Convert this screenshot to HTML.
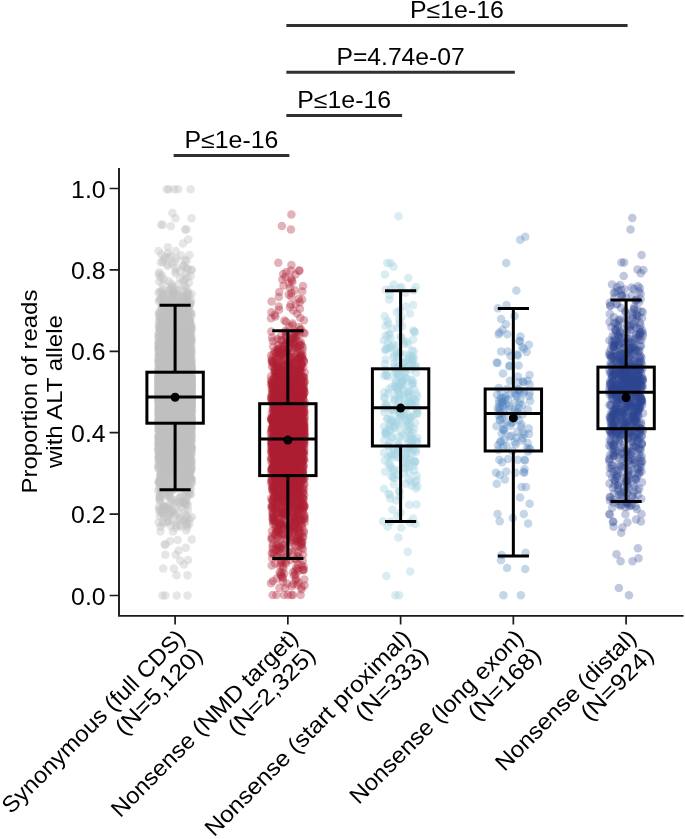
<!DOCTYPE html>
<html><head><meta charset="utf-8"><style>
html,body{margin:0;padding:0;background:#fff;}
svg{display:block;will-change:transform;}
text{font-family:"Liberation Sans",sans-serif;fill:#000;}

</style></head><body>
<svg width="685" height="839" viewBox="0 0 685 839">
<rect width="685" height="839" fill="#fff"/>
<g class="p"><g fill="#c0c0c0" fill-opacity="0.40"><circle cx="179.4" cy="475.0" r="4.25"/><circle cx="185.7" cy="407.3" r="4.25"/><circle cx="176.6" cy="413.2" r="4.25"/><circle cx="183.5" cy="366.2" r="4.25"/><circle cx="177.0" cy="417.3" r="4.25"/><circle cx="179.9" cy="387.0" r="4.25"/><circle cx="182.5" cy="392.0" r="4.25"/><circle cx="162.9" cy="464.4" r="4.25"/><circle cx="166.2" cy="402.2" r="4.25"/><circle cx="168.3" cy="391.9" r="4.25"/><circle cx="171.4" cy="351.5" r="4.25"/><circle cx="167.7" cy="408.0" r="4.25"/><circle cx="181.7" cy="386.7" r="4.25"/><circle cx="182.5" cy="420.9" r="4.25"/><circle cx="183.7" cy="391.6" r="4.25"/><circle cx="159.9" cy="366.6" r="4.25"/><circle cx="166.5" cy="478.0" r="4.25"/><circle cx="170.0" cy="411.6" r="4.25"/><circle cx="182.9" cy="375.7" r="4.25"/><circle cx="169.1" cy="385.0" r="4.25"/><circle cx="181.0" cy="385.8" r="4.25"/><circle cx="162.5" cy="456.6" r="4.25"/><circle cx="191.3" cy="383.6" r="4.25"/><circle cx="172.3" cy="371.3" r="4.25"/><circle cx="160.5" cy="379.3" r="4.25"/><circle cx="164.0" cy="395.1" r="4.25"/><circle cx="182.4" cy="353.8" r="4.25"/><circle cx="177.1" cy="419.2" r="4.25"/><circle cx="189.1" cy="345.1" r="4.25"/><circle cx="185.5" cy="394.4" r="4.25"/><circle cx="159.0" cy="362.5" r="4.25"/><circle cx="188.9" cy="430.7" r="4.25"/><circle cx="168.6" cy="394.4" r="4.25"/><circle cx="167.8" cy="336.4" r="4.25"/><circle cx="179.3" cy="451.4" r="4.25"/><circle cx="190.6" cy="406.9" r="4.25"/><circle cx="176.3" cy="357.7" r="4.25"/><circle cx="184.4" cy="383.8" r="4.25"/><circle cx="175.4" cy="424.5" r="4.25"/><circle cx="190.2" cy="404.2" r="4.25"/><circle cx="186.0" cy="464.6" r="4.25"/><circle cx="163.3" cy="335.7" r="4.25"/><circle cx="171.4" cy="422.4" r="4.25"/><circle cx="186.9" cy="383.8" r="4.25"/><circle cx="191.3" cy="393.7" r="4.25"/><circle cx="190.3" cy="362.6" r="4.25"/><circle cx="186.1" cy="404.2" r="4.25"/><circle cx="177.7" cy="465.1" r="4.25"/><circle cx="178.3" cy="396.6" r="4.25"/><circle cx="165.7" cy="398.2" r="4.25"/><circle cx="170.0" cy="439.3" r="4.25"/><circle cx="171.8" cy="368.6" r="4.25"/><circle cx="164.4" cy="393.8" r="4.25"/><circle cx="172.0" cy="384.6" r="4.25"/><circle cx="174.6" cy="436.9" r="4.25"/><circle cx="163.7" cy="372.9" r="4.25"/><circle cx="168.7" cy="427.8" r="4.25"/><circle cx="171.3" cy="339.2" r="4.25"/><circle cx="162.6" cy="425.4" r="4.25"/><circle cx="171.8" cy="380.6" r="4.25"/><circle cx="184.2" cy="432.3" r="4.25"/><circle cx="166.6" cy="439.7" r="4.25"/><circle cx="174.1" cy="421.9" r="4.25"/><circle cx="188.2" cy="239.6" r="4.25"/><circle cx="187.6" cy="358.9" r="4.25"/><circle cx="172.4" cy="263.5" r="4.25"/><circle cx="161.3" cy="320.9" r="4.25"/><circle cx="180.3" cy="374.0" r="4.25"/><circle cx="170.0" cy="388.7" r="4.25"/><circle cx="176.9" cy="389.1" r="4.25"/><circle cx="178.0" cy="340.4" r="4.25"/><circle cx="190.4" cy="405.1" r="4.25"/><circle cx="168.4" cy="328.8" r="4.25"/><circle cx="170.2" cy="387.8" r="4.25"/><circle cx="187.8" cy="457.2" r="4.25"/><circle cx="180.3" cy="431.3" r="4.25"/><circle cx="159.3" cy="418.8" r="4.25"/><circle cx="184.8" cy="397.0" r="4.25"/><circle cx="168.6" cy="439.4" r="4.25"/><circle cx="183.7" cy="445.8" r="4.25"/><circle cx="161.2" cy="408.8" r="4.25"/><circle cx="163.0" cy="403.2" r="4.25"/><circle cx="180.2" cy="414.6" r="4.25"/><circle cx="168.8" cy="391.9" r="4.25"/><circle cx="177.2" cy="408.0" r="4.25"/><circle cx="182.2" cy="374.5" r="4.25"/><circle cx="191.1" cy="446.4" r="4.25"/><circle cx="191.5" cy="381.8" r="4.25"/><circle cx="171.4" cy="311.8" r="4.25"/><circle cx="181.0" cy="420.7" r="4.25"/><circle cx="177.1" cy="412.7" r="4.25"/><circle cx="184.9" cy="459.7" r="4.25"/><circle cx="173.3" cy="430.5" r="4.25"/><circle cx="171.4" cy="355.3" r="4.25"/><circle cx="162.7" cy="385.3" r="4.25"/><circle cx="176.4" cy="465.8" r="4.25"/><circle cx="185.7" cy="409.0" r="4.25"/><circle cx="160.0" cy="386.9" r="4.25"/><circle cx="178.8" cy="439.1" r="4.25"/><circle cx="170.6" cy="420.7" r="4.25"/><circle cx="190.1" cy="351.8" r="4.25"/><circle cx="181.6" cy="410.1" r="4.25"/><circle cx="175.6" cy="429.7" r="4.25"/><circle cx="187.7" cy="398.6" r="4.25"/><circle cx="182.6" cy="436.3" r="4.25"/><circle cx="170.7" cy="309.6" r="4.25"/><circle cx="161.9" cy="309.4" r="4.25"/><circle cx="186.4" cy="386.4" r="4.25"/><circle cx="171.2" cy="442.4" r="4.25"/><circle cx="182.9" cy="341.0" r="4.25"/><circle cx="171.3" cy="436.0" r="4.25"/><circle cx="169.7" cy="370.7" r="4.25"/><circle cx="172.6" cy="416.9" r="4.25"/><circle cx="186.5" cy="422.2" r="4.25"/><circle cx="170.2" cy="513.2" r="4.25"/><circle cx="163.2" cy="455.9" r="4.25"/><circle cx="171.6" cy="401.6" r="4.25"/><circle cx="178.0" cy="357.2" r="4.25"/><circle cx="161.1" cy="377.3" r="4.25"/><circle cx="189.3" cy="426.1" r="4.25"/><circle cx="162.3" cy="424.6" r="4.25"/><circle cx="165.9" cy="387.1" r="4.25"/><circle cx="169.1" cy="396.9" r="4.25"/><circle cx="186.5" cy="432.4" r="4.25"/><circle cx="159.2" cy="415.2" r="4.25"/><circle cx="162.5" cy="382.5" r="4.25"/><circle cx="188.6" cy="399.3" r="4.25"/><circle cx="161.4" cy="428.2" r="4.25"/><circle cx="168.9" cy="378.4" r="4.25"/><circle cx="171.5" cy="379.1" r="4.25"/><circle cx="186.9" cy="403.8" r="4.25"/><circle cx="175.3" cy="435.4" r="4.25"/><circle cx="175.1" cy="365.0" r="4.25"/><circle cx="163.9" cy="393.9" r="4.25"/><circle cx="179.3" cy="424.1" r="4.25"/><circle cx="158.9" cy="392.9" r="4.25"/><circle cx="174.9" cy="372.2" r="4.25"/><circle cx="189.6" cy="364.9" r="4.25"/><circle cx="188.3" cy="366.4" r="4.25"/><circle cx="165.9" cy="335.6" r="4.25"/><circle cx="159.8" cy="485.3" r="4.25"/><circle cx="184.8" cy="460.4" r="4.25"/><circle cx="181.2" cy="401.5" r="4.25"/><circle cx="170.9" cy="417.8" r="4.25"/><circle cx="165.2" cy="396.1" r="4.25"/><circle cx="175.4" cy="408.4" r="4.25"/><circle cx="185.1" cy="395.0" r="4.25"/><circle cx="188.4" cy="417.9" r="4.25"/><circle cx="173.2" cy="372.5" r="4.25"/><circle cx="166.7" cy="291.1" r="4.25"/><circle cx="162.0" cy="306.7" r="4.25"/><circle cx="186.8" cy="384.9" r="4.25"/><circle cx="169.6" cy="436.1" r="4.25"/><circle cx="163.6" cy="390.9" r="4.25"/><circle cx="173.0" cy="416.1" r="4.25"/><circle cx="184.5" cy="413.3" r="4.25"/><circle cx="177.0" cy="418.8" r="4.25"/><circle cx="160.1" cy="386.7" r="4.25"/><circle cx="190.4" cy="463.4" r="4.25"/><circle cx="164.3" cy="312.1" r="4.25"/><circle cx="191.8" cy="388.0" r="4.25"/><circle cx="167.5" cy="465.4" r="4.25"/><circle cx="180.2" cy="359.9" r="4.25"/><circle cx="158.8" cy="345.8" r="4.25"/><circle cx="172.0" cy="415.7" r="4.25"/><circle cx="165.0" cy="479.4" r="4.25"/><circle cx="158.6" cy="337.6" r="4.25"/><circle cx="165.1" cy="257.3" r="4.25"/><circle cx="168.0" cy="419.1" r="4.25"/><circle cx="161.5" cy="463.3" r="4.25"/><circle cx="170.6" cy="457.7" r="4.25"/><circle cx="167.9" cy="421.8" r="4.25"/><circle cx="190.6" cy="478.0" r="4.25"/><circle cx="190.6" cy="447.9" r="4.25"/><circle cx="173.6" cy="377.6" r="4.25"/><circle cx="183.2" cy="392.4" r="4.25"/><circle cx="174.4" cy="378.9" r="4.25"/><circle cx="166.7" cy="383.7" r="4.25"/><circle cx="172.9" cy="388.5" r="4.25"/><circle cx="170.0" cy="332.0" r="4.25"/><circle cx="167.9" cy="402.6" r="4.25"/><circle cx="167.1" cy="387.4" r="4.25"/><circle cx="162.2" cy="317.9" r="4.25"/><circle cx="165.9" cy="465.9" r="4.25"/><circle cx="173.6" cy="365.9" r="4.25"/><circle cx="170.2" cy="429.5" r="4.25"/><circle cx="162.0" cy="321.1" r="4.25"/><circle cx="181.9" cy="395.8" r="4.25"/><circle cx="169.6" cy="382.4" r="4.25"/><circle cx="176.4" cy="368.4" r="4.25"/><circle cx="177.0" cy="359.5" r="4.25"/><circle cx="190.1" cy="376.2" r="4.25"/><circle cx="169.8" cy="426.5" r="4.25"/><circle cx="158.6" cy="369.5" r="4.25"/><circle cx="173.6" cy="352.3" r="4.25"/><circle cx="161.6" cy="367.4" r="4.25"/><circle cx="171.6" cy="355.9" r="4.25"/><circle cx="171.8" cy="388.8" r="4.25"/><circle cx="162.3" cy="392.3" r="4.25"/><circle cx="162.7" cy="317.5" r="4.25"/><circle cx="180.8" cy="466.4" r="4.25"/><circle cx="158.5" cy="394.7" r="4.25"/><circle cx="188.9" cy="360.5" r="4.25"/><circle cx="189.1" cy="357.8" r="4.25"/><circle cx="180.5" cy="368.6" r="4.25"/><circle cx="180.1" cy="406.9" r="4.25"/><circle cx="171.5" cy="423.2" r="4.25"/><circle cx="162.9" cy="378.8" r="4.25"/><circle cx="177.3" cy="403.4" r="4.25"/><circle cx="172.6" cy="351.3" r="4.25"/><circle cx="167.3" cy="369.4" r="4.25"/><circle cx="161.1" cy="367.5" r="4.25"/><circle cx="160.7" cy="477.2" r="4.25"/><circle cx="186.4" cy="424.7" r="4.25"/><circle cx="181.6" cy="419.5" r="4.25"/><circle cx="161.3" cy="391.2" r="4.25"/><circle cx="181.9" cy="365.2" r="4.25"/><circle cx="184.1" cy="441.4" r="4.25"/><circle cx="187.6" cy="378.0" r="4.25"/><circle cx="178.7" cy="350.5" r="4.25"/><circle cx="171.4" cy="413.7" r="4.25"/><circle cx="160.7" cy="526.7" r="4.25"/><circle cx="189.0" cy="317.0" r="4.25"/><circle cx="165.0" cy="401.8" r="4.25"/><circle cx="185.4" cy="394.1" r="4.25"/><circle cx="182.6" cy="443.3" r="4.25"/><circle cx="188.8" cy="493.9" r="4.25"/><circle cx="163.0" cy="341.0" r="4.25"/><circle cx="174.0" cy="467.3" r="4.25"/><circle cx="159.9" cy="401.2" r="4.25"/><circle cx="170.5" cy="347.0" r="4.25"/><circle cx="181.7" cy="408.7" r="4.25"/><circle cx="191.5" cy="401.1" r="4.25"/><circle cx="181.5" cy="481.9" r="4.25"/><circle cx="180.2" cy="414.8" r="4.25"/><circle cx="178.2" cy="453.8" r="4.25"/><circle cx="189.8" cy="380.5" r="4.25"/><circle cx="176.9" cy="428.8" r="4.25"/><circle cx="185.0" cy="386.0" r="4.25"/><circle cx="174.8" cy="372.6" r="4.25"/><circle cx="177.4" cy="363.9" r="4.25"/><circle cx="183.5" cy="329.1" r="4.25"/><circle cx="168.9" cy="458.1" r="4.25"/><circle cx="166.3" cy="450.5" r="4.25"/><circle cx="177.4" cy="365.9" r="4.25"/><circle cx="163.1" cy="403.6" r="4.25"/><circle cx="164.6" cy="460.9" r="4.25"/><circle cx="175.9" cy="403.8" r="4.25"/><circle cx="162.8" cy="395.2" r="4.25"/><circle cx="164.3" cy="426.1" r="4.25"/><circle cx="180.0" cy="381.6" r="4.25"/><circle cx="160.5" cy="405.1" r="4.25"/><circle cx="184.1" cy="399.2" r="4.25"/><circle cx="183.9" cy="564.4" r="4.25"/><circle cx="166.5" cy="355.8" r="4.25"/><circle cx="182.2" cy="437.7" r="4.25"/><circle cx="186.1" cy="393.7" r="4.25"/><circle cx="182.6" cy="348.8" r="4.25"/><circle cx="174.9" cy="415.9" r="4.25"/><circle cx="182.1" cy="488.0" r="4.25"/><circle cx="164.7" cy="415.3" r="4.25"/><circle cx="164.2" cy="423.5" r="4.25"/><circle cx="184.6" cy="367.2" r="4.25"/><circle cx="159.9" cy="384.7" r="4.25"/><circle cx="178.7" cy="373.5" r="4.25"/><circle cx="163.3" cy="350.0" r="4.25"/><circle cx="185.4" cy="462.0" r="4.25"/><circle cx="190.2" cy="416.7" r="4.25"/><circle cx="159.8" cy="383.3" r="4.25"/><circle cx="188.9" cy="450.7" r="4.25"/><circle cx="169.3" cy="495.2" r="4.25"/><circle cx="189.6" cy="375.0" r="4.25"/><circle cx="186.3" cy="446.9" r="4.25"/><circle cx="180.5" cy="389.0" r="4.25"/><circle cx="173.8" cy="372.6" r="4.25"/><circle cx="159.4" cy="395.0" r="4.25"/><circle cx="184.0" cy="342.8" r="4.25"/><circle cx="170.8" cy="376.1" r="4.25"/><circle cx="165.2" cy="487.1" r="4.25"/><circle cx="170.6" cy="256.1" r="4.25"/><circle cx="189.3" cy="445.4" r="4.25"/><circle cx="164.2" cy="387.2" r="4.25"/><circle cx="160.4" cy="465.2" r="4.25"/><circle cx="168.5" cy="395.7" r="4.25"/><circle cx="164.9" cy="401.5" r="4.25"/><circle cx="187.8" cy="414.0" r="4.25"/><circle cx="176.1" cy="395.4" r="4.25"/><circle cx="169.5" cy="461.5" r="4.25"/><circle cx="183.5" cy="412.7" r="4.25"/><circle cx="180.8" cy="415.4" r="4.25"/><circle cx="175.2" cy="450.2" r="4.25"/><circle cx="190.4" cy="372.0" r="4.25"/><circle cx="169.3" cy="407.3" r="4.25"/><circle cx="187.5" cy="370.4" r="4.25"/><circle cx="177.8" cy="423.7" r="4.25"/><circle cx="189.5" cy="384.1" r="4.25"/><circle cx="190.9" cy="335.7" r="4.25"/><circle cx="167.4" cy="266.0" r="4.25"/><circle cx="161.3" cy="391.1" r="4.25"/><circle cx="185.1" cy="386.5" r="4.25"/><circle cx="180.1" cy="442.6" r="4.25"/><circle cx="184.3" cy="383.2" r="4.25"/><circle cx="190.4" cy="422.1" r="4.25"/><circle cx="182.3" cy="393.8" r="4.25"/><circle cx="189.8" cy="432.9" r="4.25"/><circle cx="167.4" cy="396.8" r="4.25"/><circle cx="168.7" cy="388.7" r="4.25"/><circle cx="159.8" cy="407.4" r="4.25"/><circle cx="162.4" cy="289.6" r="4.25"/><circle cx="173.0" cy="391.6" r="4.25"/><circle cx="158.5" cy="415.8" r="4.25"/><circle cx="180.9" cy="463.9" r="4.25"/><circle cx="164.1" cy="373.7" r="4.25"/><circle cx="191.2" cy="388.9" r="4.25"/><circle cx="168.6" cy="478.2" r="4.25"/><circle cx="190.4" cy="480.0" r="4.25"/><circle cx="164.8" cy="399.8" r="4.25"/><circle cx="182.9" cy="418.7" r="4.25"/><circle cx="189.7" cy="413.1" r="4.25"/><circle cx="160.2" cy="395.7" r="4.25"/><circle cx="188.2" cy="399.6" r="4.25"/><circle cx="182.4" cy="344.2" r="4.25"/><circle cx="191.0" cy="414.9" r="4.25"/><circle cx="178.0" cy="415.4" r="4.25"/><circle cx="184.0" cy="438.5" r="4.25"/><circle cx="163.9" cy="418.1" r="4.25"/><circle cx="185.1" cy="415.8" r="4.25"/><circle cx="183.5" cy="265.2" r="4.25"/><circle cx="189.7" cy="420.5" r="4.25"/><circle cx="188.6" cy="377.6" r="4.25"/><circle cx="173.6" cy="394.1" r="4.25"/><circle cx="168.1" cy="443.8" r="4.25"/><circle cx="190.1" cy="409.5" r="4.25"/><circle cx="172.5" cy="293.3" r="4.25"/><circle cx="189.2" cy="386.1" r="4.25"/><circle cx="168.3" cy="357.9" r="4.25"/><circle cx="163.9" cy="310.8" r="4.25"/><circle cx="172.4" cy="387.5" r="4.25"/><circle cx="167.1" cy="363.3" r="4.25"/><circle cx="174.3" cy="312.8" r="4.25"/><circle cx="162.5" cy="448.7" r="4.25"/><circle cx="173.3" cy="406.4" r="4.25"/><circle cx="181.2" cy="415.6" r="4.25"/><circle cx="188.8" cy="451.6" r="4.25"/><circle cx="181.3" cy="334.4" r="4.25"/><circle cx="187.4" cy="388.0" r="4.25"/><circle cx="158.5" cy="426.8" r="4.25"/><circle cx="166.7" cy="348.3" r="4.25"/><circle cx="164.3" cy="408.6" r="4.25"/><circle cx="189.0" cy="399.9" r="4.25"/><circle cx="189.4" cy="404.6" r="4.25"/><circle cx="189.1" cy="350.7" r="4.25"/><circle cx="190.3" cy="304.5" r="4.25"/><circle cx="160.7" cy="483.6" r="4.25"/><circle cx="175.5" cy="309.1" r="4.25"/><circle cx="189.7" cy="382.2" r="4.25"/><circle cx="177.2" cy="413.5" r="4.25"/><circle cx="176.5" cy="379.5" r="4.25"/><circle cx="185.5" cy="408.1" r="4.25"/><circle cx="180.5" cy="342.9" r="4.25"/><circle cx="181.3" cy="360.3" r="4.25"/><circle cx="183.8" cy="386.6" r="4.25"/><circle cx="162.3" cy="423.7" r="4.25"/><circle cx="188.0" cy="414.0" r="4.25"/><circle cx="164.4" cy="458.8" r="4.25"/><circle cx="182.5" cy="418.8" r="4.25"/><circle cx="159.8" cy="396.4" r="4.25"/><circle cx="165.2" cy="401.4" r="4.25"/><circle cx="175.3" cy="448.0" r="4.25"/><circle cx="167.2" cy="340.3" r="4.25"/><circle cx="168.7" cy="384.3" r="4.25"/><circle cx="165.3" cy="424.8" r="4.25"/><circle cx="159.7" cy="411.8" r="4.25"/><circle cx="171.5" cy="423.0" r="4.25"/><circle cx="162.6" cy="384.4" r="4.25"/><circle cx="160.6" cy="374.7" r="4.25"/><circle cx="167.5" cy="407.0" r="4.25"/><circle cx="165.2" cy="408.5" r="4.25"/><circle cx="158.7" cy="383.8" r="4.25"/><circle cx="159.2" cy="421.3" r="4.25"/><circle cx="177.3" cy="313.7" r="4.25"/><circle cx="181.0" cy="367.0" r="4.25"/><circle cx="159.9" cy="402.6" r="4.25"/><circle cx="175.4" cy="400.4" r="4.25"/><circle cx="169.0" cy="389.6" r="4.25"/><circle cx="177.5" cy="405.7" r="4.25"/><circle cx="191.3" cy="399.7" r="4.25"/><circle cx="168.1" cy="517.5" r="4.25"/><circle cx="181.6" cy="365.2" r="4.25"/><circle cx="175.9" cy="392.7" r="4.25"/><circle cx="190.2" cy="358.8" r="4.25"/><circle cx="164.5" cy="405.4" r="4.25"/><circle cx="182.1" cy="397.8" r="4.25"/><circle cx="187.5" cy="347.6" r="4.25"/><circle cx="186.9" cy="432.0" r="4.25"/><circle cx="175.5" cy="396.5" r="4.25"/><circle cx="165.5" cy="402.8" r="4.25"/><circle cx="167.8" cy="443.6" r="4.25"/><circle cx="164.5" cy="438.7" r="4.25"/><circle cx="159.1" cy="344.0" r="4.25"/><circle cx="162.8" cy="423.1" r="4.25"/><circle cx="187.1" cy="324.8" r="4.25"/><circle cx="181.1" cy="409.1" r="4.25"/><circle cx="167.2" cy="396.6" r="4.25"/><circle cx="173.8" cy="331.7" r="4.25"/><circle cx="168.7" cy="385.2" r="4.25"/><circle cx="176.3" cy="399.8" r="4.25"/><circle cx="177.3" cy="357.0" r="4.25"/><circle cx="164.5" cy="360.3" r="4.25"/><circle cx="189.5" cy="301.8" r="4.25"/><circle cx="172.6" cy="381.2" r="4.25"/><circle cx="178.2" cy="499.3" r="4.25"/><circle cx="174.9" cy="389.9" r="4.25"/><circle cx="158.6" cy="251.1" r="4.25"/><circle cx="172.0" cy="510.0" r="4.25"/><circle cx="177.8" cy="331.7" r="4.25"/><circle cx="163.5" cy="383.2" r="4.25"/><circle cx="163.8" cy="403.8" r="4.25"/><circle cx="188.5" cy="486.1" r="4.25"/><circle cx="188.8" cy="415.0" r="4.25"/><circle cx="170.1" cy="354.8" r="4.25"/><circle cx="173.0" cy="417.5" r="4.25"/><circle cx="159.4" cy="500.1" r="4.25"/><circle cx="182.1" cy="413.7" r="4.25"/><circle cx="162.6" cy="435.3" r="4.25"/><circle cx="163.8" cy="371.3" r="4.25"/><circle cx="185.1" cy="354.3" r="4.25"/><circle cx="177.9" cy="389.8" r="4.25"/><circle cx="187.5" cy="595.4" r="4.25"/><circle cx="160.4" cy="500.8" r="4.25"/><circle cx="185.8" cy="383.9" r="4.25"/><circle cx="178.8" cy="395.5" r="4.25"/><circle cx="162.3" cy="387.7" r="4.25"/><circle cx="178.9" cy="390.9" r="4.25"/><circle cx="190.8" cy="381.6" r="4.25"/><circle cx="189.4" cy="523.9" r="4.25"/><circle cx="164.7" cy="380.9" r="4.25"/><circle cx="179.6" cy="480.7" r="4.25"/><circle cx="162.0" cy="375.3" r="4.25"/><circle cx="179.6" cy="428.1" r="4.25"/><circle cx="191.3" cy="390.4" r="4.25"/><circle cx="177.7" cy="367.1" r="4.25"/><circle cx="188.2" cy="344.0" r="4.25"/><circle cx="171.8" cy="362.0" r="4.25"/><circle cx="159.2" cy="396.6" r="4.25"/><circle cx="177.5" cy="457.4" r="4.25"/><circle cx="160.0" cy="351.0" r="4.25"/><circle cx="159.8" cy="428.3" r="4.25"/><circle cx="187.0" cy="427.6" r="4.25"/><circle cx="185.8" cy="321.6" r="4.25"/><circle cx="164.4" cy="363.4" r="4.25"/><circle cx="188.8" cy="387.1" r="4.25"/><circle cx="176.1" cy="417.4" r="4.25"/><circle cx="190.5" cy="364.9" r="4.25"/><circle cx="172.9" cy="429.1" r="4.25"/><circle cx="182.9" cy="456.4" r="4.25"/><circle cx="185.3" cy="413.6" r="4.25"/><circle cx="177.9" cy="379.4" r="4.25"/><circle cx="158.7" cy="421.9" r="4.25"/><circle cx="160.8" cy="389.0" r="4.25"/><circle cx="161.9" cy="383.6" r="4.25"/><circle cx="177.6" cy="400.5" r="4.25"/><circle cx="177.7" cy="308.5" r="4.25"/><circle cx="172.8" cy="409.8" r="4.25"/><circle cx="168.0" cy="347.8" r="4.25"/><circle cx="170.0" cy="409.5" r="4.25"/><circle cx="163.7" cy="386.8" r="4.25"/><circle cx="158.3" cy="393.3" r="4.25"/><circle cx="170.3" cy="478.9" r="4.25"/><circle cx="182.9" cy="472.8" r="4.25"/><circle cx="159.7" cy="373.7" r="4.25"/><circle cx="189.1" cy="316.9" r="4.25"/><circle cx="190.0" cy="382.4" r="4.25"/><circle cx="161.1" cy="402.7" r="4.25"/><circle cx="165.8" cy="374.6" r="4.25"/><circle cx="186.7" cy="408.9" r="4.25"/><circle cx="179.8" cy="370.1" r="4.25"/><circle cx="171.9" cy="364.6" r="4.25"/><circle cx="166.8" cy="189.3" r="4.25"/><circle cx="170.4" cy="395.0" r="4.25"/><circle cx="185.7" cy="387.7" r="4.25"/><circle cx="180.4" cy="431.7" r="4.25"/><circle cx="190.2" cy="417.3" r="4.25"/><circle cx="173.9" cy="486.4" r="4.25"/><circle cx="184.0" cy="389.4" r="4.25"/><circle cx="174.3" cy="393.0" r="4.25"/><circle cx="163.8" cy="523.6" r="4.25"/><circle cx="175.5" cy="421.3" r="4.25"/><circle cx="174.6" cy="393.5" r="4.25"/><circle cx="169.6" cy="492.8" r="4.25"/><circle cx="165.9" cy="453.0" r="4.25"/><circle cx="168.4" cy="361.6" r="4.25"/><circle cx="187.5" cy="459.0" r="4.25"/><circle cx="160.9" cy="381.9" r="4.25"/><circle cx="174.2" cy="383.3" r="4.25"/><circle cx="175.2" cy="384.4" r="4.25"/><circle cx="176.0" cy="364.8" r="4.25"/><circle cx="183.7" cy="422.8" r="4.25"/><circle cx="183.6" cy="443.7" r="4.25"/><circle cx="166.7" cy="433.0" r="4.25"/><circle cx="188.8" cy="433.6" r="4.25"/><circle cx="160.8" cy="419.7" r="4.25"/><circle cx="186.5" cy="423.9" r="4.25"/><circle cx="162.5" cy="400.6" r="4.25"/><circle cx="161.1" cy="491.7" r="4.25"/><circle cx="162.2" cy="454.3" r="4.25"/><circle cx="164.9" cy="377.7" r="4.25"/><circle cx="185.2" cy="420.2" r="4.25"/><circle cx="178.4" cy="391.7" r="4.25"/><circle cx="165.3" cy="416.0" r="4.25"/><circle cx="183.6" cy="411.5" r="4.25"/><circle cx="177.3" cy="417.6" r="4.25"/><circle cx="165.2" cy="358.2" r="4.25"/><circle cx="188.8" cy="390.0" r="4.25"/><circle cx="163.6" cy="445.8" r="4.25"/><circle cx="189.1" cy="426.0" r="4.25"/><circle cx="178.3" cy="364.5" r="4.25"/><circle cx="173.3" cy="331.0" r="4.25"/><circle cx="168.2" cy="414.8" r="4.25"/><circle cx="167.3" cy="472.3" r="4.25"/><circle cx="182.1" cy="409.6" r="4.25"/><circle cx="180.0" cy="352.1" r="4.25"/><circle cx="165.5" cy="402.2" r="4.25"/><circle cx="174.9" cy="377.2" r="4.25"/><circle cx="180.9" cy="385.3" r="4.25"/><circle cx="178.8" cy="441.0" r="4.25"/><circle cx="159.1" cy="455.8" r="4.25"/><circle cx="175.5" cy="440.6" r="4.25"/><circle cx="179.0" cy="435.8" r="4.25"/><circle cx="174.3" cy="343.6" r="4.25"/><circle cx="173.3" cy="381.7" r="4.25"/><circle cx="163.2" cy="369.0" r="4.25"/><circle cx="176.3" cy="525.3" r="4.25"/><circle cx="176.1" cy="398.3" r="4.25"/><circle cx="189.1" cy="335.3" r="4.25"/><circle cx="168.9" cy="399.1" r="4.25"/><circle cx="162.9" cy="382.0" r="4.25"/><circle cx="168.2" cy="430.9" r="4.25"/><circle cx="178.3" cy="422.7" r="4.25"/><circle cx="179.0" cy="422.2" r="4.25"/><circle cx="171.0" cy="427.5" r="4.25"/><circle cx="186.4" cy="385.9" r="4.25"/><circle cx="188.8" cy="374.9" r="4.25"/><circle cx="176.5" cy="382.1" r="4.25"/><circle cx="161.4" cy="428.0" r="4.25"/><circle cx="177.0" cy="460.7" r="4.25"/><circle cx="176.6" cy="415.3" r="4.25"/><circle cx="171.1" cy="386.0" r="4.25"/><circle cx="165.8" cy="433.9" r="4.25"/><circle cx="177.4" cy="380.3" r="4.25"/><circle cx="187.8" cy="403.1" r="4.25"/><circle cx="181.6" cy="315.5" r="4.25"/><circle cx="191.0" cy="412.9" r="4.25"/><circle cx="167.6" cy="454.7" r="4.25"/><circle cx="162.2" cy="473.9" r="4.25"/><circle cx="161.9" cy="439.6" r="4.25"/><circle cx="162.9" cy="374.7" r="4.25"/><circle cx="185.0" cy="459.9" r="4.25"/><circle cx="158.8" cy="381.2" r="4.25"/><circle cx="172.4" cy="382.7" r="4.25"/><circle cx="165.4" cy="452.2" r="4.25"/><circle cx="161.8" cy="363.5" r="4.25"/><circle cx="159.6" cy="394.9" r="4.25"/><circle cx="178.0" cy="373.3" r="4.25"/><circle cx="170.2" cy="376.1" r="4.25"/><circle cx="170.7" cy="398.5" r="4.25"/><circle cx="185.9" cy="484.6" r="4.25"/><circle cx="165.8" cy="413.4" r="4.25"/><circle cx="189.4" cy="415.3" r="4.25"/><circle cx="162.2" cy="440.1" r="4.25"/><circle cx="186.1" cy="377.9" r="4.25"/><circle cx="189.5" cy="432.8" r="4.25"/><circle cx="182.4" cy="350.9" r="4.25"/><circle cx="177.5" cy="364.0" r="4.25"/><circle cx="185.0" cy="387.9" r="4.25"/><circle cx="188.1" cy="332.4" r="4.25"/><circle cx="187.1" cy="334.8" r="4.25"/><circle cx="171.8" cy="464.9" r="4.25"/><circle cx="183.6" cy="395.7" r="4.25"/><circle cx="183.0" cy="381.5" r="4.25"/><circle cx="167.9" cy="416.9" r="4.25"/><circle cx="190.2" cy="385.4" r="4.25"/><circle cx="159.3" cy="364.6" r="4.25"/><circle cx="158.6" cy="378.9" r="4.25"/><circle cx="179.4" cy="385.7" r="4.25"/><circle cx="171.3" cy="430.8" r="4.25"/><circle cx="173.0" cy="380.1" r="4.25"/><circle cx="181.6" cy="316.2" r="4.25"/><circle cx="168.0" cy="382.1" r="4.25"/><circle cx="188.1" cy="411.0" r="4.25"/><circle cx="172.8" cy="414.8" r="4.25"/><circle cx="166.9" cy="414.1" r="4.25"/><circle cx="181.8" cy="426.9" r="4.25"/><circle cx="179.6" cy="413.8" r="4.25"/><circle cx="190.3" cy="387.3" r="4.25"/><circle cx="171.3" cy="410.0" r="4.25"/><circle cx="172.5" cy="353.4" r="4.25"/><circle cx="191.1" cy="411.3" r="4.25"/><circle cx="180.1" cy="474.1" r="4.25"/><circle cx="184.1" cy="363.9" r="4.25"/><circle cx="179.2" cy="364.6" r="4.25"/><circle cx="161.7" cy="429.0" r="4.25"/><circle cx="186.8" cy="469.1" r="4.25"/><circle cx="183.7" cy="481.0" r="4.25"/><circle cx="175.5" cy="361.9" r="4.25"/><circle cx="166.7" cy="365.0" r="4.25"/><circle cx="181.0" cy="390.4" r="4.25"/><circle cx="186.4" cy="347.9" r="4.25"/><circle cx="173.0" cy="389.6" r="4.25"/><circle cx="180.5" cy="443.0" r="4.25"/><circle cx="161.8" cy="405.2" r="4.25"/><circle cx="185.7" cy="334.5" r="4.25"/><circle cx="189.4" cy="358.9" r="4.25"/><circle cx="180.6" cy="455.6" r="4.25"/><circle cx="178.9" cy="396.2" r="4.25"/><circle cx="170.8" cy="450.3" r="4.25"/><circle cx="176.0" cy="415.2" r="4.25"/><circle cx="172.2" cy="412.1" r="4.25"/><circle cx="173.8" cy="439.8" r="4.25"/><circle cx="191.5" cy="384.8" r="4.25"/><circle cx="190.1" cy="320.0" r="4.25"/><circle cx="180.6" cy="420.2" r="4.25"/><circle cx="184.2" cy="356.2" r="4.25"/><circle cx="174.4" cy="389.2" r="4.25"/><circle cx="185.6" cy="464.1" r="4.25"/><circle cx="177.3" cy="362.4" r="4.25"/><circle cx="185.8" cy="404.0" r="4.25"/><circle cx="191.6" cy="371.3" r="4.25"/><circle cx="191.5" cy="386.7" r="4.25"/><circle cx="170.7" cy="352.4" r="4.25"/><circle cx="175.9" cy="268.2" r="4.25"/><circle cx="179.3" cy="308.9" r="4.25"/><circle cx="159.3" cy="408.0" r="4.25"/><circle cx="164.0" cy="389.7" r="4.25"/><circle cx="167.3" cy="347.3" r="4.25"/><circle cx="173.6" cy="451.0" r="4.25"/><circle cx="161.4" cy="475.3" r="4.25"/><circle cx="169.1" cy="406.5" r="4.25"/><circle cx="174.0" cy="377.9" r="4.25"/><circle cx="172.2" cy="384.3" r="4.25"/><circle cx="182.9" cy="435.1" r="4.25"/><circle cx="175.2" cy="390.6" r="4.25"/><circle cx="167.1" cy="334.3" r="4.25"/><circle cx="167.9" cy="430.2" r="4.25"/><circle cx="182.6" cy="426.6" r="4.25"/><circle cx="170.3" cy="393.6" r="4.25"/><circle cx="163.8" cy="383.0" r="4.25"/><circle cx="190.7" cy="426.5" r="4.25"/><circle cx="175.7" cy="361.9" r="4.25"/><circle cx="172.1" cy="438.5" r="4.25"/><circle cx="161.9" cy="331.2" r="4.25"/><circle cx="175.1" cy="366.9" r="4.25"/><circle cx="166.6" cy="450.6" r="4.25"/><circle cx="162.8" cy="376.3" r="4.25"/><circle cx="176.7" cy="375.7" r="4.25"/><circle cx="160.9" cy="402.0" r="4.25"/><circle cx="169.2" cy="389.9" r="4.25"/><circle cx="189.0" cy="347.5" r="4.25"/><circle cx="183.9" cy="471.7" r="4.25"/><circle cx="158.8" cy="429.6" r="4.25"/><circle cx="163.6" cy="380.3" r="4.25"/><circle cx="165.6" cy="319.8" r="4.25"/><circle cx="177.1" cy="375.1" r="4.25"/><circle cx="163.4" cy="461.7" r="4.25"/><circle cx="188.8" cy="384.9" r="4.25"/><circle cx="171.0" cy="401.4" r="4.25"/><circle cx="178.1" cy="451.2" r="4.25"/><circle cx="158.7" cy="369.0" r="4.25"/><circle cx="165.5" cy="360.4" r="4.25"/><circle cx="165.2" cy="434.2" r="4.25"/><circle cx="165.1" cy="444.0" r="4.25"/><circle cx="176.5" cy="354.9" r="4.25"/><circle cx="181.4" cy="341.7" r="4.25"/><circle cx="188.0" cy="363.8" r="4.25"/><circle cx="178.8" cy="434.4" r="4.25"/><circle cx="168.7" cy="411.2" r="4.25"/><circle cx="163.5" cy="358.3" r="4.25"/><circle cx="186.8" cy="472.6" r="4.25"/><circle cx="179.1" cy="423.3" r="4.25"/><circle cx="190.8" cy="469.6" r="4.25"/><circle cx="189.2" cy="449.4" r="4.25"/><circle cx="178.7" cy="373.4" r="4.25"/><circle cx="168.6" cy="459.0" r="4.25"/><circle cx="185.6" cy="426.7" r="4.25"/><circle cx="159.4" cy="406.1" r="4.25"/><circle cx="186.2" cy="415.0" r="4.25"/><circle cx="177.8" cy="352.2" r="4.25"/><circle cx="165.2" cy="437.6" r="4.25"/><circle cx="169.7" cy="456.2" r="4.25"/><circle cx="168.1" cy="369.7" r="4.25"/><circle cx="184.1" cy="447.1" r="4.25"/><circle cx="180.0" cy="456.5" r="4.25"/><circle cx="175.6" cy="390.3" r="4.25"/><circle cx="182.4" cy="414.2" r="4.25"/><circle cx="178.3" cy="384.6" r="4.25"/><circle cx="161.3" cy="382.6" r="4.25"/><circle cx="176.1" cy="407.9" r="4.25"/><circle cx="163.6" cy="511.9" r="4.25"/><circle cx="178.2" cy="377.3" r="4.25"/><circle cx="172.1" cy="453.1" r="4.25"/><circle cx="183.9" cy="414.0" r="4.25"/><circle cx="187.0" cy="388.6" r="4.25"/><circle cx="171.4" cy="379.0" r="4.25"/><circle cx="161.2" cy="367.7" r="4.25"/><circle cx="170.5" cy="357.5" r="4.25"/><circle cx="168.7" cy="438.3" r="4.25"/><circle cx="184.2" cy="402.7" r="4.25"/><circle cx="181.8" cy="399.2" r="4.25"/><circle cx="173.7" cy="420.1" r="4.25"/><circle cx="180.8" cy="417.6" r="4.25"/><circle cx="185.3" cy="468.7" r="4.25"/><circle cx="162.0" cy="349.3" r="4.25"/><circle cx="174.2" cy="446.1" r="4.25"/><circle cx="188.3" cy="368.5" r="4.25"/><circle cx="182.1" cy="400.7" r="4.25"/><circle cx="181.4" cy="425.0" r="4.25"/><circle cx="171.8" cy="395.1" r="4.25"/><circle cx="169.8" cy="378.9" r="4.25"/><circle cx="172.2" cy="357.3" r="4.25"/><circle cx="185.8" cy="364.1" r="4.25"/><circle cx="171.4" cy="388.3" r="4.25"/><circle cx="189.5" cy="412.8" r="4.25"/><circle cx="162.0" cy="407.2" r="4.25"/><circle cx="165.6" cy="419.7" r="4.25"/><circle cx="173.1" cy="429.2" r="4.25"/><circle cx="172.0" cy="423.3" r="4.25"/><circle cx="166.5" cy="470.3" r="4.25"/><circle cx="166.7" cy="340.0" r="4.25"/><circle cx="166.3" cy="397.6" r="4.25"/><circle cx="184.0" cy="407.2" r="4.25"/><circle cx="171.1" cy="299.2" r="4.25"/><circle cx="188.9" cy="381.1" r="4.25"/><circle cx="164.3" cy="391.4" r="4.25"/><circle cx="169.1" cy="369.3" r="4.25"/><circle cx="162.9" cy="412.0" r="4.25"/><circle cx="176.2" cy="414.8" r="4.25"/><circle cx="169.9" cy="410.0" r="4.25"/><circle cx="187.8" cy="363.7" r="4.25"/><circle cx="173.1" cy="415.4" r="4.25"/><circle cx="167.0" cy="394.8" r="4.25"/><circle cx="178.7" cy="384.7" r="4.25"/><circle cx="188.1" cy="374.1" r="4.25"/><circle cx="188.9" cy="355.9" r="4.25"/><circle cx="183.7" cy="372.3" r="4.25"/><circle cx="160.1" cy="385.4" r="4.25"/><circle cx="191.6" cy="401.0" r="4.25"/><circle cx="186.8" cy="323.7" r="4.25"/><circle cx="175.3" cy="419.9" r="4.25"/><circle cx="186.2" cy="446.0" r="4.25"/><circle cx="173.4" cy="435.7" r="4.25"/><circle cx="170.3" cy="394.1" r="4.25"/><circle cx="176.9" cy="372.7" r="4.25"/><circle cx="189.8" cy="458.7" r="4.25"/><circle cx="186.5" cy="441.7" r="4.25"/><circle cx="174.3" cy="392.6" r="4.25"/><circle cx="173.2" cy="448.5" r="4.25"/><circle cx="184.3" cy="435.2" r="4.25"/><circle cx="158.7" cy="313.2" r="4.25"/><circle cx="166.7" cy="425.5" r="4.25"/><circle cx="158.2" cy="423.9" r="4.25"/><circle cx="186.7" cy="372.3" r="4.25"/><circle cx="165.2" cy="422.4" r="4.25"/><circle cx="159.7" cy="461.3" r="4.25"/><circle cx="181.5" cy="441.7" r="4.25"/><circle cx="163.3" cy="324.3" r="4.25"/><circle cx="174.4" cy="337.1" r="4.25"/><circle cx="174.4" cy="449.6" r="4.25"/><circle cx="166.9" cy="436.1" r="4.25"/><circle cx="172.1" cy="349.2" r="4.25"/><circle cx="170.8" cy="384.1" r="4.25"/><circle cx="185.9" cy="298.6" r="4.25"/><circle cx="191.1" cy="364.2" r="4.25"/><circle cx="182.4" cy="425.3" r="4.25"/><circle cx="174.7" cy="447.5" r="4.25"/><circle cx="162.2" cy="363.0" r="4.25"/><circle cx="176.5" cy="418.3" r="4.25"/><circle cx="160.2" cy="363.0" r="4.25"/><circle cx="168.8" cy="390.2" r="4.25"/><circle cx="181.6" cy="397.6" r="4.25"/><circle cx="191.6" cy="410.2" r="4.25"/><circle cx="159.6" cy="497.6" r="4.25"/><circle cx="160.9" cy="418.0" r="4.25"/><circle cx="165.1" cy="322.8" r="4.25"/><circle cx="173.1" cy="372.2" r="4.25"/><circle cx="175.8" cy="362.6" r="4.25"/><circle cx="183.1" cy="410.8" r="4.25"/><circle cx="161.6" cy="406.6" r="4.25"/><circle cx="181.3" cy="398.4" r="4.25"/><circle cx="190.5" cy="438.2" r="4.25"/><circle cx="168.0" cy="390.5" r="4.25"/><circle cx="169.0" cy="371.7" r="4.25"/><circle cx="158.5" cy="447.7" r="4.25"/><circle cx="170.3" cy="333.3" r="4.25"/><circle cx="184.7" cy="382.7" r="4.25"/><circle cx="180.7" cy="383.5" r="4.25"/><circle cx="175.9" cy="400.9" r="4.25"/><circle cx="172.4" cy="429.0" r="4.25"/><circle cx="161.2" cy="421.8" r="4.25"/><circle cx="161.0" cy="375.5" r="4.25"/><circle cx="176.8" cy="387.2" r="4.25"/><circle cx="174.0" cy="419.2" r="4.25"/><circle cx="175.0" cy="414.6" r="4.25"/><circle cx="187.6" cy="373.5" r="4.25"/><circle cx="185.6" cy="357.6" r="4.25"/><circle cx="169.0" cy="347.1" r="4.25"/><circle cx="160.4" cy="494.8" r="4.25"/><circle cx="174.8" cy="400.5" r="4.25"/><circle cx="175.0" cy="376.6" r="4.25"/><circle cx="183.1" cy="383.9" r="4.25"/><circle cx="164.8" cy="437.8" r="4.25"/><circle cx="161.3" cy="489.7" r="4.25"/><circle cx="168.0" cy="472.4" r="4.25"/><circle cx="171.3" cy="381.2" r="4.25"/><circle cx="158.8" cy="360.0" r="4.25"/><circle cx="179.4" cy="431.5" r="4.25"/><circle cx="175.0" cy="363.4" r="4.25"/><circle cx="166.4" cy="315.0" r="4.25"/><circle cx="181.6" cy="301.3" r="4.25"/><circle cx="184.4" cy="470.9" r="4.25"/><circle cx="159.7" cy="515.9" r="4.25"/><circle cx="168.2" cy="416.7" r="4.25"/><circle cx="173.4" cy="461.3" r="4.25"/><circle cx="187.5" cy="336.0" r="4.25"/><circle cx="165.6" cy="436.1" r="4.25"/><circle cx="166.4" cy="424.3" r="4.25"/><circle cx="171.8" cy="424.4" r="4.25"/><circle cx="188.4" cy="389.4" r="4.25"/><circle cx="176.2" cy="338.0" r="4.25"/><circle cx="181.7" cy="422.0" r="4.25"/><circle cx="165.1" cy="442.7" r="4.25"/><circle cx="175.7" cy="355.0" r="4.25"/><circle cx="174.0" cy="341.4" r="4.25"/><circle cx="165.5" cy="374.0" r="4.25"/><circle cx="187.4" cy="376.8" r="4.25"/><circle cx="172.9" cy="531.5" r="4.25"/><circle cx="175.3" cy="468.9" r="4.25"/><circle cx="164.1" cy="441.9" r="4.25"/><circle cx="164.6" cy="378.2" r="4.25"/><circle cx="168.4" cy="410.4" r="4.25"/><circle cx="179.8" cy="353.5" r="4.25"/><circle cx="182.1" cy="437.2" r="4.25"/><circle cx="166.7" cy="467.1" r="4.25"/><circle cx="182.8" cy="296.4" r="4.25"/><circle cx="160.4" cy="430.5" r="4.25"/><circle cx="174.9" cy="357.4" r="4.25"/><circle cx="175.9" cy="362.5" r="4.25"/><circle cx="175.8" cy="418.9" r="4.25"/><circle cx="161.6" cy="390.9" r="4.25"/><circle cx="184.7" cy="408.0" r="4.25"/><circle cx="178.8" cy="420.1" r="4.25"/><circle cx="171.1" cy="375.6" r="4.25"/><circle cx="177.5" cy="441.0" r="4.25"/><circle cx="186.7" cy="429.8" r="4.25"/><circle cx="184.6" cy="359.9" r="4.25"/><circle cx="171.6" cy="432.3" r="4.25"/><circle cx="180.9" cy="446.3" r="4.25"/><circle cx="174.1" cy="367.0" r="4.25"/><circle cx="175.2" cy="436.7" r="4.25"/><circle cx="166.1" cy="411.3" r="4.25"/><circle cx="179.5" cy="432.5" r="4.25"/><circle cx="184.3" cy="403.0" r="4.25"/><circle cx="175.1" cy="458.2" r="4.25"/><circle cx="178.1" cy="426.3" r="4.25"/><circle cx="184.9" cy="439.0" r="4.25"/><circle cx="159.7" cy="326.3" r="4.25"/><circle cx="163.3" cy="302.2" r="4.25"/><circle cx="169.9" cy="399.2" r="4.25"/><circle cx="191.5" cy="453.9" r="4.25"/><circle cx="177.9" cy="393.2" r="4.25"/><circle cx="159.6" cy="394.6" r="4.25"/><circle cx="166.0" cy="341.7" r="4.25"/><circle cx="190.0" cy="374.5" r="4.25"/><circle cx="161.8" cy="419.4" r="4.25"/><circle cx="160.2" cy="401.0" r="4.25"/><circle cx="173.0" cy="466.1" r="4.25"/><circle cx="160.6" cy="399.4" r="4.25"/><circle cx="173.9" cy="381.1" r="4.25"/><circle cx="173.4" cy="316.0" r="4.25"/><circle cx="188.6" cy="305.9" r="4.25"/><circle cx="185.5" cy="368.0" r="4.25"/><circle cx="173.6" cy="440.8" r="4.25"/><circle cx="189.0" cy="433.7" r="4.25"/><circle cx="183.3" cy="384.6" r="4.25"/><circle cx="185.3" cy="366.7" r="4.25"/><circle cx="167.4" cy="351.1" r="4.25"/><circle cx="179.7" cy="363.5" r="4.25"/><circle cx="164.0" cy="377.8" r="4.25"/><circle cx="173.3" cy="413.0" r="4.25"/><circle cx="184.0" cy="395.3" r="4.25"/><circle cx="158.8" cy="482.1" r="4.25"/><circle cx="164.0" cy="413.2" r="4.25"/><circle cx="187.1" cy="474.4" r="4.25"/><circle cx="167.0" cy="406.2" r="4.25"/><circle cx="179.1" cy="385.5" r="4.25"/><circle cx="190.0" cy="448.9" r="4.25"/><circle cx="159.5" cy="430.3" r="4.25"/><circle cx="159.6" cy="424.9" r="4.25"/><circle cx="180.5" cy="415.0" r="4.25"/><circle cx="177.9" cy="373.0" r="4.25"/><circle cx="185.2" cy="430.1" r="4.25"/><circle cx="188.3" cy="376.7" r="4.25"/><circle cx="163.8" cy="410.4" r="4.25"/><circle cx="184.2" cy="403.1" r="4.25"/><circle cx="180.8" cy="447.4" r="4.25"/><circle cx="163.2" cy="413.4" r="4.25"/><circle cx="162.1" cy="397.1" r="4.25"/><circle cx="171.8" cy="470.0" r="4.25"/><circle cx="159.9" cy="291.4" r="4.25"/><circle cx="186.4" cy="467.8" r="4.25"/><circle cx="170.7" cy="397.9" r="4.25"/><circle cx="171.3" cy="418.8" r="4.25"/><circle cx="177.9" cy="369.8" r="4.25"/><circle cx="176.4" cy="400.5" r="4.25"/><circle cx="172.6" cy="400.1" r="4.25"/><circle cx="184.2" cy="356.6" r="4.25"/><circle cx="169.3" cy="412.2" r="4.25"/><circle cx="162.3" cy="412.0" r="4.25"/><circle cx="187.4" cy="460.4" r="4.25"/><circle cx="171.1" cy="449.7" r="4.25"/><circle cx="167.4" cy="406.1" r="4.25"/><circle cx="177.3" cy="380.2" r="4.25"/><circle cx="165.2" cy="382.2" r="4.25"/><circle cx="183.1" cy="450.0" r="4.25"/><circle cx="188.4" cy="328.0" r="4.25"/><circle cx="180.2" cy="428.4" r="4.25"/><circle cx="191.7" cy="367.8" r="4.25"/><circle cx="164.6" cy="343.3" r="4.25"/><circle cx="185.0" cy="461.1" r="4.25"/><circle cx="189.7" cy="354.0" r="4.25"/><circle cx="162.2" cy="437.9" r="4.25"/><circle cx="189.4" cy="382.3" r="4.25"/><circle cx="187.4" cy="386.5" r="4.25"/><circle cx="183.8" cy="432.0" r="4.25"/><circle cx="163.3" cy="404.7" r="4.25"/><circle cx="166.0" cy="359.3" r="4.25"/><circle cx="158.3" cy="375.7" r="4.25"/><circle cx="185.4" cy="474.1" r="4.25"/><circle cx="163.8" cy="384.2" r="4.25"/><circle cx="191.3" cy="386.6" r="4.25"/><circle cx="162.2" cy="453.0" r="4.25"/><circle cx="185.9" cy="380.9" r="4.25"/><circle cx="175.9" cy="416.9" r="4.25"/><circle cx="180.3" cy="306.9" r="4.25"/><circle cx="170.0" cy="431.0" r="4.25"/><circle cx="178.6" cy="325.2" r="4.25"/><circle cx="176.1" cy="335.2" r="4.25"/><circle cx="178.4" cy="359.1" r="4.25"/><circle cx="159.9" cy="416.5" r="4.25"/><circle cx="176.9" cy="414.0" r="4.25"/><circle cx="175.9" cy="366.1" r="4.25"/><circle cx="161.9" cy="402.3" r="4.25"/><circle cx="161.5" cy="344.2" r="4.25"/><circle cx="167.8" cy="407.7" r="4.25"/><circle cx="159.5" cy="420.6" r="4.25"/><circle cx="175.3" cy="397.8" r="4.25"/><circle cx="185.8" cy="428.5" r="4.25"/><circle cx="191.9" cy="358.5" r="4.25"/><circle cx="173.6" cy="403.5" r="4.25"/><circle cx="168.5" cy="349.1" r="4.25"/><circle cx="166.5" cy="425.5" r="4.25"/><circle cx="175.5" cy="326.0" r="4.25"/><circle cx="169.3" cy="410.5" r="4.25"/><circle cx="175.9" cy="420.1" r="4.25"/><circle cx="166.4" cy="370.6" r="4.25"/><circle cx="178.9" cy="427.2" r="4.25"/><circle cx="180.9" cy="498.1" r="4.25"/><circle cx="168.5" cy="425.2" r="4.25"/><circle cx="162.6" cy="377.3" r="4.25"/><circle cx="175.7" cy="352.3" r="4.25"/><circle cx="179.2" cy="485.9" r="4.25"/><circle cx="191.0" cy="465.3" r="4.25"/><circle cx="175.6" cy="375.1" r="4.25"/><circle cx="159.6" cy="380.6" r="4.25"/><circle cx="177.1" cy="386.8" r="4.25"/><circle cx="160.8" cy="372.3" r="4.25"/><circle cx="177.1" cy="462.2" r="4.25"/><circle cx="190.5" cy="342.9" r="4.25"/><circle cx="166.4" cy="386.5" r="4.25"/><circle cx="180.9" cy="310.7" r="4.25"/><circle cx="184.5" cy="329.8" r="4.25"/><circle cx="164.4" cy="402.5" r="4.25"/><circle cx="168.8" cy="408.9" r="4.25"/><circle cx="159.3" cy="406.8" r="4.25"/><circle cx="158.7" cy="449.2" r="4.25"/><circle cx="164.4" cy="431.2" r="4.25"/><circle cx="186.6" cy="376.5" r="4.25"/><circle cx="160.6" cy="389.5" r="4.25"/><circle cx="176.4" cy="396.8" r="4.25"/><circle cx="180.5" cy="383.5" r="4.25"/><circle cx="161.2" cy="326.2" r="4.25"/><circle cx="181.8" cy="344.8" r="4.25"/><circle cx="163.6" cy="406.4" r="4.25"/><circle cx="172.2" cy="412.1" r="4.25"/><circle cx="168.8" cy="357.1" r="4.25"/><circle cx="186.3" cy="355.2" r="4.25"/><circle cx="169.1" cy="402.9" r="4.25"/><circle cx="183.1" cy="339.4" r="4.25"/><circle cx="177.0" cy="428.0" r="4.25"/><circle cx="171.2" cy="412.9" r="4.25"/><circle cx="179.5" cy="406.1" r="4.25"/><circle cx="178.8" cy="431.9" r="4.25"/><circle cx="181.1" cy="452.7" r="4.25"/><circle cx="189.9" cy="393.2" r="4.25"/><circle cx="159.2" cy="281.7" r="4.25"/><circle cx="187.8" cy="291.5" r="4.25"/><circle cx="171.4" cy="406.6" r="4.25"/><circle cx="174.1" cy="392.0" r="4.25"/><circle cx="165.1" cy="404.3" r="4.25"/><circle cx="171.4" cy="364.2" r="4.25"/><circle cx="158.2" cy="379.5" r="4.25"/><circle cx="167.6" cy="418.9" r="4.25"/><circle cx="166.0" cy="323.2" r="4.25"/><circle cx="184.4" cy="396.9" r="4.25"/><circle cx="165.4" cy="429.7" r="4.25"/><circle cx="164.5" cy="413.1" r="4.25"/><circle cx="180.5" cy="421.7" r="4.25"/><circle cx="178.4" cy="421.5" r="4.25"/><circle cx="187.5" cy="445.5" r="4.25"/><circle cx="188.4" cy="430.3" r="4.25"/><circle cx="191.9" cy="517.0" r="4.25"/><circle cx="161.2" cy="351.0" r="4.25"/><circle cx="171.2" cy="360.7" r="4.25"/><circle cx="164.1" cy="400.3" r="4.25"/><circle cx="185.6" cy="312.4" r="4.25"/><circle cx="174.7" cy="400.9" r="4.25"/><circle cx="177.3" cy="356.5" r="4.25"/><circle cx="173.2" cy="400.6" r="4.25"/><circle cx="184.4" cy="370.5" r="4.25"/><circle cx="162.0" cy="436.4" r="4.25"/><circle cx="184.6" cy="412.4" r="4.25"/><circle cx="181.9" cy="387.5" r="4.25"/><circle cx="176.8" cy="401.5" r="4.25"/><circle cx="168.7" cy="403.7" r="4.25"/><circle cx="167.8" cy="453.2" r="4.25"/><circle cx="187.1" cy="447.5" r="4.25"/><circle cx="174.7" cy="371.8" r="4.25"/><circle cx="163.5" cy="426.6" r="4.25"/><circle cx="163.2" cy="370.0" r="4.25"/><circle cx="176.3" cy="349.0" r="4.25"/><circle cx="174.6" cy="432.2" r="4.25"/><circle cx="185.9" cy="456.7" r="4.25"/><circle cx="163.2" cy="420.3" r="4.25"/><circle cx="164.6" cy="350.4" r="4.25"/><circle cx="181.0" cy="471.4" r="4.25"/><circle cx="163.5" cy="453.3" r="4.25"/><circle cx="187.7" cy="381.0" r="4.25"/><circle cx="178.8" cy="369.6" r="4.25"/><circle cx="167.9" cy="372.5" r="4.25"/><circle cx="171.7" cy="425.3" r="4.25"/><circle cx="158.9" cy="407.4" r="4.25"/><circle cx="172.4" cy="212.9" r="4.25"/><circle cx="168.8" cy="383.9" r="4.25"/><circle cx="175.8" cy="386.4" r="4.25"/><circle cx="170.9" cy="450.8" r="4.25"/><circle cx="172.7" cy="347.5" r="4.25"/><circle cx="163.9" cy="388.1" r="4.25"/><circle cx="165.2" cy="357.6" r="4.25"/><circle cx="174.0" cy="462.9" r="4.25"/><circle cx="172.6" cy="489.9" r="4.25"/><circle cx="176.6" cy="362.7" r="4.25"/><circle cx="161.1" cy="347.0" r="4.25"/><circle cx="159.8" cy="396.3" r="4.25"/><circle cx="160.0" cy="370.5" r="4.25"/><circle cx="174.2" cy="385.7" r="4.25"/><circle cx="180.2" cy="457.6" r="4.25"/><circle cx="169.2" cy="309.5" r="4.25"/><circle cx="176.5" cy="361.1" r="4.25"/><circle cx="165.0" cy="379.0" r="4.25"/><circle cx="181.7" cy="349.8" r="4.25"/><circle cx="180.7" cy="405.7" r="4.25"/><circle cx="178.8" cy="345.4" r="4.25"/><circle cx="162.1" cy="451.8" r="4.25"/><circle cx="158.5" cy="337.2" r="4.25"/><circle cx="160.0" cy="409.3" r="4.25"/><circle cx="191.2" cy="400.2" r="4.25"/><circle cx="191.9" cy="382.9" r="4.25"/><circle cx="190.8" cy="388.4" r="4.25"/><circle cx="168.8" cy="393.9" r="4.25"/><circle cx="177.9" cy="406.3" r="4.25"/><circle cx="181.5" cy="416.7" r="4.25"/><circle cx="175.3" cy="409.9" r="4.25"/><circle cx="185.3" cy="412.3" r="4.25"/><circle cx="180.5" cy="330.9" r="4.25"/><circle cx="180.3" cy="396.3" r="4.25"/><circle cx="179.4" cy="412.5" r="4.25"/><circle cx="177.9" cy="384.6" r="4.25"/><circle cx="172.2" cy="397.2" r="4.25"/><circle cx="180.6" cy="415.1" r="4.25"/><circle cx="181.2" cy="419.0" r="4.25"/><circle cx="171.1" cy="462.7" r="4.25"/><circle cx="178.4" cy="333.9" r="4.25"/><circle cx="173.8" cy="323.0" r="4.25"/><circle cx="179.4" cy="387.3" r="4.25"/><circle cx="191.0" cy="383.7" r="4.25"/><circle cx="185.2" cy="391.5" r="4.25"/><circle cx="184.6" cy="428.4" r="4.25"/><circle cx="187.3" cy="315.3" r="4.25"/><circle cx="187.9" cy="382.6" r="4.25"/><circle cx="174.6" cy="410.5" r="4.25"/><circle cx="167.1" cy="370.7" r="4.25"/><circle cx="189.6" cy="393.4" r="4.25"/><circle cx="160.6" cy="374.9" r="4.25"/><circle cx="184.2" cy="343.9" r="4.25"/><circle cx="181.5" cy="403.5" r="4.25"/><circle cx="190.4" cy="396.7" r="4.25"/><circle cx="161.2" cy="401.6" r="4.25"/><circle cx="160.4" cy="463.1" r="4.25"/><circle cx="172.4" cy="384.7" r="4.25"/><circle cx="159.9" cy="354.6" r="4.25"/><circle cx="165.5" cy="429.6" r="4.25"/><circle cx="175.4" cy="393.6" r="4.25"/><circle cx="180.5" cy="413.5" r="4.25"/><circle cx="189.0" cy="390.8" r="4.25"/><circle cx="176.4" cy="340.9" r="4.25"/><circle cx="164.6" cy="451.2" r="4.25"/><circle cx="170.4" cy="388.5" r="4.25"/><circle cx="178.0" cy="396.7" r="4.25"/><circle cx="177.5" cy="433.0" r="4.25"/><circle cx="165.0" cy="458.0" r="4.25"/><circle cx="188.3" cy="443.6" r="4.25"/><circle cx="179.2" cy="425.7" r="4.25"/><circle cx="190.3" cy="433.9" r="4.25"/><circle cx="188.9" cy="282.8" r="4.25"/><circle cx="191.2" cy="361.2" r="4.25"/><circle cx="161.1" cy="404.1" r="4.25"/><circle cx="171.9" cy="472.1" r="4.25"/><circle cx="164.1" cy="371.0" r="4.25"/><circle cx="167.6" cy="425.3" r="4.25"/><circle cx="177.8" cy="329.4" r="4.25"/><circle cx="168.0" cy="394.7" r="4.25"/><circle cx="188.7" cy="400.0" r="4.25"/><circle cx="188.7" cy="319.5" r="4.25"/><circle cx="178.0" cy="284.6" r="4.25"/><circle cx="185.9" cy="409.1" r="4.25"/><circle cx="162.4" cy="408.5" r="4.25"/><circle cx="158.5" cy="386.1" r="4.25"/><circle cx="185.0" cy="431.3" r="4.25"/><circle cx="166.3" cy="356.2" r="4.25"/><circle cx="177.2" cy="326.7" r="4.25"/><circle cx="190.9" cy="312.5" r="4.25"/><circle cx="185.5" cy="380.3" r="4.25"/><circle cx="164.2" cy="414.6" r="4.25"/><circle cx="165.6" cy="340.4" r="4.25"/><circle cx="187.7" cy="332.3" r="4.25"/><circle cx="165.9" cy="373.4" r="4.25"/><circle cx="179.8" cy="424.3" r="4.25"/><circle cx="173.2" cy="377.0" r="4.25"/><circle cx="173.4" cy="401.8" r="4.25"/><circle cx="168.0" cy="343.1" r="4.25"/><circle cx="163.4" cy="451.5" r="4.25"/><circle cx="191.6" cy="379.2" r="4.25"/><circle cx="160.7" cy="384.9" r="4.25"/><circle cx="159.8" cy="401.8" r="4.25"/><circle cx="183.7" cy="357.0" r="4.25"/><circle cx="180.9" cy="414.4" r="4.25"/><circle cx="173.0" cy="434.6" r="4.25"/><circle cx="180.3" cy="369.3" r="4.25"/><circle cx="158.6" cy="457.8" r="4.25"/><circle cx="170.9" cy="415.7" r="4.25"/><circle cx="163.6" cy="377.9" r="4.25"/><circle cx="181.1" cy="486.2" r="4.25"/><circle cx="173.3" cy="291.8" r="4.25"/><circle cx="186.3" cy="357.0" r="4.25"/><circle cx="180.4" cy="404.0" r="4.25"/><circle cx="160.6" cy="359.2" r="4.25"/><circle cx="189.0" cy="358.1" r="4.25"/><circle cx="181.0" cy="304.9" r="4.25"/><circle cx="175.4" cy="429.4" r="4.25"/><circle cx="190.8" cy="405.5" r="4.25"/><circle cx="168.1" cy="298.8" r="4.25"/><circle cx="182.3" cy="442.4" r="4.25"/><circle cx="191.7" cy="386.5" r="4.25"/><circle cx="171.9" cy="418.4" r="4.25"/><circle cx="162.0" cy="449.5" r="4.25"/><circle cx="171.7" cy="393.3" r="4.25"/><circle cx="180.2" cy="412.5" r="4.25"/><circle cx="182.2" cy="418.6" r="4.25"/><circle cx="176.4" cy="321.2" r="4.25"/><circle cx="181.8" cy="460.9" r="4.25"/><circle cx="165.2" cy="427.1" r="4.25"/><circle cx="184.0" cy="442.5" r="4.25"/><circle cx="176.1" cy="387.2" r="4.25"/><circle cx="170.1" cy="416.9" r="4.25"/><circle cx="168.0" cy="492.4" r="4.25"/><circle cx="185.9" cy="385.9" r="4.25"/><circle cx="160.4" cy="407.8" r="4.25"/><circle cx="179.5" cy="393.6" r="4.25"/><circle cx="172.8" cy="427.5" r="4.25"/><circle cx="165.7" cy="397.8" r="4.25"/><circle cx="180.8" cy="381.5" r="4.25"/><circle cx="163.2" cy="414.6" r="4.25"/><circle cx="177.1" cy="520.2" r="4.25"/><circle cx="175.8" cy="386.3" r="4.25"/><circle cx="178.5" cy="403.6" r="4.25"/><circle cx="170.0" cy="380.1" r="4.25"/><circle cx="161.2" cy="365.0" r="4.25"/><circle cx="181.6" cy="403.0" r="4.25"/><circle cx="168.4" cy="378.2" r="4.25"/><circle cx="185.6" cy="418.4" r="4.25"/><circle cx="172.4" cy="414.0" r="4.25"/><circle cx="186.3" cy="311.1" r="4.25"/><circle cx="189.0" cy="425.6" r="4.25"/><circle cx="191.2" cy="404.9" r="4.25"/><circle cx="166.8" cy="409.2" r="4.25"/><circle cx="183.7" cy="366.7" r="4.25"/><circle cx="188.1" cy="379.0" r="4.25"/><circle cx="185.6" cy="404.4" r="4.25"/><circle cx="169.1" cy="367.4" r="4.25"/><circle cx="169.6" cy="398.6" r="4.25"/><circle cx="176.6" cy="397.5" r="4.25"/><circle cx="162.8" cy="284.0" r="4.25"/><circle cx="162.7" cy="403.7" r="4.25"/><circle cx="160.2" cy="323.8" r="4.25"/><circle cx="181.2" cy="379.4" r="4.25"/><circle cx="188.0" cy="373.4" r="4.25"/><circle cx="180.3" cy="434.1" r="4.25"/><circle cx="183.9" cy="432.7" r="4.25"/><circle cx="169.7" cy="470.6" r="4.25"/><circle cx="170.3" cy="425.8" r="4.25"/><circle cx="178.7" cy="428.2" r="4.25"/><circle cx="160.0" cy="428.7" r="4.25"/><circle cx="164.8" cy="407.2" r="4.25"/><circle cx="177.7" cy="326.1" r="4.25"/><circle cx="179.3" cy="366.5" r="4.25"/><circle cx="170.6" cy="379.9" r="4.25"/><circle cx="175.9" cy="394.2" r="4.25"/><circle cx="173.6" cy="388.1" r="4.25"/><circle cx="185.9" cy="395.1" r="4.25"/><circle cx="159.7" cy="410.2" r="4.25"/><circle cx="176.2" cy="373.2" r="4.25"/><circle cx="174.6" cy="433.3" r="4.25"/><circle cx="160.1" cy="336.6" r="4.25"/><circle cx="161.1" cy="512.7" r="4.25"/><circle cx="190.8" cy="392.7" r="4.25"/><circle cx="160.9" cy="395.5" r="4.25"/><circle cx="161.0" cy="443.0" r="4.25"/><circle cx="188.1" cy="382.8" r="4.25"/><circle cx="162.8" cy="354.5" r="4.25"/><circle cx="187.6" cy="333.6" r="4.25"/><circle cx="171.0" cy="448.3" r="4.25"/><circle cx="160.6" cy="344.6" r="4.25"/><circle cx="160.5" cy="438.1" r="4.25"/><circle cx="170.8" cy="400.3" r="4.25"/><circle cx="187.2" cy="413.7" r="4.25"/><circle cx="174.7" cy="477.7" r="4.25"/><circle cx="174.8" cy="426.0" r="4.25"/><circle cx="176.4" cy="374.6" r="4.25"/><circle cx="167.6" cy="390.1" r="4.25"/><circle cx="186.0" cy="412.7" r="4.25"/><circle cx="168.5" cy="407.6" r="4.25"/><circle cx="185.7" cy="455.2" r="4.25"/><circle cx="181.6" cy="380.9" r="4.25"/><circle cx="167.6" cy="419.5" r="4.25"/><circle cx="189.9" cy="385.2" r="4.25"/><circle cx="159.1" cy="350.1" r="4.25"/><circle cx="187.1" cy="395.4" r="4.25"/><circle cx="182.5" cy="329.9" r="4.25"/><circle cx="161.1" cy="377.5" r="4.25"/><circle cx="191.3" cy="300.8" r="4.25"/><circle cx="161.0" cy="409.2" r="4.25"/><circle cx="177.8" cy="406.8" r="4.25"/><circle cx="172.9" cy="371.7" r="4.25"/><circle cx="165.2" cy="412.4" r="4.25"/><circle cx="178.4" cy="350.6" r="4.25"/><circle cx="177.4" cy="434.7" r="4.25"/><circle cx="180.6" cy="392.1" r="4.25"/><circle cx="174.1" cy="401.3" r="4.25"/><circle cx="187.8" cy="423.6" r="4.25"/><circle cx="163.0" cy="393.2" r="4.25"/><circle cx="174.4" cy="312.2" r="4.25"/><circle cx="171.9" cy="349.9" r="4.25"/><circle cx="190.0" cy="416.3" r="4.25"/><circle cx="180.9" cy="409.4" r="4.25"/><circle cx="179.4" cy="408.8" r="4.25"/><circle cx="180.0" cy="384.9" r="4.25"/><circle cx="189.7" cy="377.6" r="4.25"/><circle cx="177.2" cy="401.6" r="4.25"/><circle cx="181.8" cy="420.4" r="4.25"/><circle cx="191.8" cy="341.9" r="4.25"/><circle cx="185.0" cy="399.7" r="4.25"/><circle cx="159.3" cy="405.0" r="4.25"/><circle cx="182.4" cy="389.0" r="4.25"/><circle cx="183.5" cy="402.1" r="4.25"/><circle cx="160.9" cy="319.3" r="4.25"/><circle cx="188.2" cy="404.4" r="4.25"/><circle cx="173.0" cy="420.8" r="4.25"/><circle cx="165.7" cy="351.1" r="4.25"/><circle cx="189.1" cy="442.7" r="4.25"/><circle cx="188.4" cy="376.2" r="4.25"/><circle cx="190.1" cy="387.2" r="4.25"/><circle cx="183.5" cy="407.6" r="4.25"/><circle cx="183.2" cy="367.2" r="4.25"/><circle cx="166.5" cy="429.6" r="4.25"/><circle cx="190.7" cy="446.3" r="4.25"/><circle cx="188.7" cy="409.9" r="4.25"/><circle cx="163.2" cy="354.7" r="4.25"/><circle cx="172.4" cy="486.9" r="4.25"/><circle cx="189.9" cy="399.5" r="4.25"/><circle cx="185.8" cy="346.7" r="4.25"/><circle cx="184.1" cy="367.3" r="4.25"/><circle cx="188.1" cy="486.6" r="4.25"/><circle cx="159.1" cy="348.1" r="4.25"/><circle cx="181.0" cy="383.1" r="4.25"/><circle cx="184.3" cy="357.7" r="4.25"/><circle cx="166.0" cy="404.5" r="4.25"/><circle cx="168.9" cy="376.8" r="4.25"/><circle cx="189.0" cy="367.7" r="4.25"/><circle cx="177.5" cy="380.2" r="4.25"/><circle cx="162.6" cy="361.4" r="4.25"/><circle cx="160.6" cy="370.6" r="4.25"/><circle cx="167.3" cy="405.6" r="4.25"/><circle cx="176.2" cy="397.6" r="4.25"/><circle cx="173.7" cy="404.0" r="4.25"/><circle cx="176.4" cy="406.8" r="4.25"/><circle cx="172.2" cy="434.9" r="4.25"/><circle cx="177.8" cy="335.1" r="4.25"/><circle cx="172.4" cy="356.3" r="4.25"/><circle cx="189.8" cy="370.8" r="4.25"/><circle cx="190.9" cy="494.2" r="4.25"/><circle cx="166.0" cy="397.2" r="4.25"/><circle cx="179.8" cy="438.1" r="4.25"/><circle cx="165.3" cy="377.4" r="4.25"/><circle cx="175.6" cy="441.9" r="4.25"/><circle cx="186.9" cy="322.2" r="4.25"/><circle cx="186.1" cy="395.5" r="4.25"/><circle cx="183.0" cy="440.5" r="4.25"/><circle cx="172.2" cy="380.2" r="4.25"/><circle cx="166.3" cy="464.5" r="4.25"/><circle cx="188.6" cy="457.3" r="4.25"/><circle cx="188.1" cy="362.4" r="4.25"/><circle cx="191.1" cy="386.2" r="4.25"/><circle cx="172.6" cy="449.1" r="4.25"/><circle cx="183.2" cy="406.5" r="4.25"/><circle cx="173.0" cy="424.5" r="4.25"/><circle cx="175.7" cy="413.2" r="4.25"/><circle cx="188.0" cy="382.5" r="4.25"/><circle cx="160.8" cy="392.4" r="4.25"/><circle cx="184.3" cy="380.3" r="4.25"/><circle cx="163.9" cy="294.6" r="4.25"/><circle cx="175.7" cy="337.4" r="4.25"/><circle cx="174.1" cy="409.1" r="4.25"/><circle cx="171.3" cy="384.2" r="4.25"/><circle cx="179.0" cy="427.8" r="4.25"/><circle cx="169.2" cy="473.2" r="4.25"/><circle cx="186.2" cy="368.8" r="4.25"/><circle cx="189.6" cy="358.7" r="4.25"/><circle cx="162.2" cy="386.3" r="4.25"/><circle cx="176.5" cy="395.8" r="4.25"/><circle cx="172.2" cy="449.6" r="4.25"/><circle cx="162.3" cy="406.6" r="4.25"/><circle cx="187.2" cy="415.7" r="4.25"/><circle cx="167.4" cy="388.9" r="4.25"/><circle cx="188.5" cy="379.8" r="4.25"/><circle cx="185.6" cy="413.5" r="4.25"/><circle cx="175.5" cy="390.9" r="4.25"/><circle cx="174.2" cy="400.2" r="4.25"/><circle cx="159.2" cy="388.2" r="4.25"/><circle cx="182.0" cy="365.4" r="4.25"/><circle cx="161.3" cy="367.2" r="4.25"/><circle cx="167.1" cy="432.8" r="4.25"/><circle cx="184.1" cy="427.9" r="4.25"/><circle cx="161.1" cy="377.2" r="4.25"/><circle cx="163.2" cy="411.7" r="4.25"/><circle cx="184.7" cy="384.2" r="4.25"/><circle cx="182.1" cy="376.5" r="4.25"/><circle cx="169.9" cy="389.1" r="4.25"/><circle cx="190.2" cy="432.1" r="4.25"/><circle cx="164.0" cy="389.3" r="4.25"/><circle cx="181.3" cy="392.2" r="4.25"/><circle cx="182.9" cy="431.8" r="4.25"/><circle cx="163.0" cy="362.3" r="4.25"/><circle cx="182.9" cy="418.5" r="4.25"/><circle cx="177.0" cy="435.0" r="4.25"/><circle cx="191.1" cy="419.3" r="4.25"/><circle cx="170.1" cy="442.2" r="4.25"/><circle cx="170.2" cy="392.9" r="4.25"/><circle cx="191.1" cy="346.1" r="4.25"/><circle cx="164.8" cy="422.8" r="4.25"/><circle cx="161.7" cy="414.3" r="4.25"/><circle cx="184.4" cy="423.8" r="4.25"/><circle cx="160.5" cy="531.5" r="4.25"/><circle cx="182.2" cy="428.1" r="4.25"/><circle cx="171.6" cy="355.5" r="4.25"/><circle cx="188.0" cy="370.0" r="4.25"/><circle cx="170.8" cy="359.5" r="4.25"/><circle cx="187.1" cy="388.3" r="4.25"/><circle cx="158.4" cy="383.5" r="4.25"/><circle cx="158.8" cy="399.8" r="4.25"/><circle cx="165.7" cy="446.7" r="4.25"/><circle cx="170.7" cy="467.5" r="4.25"/><circle cx="168.4" cy="396.1" r="4.25"/><circle cx="171.8" cy="399.5" r="4.25"/><circle cx="174.7" cy="328.6" r="4.25"/><circle cx="171.5" cy="394.8" r="4.25"/><circle cx="169.1" cy="400.2" r="4.25"/><circle cx="159.5" cy="359.2" r="4.25"/><circle cx="169.7" cy="404.0" r="4.25"/><circle cx="160.4" cy="398.9" r="4.25"/><circle cx="165.8" cy="337.5" r="4.25"/><circle cx="167.4" cy="425.4" r="4.25"/><circle cx="187.7" cy="443.4" r="4.25"/><circle cx="161.5" cy="343.3" r="4.25"/><circle cx="163.4" cy="416.4" r="4.25"/><circle cx="188.7" cy="380.4" r="4.25"/><circle cx="172.9" cy="287.1" r="4.25"/><circle cx="169.6" cy="405.8" r="4.25"/><circle cx="180.7" cy="349.4" r="4.25"/><circle cx="172.1" cy="346.0" r="4.25"/><circle cx="160.4" cy="375.1" r="4.25"/><circle cx="164.3" cy="389.1" r="4.25"/><circle cx="166.6" cy="386.5" r="4.25"/><circle cx="168.2" cy="505.9" r="4.25"/><circle cx="174.1" cy="392.0" r="4.25"/><circle cx="174.7" cy="386.1" r="4.25"/><circle cx="162.7" cy="467.9" r="4.25"/><circle cx="179.8" cy="373.8" r="4.25"/><circle cx="182.1" cy="389.7" r="4.25"/><circle cx="182.7" cy="456.8" r="4.25"/><circle cx="160.6" cy="371.0" r="4.25"/><circle cx="179.3" cy="367.4" r="4.25"/><circle cx="168.5" cy="360.8" r="4.25"/><circle cx="161.5" cy="409.9" r="4.25"/><circle cx="180.1" cy="352.6" r="4.25"/><circle cx="166.9" cy="320.6" r="4.25"/><circle cx="191.1" cy="408.2" r="4.25"/><circle cx="172.9" cy="339.9" r="4.25"/><circle cx="177.6" cy="386.1" r="4.25"/><circle cx="161.9" cy="338.2" r="4.25"/><circle cx="173.6" cy="383.1" r="4.25"/><circle cx="158.2" cy="334.0" r="4.25"/><circle cx="162.4" cy="421.2" r="4.25"/><circle cx="189.2" cy="393.9" r="4.25"/><circle cx="187.7" cy="432.1" r="4.25"/><circle cx="160.6" cy="478.6" r="4.25"/><circle cx="160.3" cy="408.8" r="4.25"/><circle cx="180.5" cy="476.2" r="4.25"/><circle cx="181.9" cy="484.2" r="4.25"/><circle cx="185.5" cy="391.7" r="4.25"/><circle cx="160.6" cy="381.7" r="4.25"/><circle cx="165.5" cy="418.3" r="4.25"/><circle cx="174.1" cy="425.6" r="4.25"/><circle cx="173.1" cy="380.1" r="4.25"/><circle cx="165.5" cy="410.4" r="4.25"/><circle cx="162.9" cy="464.5" r="4.25"/><circle cx="177.4" cy="431.5" r="4.25"/><circle cx="175.8" cy="378.6" r="4.25"/><circle cx="181.1" cy="416.6" r="4.25"/><circle cx="172.1" cy="511.1" r="4.25"/><circle cx="187.7" cy="394.1" r="4.25"/><circle cx="168.6" cy="450.4" r="4.25"/><circle cx="184.6" cy="344.6" r="4.25"/><circle cx="166.2" cy="475.8" r="4.25"/><circle cx="175.6" cy="383.7" r="4.25"/><circle cx="178.0" cy="393.9" r="4.25"/><circle cx="162.7" cy="469.9" r="4.25"/><circle cx="161.3" cy="389.7" r="4.25"/><circle cx="165.4" cy="458.3" r="4.25"/><circle cx="177.0" cy="319.6" r="4.25"/><circle cx="189.2" cy="429.4" r="4.25"/><circle cx="184.7" cy="372.9" r="4.25"/><circle cx="166.8" cy="386.8" r="4.25"/><circle cx="184.3" cy="397.7" r="4.25"/><circle cx="171.2" cy="419.6" r="4.25"/><circle cx="181.7" cy="334.8" r="4.25"/><circle cx="191.3" cy="441.2" r="4.25"/><circle cx="190.0" cy="416.6" r="4.25"/><circle cx="171.3" cy="439.3" r="4.25"/><circle cx="182.5" cy="440.0" r="4.25"/><circle cx="175.7" cy="423.2" r="4.25"/><circle cx="159.4" cy="272.3" r="4.25"/><circle cx="174.9" cy="406.4" r="4.25"/><circle cx="189.9" cy="313.6" r="4.25"/><circle cx="166.8" cy="404.3" r="4.25"/><circle cx="183.5" cy="374.0" r="4.25"/><circle cx="172.1" cy="330.7" r="4.25"/><circle cx="182.9" cy="408.6" r="4.25"/><circle cx="160.2" cy="395.4" r="4.25"/><circle cx="181.9" cy="360.1" r="4.25"/><circle cx="176.0" cy="343.4" r="4.25"/><circle cx="188.0" cy="463.3" r="4.25"/><circle cx="191.1" cy="328.1" r="4.25"/><circle cx="159.6" cy="439.1" r="4.25"/><circle cx="189.4" cy="411.4" r="4.25"/><circle cx="166.2" cy="421.4" r="4.25"/><circle cx="186.1" cy="524.4" r="4.25"/><circle cx="176.4" cy="367.6" r="4.25"/><circle cx="162.4" cy="322.2" r="4.25"/><circle cx="184.6" cy="414.8" r="4.25"/><circle cx="174.5" cy="386.9" r="4.25"/><circle cx="172.0" cy="444.7" r="4.25"/><circle cx="164.2" cy="348.2" r="4.25"/><circle cx="191.0" cy="395.1" r="4.25"/><circle cx="180.8" cy="434.2" r="4.25"/><circle cx="159.4" cy="416.8" r="4.25"/><circle cx="177.5" cy="354.0" r="4.25"/><circle cx="189.2" cy="396.9" r="4.25"/><circle cx="191.8" cy="463.0" r="4.25"/><circle cx="166.1" cy="466.0" r="4.25"/><circle cx="181.1" cy="403.2" r="4.25"/><circle cx="166.3" cy="447.7" r="4.25"/><circle cx="174.1" cy="354.8" r="4.25"/><circle cx="167.9" cy="453.5" r="4.25"/><circle cx="189.8" cy="325.6" r="4.25"/><circle cx="189.9" cy="354.5" r="4.25"/><circle cx="175.9" cy="375.8" r="4.25"/><circle cx="172.5" cy="353.9" r="4.25"/><circle cx="170.7" cy="307.0" r="4.25"/><circle cx="165.7" cy="410.5" r="4.25"/><circle cx="179.0" cy="476.1" r="4.25"/><circle cx="164.1" cy="434.3" r="4.25"/><circle cx="160.2" cy="387.1" r="4.25"/><circle cx="159.4" cy="382.9" r="4.25"/><circle cx="172.5" cy="385.3" r="4.25"/><circle cx="159.1" cy="425.9" r="4.25"/><circle cx="188.4" cy="379.7" r="4.25"/><circle cx="162.7" cy="398.4" r="4.25"/><circle cx="172.5" cy="513.6" r="4.25"/><circle cx="168.2" cy="264.4" r="4.25"/><circle cx="165.2" cy="375.0" r="4.25"/><circle cx="159.0" cy="444.5" r="4.25"/><circle cx="184.0" cy="373.5" r="4.25"/><circle cx="177.5" cy="375.4" r="4.25"/><circle cx="162.8" cy="262.1" r="4.25"/><circle cx="180.0" cy="426.0" r="4.25"/><circle cx="161.6" cy="346.5" r="4.25"/><circle cx="172.8" cy="437.0" r="4.25"/><circle cx="161.0" cy="364.5" r="4.25"/><circle cx="175.8" cy="473.4" r="4.25"/><circle cx="170.1" cy="447.2" r="4.25"/><circle cx="176.4" cy="398.1" r="4.25"/><circle cx="163.0" cy="397.2" r="4.25"/><circle cx="162.4" cy="439.6" r="4.25"/><circle cx="178.4" cy="437.6" r="4.25"/><circle cx="180.3" cy="419.6" r="4.25"/><circle cx="178.9" cy="390.0" r="4.25"/><circle cx="161.2" cy="461.6" r="4.25"/><circle cx="188.5" cy="391.3" r="4.25"/><circle cx="191.2" cy="408.6" r="4.25"/><circle cx="178.9" cy="420.1" r="4.25"/><circle cx="167.7" cy="397.2" r="4.25"/><circle cx="162.0" cy="338.1" r="4.25"/><circle cx="171.1" cy="425.2" r="4.25"/><circle cx="167.4" cy="460.6" r="4.25"/><circle cx="164.4" cy="401.7" r="4.25"/><circle cx="185.4" cy="447.3" r="4.25"/><circle cx="177.3" cy="432.5" r="4.25"/><circle cx="174.9" cy="352.6" r="4.25"/><circle cx="165.6" cy="369.4" r="4.25"/><circle cx="163.6" cy="397.0" r="4.25"/><circle cx="173.2" cy="419.2" r="4.25"/><circle cx="172.0" cy="385.6" r="4.25"/><circle cx="182.1" cy="386.4" r="4.25"/><circle cx="158.4" cy="442.1" r="4.25"/><circle cx="169.2" cy="378.7" r="4.25"/><circle cx="158.5" cy="398.1" r="4.25"/><circle cx="162.5" cy="386.9" r="4.25"/><circle cx="182.2" cy="318.3" r="4.25"/><circle cx="173.1" cy="324.5" r="4.25"/><circle cx="169.5" cy="474.2" r="4.25"/><circle cx="188.5" cy="358.5" r="4.25"/><circle cx="166.6" cy="422.4" r="4.25"/><circle cx="189.7" cy="379.6" r="4.25"/><circle cx="175.0" cy="399.3" r="4.25"/><circle cx="158.8" cy="411.0" r="4.25"/><circle cx="158.6" cy="412.4" r="4.25"/><circle cx="187.3" cy="436.8" r="4.25"/><circle cx="169.6" cy="388.6" r="4.25"/><circle cx="175.9" cy="323.6" r="4.25"/><circle cx="161.0" cy="402.4" r="4.25"/><circle cx="191.2" cy="448.5" r="4.25"/><circle cx="190.8" cy="379.6" r="4.25"/><circle cx="175.5" cy="410.8" r="4.25"/><circle cx="165.6" cy="418.9" r="4.25"/><circle cx="167.2" cy="452.6" r="4.25"/><circle cx="173.2" cy="440.7" r="4.25"/><circle cx="185.3" cy="454.9" r="4.25"/><circle cx="180.6" cy="373.4" r="4.25"/><circle cx="189.6" cy="373.0" r="4.25"/><circle cx="171.5" cy="412.7" r="4.25"/><circle cx="184.2" cy="422.8" r="4.25"/><circle cx="176.0" cy="426.1" r="4.25"/><circle cx="183.4" cy="419.9" r="4.25"/><circle cx="169.7" cy="390.7" r="4.25"/><circle cx="169.2" cy="337.1" r="4.25"/><circle cx="167.6" cy="479.5" r="4.25"/><circle cx="175.3" cy="406.1" r="4.25"/><circle cx="172.5" cy="405.7" r="4.25"/><circle cx="180.0" cy="385.6" r="4.25"/><circle cx="178.6" cy="455.6" r="4.25"/><circle cx="168.3" cy="411.0" r="4.25"/><circle cx="172.5" cy="412.5" r="4.25"/><circle cx="164.2" cy="419.3" r="4.25"/><circle cx="171.9" cy="384.0" r="4.25"/><circle cx="170.6" cy="428.6" r="4.25"/><circle cx="166.5" cy="363.7" r="4.25"/><circle cx="165.6" cy="544.6" r="4.25"/><circle cx="173.3" cy="404.4" r="4.25"/><circle cx="170.9" cy="394.0" r="4.25"/><circle cx="176.7" cy="384.0" r="4.25"/><circle cx="166.9" cy="317.1" r="4.25"/><circle cx="191.8" cy="270.1" r="4.25"/><circle cx="163.7" cy="370.2" r="4.25"/><circle cx="172.5" cy="437.8" r="4.25"/><circle cx="187.7" cy="393.4" r="4.25"/><circle cx="168.9" cy="398.7" r="4.25"/><circle cx="170.7" cy="396.9" r="4.25"/><circle cx="161.3" cy="346.1" r="4.25"/><circle cx="173.4" cy="512.1" r="4.25"/><circle cx="162.1" cy="450.0" r="4.25"/><circle cx="165.0" cy="379.2" r="4.25"/><circle cx="165.5" cy="386.7" r="4.25"/><circle cx="170.0" cy="352.7" r="4.25"/><circle cx="167.8" cy="376.1" r="4.25"/><circle cx="168.8" cy="366.0" r="4.25"/><circle cx="170.6" cy="468.1" r="4.25"/><circle cx="184.1" cy="379.7" r="4.25"/><circle cx="171.1" cy="358.6" r="4.25"/><circle cx="181.7" cy="366.7" r="4.25"/><circle cx="182.2" cy="399.4" r="4.25"/><circle cx="173.8" cy="420.0" r="4.25"/><circle cx="190.9" cy="454.5" r="4.25"/><circle cx="191.2" cy="407.7" r="4.25"/><circle cx="174.0" cy="403.5" r="4.25"/><circle cx="177.7" cy="370.0" r="4.25"/><circle cx="171.4" cy="316.7" r="4.25"/><circle cx="184.3" cy="431.0" r="4.25"/><circle cx="164.4" cy="390.8" r="4.25"/><circle cx="171.4" cy="459.8" r="4.25"/><circle cx="166.3" cy="338.1" r="4.25"/><circle cx="171.3" cy="405.8" r="4.25"/><circle cx="169.6" cy="364.7" r="4.25"/><circle cx="175.5" cy="434.4" r="4.25"/><circle cx="163.8" cy="454.2" r="4.25"/><circle cx="190.5" cy="380.8" r="4.25"/><circle cx="176.3" cy="448.1" r="4.25"/><circle cx="175.7" cy="361.0" r="4.25"/><circle cx="186.5" cy="445.3" r="4.25"/><circle cx="177.3" cy="437.4" r="4.25"/><circle cx="173.5" cy="397.3" r="4.25"/><circle cx="163.1" cy="323.4" r="4.25"/><circle cx="188.7" cy="400.2" r="4.25"/><circle cx="169.6" cy="388.9" r="4.25"/><circle cx="187.1" cy="421.7" r="4.25"/><circle cx="168.6" cy="408.8" r="4.25"/><circle cx="170.7" cy="397.3" r="4.25"/><circle cx="191.3" cy="393.1" r="4.25"/><circle cx="190.4" cy="425.8" r="4.25"/><circle cx="163.7" cy="320.7" r="4.25"/><circle cx="167.1" cy="385.9" r="4.25"/><circle cx="159.4" cy="390.5" r="4.25"/><circle cx="158.6" cy="435.9" r="4.25"/><circle cx="183.2" cy="402.4" r="4.25"/><circle cx="173.4" cy="420.3" r="4.25"/><circle cx="190.5" cy="429.8" r="4.25"/><circle cx="159.3" cy="411.2" r="4.25"/><circle cx="180.2" cy="376.2" r="4.25"/><circle cx="189.2" cy="423.1" r="4.25"/><circle cx="190.7" cy="394.3" r="4.25"/><circle cx="169.0" cy="485.6" r="4.25"/><circle cx="180.3" cy="560.6" r="4.25"/><circle cx="173.2" cy="366.6" r="4.25"/><circle cx="185.3" cy="373.1" r="4.25"/><circle cx="159.2" cy="394.3" r="4.25"/><circle cx="191.8" cy="422.5" r="4.25"/><circle cx="166.9" cy="466.3" r="4.25"/><circle cx="181.1" cy="430.2" r="4.25"/><circle cx="182.0" cy="396.4" r="4.25"/><circle cx="158.6" cy="364.8" r="4.25"/><circle cx="164.7" cy="321.3" r="4.25"/><circle cx="177.8" cy="377.0" r="4.25"/><circle cx="160.6" cy="384.8" r="4.25"/><circle cx="168.9" cy="408.8" r="4.25"/><circle cx="161.6" cy="414.7" r="4.25"/><circle cx="183.1" cy="437.7" r="4.25"/><circle cx="170.9" cy="526.0" r="4.25"/><circle cx="166.5" cy="404.9" r="4.25"/><circle cx="175.2" cy="418.6" r="4.25"/><circle cx="190.5" cy="329.4" r="4.25"/><circle cx="175.9" cy="410.3" r="4.25"/><circle cx="184.6" cy="396.3" r="4.25"/><circle cx="166.5" cy="433.3" r="4.25"/><circle cx="167.7" cy="394.3" r="4.25"/><circle cx="179.4" cy="413.3" r="4.25"/><circle cx="183.7" cy="340.3" r="4.25"/><circle cx="180.1" cy="427.6" r="4.25"/><circle cx="162.1" cy="407.9" r="4.25"/><circle cx="190.1" cy="368.1" r="4.25"/><circle cx="161.5" cy="379.9" r="4.25"/><circle cx="186.7" cy="481.7" r="4.25"/><circle cx="182.7" cy="361.6" r="4.25"/><circle cx="181.4" cy="345.9" r="4.25"/><circle cx="189.5" cy="397.8" r="4.25"/><circle cx="191.5" cy="366.1" r="4.25"/><circle cx="162.8" cy="464.9" r="4.25"/><circle cx="187.5" cy="338.4" r="4.25"/><circle cx="168.8" cy="405.0" r="4.25"/><circle cx="184.6" cy="414.8" r="4.25"/><circle cx="184.8" cy="365.1" r="4.25"/><circle cx="178.2" cy="345.5" r="4.25"/><circle cx="174.0" cy="355.6" r="4.25"/><circle cx="191.4" cy="479.0" r="4.25"/><circle cx="159.5" cy="457.9" r="4.25"/><circle cx="170.8" cy="358.0" r="4.25"/><circle cx="158.7" cy="428.9" r="4.25"/><circle cx="165.6" cy="397.4" r="4.25"/><circle cx="163.6" cy="425.6" r="4.25"/><circle cx="184.8" cy="390.6" r="4.25"/><circle cx="177.1" cy="328.7" r="4.25"/><circle cx="183.5" cy="390.2" r="4.25"/><circle cx="159.2" cy="374.8" r="4.25"/><circle cx="181.6" cy="377.0" r="4.25"/><circle cx="180.3" cy="426.9" r="4.25"/><circle cx="186.2" cy="396.3" r="4.25"/><circle cx="170.2" cy="431.2" r="4.25"/><circle cx="178.5" cy="307.2" r="4.25"/><circle cx="184.6" cy="393.5" r="4.25"/><circle cx="190.6" cy="410.5" r="4.25"/><circle cx="173.1" cy="379.9" r="4.25"/><circle cx="184.3" cy="431.2" r="4.25"/><circle cx="183.1" cy="266.2" r="4.25"/><circle cx="191.3" cy="385.1" r="4.25"/><circle cx="185.2" cy="483.3" r="4.25"/><circle cx="180.9" cy="408.7" r="4.25"/><circle cx="178.4" cy="396.6" r="4.25"/><circle cx="161.7" cy="406.6" r="4.25"/><circle cx="166.7" cy="424.4" r="4.25"/><circle cx="172.4" cy="324.8" r="4.25"/><circle cx="167.8" cy="521.4" r="4.25"/><circle cx="167.5" cy="425.3" r="4.25"/><circle cx="165.0" cy="480.4" r="4.25"/><circle cx="190.1" cy="401.9" r="4.25"/><circle cx="165.4" cy="339.6" r="4.25"/><circle cx="177.6" cy="393.3" r="4.25"/><circle cx="185.9" cy="267.5" r="4.25"/><circle cx="183.9" cy="391.8" r="4.25"/><circle cx="166.0" cy="473.8" r="4.25"/><circle cx="162.0" cy="390.5" r="4.25"/><circle cx="177.9" cy="381.3" r="4.25"/><circle cx="165.2" cy="462.5" r="4.25"/><circle cx="175.4" cy="378.0" r="4.25"/><circle cx="165.4" cy="428.7" r="4.25"/><circle cx="177.3" cy="410.7" r="4.25"/><circle cx="178.2" cy="324.0" r="4.25"/><circle cx="168.8" cy="458.1" r="4.25"/><circle cx="185.0" cy="347.7" r="4.25"/><circle cx="169.5" cy="440.7" r="4.25"/><circle cx="164.3" cy="393.2" r="4.25"/><circle cx="186.6" cy="385.9" r="4.25"/><circle cx="181.0" cy="429.5" r="4.25"/><circle cx="172.0" cy="420.7" r="4.25"/><circle cx="179.8" cy="378.8" r="4.25"/><circle cx="179.0" cy="339.3" r="4.25"/><circle cx="177.3" cy="374.7" r="4.25"/><circle cx="189.6" cy="368.7" r="4.25"/><circle cx="168.2" cy="374.7" r="4.25"/><circle cx="173.3" cy="374.6" r="4.25"/><circle cx="169.0" cy="410.5" r="4.25"/><circle cx="187.4" cy="364.2" r="4.25"/><circle cx="173.5" cy="365.8" r="4.25"/><circle cx="166.6" cy="411.6" r="4.25"/><circle cx="186.9" cy="460.3" r="4.25"/><circle cx="179.7" cy="411.3" r="4.25"/><circle cx="160.5" cy="464.2" r="4.25"/><circle cx="172.9" cy="337.9" r="4.25"/><circle cx="170.2" cy="437.7" r="4.25"/><circle cx="185.3" cy="317.6" r="4.25"/><circle cx="190.4" cy="386.3" r="4.25"/><circle cx="180.0" cy="338.7" r="4.25"/><circle cx="178.5" cy="351.9" r="4.25"/><circle cx="181.9" cy="370.0" r="4.25"/><circle cx="161.5" cy="254.4" r="4.25"/><circle cx="164.0" cy="454.6" r="4.25"/><circle cx="167.8" cy="349.6" r="4.25"/><circle cx="158.5" cy="367.9" r="4.25"/><circle cx="159.5" cy="395.6" r="4.25"/><circle cx="173.2" cy="346.5" r="4.25"/><circle cx="182.9" cy="356.5" r="4.25"/><circle cx="164.0" cy="410.6" r="4.25"/><circle cx="189.6" cy="392.6" r="4.25"/><circle cx="161.7" cy="474.6" r="4.25"/><circle cx="181.4" cy="396.4" r="4.25"/><circle cx="163.9" cy="412.4" r="4.25"/><circle cx="183.4" cy="398.0" r="4.25"/><circle cx="180.9" cy="436.2" r="4.25"/><circle cx="167.0" cy="376.8" r="4.25"/><circle cx="162.1" cy="461.8" r="4.25"/><circle cx="162.3" cy="367.8" r="4.25"/><circle cx="159.7" cy="508.7" r="4.25"/><circle cx="161.8" cy="384.6" r="4.25"/><circle cx="169.5" cy="514.5" r="4.25"/><circle cx="161.3" cy="394.2" r="4.25"/><circle cx="177.9" cy="375.4" r="4.25"/><circle cx="167.4" cy="352.8" r="4.25"/><circle cx="175.1" cy="393.9" r="4.25"/><circle cx="159.0" cy="387.3" r="4.25"/><circle cx="158.9" cy="347.7" r="4.25"/><circle cx="191.2" cy="469.8" r="4.25"/><circle cx="158.7" cy="456.0" r="4.25"/><circle cx="179.3" cy="385.9" r="4.25"/><circle cx="176.0" cy="308.0" r="4.25"/><circle cx="188.7" cy="327.4" r="4.25"/><circle cx="180.4" cy="432.5" r="4.25"/><circle cx="170.7" cy="375.3" r="4.25"/><circle cx="177.4" cy="362.9" r="4.25"/><circle cx="186.3" cy="392.8" r="4.25"/><circle cx="183.5" cy="402.4" r="4.25"/><circle cx="161.5" cy="410.7" r="4.25"/><circle cx="182.1" cy="359.4" r="4.25"/><circle cx="181.8" cy="437.9" r="4.25"/><circle cx="182.5" cy="437.4" r="4.25"/><circle cx="186.1" cy="373.0" r="4.25"/><circle cx="181.1" cy="382.6" r="4.25"/><circle cx="167.2" cy="370.3" r="4.25"/><circle cx="191.2" cy="400.6" r="4.25"/><circle cx="183.1" cy="349.6" r="4.25"/><circle cx="177.2" cy="427.1" r="4.25"/><circle cx="175.0" cy="353.3" r="4.25"/><circle cx="161.5" cy="408.0" r="4.25"/><circle cx="179.0" cy="350.4" r="4.25"/><circle cx="181.5" cy="385.3" r="4.25"/><circle cx="183.5" cy="339.6" r="4.25"/><circle cx="181.3" cy="371.0" r="4.25"/><circle cx="174.3" cy="390.1" r="4.25"/><circle cx="165.1" cy="353.8" r="4.25"/><circle cx="177.3" cy="395.8" r="4.25"/><circle cx="177.5" cy="402.6" r="4.25"/><circle cx="186.9" cy="438.0" r="4.25"/><circle cx="191.3" cy="397.0" r="4.25"/><circle cx="171.7" cy="363.8" r="4.25"/><circle cx="188.5" cy="395.0" r="4.25"/><circle cx="191.9" cy="380.7" r="4.25"/><circle cx="176.4" cy="378.4" r="4.25"/><circle cx="160.3" cy="390.5" r="4.25"/><circle cx="160.2" cy="359.7" r="4.25"/><circle cx="170.8" cy="416.4" r="4.25"/><circle cx="182.1" cy="437.0" r="4.25"/><circle cx="187.3" cy="446.4" r="4.25"/><circle cx="172.0" cy="382.7" r="4.25"/><circle cx="184.5" cy="376.5" r="4.25"/><circle cx="169.8" cy="289.8" r="4.25"/><circle cx="191.2" cy="361.2" r="4.25"/><circle cx="174.6" cy="426.3" r="4.25"/><circle cx="164.8" cy="411.2" r="4.25"/><circle cx="171.2" cy="312.0" r="4.25"/><circle cx="179.8" cy="369.7" r="4.25"/><circle cx="188.6" cy="424.9" r="4.25"/><circle cx="178.7" cy="340.8" r="4.25"/><circle cx="178.7" cy="397.7" r="4.25"/><circle cx="171.9" cy="408.5" r="4.25"/><circle cx="164.9" cy="370.9" r="4.25"/><circle cx="169.8" cy="394.2" r="4.25"/><circle cx="167.4" cy="374.3" r="4.25"/><circle cx="185.0" cy="259.9" r="4.25"/><circle cx="166.0" cy="474.5" r="4.25"/><circle cx="179.5" cy="398.9" r="4.25"/><circle cx="175.1" cy="343.6" r="4.25"/><circle cx="162.3" cy="328.9" r="4.25"/><circle cx="160.0" cy="336.8" r="4.25"/><circle cx="177.4" cy="441.5" r="4.25"/><circle cx="192.0" cy="482.9" r="4.25"/><circle cx="162.6" cy="483.2" r="4.25"/><circle cx="163.4" cy="411.0" r="4.25"/><circle cx="160.4" cy="465.8" r="4.25"/><circle cx="174.0" cy="337.3" r="4.25"/><circle cx="172.3" cy="473.0" r="4.25"/><circle cx="190.8" cy="338.5" r="4.25"/><circle cx="183.4" cy="306.5" r="4.25"/><circle cx="166.3" cy="378.7" r="4.25"/><circle cx="165.7" cy="417.9" r="4.25"/><circle cx="162.5" cy="408.1" r="4.25"/><circle cx="171.1" cy="283.7" r="4.25"/><circle cx="190.6" cy="365.7" r="4.25"/><circle cx="170.5" cy="419.9" r="4.25"/><circle cx="187.1" cy="380.0" r="4.25"/><circle cx="166.0" cy="429.2" r="4.25"/><circle cx="182.8" cy="342.4" r="4.25"/><circle cx="175.8" cy="358.6" r="4.25"/><circle cx="171.6" cy="406.7" r="4.25"/><circle cx="164.1" cy="425.9" r="4.25"/><circle cx="187.7" cy="345.8" r="4.25"/><circle cx="189.5" cy="321.7" r="4.25"/><circle cx="187.0" cy="396.3" r="4.25"/><circle cx="175.1" cy="413.9" r="4.25"/><circle cx="169.4" cy="497.4" r="4.25"/><circle cx="179.2" cy="406.4" r="4.25"/><circle cx="172.0" cy="421.6" r="4.25"/><circle cx="167.9" cy="384.8" r="4.25"/><circle cx="184.6" cy="378.5" r="4.25"/><circle cx="191.1" cy="330.5" r="4.25"/><circle cx="190.7" cy="383.6" r="4.25"/><circle cx="178.1" cy="375.3" r="4.25"/><circle cx="190.3" cy="426.4" r="4.25"/><circle cx="178.4" cy="352.8" r="4.25"/><circle cx="177.9" cy="401.7" r="4.25"/><circle cx="177.8" cy="397.0" r="4.25"/><circle cx="175.9" cy="420.2" r="4.25"/><circle cx="167.2" cy="404.2" r="4.25"/><circle cx="160.9" cy="411.7" r="4.25"/><circle cx="183.5" cy="479.3" r="4.25"/><circle cx="189.6" cy="476.3" r="4.25"/><circle cx="186.5" cy="311.3" r="4.25"/><circle cx="161.8" cy="388.0" r="4.25"/><circle cx="166.4" cy="338.8" r="4.25"/><circle cx="189.5" cy="408.5" r="4.25"/><circle cx="187.9" cy="510.2" r="4.25"/><circle cx="158.6" cy="437.2" r="4.25"/><circle cx="158.4" cy="397.8" r="4.25"/><circle cx="184.4" cy="385.9" r="4.25"/><circle cx="176.7" cy="415.5" r="4.25"/><circle cx="160.9" cy="416.5" r="4.25"/><circle cx="173.7" cy="375.6" r="4.25"/><circle cx="168.7" cy="381.3" r="4.25"/><circle cx="184.2" cy="345.4" r="4.25"/><circle cx="177.2" cy="410.7" r="4.25"/><circle cx="170.9" cy="349.9" r="4.25"/><circle cx="158.5" cy="436.2" r="4.25"/><circle cx="190.2" cy="407.1" r="4.25"/><circle cx="176.7" cy="595.4" r="4.25"/><circle cx="171.7" cy="439.0" r="4.25"/><circle cx="183.6" cy="432.2" r="4.25"/><circle cx="183.2" cy="358.8" r="4.25"/><circle cx="184.5" cy="457.4" r="4.25"/><circle cx="178.6" cy="390.3" r="4.25"/><circle cx="162.6" cy="427.2" r="4.25"/><circle cx="172.7" cy="401.7" r="4.25"/><circle cx="158.2" cy="385.2" r="4.25"/><circle cx="177.4" cy="376.4" r="4.25"/><circle cx="174.8" cy="447.2" r="4.25"/><circle cx="190.8" cy="402.6" r="4.25"/><circle cx="171.9" cy="375.0" r="4.25"/><circle cx="174.7" cy="336.6" r="4.25"/><circle cx="189.3" cy="412.8" r="4.25"/><circle cx="181.0" cy="440.2" r="4.25"/><circle cx="182.4" cy="396.4" r="4.25"/><circle cx="180.8" cy="459.2" r="4.25"/><circle cx="158.7" cy="377.3" r="4.25"/><circle cx="185.3" cy="337.5" r="4.25"/><circle cx="175.4" cy="271.1" r="4.25"/><circle cx="178.9" cy="369.7" r="4.25"/><circle cx="186.0" cy="455.0" r="4.25"/><circle cx="169.8" cy="381.5" r="4.25"/><circle cx="171.3" cy="367.6" r="4.25"/><circle cx="180.5" cy="385.1" r="4.25"/><circle cx="180.2" cy="420.2" r="4.25"/><circle cx="164.3" cy="391.0" r="4.25"/><circle cx="190.0" cy="449.4" r="4.25"/><circle cx="164.2" cy="441.6" r="4.25"/><circle cx="187.9" cy="392.4" r="4.25"/><circle cx="173.8" cy="352.4" r="4.25"/><circle cx="178.6" cy="512.5" r="4.25"/><circle cx="183.8" cy="470.8" r="4.25"/><circle cx="161.0" cy="396.7" r="4.25"/><circle cx="183.7" cy="414.3" r="4.25"/><circle cx="169.9" cy="399.5" r="4.25"/><circle cx="171.7" cy="436.0" r="4.25"/><circle cx="190.7" cy="387.9" r="4.25"/><circle cx="177.2" cy="418.4" r="4.25"/><circle cx="159.7" cy="393.2" r="4.25"/><circle cx="162.1" cy="413.2" r="4.25"/><circle cx="158.7" cy="344.9" r="4.25"/><circle cx="162.4" cy="409.9" r="4.25"/><circle cx="159.7" cy="299.7" r="4.25"/><circle cx="189.0" cy="419.6" r="4.25"/><circle cx="187.4" cy="343.2" r="4.25"/><circle cx="183.7" cy="386.0" r="4.25"/><circle cx="187.0" cy="443.1" r="4.25"/><circle cx="174.5" cy="433.2" r="4.25"/><circle cx="166.2" cy="443.4" r="4.25"/><circle cx="163.5" cy="451.8" r="4.25"/><circle cx="178.0" cy="406.8" r="4.25"/><circle cx="166.1" cy="339.8" r="4.25"/><circle cx="176.8" cy="371.8" r="4.25"/><circle cx="177.8" cy="412.9" r="4.25"/><circle cx="177.5" cy="365.1" r="4.25"/><circle cx="163.6" cy="381.9" r="4.25"/><circle cx="176.4" cy="356.0" r="4.25"/><circle cx="185.0" cy="383.2" r="4.25"/><circle cx="163.8" cy="385.6" r="4.25"/><circle cx="158.7" cy="347.4" r="4.25"/><circle cx="189.2" cy="428.9" r="4.25"/><circle cx="187.7" cy="340.7" r="4.25"/><circle cx="188.2" cy="308.4" r="4.25"/><circle cx="181.9" cy="428.6" r="4.25"/><circle cx="173.5" cy="426.0" r="4.25"/><circle cx="190.2" cy="424.6" r="4.25"/><circle cx="162.4" cy="446.0" r="4.25"/><circle cx="170.8" cy="378.6" r="4.25"/><circle cx="166.8" cy="405.0" r="4.25"/><circle cx="169.8" cy="388.2" r="4.25"/><circle cx="187.1" cy="397.7" r="4.25"/><circle cx="171.5" cy="407.5" r="4.25"/><circle cx="185.5" cy="401.4" r="4.25"/><circle cx="189.6" cy="382.6" r="4.25"/><circle cx="170.7" cy="455.8" r="4.25"/><circle cx="191.8" cy="363.2" r="4.25"/><circle cx="189.7" cy="418.4" r="4.25"/><circle cx="160.3" cy="329.3" r="4.25"/><circle cx="183.4" cy="365.6" r="4.25"/><circle cx="185.4" cy="392.5" r="4.25"/><circle cx="189.0" cy="420.0" r="4.25"/><circle cx="184.4" cy="401.1" r="4.25"/><circle cx="189.8" cy="472.9" r="4.25"/><circle cx="164.2" cy="516.4" r="4.25"/><circle cx="190.6" cy="405.8" r="4.25"/><circle cx="175.2" cy="442.8" r="4.25"/><circle cx="185.0" cy="376.0" r="4.25"/><circle cx="184.1" cy="421.4" r="4.25"/><circle cx="171.2" cy="382.5" r="4.25"/><circle cx="185.6" cy="473.6" r="4.25"/><circle cx="162.9" cy="397.1" r="4.25"/><circle cx="169.7" cy="324.9" r="4.25"/><circle cx="168.6" cy="393.5" r="4.25"/><circle cx="161.4" cy="383.4" r="4.25"/><circle cx="189.7" cy="409.6" r="4.25"/><circle cx="178.6" cy="412.1" r="4.25"/><circle cx="188.7" cy="475.0" r="4.25"/><circle cx="177.1" cy="388.8" r="4.25"/><circle cx="180.8" cy="447.3" r="4.25"/><circle cx="159.8" cy="414.3" r="4.25"/><circle cx="158.6" cy="362.8" r="4.25"/><circle cx="180.6" cy="415.4" r="4.25"/><circle cx="180.0" cy="397.1" r="4.25"/><circle cx="186.0" cy="515.3" r="4.25"/><circle cx="176.8" cy="417.4" r="4.25"/><circle cx="181.1" cy="418.3" r="4.25"/><circle cx="177.8" cy="332.1" r="4.25"/><circle cx="175.9" cy="501.8" r="4.25"/><circle cx="177.0" cy="409.5" r="4.25"/><circle cx="191.0" cy="417.7" r="4.25"/><circle cx="190.0" cy="433.4" r="4.25"/><circle cx="187.0" cy="419.0" r="4.25"/><circle cx="176.5" cy="440.4" r="4.25"/><circle cx="166.9" cy="378.7" r="4.25"/><circle cx="191.0" cy="394.0" r="4.25"/><circle cx="190.1" cy="409.6" r="4.25"/><circle cx="166.7" cy="320.8" r="4.25"/><circle cx="179.6" cy="469.5" r="4.25"/><circle cx="164.2" cy="472.2" r="4.25"/><circle cx="167.1" cy="358.0" r="4.25"/><circle cx="159.6" cy="373.3" r="4.25"/><circle cx="183.7" cy="411.8" r="4.25"/><circle cx="185.4" cy="373.2" r="4.25"/><circle cx="178.9" cy="455.1" r="4.25"/><circle cx="173.4" cy="355.4" r="4.25"/><circle cx="160.1" cy="498.5" r="4.25"/><circle cx="184.6" cy="392.4" r="4.25"/><circle cx="182.7" cy="387.8" r="4.25"/><circle cx="181.9" cy="396.5" r="4.25"/><circle cx="171.2" cy="399.2" r="4.25"/><circle cx="165.5" cy="452.0" r="4.25"/><circle cx="160.3" cy="362.3" r="4.25"/><circle cx="163.0" cy="379.6" r="4.25"/><circle cx="185.4" cy="302.6" r="4.25"/><circle cx="170.6" cy="407.7" r="4.25"/><circle cx="169.3" cy="325.6" r="4.25"/><circle cx="191.0" cy="366.8" r="4.25"/><circle cx="172.6" cy="365.6" r="4.25"/><circle cx="175.0" cy="466.8" r="4.25"/><circle cx="179.4" cy="386.7" r="4.25"/><circle cx="177.3" cy="454.0" r="4.25"/><circle cx="173.8" cy="415.2" r="4.25"/><circle cx="164.0" cy="400.7" r="4.25"/><circle cx="187.2" cy="392.6" r="4.25"/><circle cx="167.1" cy="390.8" r="4.25"/><circle cx="170.2" cy="430.4" r="4.25"/><circle cx="173.5" cy="448.0" r="4.25"/><circle cx="163.4" cy="407.6" r="4.25"/><circle cx="180.8" cy="419.7" r="4.25"/><circle cx="185.1" cy="390.8" r="4.25"/><circle cx="180.4" cy="337.5" r="4.25"/><circle cx="187.3" cy="392.2" r="4.25"/><circle cx="178.7" cy="426.8" r="4.25"/><circle cx="177.0" cy="401.9" r="4.25"/><circle cx="168.5" cy="389.8" r="4.25"/><circle cx="191.5" cy="406.8" r="4.25"/><circle cx="166.4" cy="382.3" r="4.25"/><circle cx="183.3" cy="396.7" r="4.25"/><circle cx="165.7" cy="344.6" r="4.25"/><circle cx="177.4" cy="417.4" r="4.25"/><circle cx="163.9" cy="474.8" r="4.25"/><circle cx="165.5" cy="393.1" r="4.25"/><circle cx="159.4" cy="332.6" r="4.25"/><circle cx="186.6" cy="467.6" r="4.25"/><circle cx="185.3" cy="427.3" r="4.25"/><circle cx="160.3" cy="473.1" r="4.25"/><circle cx="186.6" cy="350.8" r="4.25"/><circle cx="159.3" cy="381.4" r="4.25"/><circle cx="160.0" cy="437.1" r="4.25"/><circle cx="187.1" cy="449.9" r="4.25"/><circle cx="187.0" cy="359.8" r="4.25"/><circle cx="189.0" cy="391.8" r="4.25"/><circle cx="179.6" cy="441.1" r="4.25"/><circle cx="159.4" cy="352.0" r="4.25"/><circle cx="160.3" cy="405.3" r="4.25"/><circle cx="158.5" cy="417.7" r="4.25"/><circle cx="162.5" cy="443.8" r="4.25"/><circle cx="186.3" cy="504.3" r="4.25"/><circle cx="175.3" cy="410.7" r="4.25"/><circle cx="191.9" cy="399.3" r="4.25"/><circle cx="169.9" cy="339.0" r="4.25"/><circle cx="159.6" cy="381.3" r="4.25"/><circle cx="182.1" cy="434.2" r="4.25"/><circle cx="185.9" cy="426.4" r="4.25"/><circle cx="167.9" cy="454.7" r="4.25"/><circle cx="162.0" cy="381.4" r="4.25"/><circle cx="158.4" cy="409.0" r="4.25"/><circle cx="180.2" cy="414.9" r="4.25"/><circle cx="159.8" cy="353.7" r="4.25"/><circle cx="181.6" cy="439.5" r="4.25"/><circle cx="162.5" cy="431.4" r="4.25"/><circle cx="184.7" cy="310.4" r="4.25"/><circle cx="180.5" cy="364.3" r="4.25"/><circle cx="185.3" cy="297.9" r="4.25"/><circle cx="170.4" cy="403.5" r="4.25"/><circle cx="161.5" cy="337.8" r="4.25"/><circle cx="188.7" cy="358.3" r="4.25"/><circle cx="169.1" cy="392.1" r="4.25"/><circle cx="171.7" cy="397.6" r="4.25"/><circle cx="191.0" cy="378.6" r="4.25"/><circle cx="168.3" cy="326.5" r="4.25"/><circle cx="158.4" cy="459.4" r="4.25"/><circle cx="180.6" cy="427.7" r="4.25"/><circle cx="185.3" cy="375.9" r="4.25"/><circle cx="180.7" cy="399.7" r="4.25"/><circle cx="175.2" cy="338.2" r="4.25"/><circle cx="190.2" cy="406.8" r="4.25"/><circle cx="174.3" cy="364.4" r="4.25"/><circle cx="165.2" cy="427.7" r="4.25"/><circle cx="178.9" cy="413.0" r="4.25"/><circle cx="177.0" cy="405.0" r="4.25"/><circle cx="186.0" cy="390.1" r="4.25"/><circle cx="189.0" cy="417.7" r="4.25"/><circle cx="168.4" cy="360.4" r="4.25"/><circle cx="187.5" cy="401.5" r="4.25"/><circle cx="171.8" cy="394.2" r="4.25"/><circle cx="171.2" cy="398.1" r="4.25"/><circle cx="165.6" cy="407.0" r="4.25"/><circle cx="189.1" cy="361.8" r="4.25"/><circle cx="158.3" cy="451.3" r="4.25"/><circle cx="160.2" cy="362.0" r="4.25"/><circle cx="177.4" cy="417.1" r="4.25"/><circle cx="176.5" cy="372.1" r="4.25"/><circle cx="163.9" cy="421.6" r="4.25"/><circle cx="183.4" cy="412.2" r="4.25"/><circle cx="160.4" cy="478.8" r="4.25"/><circle cx="163.6" cy="444.6" r="4.25"/><circle cx="181.8" cy="487.6" r="4.25"/><circle cx="165.3" cy="361.6" r="4.25"/><circle cx="159.4" cy="404.7" r="4.25"/><circle cx="168.4" cy="330.3" r="4.25"/><circle cx="167.8" cy="407.1" r="4.25"/><circle cx="177.5" cy="330.4" r="4.25"/><circle cx="163.4" cy="445.0" r="4.25"/><circle cx="176.9" cy="379.4" r="4.25"/><circle cx="168.8" cy="366.1" r="4.25"/><circle cx="183.4" cy="400.0" r="4.25"/><circle cx="182.4" cy="363.5" r="4.25"/><circle cx="175.5" cy="327.8" r="4.25"/><circle cx="174.3" cy="189.3" r="4.25"/><circle cx="187.9" cy="384.5" r="4.25"/><circle cx="188.4" cy="365.5" r="4.25"/><circle cx="161.9" cy="413.8" r="4.25"/><circle cx="181.4" cy="408.3" r="4.25"/><circle cx="159.7" cy="496.0" r="4.25"/><circle cx="174.9" cy="389.2" r="4.25"/><circle cx="166.4" cy="378.0" r="4.25"/><circle cx="186.4" cy="369.6" r="4.25"/><circle cx="165.6" cy="339.1" r="4.25"/><circle cx="162.9" cy="416.1" r="4.25"/><circle cx="168.8" cy="406.0" r="4.25"/><circle cx="178.7" cy="394.5" r="4.25"/><circle cx="158.7" cy="383.0" r="4.25"/><circle cx="159.5" cy="333.2" r="4.25"/><circle cx="178.5" cy="396.0" r="4.25"/><circle cx="186.8" cy="478.1" r="4.25"/><circle cx="168.6" cy="442.9" r="4.25"/><circle cx="161.3" cy="415.0" r="4.25"/><circle cx="189.5" cy="379.5" r="4.25"/><circle cx="161.3" cy="406.9" r="4.25"/><circle cx="160.0" cy="413.1" r="4.25"/><circle cx="163.1" cy="299.8" r="4.25"/><circle cx="188.9" cy="427.9" r="4.25"/><circle cx="175.2" cy="376.8" r="4.25"/><circle cx="177.6" cy="318.4" r="4.25"/><circle cx="190.3" cy="392.0" r="4.25"/><circle cx="166.7" cy="371.8" r="4.25"/><circle cx="167.1" cy="391.6" r="4.25"/><circle cx="175.3" cy="361.5" r="4.25"/><circle cx="176.6" cy="465.6" r="4.25"/><circle cx="169.6" cy="405.8" r="4.25"/><circle cx="167.6" cy="384.5" r="4.25"/><circle cx="165.1" cy="450.9" r="4.25"/><circle cx="186.4" cy="429.7" r="4.25"/><circle cx="167.5" cy="377.1" r="4.25"/><circle cx="175.4" cy="385.1" r="4.25"/><circle cx="169.0" cy="478.7" r="4.25"/><circle cx="182.0" cy="398.3" r="4.25"/><circle cx="180.8" cy="403.8" r="4.25"/><circle cx="189.6" cy="415.1" r="4.25"/><circle cx="169.1" cy="396.8" r="4.25"/><circle cx="184.2" cy="332.5" r="4.25"/><circle cx="174.4" cy="410.7" r="4.25"/><circle cx="187.4" cy="370.2" r="4.25"/><circle cx="181.2" cy="526.5" r="4.25"/><circle cx="175.5" cy="273.5" r="4.25"/><circle cx="172.9" cy="411.8" r="4.25"/><circle cx="181.8" cy="355.7" r="4.25"/><circle cx="178.0" cy="316.6" r="4.25"/><circle cx="162.6" cy="381.8" r="4.25"/><circle cx="180.5" cy="404.2" r="4.25"/><circle cx="185.7" cy="362.8" r="4.25"/><circle cx="159.0" cy="408.4" r="4.25"/><circle cx="159.3" cy="437.3" r="4.25"/><circle cx="187.2" cy="426.6" r="4.25"/><circle cx="183.6" cy="369.2" r="4.25"/><circle cx="185.8" cy="386.4" r="4.25"/><circle cx="164.0" cy="337.9" r="4.25"/><circle cx="186.8" cy="398.8" r="4.25"/><circle cx="186.5" cy="415.2" r="4.25"/><circle cx="186.6" cy="410.0" r="4.25"/><circle cx="179.5" cy="382.2" r="4.25"/><circle cx="165.8" cy="404.3" r="4.25"/><circle cx="181.5" cy="378.9" r="4.25"/><circle cx="188.6" cy="402.5" r="4.25"/><circle cx="160.7" cy="442.3" r="4.25"/><circle cx="187.0" cy="447.9" r="4.25"/><circle cx="164.4" cy="377.0" r="4.25"/><circle cx="180.4" cy="383.2" r="4.25"/><circle cx="182.9" cy="484.4" r="4.25"/><circle cx="177.8" cy="336.9" r="4.25"/><circle cx="190.2" cy="369.9" r="4.25"/><circle cx="179.8" cy="385.3" r="4.25"/><circle cx="158.5" cy="343.0" r="4.25"/><circle cx="160.1" cy="371.6" r="4.25"/><circle cx="186.3" cy="297.6" r="4.25"/><circle cx="189.7" cy="407.6" r="4.25"/><circle cx="180.4" cy="360.8" r="4.25"/><circle cx="181.4" cy="417.0" r="4.25"/><circle cx="160.4" cy="416.2" r="4.25"/><circle cx="173.7" cy="446.7" r="4.25"/><circle cx="177.1" cy="412.8" r="4.25"/><circle cx="179.1" cy="451.0" r="4.25"/><circle cx="164.5" cy="395.0" r="4.25"/><circle cx="166.7" cy="390.6" r="4.25"/><circle cx="180.2" cy="368.2" r="4.25"/><circle cx="182.8" cy="419.0" r="4.25"/><circle cx="177.5" cy="338.3" r="4.25"/><circle cx="180.9" cy="334.6" r="4.25"/><circle cx="175.2" cy="432.8" r="4.25"/><circle cx="163.6" cy="485.8" r="4.25"/><circle cx="174.1" cy="419.2" r="4.25"/><circle cx="181.9" cy="412.6" r="4.25"/><circle cx="190.2" cy="303.3" r="4.25"/><circle cx="191.6" cy="427.4" r="4.25"/><circle cx="175.5" cy="407.1" r="4.25"/><circle cx="179.1" cy="390.3" r="4.25"/><circle cx="184.7" cy="314.0" r="4.25"/><circle cx="158.3" cy="420.3" r="4.25"/><circle cx="160.5" cy="300.1" r="4.25"/><circle cx="191.4" cy="376.9" r="4.25"/><circle cx="184.7" cy="380.7" r="4.25"/><circle cx="179.0" cy="421.9" r="4.25"/><circle cx="179.9" cy="390.8" r="4.25"/><circle cx="162.9" cy="440.2" r="4.25"/><circle cx="169.0" cy="408.3" r="4.25"/><circle cx="181.7" cy="352.4" r="4.25"/><circle cx="166.9" cy="342.1" r="4.25"/><circle cx="165.0" cy="355.4" r="4.25"/><circle cx="176.6" cy="439.2" r="4.25"/><circle cx="178.9" cy="406.5" r="4.25"/><circle cx="185.7" cy="421.7" r="4.25"/><circle cx="172.2" cy="369.1" r="4.25"/><circle cx="187.4" cy="435.9" r="4.25"/><circle cx="169.8" cy="356.3" r="4.25"/><circle cx="190.4" cy="420.7" r="4.25"/><circle cx="179.2" cy="416.9" r="4.25"/><circle cx="160.4" cy="402.6" r="4.25"/><circle cx="185.8" cy="413.9" r="4.25"/><circle cx="177.8" cy="457.5" r="4.25"/><circle cx="181.5" cy="386.1" r="4.25"/><circle cx="170.5" cy="373.2" r="4.25"/><circle cx="180.1" cy="390.7" r="4.25"/><circle cx="172.4" cy="434.0" r="4.25"/><circle cx="158.9" cy="323.0" r="4.25"/><circle cx="169.9" cy="469.1" r="4.25"/><circle cx="187.8" cy="402.1" r="4.25"/><circle cx="178.3" cy="408.7" r="4.25"/><circle cx="177.4" cy="408.9" r="4.25"/><circle cx="171.3" cy="354.7" r="4.25"/><circle cx="175.2" cy="411.4" r="4.25"/><circle cx="175.1" cy="386.4" r="4.25"/><circle cx="180.0" cy="389.9" r="4.25"/><circle cx="178.7" cy="374.4" r="4.25"/><circle cx="181.3" cy="419.1" r="4.25"/><circle cx="163.7" cy="406.2" r="4.25"/><circle cx="186.8" cy="344.1" r="4.25"/><circle cx="165.7" cy="485.1" r="4.25"/><circle cx="173.8" cy="411.5" r="4.25"/><circle cx="176.0" cy="443.5" r="4.25"/><circle cx="179.7" cy="416.9" r="4.25"/><circle cx="187.3" cy="353.9" r="4.25"/><circle cx="167.9" cy="380.6" r="4.25"/><circle cx="181.0" cy="428.4" r="4.25"/><circle cx="172.7" cy="398.0" r="4.25"/><circle cx="159.9" cy="476.4" r="4.25"/><circle cx="166.0" cy="400.8" r="4.25"/><circle cx="181.5" cy="402.0" r="4.25"/><circle cx="160.6" cy="419.7" r="4.25"/><circle cx="160.3" cy="352.3" r="4.25"/><circle cx="187.7" cy="374.2" r="4.25"/><circle cx="185.4" cy="353.7" r="4.25"/><circle cx="169.4" cy="466.0" r="4.25"/><circle cx="178.6" cy="355.0" r="4.25"/><circle cx="163.5" cy="259.5" r="4.25"/><circle cx="178.9" cy="442.9" r="4.25"/><circle cx="177.7" cy="540.0" r="4.25"/><circle cx="189.4" cy="470.3" r="4.25"/><circle cx="188.8" cy="400.4" r="4.25"/><circle cx="190.1" cy="324.4" r="4.25"/><circle cx="167.2" cy="419.6" r="4.25"/><circle cx="173.8" cy="402.3" r="4.25"/><circle cx="158.6" cy="348.7" r="4.25"/><circle cx="190.8" cy="440.6" r="4.25"/><circle cx="171.0" cy="383.1" r="4.25"/><circle cx="168.1" cy="380.8" r="4.25"/><circle cx="164.7" cy="389.8" r="4.25"/><circle cx="182.1" cy="422.8" r="4.25"/><circle cx="190.5" cy="407.0" r="4.25"/><circle cx="189.7" cy="491.1" r="4.25"/><circle cx="179.6" cy="330.2" r="4.25"/><circle cx="170.5" cy="418.1" r="4.25"/><circle cx="188.2" cy="469.3" r="4.25"/><circle cx="180.1" cy="417.2" r="4.25"/><circle cx="179.6" cy="380.3" r="4.25"/><circle cx="186.4" cy="418.2" r="4.25"/><circle cx="189.2" cy="366.2" r="4.25"/><circle cx="174.6" cy="334.0" r="4.25"/><circle cx="172.7" cy="322.8" r="4.25"/><circle cx="190.0" cy="370.3" r="4.25"/><circle cx="167.4" cy="381.4" r="4.25"/><circle cx="176.2" cy="332.0" r="4.25"/><circle cx="173.5" cy="382.5" r="4.25"/><circle cx="173.3" cy="404.5" r="4.25"/><circle cx="183.7" cy="342.8" r="4.25"/><circle cx="165.3" cy="401.4" r="4.25"/><circle cx="184.1" cy="464.0" r="4.25"/><circle cx="163.9" cy="482.7" r="4.25"/><circle cx="168.3" cy="396.6" r="4.25"/><circle cx="159.0" cy="391.3" r="4.25"/><circle cx="161.8" cy="405.1" r="4.25"/><circle cx="159.2" cy="407.6" r="4.25"/><circle cx="187.7" cy="460.2" r="4.25"/><circle cx="163.1" cy="381.0" r="4.25"/><circle cx="182.1" cy="457.1" r="4.25"/><circle cx="178.2" cy="417.7" r="4.25"/><circle cx="169.1" cy="359.1" r="4.25"/><circle cx="186.3" cy="452.4" r="4.25"/><circle cx="187.2" cy="319.2" r="4.25"/><circle cx="167.7" cy="389.6" r="4.25"/><circle cx="186.7" cy="332.8" r="4.25"/><circle cx="158.6" cy="402.8" r="4.25"/><circle cx="190.0" cy="458.5" r="4.25"/><circle cx="158.5" cy="452.3" r="4.25"/><circle cx="159.2" cy="437.5" r="4.25"/><circle cx="180.0" cy="456.7" r="4.25"/><circle cx="177.4" cy="363.9" r="4.25"/><circle cx="188.2" cy="411.8" r="4.25"/><circle cx="164.6" cy="405.6" r="4.25"/><circle cx="185.4" cy="399.1" r="4.25"/><circle cx="186.4" cy="432.6" r="4.25"/><circle cx="177.2" cy="418.6" r="4.25"/><circle cx="172.2" cy="449.0" r="4.25"/><circle cx="165.0" cy="305.2" r="4.25"/><circle cx="183.0" cy="312.7" r="4.25"/><circle cx="161.5" cy="405.3" r="4.25"/><circle cx="170.4" cy="434.9" r="4.25"/><circle cx="158.7" cy="400.0" r="4.25"/><circle cx="168.6" cy="360.9" r="4.25"/><circle cx="173.0" cy="415.7" r="4.25"/><circle cx="158.7" cy="382.0" r="4.25"/><circle cx="189.5" cy="324.6" r="4.25"/><circle cx="174.4" cy="401.9" r="4.25"/><circle cx="177.6" cy="398.0" r="4.25"/><circle cx="189.8" cy="403.5" r="4.25"/><circle cx="185.6" cy="393.3" r="4.25"/><circle cx="165.8" cy="431.5" r="4.25"/><circle cx="174.1" cy="441.4" r="4.25"/><circle cx="166.1" cy="399.6" r="4.25"/><circle cx="168.9" cy="373.3" r="4.25"/><circle cx="185.0" cy="405.4" r="4.25"/><circle cx="184.9" cy="390.7" r="4.25"/><circle cx="180.6" cy="396.9" r="4.25"/><circle cx="161.6" cy="405.6" r="4.25"/><circle cx="158.4" cy="401.1" r="4.25"/><circle cx="166.9" cy="431.4" r="4.25"/><circle cx="179.8" cy="377.2" r="4.25"/><circle cx="185.8" cy="423.4" r="4.25"/><circle cx="172.6" cy="499.5" r="4.25"/><circle cx="186.7" cy="430.6" r="4.25"/><circle cx="183.1" cy="445.6" r="4.25"/><circle cx="173.3" cy="388.7" r="4.25"/><circle cx="189.7" cy="368.5" r="4.25"/><circle cx="186.9" cy="414.3" r="4.25"/><circle cx="182.5" cy="427.7" r="4.25"/><circle cx="173.1" cy="470.1" r="4.25"/><circle cx="175.4" cy="434.5" r="4.25"/><circle cx="181.9" cy="462.8" r="4.25"/><circle cx="191.2" cy="444.5" r="4.25"/><circle cx="173.2" cy="414.1" r="4.25"/><circle cx="165.3" cy="389.4" r="4.25"/><circle cx="191.4" cy="316.4" r="4.25"/><circle cx="182.7" cy="374.3" r="4.25"/><circle cx="180.1" cy="454.8" r="4.25"/><circle cx="165.4" cy="379.1" r="4.25"/><circle cx="180.8" cy="418.0" r="4.25"/><circle cx="160.9" cy="424.8" r="4.25"/><circle cx="171.8" cy="356.9" r="4.25"/><circle cx="190.3" cy="371.3" r="4.25"/><circle cx="187.5" cy="374.8" r="4.25"/><circle cx="168.8" cy="400.8" r="4.25"/><circle cx="166.4" cy="487.9" r="4.25"/><circle cx="171.6" cy="296.6" r="4.25"/><circle cx="182.9" cy="454.1" r="4.25"/><circle cx="165.3" cy="595.4" r="4.25"/><circle cx="169.7" cy="443.7" r="4.25"/><circle cx="164.5" cy="455.5" r="4.25"/><circle cx="174.8" cy="381.4" r="4.25"/><circle cx="158.7" cy="440.5" r="4.25"/><circle cx="168.5" cy="403.2" r="4.25"/><circle cx="167.2" cy="372.1" r="4.25"/><circle cx="191.5" cy="398.4" r="4.25"/><circle cx="174.1" cy="414.1" r="4.25"/><circle cx="166.9" cy="397.4" r="4.25"/><circle cx="181.9" cy="391.2" r="4.25"/><circle cx="191.0" cy="389.3" r="4.25"/><circle cx="174.6" cy="422.1" r="4.25"/><circle cx="175.8" cy="401.5" r="4.25"/><circle cx="170.2" cy="395.4" r="4.25"/><circle cx="181.8" cy="393.9" r="4.25"/><circle cx="166.5" cy="404.9" r="4.25"/><circle cx="178.2" cy="315.2" r="4.25"/><circle cx="164.6" cy="395.2" r="4.25"/><circle cx="181.2" cy="408.7" r="4.25"/><circle cx="191.2" cy="389.5" r="4.25"/><circle cx="184.8" cy="511.2" r="4.25"/><circle cx="164.8" cy="381.6" r="4.25"/><circle cx="182.8" cy="414.7" r="4.25"/><circle cx="176.0" cy="380.4" r="4.25"/><circle cx="167.5" cy="486.7" r="4.25"/><circle cx="180.6" cy="404.6" r="4.25"/><circle cx="165.2" cy="387.0" r="4.25"/><circle cx="185.8" cy="427.1" r="4.25"/><circle cx="180.2" cy="340.6" r="4.25"/><circle cx="171.4" cy="384.1" r="4.25"/><circle cx="187.1" cy="314.4" r="4.25"/><circle cx="181.6" cy="446.2" r="4.25"/><circle cx="179.9" cy="403.8" r="4.25"/><circle cx="179.7" cy="375.7" r="4.25"/><circle cx="164.5" cy="378.7" r="4.25"/><circle cx="177.6" cy="428.5" r="4.25"/><circle cx="187.4" cy="360.9" r="4.25"/><circle cx="180.5" cy="405.0" r="4.25"/><circle cx="161.2" cy="445.1" r="4.25"/><circle cx="163.7" cy="394.5" r="4.25"/><circle cx="191.2" cy="390.2" r="4.25"/><circle cx="162.6" cy="441.1" r="4.25"/><circle cx="165.4" cy="331.4" r="4.25"/><circle cx="158.6" cy="390.1" r="4.25"/><circle cx="191.4" cy="435.5" r="4.25"/><circle cx="177.2" cy="430.4" r="4.25"/><circle cx="167.9" cy="411.5" r="4.25"/><circle cx="186.8" cy="382.0" r="4.25"/><circle cx="177.4" cy="421.9" r="4.25"/><circle cx="167.1" cy="417.3" r="4.25"/><circle cx="190.6" cy="459.7" r="4.25"/><circle cx="158.3" cy="405.3" r="4.25"/><circle cx="186.2" cy="463.2" r="4.25"/><circle cx="191.1" cy="412.6" r="4.25"/><circle cx="188.2" cy="330.5" r="4.25"/><circle cx="189.4" cy="347.5" r="4.25"/><circle cx="181.2" cy="401.8" r="4.25"/><circle cx="177.1" cy="299.4" r="4.25"/><circle cx="185.7" cy="368.0" r="4.25"/><circle cx="185.1" cy="385.1" r="4.25"/><circle cx="160.1" cy="399.8" r="4.25"/><circle cx="175.9" cy="349.0" r="4.25"/><circle cx="160.9" cy="489.1" r="4.25"/><circle cx="175.6" cy="410.0" r="4.25"/><circle cx="168.9" cy="402.5" r="4.25"/><circle cx="167.1" cy="406.4" r="4.25"/><circle cx="191.5" cy="460.1" r="4.25"/><circle cx="175.4" cy="395.2" r="4.25"/><circle cx="171.0" cy="392.7" r="4.25"/><circle cx="179.1" cy="445.7" r="4.25"/><circle cx="159.1" cy="459.2" r="4.25"/><circle cx="176.5" cy="258.2" r="4.25"/><circle cx="186.7" cy="402.0" r="4.25"/><circle cx="168.0" cy="409.4" r="4.25"/><circle cx="175.3" cy="368.6" r="4.25"/><circle cx="159.8" cy="369.5" r="4.25"/><circle cx="171.8" cy="429.3" r="4.25"/><circle cx="174.0" cy="455.5" r="4.25"/><circle cx="186.1" cy="400.8" r="4.25"/><circle cx="170.3" cy="376.1" r="4.25"/><circle cx="184.9" cy="359.3" r="4.25"/><circle cx="178.1" cy="441.3" r="4.25"/><circle cx="162.5" cy="356.8" r="4.25"/><circle cx="182.1" cy="401.3" r="4.25"/><circle cx="170.9" cy="367.5" r="4.25"/><circle cx="159.1" cy="376.6" r="4.25"/><circle cx="182.7" cy="365.7" r="4.25"/><circle cx="162.4" cy="361.1" r="4.25"/><circle cx="185.7" cy="308.3" r="4.25"/><circle cx="184.1" cy="350.0" r="4.25"/><circle cx="183.9" cy="434.8" r="4.25"/><circle cx="189.0" cy="374.5" r="4.25"/><circle cx="178.1" cy="433.6" r="4.25"/><circle cx="169.0" cy="370.1" r="4.25"/><circle cx="162.0" cy="444.9" r="4.25"/><circle cx="187.9" cy="416.7" r="4.25"/><circle cx="183.0" cy="429.5" r="4.25"/><circle cx="176.1" cy="398.2" r="4.25"/><circle cx="159.3" cy="385.1" r="4.25"/><circle cx="177.8" cy="347.2" r="4.25"/><circle cx="170.8" cy="450.3" r="4.25"/><circle cx="187.2" cy="415.5" r="4.25"/><circle cx="161.4" cy="344.3" r="4.25"/><circle cx="186.7" cy="440.1" r="4.25"/><circle cx="180.2" cy="432.4" r="4.25"/><circle cx="181.0" cy="440.5" r="4.25"/><circle cx="163.9" cy="377.1" r="4.25"/><circle cx="181.9" cy="399.6" r="4.25"/><circle cx="172.1" cy="407.2" r="4.25"/><circle cx="191.0" cy="412.3" r="4.25"/><circle cx="188.2" cy="358.6" r="4.25"/><circle cx="160.9" cy="380.5" r="4.25"/><circle cx="160.1" cy="402.4" r="4.25"/><circle cx="181.2" cy="434.8" r="4.25"/><circle cx="161.4" cy="417.5" r="4.25"/><circle cx="165.3" cy="360.6" r="4.25"/><circle cx="158.4" cy="388.4" r="4.25"/><circle cx="181.3" cy="475.5" r="4.25"/><circle cx="182.9" cy="307.4" r="4.25"/><circle cx="184.6" cy="362.2" r="4.25"/><circle cx="190.6" cy="394.9" r="4.25"/><circle cx="170.6" cy="422.5" r="4.25"/><circle cx="185.9" cy="414.7" r="4.25"/><circle cx="169.8" cy="428.5" r="4.25"/><circle cx="179.2" cy="374.3" r="4.25"/><circle cx="176.2" cy="413.7" r="4.25"/><circle cx="173.0" cy="438.6" r="4.25"/><circle cx="160.4" cy="277.2" r="4.25"/><circle cx="168.0" cy="389.8" r="4.25"/><circle cx="168.2" cy="413.0" r="4.25"/><circle cx="179.0" cy="464.3" r="4.25"/><circle cx="186.3" cy="287.9" r="4.25"/><circle cx="159.1" cy="320.3" r="4.25"/><circle cx="163.2" cy="336.7" r="4.25"/><circle cx="191.3" cy="406.0" r="4.25"/><circle cx="170.0" cy="347.3" r="4.25"/><circle cx="168.5" cy="421.5" r="4.25"/><circle cx="177.8" cy="466.2" r="4.25"/><circle cx="161.0" cy="395.8" r="4.25"/><circle cx="174.2" cy="392.9" r="4.25"/><circle cx="181.6" cy="418.7" r="4.25"/><circle cx="184.2" cy="439.8" r="4.25"/><circle cx="179.5" cy="444.4" r="4.25"/><circle cx="170.0" cy="404.2" r="4.25"/><circle cx="173.0" cy="361.1" r="4.25"/><circle cx="169.1" cy="314.3" r="4.25"/><circle cx="167.3" cy="371.6" r="4.25"/><circle cx="188.7" cy="400.2" r="4.25"/><circle cx="184.2" cy="412.5" r="4.25"/><circle cx="166.0" cy="437.4" r="4.25"/><circle cx="163.3" cy="376.4" r="4.25"/><circle cx="178.1" cy="189.3" r="4.25"/><circle cx="170.2" cy="364.4" r="4.25"/><circle cx="189.2" cy="362.4" r="4.25"/><circle cx="188.6" cy="380.4" r="4.25"/><circle cx="173.4" cy="380.8" r="4.25"/><circle cx="169.3" cy="329.6" r="4.25"/><circle cx="168.7" cy="401.0" r="4.25"/><circle cx="168.8" cy="422.9" r="4.25"/><circle cx="168.2" cy="293.8" r="4.25"/><circle cx="188.4" cy="423.5" r="4.25"/><circle cx="182.8" cy="373.9" r="4.25"/><circle cx="173.9" cy="409.3" r="4.25"/><circle cx="170.0" cy="425.8" r="4.25"/><circle cx="170.2" cy="435.0" r="4.25"/><circle cx="162.7" cy="365.5" r="4.25"/><circle cx="186.7" cy="383.0" r="4.25"/><circle cx="186.4" cy="362.7" r="4.25"/><circle cx="169.7" cy="372.6" r="4.25"/><circle cx="183.7" cy="400.8" r="4.25"/><circle cx="172.7" cy="325.9" r="4.25"/><circle cx="163.1" cy="343.2" r="4.25"/><circle cx="179.7" cy="359.9" r="4.25"/><circle cx="190.0" cy="407.5" r="4.25"/><circle cx="187.4" cy="422.0" r="4.25"/><circle cx="164.0" cy="351.8" r="4.25"/><circle cx="158.8" cy="327.1" r="4.25"/><circle cx="166.1" cy="420.8" r="4.25"/><circle cx="190.1" cy="394.5" r="4.25"/><circle cx="178.4" cy="476.6" r="4.25"/><circle cx="180.4" cy="278.3" r="4.25"/><circle cx="167.7" cy="445.4" r="4.25"/><circle cx="158.6" cy="292.8" r="4.25"/><circle cx="183.6" cy="417.6" r="4.25"/><circle cx="191.0" cy="410.6" r="4.25"/><circle cx="176.2" cy="399.4" r="4.25"/><circle cx="167.1" cy="352.7" r="4.25"/><circle cx="191.0" cy="418.5" r="4.25"/><circle cx="159.8" cy="313.3" r="4.25"/><circle cx="163.0" cy="454.2" r="4.25"/><circle cx="188.5" cy="422.5" r="4.25"/><circle cx="165.4" cy="357.7" r="4.25"/><circle cx="161.3" cy="509.5" r="4.25"/><circle cx="182.1" cy="319.5" r="4.25"/><circle cx="183.9" cy="431.8" r="4.25"/><circle cx="158.8" cy="394.1" r="4.25"/><circle cx="178.8" cy="295.9" r="4.25"/><circle cx="163.2" cy="386.8" r="4.25"/><circle cx="173.9" cy="329.9" r="4.25"/><circle cx="175.7" cy="351.6" r="4.25"/><circle cx="189.7" cy="445.1" r="4.25"/><circle cx="175.3" cy="342.5" r="4.25"/><circle cx="165.6" cy="395.6" r="4.25"/><circle cx="187.2" cy="394.9" r="4.25"/><circle cx="166.7" cy="343.2" r="4.25"/><circle cx="163.9" cy="364.3" r="4.25"/><circle cx="163.9" cy="380.7" r="4.25"/><circle cx="171.7" cy="488.9" r="4.25"/><circle cx="178.3" cy="369.9" r="4.25"/><circle cx="178.6" cy="403.2" r="4.25"/><circle cx="185.0" cy="395.0" r="4.25"/><circle cx="161.5" cy="380.7" r="4.25"/><circle cx="182.6" cy="391.8" r="4.25"/><circle cx="166.8" cy="449.3" r="4.25"/><circle cx="180.8" cy="436.8" r="4.25"/><circle cx="163.1" cy="384.9" r="4.25"/><circle cx="171.6" cy="286.3" r="4.25"/><circle cx="181.7" cy="412.1" r="4.25"/><circle cx="168.6" cy="383.4" r="4.25"/><circle cx="183.2" cy="417.1" r="4.25"/><circle cx="171.2" cy="427.4" r="4.25"/><circle cx="175.6" cy="527.7" r="4.25"/><circle cx="177.0" cy="417.2" r="4.25"/><circle cx="158.9" cy="376.9" r="4.25"/><circle cx="183.5" cy="451.4" r="4.25"/><circle cx="166.5" cy="382.9" r="4.25"/><circle cx="181.7" cy="381.5" r="4.25"/><circle cx="171.1" cy="391.6" r="4.25"/><circle cx="175.3" cy="389.1" r="4.25"/><circle cx="189.0" cy="374.0" r="4.25"/><circle cx="180.7" cy="383.5" r="4.25"/><circle cx="168.4" cy="521.8" r="4.25"/><circle cx="174.8" cy="453.5" r="4.25"/><circle cx="177.6" cy="374.8" r="4.25"/><circle cx="189.8" cy="387.4" r="4.25"/><circle cx="188.5" cy="379.7" r="4.25"/><circle cx="167.3" cy="370.8" r="4.25"/><circle cx="184.3" cy="520.9" r="4.25"/><circle cx="176.4" cy="439.2" r="4.25"/><circle cx="187.0" cy="374.9" r="4.25"/><circle cx="165.9" cy="324.0" r="4.25"/><circle cx="173.6" cy="400.0" r="4.25"/><circle cx="165.1" cy="383.3" r="4.25"/><circle cx="184.4" cy="402.8" r="4.25"/><circle cx="188.0" cy="392.6" r="4.25"/><circle cx="161.4" cy="399.1" r="4.25"/><circle cx="182.6" cy="369.1" r="4.25"/><circle cx="187.5" cy="381.9" r="4.25"/><circle cx="165.6" cy="360.2" r="4.25"/><circle cx="186.6" cy="381.5" r="4.25"/><circle cx="166.7" cy="411.2" r="4.25"/><circle cx="179.4" cy="405.2" r="4.25"/><circle cx="182.6" cy="378.3" r="4.25"/><circle cx="191.4" cy="336.1" r="4.25"/><circle cx="170.0" cy="396.8" r="4.25"/><circle cx="169.9" cy="497.8" r="4.25"/><circle cx="168.1" cy="375.7" r="4.25"/><circle cx="188.5" cy="403.3" r="4.25"/><circle cx="179.5" cy="438.2" r="4.25"/><circle cx="185.2" cy="397.9" r="4.25"/><circle cx="187.3" cy="388.8" r="4.25"/><circle cx="178.6" cy="383.6" r="4.25"/><circle cx="178.9" cy="426.5" r="4.25"/><circle cx="175.0" cy="439.7" r="4.25"/><circle cx="169.9" cy="444.1" r="4.25"/><circle cx="159.5" cy="400.5" r="4.25"/><circle cx="161.3" cy="337.0" r="4.25"/><circle cx="190.2" cy="409.4" r="4.25"/><circle cx="187.6" cy="378.1" r="4.25"/><circle cx="177.4" cy="408.4" r="4.25"/><circle cx="174.1" cy="372.8" r="4.25"/><circle cx="180.5" cy="400.8" r="4.25"/><circle cx="170.0" cy="418.7" r="4.25"/><circle cx="174.2" cy="415.7" r="4.25"/><circle cx="162.2" cy="425.0" r="4.25"/><circle cx="165.6" cy="412.5" r="4.25"/><circle cx="169.2" cy="456.2" r="4.25"/><circle cx="179.0" cy="386.7" r="4.25"/><circle cx="179.5" cy="355.0" r="4.25"/><circle cx="161.8" cy="398.9" r="4.25"/><circle cx="160.8" cy="372.7" r="4.25"/><circle cx="191.5" cy="393.0" r="4.25"/><circle cx="170.6" cy="361.0" r="4.25"/><circle cx="180.8" cy="386.2" r="4.25"/><circle cx="170.7" cy="391.5" r="4.25"/><circle cx="189.2" cy="418.0" r="4.25"/><circle cx="176.4" cy="384.1" r="4.25"/><circle cx="166.3" cy="495.4" r="4.25"/><circle cx="182.9" cy="441.3" r="4.25"/><circle cx="171.4" cy="386.2" r="4.25"/><circle cx="177.3" cy="430.8" r="4.25"/><circle cx="177.3" cy="450.2" r="4.25"/><circle cx="172.8" cy="463.8" r="4.25"/><circle cx="161.8" cy="405.5" r="4.25"/><circle cx="184.7" cy="391.5" r="4.25"/><circle cx="183.9" cy="386.9" r="4.25"/><circle cx="168.8" cy="377.9" r="4.25"/><circle cx="186.0" cy="391.0" r="4.25"/><circle cx="170.1" cy="406.3" r="4.25"/><circle cx="162.1" cy="392.8" r="4.25"/><circle cx="178.2" cy="373.2" r="4.25"/><circle cx="183.3" cy="397.4" r="4.25"/><circle cx="182.1" cy="439.5" r="4.25"/><circle cx="178.0" cy="441.6" r="4.25"/><circle cx="184.4" cy="382.4" r="4.25"/><circle cx="176.1" cy="375.2" r="4.25"/><circle cx="177.5" cy="362.9" r="4.25"/><circle cx="185.8" cy="413.3" r="4.25"/><circle cx="188.0" cy="393.7" r="4.25"/><circle cx="162.1" cy="522.8" r="4.25"/><circle cx="186.7" cy="349.5" r="4.25"/><circle cx="164.7" cy="389.3" r="4.25"/><circle cx="165.6" cy="387.5" r="4.25"/><circle cx="179.6" cy="471.1" r="4.25"/><circle cx="178.5" cy="435.6" r="4.25"/><circle cx="167.9" cy="396.5" r="4.25"/><circle cx="186.4" cy="400.1" r="4.25"/><circle cx="183.8" cy="416.4" r="4.25"/><circle cx="179.1" cy="418.7" r="4.25"/><circle cx="185.9" cy="413.3" r="4.25"/><circle cx="179.8" cy="413.6" r="4.25"/><circle cx="188.4" cy="384.1" r="4.25"/><circle cx="184.7" cy="405.8" r="4.25"/><circle cx="176.8" cy="302.0" r="4.25"/><circle cx="184.4" cy="408.3" r="4.25"/><circle cx="184.3" cy="370.1" r="4.25"/><circle cx="178.6" cy="353.1" r="4.25"/><circle cx="187.5" cy="380.1" r="4.25"/><circle cx="174.7" cy="325.4" r="4.25"/><circle cx="160.5" cy="358.4" r="4.25"/><circle cx="165.8" cy="407.7" r="4.25"/><circle cx="180.8" cy="391.3" r="4.25"/><circle cx="188.7" cy="379.2" r="4.25"/><circle cx="167.8" cy="336.2" r="4.25"/><circle cx="164.8" cy="393.1" r="4.25"/><circle cx="179.3" cy="452.5" r="4.25"/><circle cx="162.2" cy="427.3" r="4.25"/><circle cx="182.8" cy="375.4" r="4.25"/><circle cx="187.5" cy="452.1" r="4.25"/><circle cx="191.5" cy="416.0" r="4.25"/><circle cx="168.8" cy="398.8" r="4.25"/><circle cx="158.4" cy="355.2" r="4.25"/><circle cx="188.2" cy="405.9" r="4.25"/><circle cx="186.2" cy="379.8" r="4.25"/><circle cx="190.7" cy="453.2" r="4.25"/><circle cx="177.1" cy="373.1" r="4.25"/><circle cx="189.9" cy="395.5" r="4.25"/><circle cx="167.2" cy="403.1" r="4.25"/><circle cx="172.3" cy="389.1" r="4.25"/><circle cx="189.3" cy="351.2" r="4.25"/><circle cx="190.5" cy="411.7" r="4.25"/><circle cx="192.0" cy="404.4" r="4.25"/><circle cx="184.5" cy="372.9" r="4.25"/><circle cx="169.4" cy="345.9" r="4.25"/><circle cx="164.5" cy="396.0" r="4.25"/><circle cx="191.9" cy="369.6" r="4.25"/><circle cx="181.4" cy="378.4" r="4.25"/><circle cx="173.2" cy="433.4" r="4.25"/><circle cx="169.0" cy="453.4" r="4.25"/><circle cx="168.4" cy="405.9" r="4.25"/><circle cx="184.3" cy="467.5" r="4.25"/><circle cx="180.2" cy="399.0" r="4.25"/><circle cx="185.3" cy="502.9" r="4.25"/><circle cx="171.3" cy="436.8" r="4.25"/><circle cx="174.2" cy="342.4" r="4.25"/><circle cx="159.7" cy="420.9" r="4.25"/><circle cx="159.6" cy="421.8" r="4.25"/><circle cx="176.1" cy="398.2" r="4.25"/><circle cx="185.6" cy="356.2" r="4.25"/><circle cx="188.1" cy="373.5" r="4.25"/><circle cx="188.9" cy="444.6" r="4.25"/><circle cx="171.9" cy="405.6" r="4.25"/><circle cx="187.1" cy="377.5" r="4.25"/><circle cx="188.5" cy="432.5" r="4.25"/><circle cx="161.4" cy="394.3" r="4.25"/><circle cx="168.4" cy="411.9" r="4.25"/><circle cx="187.5" cy="575.3" r="4.25"/><circle cx="180.2" cy="359.7" r="4.25"/><circle cx="168.1" cy="384.4" r="4.25"/><circle cx="174.4" cy="364.7" r="4.25"/><circle cx="175.2" cy="400.7" r="4.25"/><circle cx="159.1" cy="443.3" r="4.25"/><circle cx="186.5" cy="404.5" r="4.25"/><circle cx="179.7" cy="419.8" r="4.25"/><circle cx="165.8" cy="322.4" r="4.25"/><circle cx="185.6" cy="357.2" r="4.25"/><circle cx="171.3" cy="375.8" r="4.25"/><circle cx="166.4" cy="431.9" r="4.25"/><circle cx="165.4" cy="385.4" r="4.25"/><circle cx="188.7" cy="342.6" r="4.25"/><circle cx="190.1" cy="367.9" r="4.25"/><circle cx="164.5" cy="367.0" r="4.25"/><circle cx="184.9" cy="379.6" r="4.25"/><circle cx="183.8" cy="475.4" r="4.25"/><circle cx="191.7" cy="325.1" r="4.25"/><circle cx="186.9" cy="462.6" r="4.25"/><circle cx="188.7" cy="373.8" r="4.25"/><circle cx="162.9" cy="346.5" r="4.25"/><circle cx="184.6" cy="424.1" r="4.25"/><circle cx="169.6" cy="310.0" r="4.25"/><circle cx="178.5" cy="340.6" r="4.25"/><circle cx="191.7" cy="424.4" r="4.25"/><circle cx="180.9" cy="376.7" r="4.25"/><circle cx="172.1" cy="385.8" r="4.25"/><circle cx="177.3" cy="363.1" r="4.25"/><circle cx="189.2" cy="375.5" r="4.25"/><circle cx="169.6" cy="383.4" r="4.25"/><circle cx="182.0" cy="408.7" r="4.25"/><circle cx="190.7" cy="446.9" r="4.25"/><circle cx="188.5" cy="388.4" r="4.25"/><circle cx="175.1" cy="356.9" r="4.25"/><circle cx="176.5" cy="438.4" r="4.25"/><circle cx="174.1" cy="458.8" r="4.25"/><circle cx="171.1" cy="410.1" r="4.25"/><circle cx="184.5" cy="447.6" r="4.25"/><circle cx="168.5" cy="398.4" r="4.25"/><circle cx="189.1" cy="351.7" r="4.25"/><circle cx="179.0" cy="407.0" r="4.25"/><circle cx="181.4" cy="445.9" r="4.25"/><circle cx="162.3" cy="313.3" r="4.25"/><circle cx="170.0" cy="315.5" r="4.25"/><circle cx="174.1" cy="393.8" r="4.25"/><circle cx="169.4" cy="508.2" r="4.25"/><circle cx="166.4" cy="397.9" r="4.25"/><circle cx="173.0" cy="384.4" r="4.25"/><circle cx="183.7" cy="412.9" r="4.25"/><circle cx="173.0" cy="413.4" r="4.25"/><circle cx="172.1" cy="405.2" r="4.25"/><circle cx="177.2" cy="330.1" r="4.25"/><circle cx="191.3" cy="347.2" r="4.25"/><circle cx="160.9" cy="395.3" r="4.25"/><circle cx="181.8" cy="389.2" r="4.25"/><circle cx="175.8" cy="445.2" r="4.25"/><circle cx="191.8" cy="328.4" r="4.25"/><circle cx="175.8" cy="361.8" r="4.25"/><circle cx="158.5" cy="450.1" r="4.25"/><circle cx="184.8" cy="376.5" r="4.25"/><circle cx="191.5" cy="218.2" r="4.25"/><circle cx="184.1" cy="409.5" r="4.25"/><circle cx="174.5" cy="393.3" r="4.25"/><circle cx="181.9" cy="417.2" r="4.25"/><circle cx="188.1" cy="382.8" r="4.25"/><circle cx="167.3" cy="401.5" r="4.25"/><circle cx="158.4" cy="360.2" r="4.25"/><circle cx="173.4" cy="293.7" r="4.25"/><circle cx="172.0" cy="347.8" r="4.25"/><circle cx="176.3" cy="403.5" r="4.25"/><circle cx="162.0" cy="431.3" r="4.25"/><circle cx="184.6" cy="411.7" r="4.25"/><circle cx="166.3" cy="367.5" r="4.25"/><circle cx="176.1" cy="480.8" r="4.25"/><circle cx="163.7" cy="435.2" r="4.25"/><circle cx="183.9" cy="394.2" r="4.25"/><circle cx="174.8" cy="373.3" r="4.25"/><circle cx="167.4" cy="422.1" r="4.25"/><circle cx="169.9" cy="389.5" r="4.25"/><circle cx="191.6" cy="419.7" r="4.25"/><circle cx="188.8" cy="294.9" r="4.25"/><circle cx="170.1" cy="448.9" r="4.25"/><circle cx="168.5" cy="403.3" r="4.25"/><circle cx="182.7" cy="414.1" r="4.25"/><circle cx="180.8" cy="332.7" r="4.25"/><circle cx="183.6" cy="399.9" r="4.25"/><circle cx="168.9" cy="440.0" r="4.25"/><circle cx="158.8" cy="448.8" r="4.25"/><circle cx="181.6" cy="388.0" r="4.25"/><circle cx="169.3" cy="457.0" r="4.25"/><circle cx="177.3" cy="424.6" r="4.25"/><circle cx="165.8" cy="431.1" r="4.25"/><circle cx="173.8" cy="371.9" r="4.25"/><circle cx="162.0" cy="411.9" r="4.25"/><circle cx="169.8" cy="377.1" r="4.25"/><circle cx="160.9" cy="371.4" r="4.25"/><circle cx="159.6" cy="353.8" r="4.25"/><circle cx="162.3" cy="399.1" r="4.25"/><circle cx="161.1" cy="417.7" r="4.25"/><circle cx="170.1" cy="332.3" r="4.25"/><circle cx="191.4" cy="392.2" r="4.25"/><circle cx="188.1" cy="391.9" r="4.25"/><circle cx="164.7" cy="351.3" r="4.25"/><circle cx="176.8" cy="318.5" r="4.25"/><circle cx="160.9" cy="427.1" r="4.25"/><circle cx="191.7" cy="451.0" r="4.25"/><circle cx="158.7" cy="380.8" r="4.25"/><circle cx="163.2" cy="398.5" r="4.25"/><circle cx="182.8" cy="372.2" r="4.25"/><circle cx="176.3" cy="389.4" r="4.25"/><circle cx="187.6" cy="308.6" r="4.25"/><circle cx="188.7" cy="388.5" r="4.25"/><circle cx="162.7" cy="396.9" r="4.25"/><circle cx="188.7" cy="462.2" r="4.25"/><circle cx="183.3" cy="348.0" r="4.25"/><circle cx="175.2" cy="409.7" r="4.25"/><circle cx="182.3" cy="314.6" r="4.25"/><circle cx="158.6" cy="463.9" r="4.25"/><circle cx="191.7" cy="412.1" r="4.25"/><circle cx="189.4" cy="404.8" r="4.25"/><circle cx="181.0" cy="431.0" r="4.25"/><circle cx="160.5" cy="468.5" r="4.25"/><circle cx="183.2" cy="390.0" r="4.25"/><circle cx="179.7" cy="422.3" r="4.25"/><circle cx="173.8" cy="423.6" r="4.25"/><circle cx="182.0" cy="384.8" r="4.25"/><circle cx="163.1" cy="430.7" r="4.25"/><circle cx="181.0" cy="378.4" r="4.25"/><circle cx="161.9" cy="371.0" r="4.25"/><circle cx="186.7" cy="434.6" r="4.25"/><circle cx="159.8" cy="455.4" r="4.25"/><circle cx="159.3" cy="393.6" r="4.25"/><circle cx="183.6" cy="433.2" r="4.25"/><circle cx="189.3" cy="403.6" r="4.25"/><circle cx="162.4" cy="392.9" r="4.25"/><circle cx="180.8" cy="400.4" r="4.25"/><circle cx="179.0" cy="426.3" r="4.25"/><circle cx="188.1" cy="413.4" r="4.25"/><circle cx="189.1" cy="400.3" r="4.25"/><circle cx="176.3" cy="395.7" r="4.25"/><circle cx="189.7" cy="418.0" r="4.25"/><circle cx="174.1" cy="407.1" r="4.25"/><circle cx="158.8" cy="397.5" r="4.25"/><circle cx="165.0" cy="429.8" r="4.25"/><circle cx="170.9" cy="372.8" r="4.25"/><circle cx="183.5" cy="351.5" r="4.25"/><circle cx="159.0" cy="376.7" r="4.25"/><circle cx="175.1" cy="346.9" r="4.25"/><circle cx="176.7" cy="397.0" r="4.25"/><circle cx="177.6" cy="412.9" r="4.25"/><circle cx="186.4" cy="477.6" r="4.25"/><circle cx="177.6" cy="387.3" r="4.25"/><circle cx="159.1" cy="382.6" r="4.25"/><circle cx="187.3" cy="523.3" r="4.25"/><circle cx="169.3" cy="416.0" r="4.25"/><circle cx="187.4" cy="368.9" r="4.25"/><circle cx="162.4" cy="386.9" r="4.25"/><circle cx="187.1" cy="452.0" r="4.25"/><circle cx="170.0" cy="460.8" r="4.25"/><circle cx="161.5" cy="456.1" r="4.25"/><circle cx="182.3" cy="387.9" r="4.25"/><circle cx="164.9" cy="493.6" r="4.25"/><circle cx="159.6" cy="378.3" r="4.25"/><circle cx="170.2" cy="490.9" r="4.25"/><circle cx="188.1" cy="338.4" r="4.25"/><circle cx="161.3" cy="407.9" r="4.25"/><circle cx="180.5" cy="358.4" r="4.25"/><circle cx="186.0" cy="366.4" r="4.25"/><circle cx="190.0" cy="326.6" r="4.25"/><circle cx="168.7" cy="389.8" r="4.25"/><circle cx="162.3" cy="381.2" r="4.25"/><circle cx="173.2" cy="396.4" r="4.25"/><circle cx="191.9" cy="448.3" r="4.25"/><circle cx="170.4" cy="391.5" r="4.25"/><circle cx="187.6" cy="384.0" r="4.25"/><circle cx="175.3" cy="469.0" r="4.25"/><circle cx="162.0" cy="420.0" r="4.25"/><circle cx="170.3" cy="422.2" r="4.25"/><circle cx="187.4" cy="424.8" r="4.25"/><circle cx="189.3" cy="333.8" r="4.25"/><circle cx="165.1" cy="416.8" r="4.25"/><circle cx="164.2" cy="350.7" r="4.25"/><circle cx="182.3" cy="368.8" r="4.25"/><circle cx="184.6" cy="346.0" r="4.25"/><circle cx="169.2" cy="363.7" r="4.25"/><circle cx="159.3" cy="403.4" r="4.25"/><circle cx="160.2" cy="446.1" r="4.25"/><circle cx="164.8" cy="433.1" r="4.25"/><circle cx="174.8" cy="292.7" r="4.25"/><circle cx="189.9" cy="437.5" r="4.25"/><circle cx="170.1" cy="302.9" r="4.25"/><circle cx="180.5" cy="389.4" r="4.25"/><circle cx="188.9" cy="365.8" r="4.25"/><circle cx="189.4" cy="392.2" r="4.25"/><circle cx="176.6" cy="367.1" r="4.25"/><circle cx="185.4" cy="420.8" r="4.25"/><circle cx="163.2" cy="411.8" r="4.25"/><circle cx="176.8" cy="360.0" r="4.25"/><circle cx="180.2" cy="390.3" r="4.25"/><circle cx="187.1" cy="369.2" r="4.25"/><circle cx="189.2" cy="349.3" r="4.25"/><circle cx="180.5" cy="375.4" r="4.25"/><circle cx="165.0" cy="407.9" r="4.25"/><circle cx="191.1" cy="367.1" r="4.25"/><circle cx="183.4" cy="450.7" r="4.25"/><circle cx="178.6" cy="550.5" r="4.25"/><circle cx="168.8" cy="361.7" r="4.25"/><circle cx="163.3" cy="405.6" r="4.25"/><circle cx="175.7" cy="407.4" r="4.25"/><circle cx="186.1" cy="471.2" r="4.25"/><circle cx="174.1" cy="307.7" r="4.25"/><circle cx="183.1" cy="338.9" r="4.25"/><circle cx="191.3" cy="403.4" r="4.25"/><circle cx="161.3" cy="383.0" r="4.25"/><circle cx="181.3" cy="342.2" r="4.25"/><circle cx="169.2" cy="350.1" r="4.25"/><circle cx="174.0" cy="397.7" r="4.25"/><circle cx="189.6" cy="437.5" r="4.25"/><circle cx="182.2" cy="419.3" r="4.25"/><circle cx="184.1" cy="361.7" r="4.25"/><circle cx="165.6" cy="410.1" r="4.25"/><circle cx="179.8" cy="386.3" r="4.25"/><circle cx="178.3" cy="345.3" r="4.25"/><circle cx="169.7" cy="463.0" r="4.25"/><circle cx="188.0" cy="377.2" r="4.25"/><circle cx="179.2" cy="356.4" r="4.25"/><circle cx="191.7" cy="405.5" r="4.25"/><circle cx="189.4" cy="336.3" r="4.25"/><circle cx="163.0" cy="365.9" r="4.25"/><circle cx="172.1" cy="410.2" r="4.25"/><circle cx="172.4" cy="398.2" r="4.25"/><circle cx="168.9" cy="381.1" r="4.25"/><circle cx="161.3" cy="377.2" r="4.25"/><circle cx="189.4" cy="356.5" r="4.25"/><circle cx="187.2" cy="401.2" r="4.25"/><circle cx="172.7" cy="407.5" r="4.25"/><circle cx="188.4" cy="333.1" r="4.25"/><circle cx="178.7" cy="419.4" r="4.25"/><circle cx="171.1" cy="394.8" r="4.25"/><circle cx="174.9" cy="321.4" r="4.25"/><circle cx="183.2" cy="501.5" r="4.25"/><circle cx="166.2" cy="401.8" r="4.25"/><circle cx="173.4" cy="390.2" r="4.25"/><circle cx="190.7" cy="471.5" r="4.25"/><circle cx="167.5" cy="400.9" r="4.25"/><circle cx="181.2" cy="407.9" r="4.25"/><circle cx="175.1" cy="446.5" r="4.25"/><circle cx="168.6" cy="355.8" r="4.25"/><circle cx="162.2" cy="375.2" r="4.25"/><circle cx="161.0" cy="375.3" r="4.25"/><circle cx="178.2" cy="444.4" r="4.25"/><circle cx="172.8" cy="326.2" r="4.25"/><circle cx="172.2" cy="392.7" r="4.25"/><circle cx="170.0" cy="452.2" r="4.25"/><circle cx="167.4" cy="376.3" r="4.25"/><circle cx="191.9" cy="352.2" r="4.25"/><circle cx="184.1" cy="361.4" r="4.25"/><circle cx="167.3" cy="417.5" r="4.25"/><circle cx="171.8" cy="318.9" r="4.25"/><circle cx="182.9" cy="319.8" r="4.25"/><circle cx="166.9" cy="380.9" r="4.25"/><circle cx="174.4" cy="328.8" r="4.25"/><circle cx="189.1" cy="422.2" r="4.25"/><circle cx="179.9" cy="518.8" r="4.25"/><circle cx="167.5" cy="400.2" r="4.25"/><circle cx="159.6" cy="375.2" r="4.25"/><circle cx="172.6" cy="354.9" r="4.25"/><circle cx="159.8" cy="318.1" r="4.25"/><circle cx="175.9" cy="371.5" r="4.25"/><circle cx="184.3" cy="422.9" r="4.25"/><circle cx="171.7" cy="376.4" r="4.25"/><circle cx="185.1" cy="490.5" r="4.25"/><circle cx="185.3" cy="370.7" r="4.25"/><circle cx="191.8" cy="339.3" r="4.25"/><circle cx="160.9" cy="317.8" r="4.25"/><circle cx="173.4" cy="446.8" r="4.25"/><circle cx="183.6" cy="406.1" r="4.25"/><circle cx="190.2" cy="378.3" r="4.25"/><circle cx="179.2" cy="475.7" r="4.25"/><circle cx="180.4" cy="398.7" r="4.25"/><circle cx="165.0" cy="341.5" r="4.25"/><circle cx="189.5" cy="404.6" r="4.25"/><circle cx="177.9" cy="353.0" r="4.25"/><circle cx="172.4" cy="466.9" r="4.25"/><circle cx="162.9" cy="434.4" r="4.25"/><circle cx="164.8" cy="448.6" r="4.25"/><circle cx="176.5" cy="390.5" r="4.25"/><circle cx="182.1" cy="327.2" r="4.25"/><circle cx="187.9" cy="385.5" r="4.25"/><circle cx="191.5" cy="421.4" r="4.25"/><circle cx="187.1" cy="399.6" r="4.25"/><circle cx="166.4" cy="432.7" r="4.25"/><circle cx="189.2" cy="374.9" r="4.25"/><circle cx="174.3" cy="387.7" r="4.25"/><circle cx="180.5" cy="445.1" r="4.25"/><circle cx="183.6" cy="440.3" r="4.25"/><circle cx="186.5" cy="261.0" r="4.25"/><circle cx="160.0" cy="456.2" r="4.25"/><circle cx="167.7" cy="374.2" r="4.25"/><circle cx="169.6" cy="323.5" r="4.25"/><circle cx="164.3" cy="433.4" r="4.25"/><circle cx="167.0" cy="368.6" r="4.25"/><circle cx="169.8" cy="362.0" r="4.25"/><circle cx="166.5" cy="395.5" r="4.25"/><circle cx="185.1" cy="413.9" r="4.25"/><circle cx="172.1" cy="465.5" r="4.25"/><circle cx="163.7" cy="425.9" r="4.25"/><circle cx="187.1" cy="398.3" r="4.25"/><circle cx="182.5" cy="431.7" r="4.25"/><circle cx="184.7" cy="402.1" r="4.25"/><circle cx="164.9" cy="378.1" r="4.25"/><circle cx="158.4" cy="360.5" r="4.25"/><circle cx="188.9" cy="384.8" r="4.25"/><circle cx="165.0" cy="323.8" r="4.25"/><circle cx="190.1" cy="458.5" r="4.25"/><circle cx="189.5" cy="430.1" r="4.25"/><circle cx="191.2" cy="418.9" r="4.25"/><circle cx="171.4" cy="437.0" r="4.25"/><circle cx="185.1" cy="441.8" r="4.25"/><circle cx="171.1" cy="426.2" r="4.25"/><circle cx="190.9" cy="380.5" r="4.25"/><circle cx="161.4" cy="387.0" r="4.25"/><circle cx="188.1" cy="416.1" r="4.25"/><circle cx="178.0" cy="457.2" r="4.25"/><circle cx="186.8" cy="301.5" r="4.25"/><circle cx="165.3" cy="423.4" r="4.25"/><circle cx="166.3" cy="390.4" r="4.25"/><circle cx="177.0" cy="414.5" r="4.25"/><circle cx="168.8" cy="421.2" r="4.25"/><circle cx="160.7" cy="418.7" r="4.25"/><circle cx="173.8" cy="373.9" r="4.25"/><circle cx="160.1" cy="329.2" r="4.25"/><circle cx="169.3" cy="375.9" r="4.25"/><circle cx="163.8" cy="411.6" r="4.25"/><circle cx="163.8" cy="365.5" r="4.25"/><circle cx="179.9" cy="497.0" r="4.25"/><circle cx="191.5" cy="313.8" r="4.25"/><circle cx="186.9" cy="363.7" r="4.25"/><circle cx="160.9" cy="386.0" r="4.25"/><circle cx="189.3" cy="380.7" r="4.25"/><circle cx="175.3" cy="346.6" r="4.25"/><circle cx="181.3" cy="399.9" r="4.25"/><circle cx="183.2" cy="388.0" r="4.25"/><circle cx="185.3" cy="348.8" r="4.25"/><circle cx="165.7" cy="339.4" r="4.25"/><circle cx="191.7" cy="433.8" r="4.25"/><circle cx="182.4" cy="430.0" r="4.25"/><circle cx="182.3" cy="391.9" r="4.25"/><circle cx="184.6" cy="387.1" r="4.25"/><circle cx="187.7" cy="370.9" r="4.25"/><circle cx="176.0" cy="388.7" r="4.25"/><circle cx="176.3" cy="431.5" r="4.25"/><circle cx="186.0" cy="392.5" r="4.25"/><circle cx="177.3" cy="447.4" r="4.25"/><circle cx="190.0" cy="347.9" r="4.25"/><circle cx="173.7" cy="391.2" r="4.25"/><circle cx="184.7" cy="324.2" r="4.25"/><circle cx="183.0" cy="310.5" r="4.25"/><circle cx="176.3" cy="444.3" r="4.25"/><circle cx="168.7" cy="421.0" r="4.25"/><circle cx="165.7" cy="378.7" r="4.25"/><circle cx="189.9" cy="417.1" r="4.25"/><circle cx="159.6" cy="411.0" r="4.25"/><circle cx="182.3" cy="395.2" r="4.25"/><circle cx="183.9" cy="461.5" r="4.25"/><circle cx="161.2" cy="357.1" r="4.25"/><circle cx="167.3" cy="424.8" r="4.25"/><circle cx="172.4" cy="361.3" r="4.25"/><circle cx="159.3" cy="374.5" r="4.25"/><circle cx="182.1" cy="404.3" r="4.25"/><circle cx="180.1" cy="343.0" r="4.25"/><circle cx="164.9" cy="438.7" r="4.25"/><circle cx="159.6" cy="352.9" r="4.25"/><circle cx="168.7" cy="438.9" r="4.25"/><circle cx="172.4" cy="395.3" r="4.25"/><circle cx="190.8" cy="412.0" r="4.25"/><circle cx="191.6" cy="420.5" r="4.25"/><circle cx="175.3" cy="358.8" r="4.25"/><circle cx="166.2" cy="398.7" r="4.25"/><circle cx="184.4" cy="403.2" r="4.25"/><circle cx="179.9" cy="433.1" r="4.25"/><circle cx="165.3" cy="405.1" r="4.25"/><circle cx="176.5" cy="368.7" r="4.25"/><circle cx="170.6" cy="387.6" r="4.25"/><circle cx="185.7" cy="368.1" r="4.25"/><circle cx="182.5" cy="419.9" r="4.25"/><circle cx="169.8" cy="360.4" r="4.25"/><circle cx="181.5" cy="304.1" r="4.25"/><circle cx="189.0" cy="346.2" r="4.25"/><circle cx="175.8" cy="396.7" r="4.25"/><circle cx="184.9" cy="503.4" r="4.25"/><circle cx="175.9" cy="391.4" r="4.25"/><circle cx="181.9" cy="424.0" r="4.25"/><circle cx="175.9" cy="460.7" r="4.25"/><circle cx="158.4" cy="491.6" r="4.25"/><circle cx="164.2" cy="506.2" r="4.25"/><circle cx="170.7" cy="366.5" r="4.25"/><circle cx="189.2" cy="406.3" r="4.25"/><circle cx="178.2" cy="390.9" r="4.25"/><circle cx="178.2" cy="403.9" r="4.25"/><circle cx="171.0" cy="399.7" r="4.25"/><circle cx="177.5" cy="422.7" r="4.25"/><circle cx="183.8" cy="373.6" r="4.25"/><circle cx="167.5" cy="383.4" r="4.25"/><circle cx="171.2" cy="396.0" r="4.25"/><circle cx="183.8" cy="442.8" r="4.25"/><circle cx="186.5" cy="391.4" r="4.25"/><circle cx="177.1" cy="418.9" r="4.25"/><circle cx="166.3" cy="422.3" r="4.25"/><circle cx="176.5" cy="396.7" r="4.25"/><circle cx="172.8" cy="321.8" r="4.25"/><circle cx="163.5" cy="404.9" r="4.25"/><circle cx="163.5" cy="348.4" r="4.25"/><circle cx="185.6" cy="385.5" r="4.25"/><circle cx="179.9" cy="411.6" r="4.25"/><circle cx="190.1" cy="401.3" r="4.25"/><circle cx="162.0" cy="513.8" r="4.25"/><circle cx="187.9" cy="269.0" r="4.25"/><circle cx="176.6" cy="290.7" r="4.25"/><circle cx="163.1" cy="379.9" r="4.25"/><circle cx="182.3" cy="398.0" r="4.25"/><circle cx="190.4" cy="427.0" r="4.25"/><circle cx="175.4" cy="424.2" r="4.25"/><circle cx="163.6" cy="411.9" r="4.25"/><circle cx="183.5" cy="487.6" r="4.25"/><circle cx="161.0" cy="496.4" r="4.25"/><circle cx="183.0" cy="419.8" r="4.25"/><circle cx="161.9" cy="330.8" r="4.25"/><circle cx="182.4" cy="436.3" r="4.25"/><circle cx="179.0" cy="410.9" r="4.25"/><circle cx="179.4" cy="399.3" r="4.25"/><circle cx="178.7" cy="290.8" r="4.25"/><circle cx="168.8" cy="440.8" r="4.25"/><circle cx="171.2" cy="392.9" r="4.25"/><circle cx="178.4" cy="505.1" r="4.25"/><circle cx="164.2" cy="391.1" r="4.25"/><circle cx="161.2" cy="383.6" r="4.25"/><circle cx="188.9" cy="449.7" r="4.25"/><circle cx="165.3" cy="443.9" r="4.25"/><circle cx="175.2" cy="418.2" r="4.25"/><circle cx="189.5" cy="386.3" r="4.25"/><circle cx="161.7" cy="363.4" r="4.25"/><circle cx="182.5" cy="479.6" r="4.25"/><circle cx="160.6" cy="447.0" r="4.25"/><circle cx="174.1" cy="409.7" r="4.25"/><circle cx="177.5" cy="369.8" r="4.25"/><circle cx="181.2" cy="402.2" r="4.25"/><circle cx="179.5" cy="462.3" r="4.25"/><circle cx="172.9" cy="346.3" r="4.25"/><circle cx="181.5" cy="428.6" r="4.25"/><circle cx="186.9" cy="391.1" r="4.25"/><circle cx="186.0" cy="273.6" r="4.25"/><circle cx="172.2" cy="390.6" r="4.25"/><circle cx="166.5" cy="380.1" r="4.25"/><circle cx="170.4" cy="404.1" r="4.25"/><circle cx="187.8" cy="313.0" r="4.25"/><circle cx="188.9" cy="348.1" r="4.25"/><circle cx="164.4" cy="345.5" r="4.25"/><circle cx="176.3" cy="436.3" r="4.25"/><circle cx="180.5" cy="437.8" r="4.25"/><circle cx="158.4" cy="392.1" r="4.25"/><circle cx="171.6" cy="427.4" r="4.25"/><circle cx="164.7" cy="366.3" r="4.25"/><circle cx="187.6" cy="381.3" r="4.25"/><circle cx="161.7" cy="350.8" r="4.25"/><circle cx="164.0" cy="403.9" r="4.25"/><circle cx="186.0" cy="389.6" r="4.25"/><circle cx="175.8" cy="554.8" r="4.25"/><circle cx="159.4" cy="372.1" r="4.25"/><circle cx="180.3" cy="397.1" r="4.25"/><circle cx="183.0" cy="408.2" r="4.25"/><circle cx="170.4" cy="403.9" r="4.25"/><circle cx="166.4" cy="454.9" r="4.25"/><circle cx="186.3" cy="468.6" r="4.25"/><circle cx="168.4" cy="467.0" r="4.25"/><circle cx="190.1" cy="461.9" r="4.25"/><circle cx="182.5" cy="387.8" r="4.25"/><circle cx="158.2" cy="468.4" r="4.25"/><circle cx="183.4" cy="318.6" r="4.25"/><circle cx="180.3" cy="518.3" r="4.25"/><circle cx="161.0" cy="369.0" r="4.25"/><circle cx="189.1" cy="389.4" r="4.25"/><circle cx="170.9" cy="383.8" r="4.25"/><circle cx="174.0" cy="391.7" r="4.25"/><circle cx="178.4" cy="361.4" r="4.25"/><circle cx="175.3" cy="374.3" r="4.25"/><circle cx="181.3" cy="417.8" r="4.25"/><circle cx="172.3" cy="342.7" r="4.25"/><circle cx="171.5" cy="394.4" r="4.25"/><circle cx="160.1" cy="414.7" r="4.25"/><circle cx="190.8" cy="403.7" r="4.25"/><circle cx="184.3" cy="404.4" r="4.25"/><circle cx="166.3" cy="422.2" r="4.25"/><circle cx="167.5" cy="416.3" r="4.25"/><circle cx="170.8" cy="484.1" r="4.25"/><circle cx="184.7" cy="409.8" r="4.25"/><circle cx="167.1" cy="395.6" r="4.25"/><circle cx="184.7" cy="415.6" r="4.25"/><circle cx="188.2" cy="401.7" r="4.25"/><circle cx="188.7" cy="470.2" r="4.25"/><circle cx="179.2" cy="438.0" r="4.25"/><circle cx="167.8" cy="414.4" r="4.25"/><circle cx="170.1" cy="411.5" r="4.25"/><circle cx="173.8" cy="292.5" r="4.25"/><circle cx="185.9" cy="450.4" r="4.25"/><circle cx="171.2" cy="416.0" r="4.25"/><circle cx="175.2" cy="438.3" r="4.25"/><circle cx="184.4" cy="374.8" r="4.25"/><circle cx="176.4" cy="380.0" r="4.25"/><circle cx="180.1" cy="459.5" r="4.25"/><circle cx="172.8" cy="443.9" r="4.25"/><circle cx="164.3" cy="410.9" r="4.25"/><circle cx="159.4" cy="372.5" r="4.25"/><circle cx="177.8" cy="406.0" r="4.25"/><circle cx="177.1" cy="417.9" r="4.25"/><circle cx="166.1" cy="440.4" r="4.25"/><circle cx="180.5" cy="431.6" r="4.25"/><circle cx="177.9" cy="381.6" r="4.25"/><circle cx="189.8" cy="410.8" r="4.25"/><circle cx="178.1" cy="474.4" r="4.25"/><circle cx="164.4" cy="374.1" r="4.25"/><circle cx="185.8" cy="368.5" r="4.25"/><circle cx="190.0" cy="335.4" r="4.25"/><circle cx="171.9" cy="436.4" r="4.25"/><circle cx="160.7" cy="473.5" r="4.25"/><circle cx="159.7" cy="345.7" r="4.25"/><circle cx="171.3" cy="336.4" r="4.25"/><circle cx="170.2" cy="436.5" r="4.25"/><circle cx="182.3" cy="388.8" r="4.25"/><circle cx="162.2" cy="365.5" r="4.25"/><circle cx="184.7" cy="348.6" r="4.25"/><circle cx="182.1" cy="395.2" r="4.25"/><circle cx="190.7" cy="479.1" r="4.25"/><circle cx="182.5" cy="447.8" r="4.25"/><circle cx="191.0" cy="418.2" r="4.25"/><circle cx="165.7" cy="406.7" r="4.25"/><circle cx="159.5" cy="396.0" r="4.25"/><circle cx="159.2" cy="314.8" r="4.25"/><circle cx="177.0" cy="458.4" r="4.25"/><circle cx="182.3" cy="473.3" r="4.25"/><circle cx="168.6" cy="257.7" r="4.25"/><circle cx="179.9" cy="408.5" r="4.25"/><circle cx="172.9" cy="419.5" r="4.25"/><circle cx="191.4" cy="482.3" r="4.25"/><circle cx="164.6" cy="351.4" r="4.25"/><circle cx="175.5" cy="355.8" r="4.25"/><circle cx="172.5" cy="298.0" r="4.25"/><circle cx="171.6" cy="386.1" r="4.25"/><circle cx="164.5" cy="358.3" r="4.25"/><circle cx="163.7" cy="413.5" r="4.25"/><circle cx="179.4" cy="441.5" r="4.25"/><circle cx="180.4" cy="404.7" r="4.25"/><circle cx="169.4" cy="366.0" r="4.25"/><circle cx="186.7" cy="363.2" r="4.25"/><circle cx="171.5" cy="398.7" r="4.25"/><circle cx="174.3" cy="375.6" r="4.25"/><circle cx="183.3" cy="392.5" r="4.25"/><circle cx="191.9" cy="392.0" r="4.25"/><circle cx="164.3" cy="344.1" r="4.25"/><circle cx="185.9" cy="406.5" r="4.25"/><circle cx="188.1" cy="402.8" r="4.25"/><circle cx="180.5" cy="315.7" r="4.25"/><circle cx="163.6" cy="423.4" r="4.25"/><circle cx="163.6" cy="379.7" r="4.25"/><circle cx="182.9" cy="243.5" r="4.25"/><circle cx="173.3" cy="384.5" r="4.25"/><circle cx="184.6" cy="394.9" r="4.25"/><circle cx="173.8" cy="389.9" r="4.25"/><circle cx="171.3" cy="399.5" r="4.25"/><circle cx="174.6" cy="346.7" r="4.25"/><circle cx="190.1" cy="414.3" r="4.25"/><circle cx="159.3" cy="380.5" r="4.25"/><circle cx="177.2" cy="336.5" r="4.25"/><circle cx="191.5" cy="401.3" r="4.25"/><circle cx="184.7" cy="394.3" r="4.25"/><circle cx="180.7" cy="459.4" r="4.25"/><circle cx="177.0" cy="330.6" r="4.25"/><circle cx="167.2" cy="419.1" r="4.25"/><circle cx="184.5" cy="416.2" r="4.25"/><circle cx="163.5" cy="388.2" r="4.25"/><circle cx="159.3" cy="377.8" r="4.25"/><circle cx="161.0" cy="451.7" r="4.25"/><circle cx="177.0" cy="409.3" r="4.25"/><circle cx="169.5" cy="401.2" r="4.25"/><circle cx="187.1" cy="350.2" r="4.25"/><circle cx="181.5" cy="365.3" r="4.25"/><circle cx="177.4" cy="410.4" r="4.25"/><circle cx="161.9" cy="382.5" r="4.25"/><circle cx="176.9" cy="421.1" r="4.25"/><circle cx="165.4" cy="373.6" r="4.25"/><circle cx="189.8" cy="403.7" r="4.25"/><circle cx="169.6" cy="377.7" r="4.25"/><circle cx="188.6" cy="393.0" r="4.25"/><circle cx="158.4" cy="424.0" r="4.25"/><circle cx="165.2" cy="409.0" r="4.25"/><circle cx="174.3" cy="371.1" r="4.25"/><circle cx="171.0" cy="502.4" r="4.25"/><circle cx="183.5" cy="400.8" r="4.25"/><circle cx="188.3" cy="367.9" r="4.25"/><circle cx="190.4" cy="420.4" r="4.25"/><circle cx="188.9" cy="354.6" r="4.25"/><circle cx="186.4" cy="404.8" r="4.25"/><circle cx="163.3" cy="401.6" r="4.25"/><circle cx="168.2" cy="481.6" r="4.25"/><circle cx="190.5" cy="388.4" r="4.25"/><circle cx="161.0" cy="427.3" r="4.25"/><circle cx="163.9" cy="434.9" r="4.25"/><circle cx="161.3" cy="468.3" r="4.25"/><circle cx="165.3" cy="397.3" r="4.25"/><circle cx="189.3" cy="415.5" r="4.25"/><circle cx="169.1" cy="401.0" r="4.25"/><circle cx="165.7" cy="326.8" r="4.25"/><circle cx="161.6" cy="373.1" r="4.25"/><circle cx="170.2" cy="369.5" r="4.25"/><circle cx="180.3" cy="421.0" r="4.25"/><circle cx="177.2" cy="365.2" r="4.25"/><circle cx="189.8" cy="327.0" r="4.25"/><circle cx="173.6" cy="401.2" r="4.25"/><circle cx="161.4" cy="370.2" r="4.25"/><circle cx="186.1" cy="466.6" r="4.25"/><circle cx="170.3" cy="477.1" r="4.25"/><circle cx="177.8" cy="408.9" r="4.25"/><circle cx="172.5" cy="394.3" r="4.25"/><circle cx="190.6" cy="393.5" r="4.25"/><circle cx="176.0" cy="430.1" r="4.25"/><circle cx="188.0" cy="322.7" r="4.25"/><circle cx="165.8" cy="342.1" r="4.25"/><circle cx="188.9" cy="381.8" r="4.25"/><circle cx="185.9" cy="409.8" r="4.25"/><circle cx="185.2" cy="437.1" r="4.25"/><circle cx="166.8" cy="382.3" r="4.25"/><circle cx="171.5" cy="429.3" r="4.25"/><circle cx="189.2" cy="366.0" r="4.25"/><circle cx="174.2" cy="376.0" r="4.25"/><circle cx="191.3" cy="427.8" r="4.25"/><circle cx="165.5" cy="377.6" r="4.25"/><circle cx="171.6" cy="364.8" r="4.25"/><circle cx="175.9" cy="468.7" r="4.25"/><circle cx="163.8" cy="341.3" r="4.25"/><circle cx="178.3" cy="402.3" r="4.25"/><circle cx="185.8" cy="547.7" r="4.25"/><circle cx="165.2" cy="453.2" r="4.25"/><circle cx="170.4" cy="311.6" r="4.25"/><circle cx="176.8" cy="392.3" r="4.25"/><circle cx="179.0" cy="444.8" r="4.25"/><circle cx="160.4" cy="393.8" r="4.25"/><circle cx="169.1" cy="341.6" r="4.25"/><circle cx="169.6" cy="408.2" r="4.25"/><circle cx="183.1" cy="340.0" r="4.25"/><circle cx="188.4" cy="395.9" r="4.25"/><circle cx="161.2" cy="399.4" r="4.25"/><circle cx="182.4" cy="311.5" r="4.25"/><circle cx="168.4" cy="430.4" r="4.25"/><circle cx="181.0" cy="408.1" r="4.25"/><circle cx="187.3" cy="444.7" r="4.25"/><circle cx="172.2" cy="370.7" r="4.25"/><circle cx="184.7" cy="356.1" r="4.25"/><circle cx="191.2" cy="395.8" r="4.25"/><circle cx="170.7" cy="379.1" r="4.25"/><circle cx="158.3" cy="445.0" r="4.25"/><circle cx="166.6" cy="421.1" r="4.25"/><circle cx="176.0" cy="487.3" r="4.25"/><circle cx="158.8" cy="395.3" r="4.25"/><circle cx="165.1" cy="423.5" r="4.25"/><circle cx="174.2" cy="393.8" r="4.25"/><circle cx="187.1" cy="334.1" r="4.25"/><circle cx="186.8" cy="344.4" r="4.25"/><circle cx="171.3" cy="412.8" r="4.25"/><circle cx="170.4" cy="384.2" r="4.25"/><circle cx="171.8" cy="416.6" r="4.25"/><circle cx="163.9" cy="410.2" r="4.25"/><circle cx="184.5" cy="453.7" r="4.25"/><circle cx="174.7" cy="415.3" r="4.25"/><circle cx="190.1" cy="468.9" r="4.25"/><circle cx="164.4" cy="365.3" r="4.25"/><circle cx="185.8" cy="418.5" r="4.25"/><circle cx="162.9" cy="318.7" r="4.25"/><circle cx="178.5" cy="367.9" r="4.25"/><circle cx="169.3" cy="396.6" r="4.25"/><circle cx="164.8" cy="413.5" r="4.25"/><circle cx="161.6" cy="389.6" r="4.25"/><circle cx="163.0" cy="337.7" r="4.25"/><circle cx="181.2" cy="402.0" r="4.25"/><circle cx="191.6" cy="294.1" r="4.25"/><circle cx="184.5" cy="340.5" r="4.25"/><circle cx="186.6" cy="319.2" r="4.25"/><circle cx="190.5" cy="387.1" r="4.25"/><circle cx="175.6" cy="469.4" r="4.25"/><circle cx="166.6" cy="409.7" r="4.25"/><circle cx="189.8" cy="518.9" r="4.25"/><circle cx="166.9" cy="371.1" r="4.25"/><circle cx="169.3" cy="398.0" r="4.25"/><circle cx="178.7" cy="387.9" r="4.25"/><circle cx="174.2" cy="341.1" r="4.25"/><circle cx="183.1" cy="402.7" r="4.25"/><circle cx="189.4" cy="485.4" r="4.25"/><circle cx="169.5" cy="390.9" r="4.25"/><circle cx="181.2" cy="404.3" r="4.25"/><circle cx="164.2" cy="333.5" r="4.25"/><circle cx="189.2" cy="379.7" r="4.25"/><circle cx="171.3" cy="307.6" r="4.25"/><circle cx="183.6" cy="405.0" r="4.25"/><circle cx="182.5" cy="356.1" r="4.25"/><circle cx="191.8" cy="539.6" r="4.25"/><circle cx="180.6" cy="397.2" r="4.25"/><circle cx="162.6" cy="414.6" r="4.25"/><circle cx="191.1" cy="393.2" r="4.25"/><circle cx="175.8" cy="341.3" r="4.25"/><circle cx="179.9" cy="398.9" r="4.25"/><circle cx="177.4" cy="331.0" r="4.25"/><circle cx="179.7" cy="325.0" r="4.25"/><circle cx="162.9" cy="339.8" r="4.25"/><circle cx="174.4" cy="395.6" r="4.25"/><circle cx="160.7" cy="379.0" r="4.25"/><circle cx="164.8" cy="426.3" r="4.25"/><circle cx="161.3" cy="438.0" r="4.25"/><circle cx="189.9" cy="372.4" r="4.25"/><circle cx="175.0" cy="306.3" r="4.25"/><circle cx="188.0" cy="371.6" r="4.25"/><circle cx="159.8" cy="352.1" r="4.25"/><circle cx="179.0" cy="378.9" r="4.25"/><circle cx="167.7" cy="361.0" r="4.25"/><circle cx="190.4" cy="392.5" r="4.25"/><circle cx="168.7" cy="391.6" r="4.25"/><circle cx="169.6" cy="417.1" r="4.25"/><circle cx="165.0" cy="419.3" r="4.25"/><circle cx="160.3" cy="403.0" r="4.25"/><circle cx="180.0" cy="451.6" r="4.25"/><circle cx="171.8" cy="382.8" r="4.25"/><circle cx="162.9" cy="460.1" r="4.25"/><circle cx="167.2" cy="415.4" r="4.25"/><circle cx="173.5" cy="336.1" r="4.25"/><circle cx="161.3" cy="400.5" r="4.25"/><circle cx="163.6" cy="323.3" r="4.25"/><circle cx="162.7" cy="389.5" r="4.25"/><circle cx="164.8" cy="388.4" r="4.25"/><circle cx="189.0" cy="396.5" r="4.25"/><circle cx="160.6" cy="435.2" r="4.25"/><circle cx="161.0" cy="394.9" r="4.25"/><circle cx="161.1" cy="369.7" r="4.25"/><circle cx="171.4" cy="375.3" r="4.25"/><circle cx="190.7" cy="466.5" r="4.25"/><circle cx="190.0" cy="378.5" r="4.25"/><circle cx="169.8" cy="399.2" r="4.25"/><circle cx="172.6" cy="433.5" r="4.25"/><circle cx="166.8" cy="348.0" r="4.25"/><circle cx="164.5" cy="436.4" r="4.25"/><circle cx="183.6" cy="380.0" r="4.25"/><circle cx="167.7" cy="403.1" r="4.25"/><circle cx="163.7" cy="438.6" r="4.25"/><circle cx="167.6" cy="357.3" r="4.25"/><circle cx="162.9" cy="365.8" r="4.25"/><circle cx="185.1" cy="419.5" r="4.25"/><circle cx="176.0" cy="312.7" r="4.25"/><circle cx="169.8" cy="359.6" r="4.25"/><circle cx="181.6" cy="471.0" r="4.25"/><circle cx="190.8" cy="381.6" r="4.25"/><circle cx="161.7" cy="380.4" r="4.25"/><circle cx="178.3" cy="480.6" r="4.25"/><circle cx="184.2" cy="417.9" r="4.25"/><circle cx="166.1" cy="379.3" r="4.25"/><circle cx="191.9" cy="406.0" r="4.25"/><circle cx="187.8" cy="395.7" r="4.25"/><circle cx="181.4" cy="421.5" r="4.25"/><circle cx="191.2" cy="389.0" r="4.25"/><circle cx="159.3" cy="372.0" r="4.25"/><circle cx="159.0" cy="483.1" r="4.25"/><circle cx="167.8" cy="471.8" r="4.25"/><circle cx="191.1" cy="384.2" r="4.25"/><circle cx="169.0" cy="334.3" r="4.25"/><circle cx="165.1" cy="426.7" r="4.25"/><circle cx="159.7" cy="315.9" r="4.25"/><circle cx="191.0" cy="422.6" r="4.25"/><circle cx="189.5" cy="403.0" r="4.25"/><circle cx="159.7" cy="358.9" r="4.25"/><circle cx="162.0" cy="402.4" r="4.25"/><circle cx="167.8" cy="382.2" r="4.25"/><circle cx="182.8" cy="394.6" r="4.25"/><circle cx="175.2" cy="397.9" r="4.25"/><circle cx="161.2" cy="224.8" r="4.25"/><circle cx="178.2" cy="411.7" r="4.25"/><circle cx="191.2" cy="373.6" r="4.25"/><circle cx="160.9" cy="387.8" r="4.25"/><circle cx="160.2" cy="368.9" r="4.25"/><circle cx="167.8" cy="376.0" r="4.25"/><circle cx="171.0" cy="313.8" r="4.25"/><circle cx="176.3" cy="411.6" r="4.25"/><circle cx="189.5" cy="494.6" r="4.25"/><circle cx="179.6" cy="402.3" r="4.25"/><circle cx="173.0" cy="402.0" r="4.25"/><circle cx="168.1" cy="458.2" r="4.25"/><circle cx="161.0" cy="364.0" r="4.25"/><circle cx="191.2" cy="399.1" r="4.25"/><circle cx="176.3" cy="372.7" r="4.25"/><circle cx="190.6" cy="415.7" r="4.25"/><circle cx="167.4" cy="331.1" r="4.25"/><circle cx="176.7" cy="454.6" r="4.25"/><circle cx="167.2" cy="398.8" r="4.25"/><circle cx="166.3" cy="375.1" r="4.25"/><circle cx="189.6" cy="328.2" r="4.25"/><circle cx="172.6" cy="381.1" r="4.25"/><circle cx="161.6" cy="451.1" r="4.25"/><circle cx="168.9" cy="390.8" r="4.25"/><circle cx="182.9" cy="412.3" r="4.25"/><circle cx="180.7" cy="408.3" r="4.25"/><circle cx="187.0" cy="446.5" r="4.25"/><circle cx="188.4" cy="442.9" r="4.25"/><circle cx="190.3" cy="363.2" r="4.25"/><circle cx="187.2" cy="364.4" r="4.25"/><circle cx="181.7" cy="305.5" r="4.25"/><circle cx="182.4" cy="433.7" r="4.25"/><circle cx="171.2" cy="444.8" r="4.25"/><circle cx="161.9" cy="366.5" r="4.25"/><circle cx="162.0" cy="326.9" r="4.25"/><circle cx="184.4" cy="361.9" r="4.25"/><circle cx="173.1" cy="404.5" r="4.25"/><circle cx="176.5" cy="452.3" r="4.25"/><circle cx="183.8" cy="376.8" r="4.25"/><circle cx="171.3" cy="405.5" r="4.25"/><circle cx="171.8" cy="459.1" r="4.25"/><circle cx="177.2" cy="405.7" r="4.25"/><circle cx="190.0" cy="366.3" r="4.25"/><circle cx="162.1" cy="330.2" r="4.25"/><circle cx="172.2" cy="401.6" r="4.25"/><circle cx="173.7" cy="402.1" r="4.25"/><circle cx="189.3" cy="417.0" r="4.25"/><circle cx="169.7" cy="379.8" r="4.25"/><circle cx="184.9" cy="452.0" r="4.25"/><circle cx="170.2" cy="356.8" r="4.25"/><circle cx="172.3" cy="376.0" r="4.25"/><circle cx="187.9" cy="504.9" r="4.25"/><circle cx="184.5" cy="438.5" r="4.25"/><circle cx="188.2" cy="385.0" r="4.25"/><circle cx="189.5" cy="399.0" r="4.25"/><circle cx="160.4" cy="414.3" r="4.25"/><circle cx="172.4" cy="399.9" r="4.25"/><circle cx="175.4" cy="406.6" r="4.25"/><circle cx="190.9" cy="400.0" r="4.25"/><circle cx="187.4" cy="420.0" r="4.25"/><circle cx="187.2" cy="369.8" r="4.25"/><circle cx="160.4" cy="377.7" r="4.25"/><circle cx="184.2" cy="390.2" r="4.25"/><circle cx="169.6" cy="389.9" r="4.25"/><circle cx="191.5" cy="420.4" r="4.25"/><circle cx="160.6" cy="405.3" r="4.25"/><circle cx="168.1" cy="253.1" r="4.25"/><circle cx="186.7" cy="395.9" r="4.25"/><circle cx="179.3" cy="406.3" r="4.25"/><circle cx="165.5" cy="345.6" r="4.25"/><circle cx="188.3" cy="438.9" r="4.25"/><circle cx="185.4" cy="391.0" r="4.25"/><circle cx="176.2" cy="392.7" r="4.25"/><circle cx="183.7" cy="404.2" r="4.25"/><circle cx="160.2" cy="397.3" r="4.25"/><circle cx="186.4" cy="390.0" r="4.25"/><circle cx="158.5" cy="384.3" r="4.25"/><circle cx="173.6" cy="453.6" r="4.25"/><circle cx="179.9" cy="376.9" r="4.25"/><circle cx="184.3" cy="439.4" r="4.25"/><circle cx="178.7" cy="331.5" r="4.25"/><circle cx="179.9" cy="374.4" r="4.25"/><circle cx="175.4" cy="400.1" r="4.25"/><circle cx="179.8" cy="393.1" r="4.25"/><circle cx="181.2" cy="407.5" r="4.25"/><circle cx="189.6" cy="306.0" r="4.25"/><circle cx="165.8" cy="337.3" r="4.25"/><circle cx="171.1" cy="315.0" r="4.25"/><circle cx="172.3" cy="385.5" r="4.25"/><circle cx="174.8" cy="345.6" r="4.25"/><circle cx="177.1" cy="389.5" r="4.25"/><circle cx="185.7" cy="423.3" r="4.25"/><circle cx="190.8" cy="382.0" r="4.25"/><circle cx="171.1" cy="345.2" r="4.25"/><circle cx="179.9" cy="424.1" r="4.25"/><circle cx="159.0" cy="379.0" r="4.25"/><circle cx="174.1" cy="504.1" r="4.25"/><circle cx="161.7" cy="439.8" r="4.25"/><circle cx="173.9" cy="392.3" r="4.25"/><circle cx="178.7" cy="398.2" r="4.25"/><circle cx="182.4" cy="374.5" r="4.25"/><circle cx="166.4" cy="331.2" r="4.25"/><circle cx="174.4" cy="365.1" r="4.25"/><circle cx="171.5" cy="380.0" r="4.25"/><circle cx="189.4" cy="341.8" r="4.25"/><circle cx="174.4" cy="457.5" r="4.25"/><circle cx="173.1" cy="359.0" r="4.25"/><circle cx="164.8" cy="382.3" r="4.25"/><circle cx="159.6" cy="409.2" r="4.25"/><circle cx="176.4" cy="379.5" r="4.25"/><circle cx="173.9" cy="391.6" r="4.25"/><circle cx="164.3" cy="399.9" r="4.25"/><circle cx="187.2" cy="376.4" r="4.25"/><circle cx="158.4" cy="467.4" r="4.25"/><circle cx="177.2" cy="380.5" r="4.25"/><circle cx="176.3" cy="449.8" r="4.25"/><circle cx="182.4" cy="414.5" r="4.25"/><circle cx="160.8" cy="353.2" r="4.25"/><circle cx="189.2" cy="390.1" r="4.25"/><circle cx="183.6" cy="434.5" r="4.25"/><circle cx="160.2" cy="448.6" r="4.25"/><circle cx="158.6" cy="522.4" r="4.25"/><circle cx="165.0" cy="382.1" r="4.25"/><circle cx="191.0" cy="366.2" r="4.25"/><circle cx="171.4" cy="385.8" r="4.25"/><circle cx="189.5" cy="407.2" r="4.25"/><circle cx="168.1" cy="350.5" r="4.25"/><circle cx="190.2" cy="455.3" r="4.25"/><circle cx="181.0" cy="507.3" r="4.25"/><circle cx="190.0" cy="416.7" r="4.25"/><circle cx="180.7" cy="372.0" r="4.25"/><circle cx="161.0" cy="419.3" r="4.25"/><circle cx="160.5" cy="410.6" r="4.25"/><circle cx="160.9" cy="403.6" r="4.25"/><circle cx="186.4" cy="390.6" r="4.25"/><circle cx="171.3" cy="393.8" r="4.25"/><circle cx="181.1" cy="413.4" r="4.25"/><circle cx="170.2" cy="420.4" r="4.25"/><circle cx="182.2" cy="297.4" r="4.25"/><circle cx="163.6" cy="506.8" r="4.25"/><circle cx="168.9" cy="462.5" r="4.25"/><circle cx="161.3" cy="348.6" r="4.25"/><circle cx="160.4" cy="392.3" r="4.25"/><circle cx="174.1" cy="436.5" r="4.25"/><circle cx="174.4" cy="385.0" r="4.25"/><circle cx="179.4" cy="442.0" r="4.25"/><circle cx="160.5" cy="436.6" r="4.25"/><circle cx="171.1" cy="391.0" r="4.25"/><circle cx="169.6" cy="342.4" r="4.25"/><circle cx="177.7" cy="412.7" r="4.25"/><circle cx="168.7" cy="387.7" r="4.25"/><circle cx="165.4" cy="507.4" r="4.25"/><circle cx="188.6" cy="424.2" r="4.25"/><circle cx="162.9" cy="366.3" r="4.25"/><circle cx="182.6" cy="382.1" r="4.25"/><circle cx="191.1" cy="348.9" r="4.25"/><circle cx="165.3" cy="376.6" r="4.25"/><circle cx="163.0" cy="400.7" r="4.25"/><circle cx="187.6" cy="344.5" r="4.25"/><circle cx="191.4" cy="410.8" r="4.25"/><circle cx="175.4" cy="339.0" r="4.25"/><circle cx="168.8" cy="353.4" r="4.25"/><circle cx="187.0" cy="357.2" r="4.25"/><circle cx="170.4" cy="393.0" r="4.25"/><circle cx="189.6" cy="432.3" r="4.25"/><circle cx="174.2" cy="330.0" r="4.25"/><circle cx="175.8" cy="371.2" r="4.25"/><circle cx="174.5" cy="378.5" r="4.25"/><circle cx="158.7" cy="343.5" r="4.25"/><circle cx="190.5" cy="445.8" r="4.25"/><circle cx="177.9" cy="413.6" r="4.25"/><circle cx="172.5" cy="393.1" r="4.25"/><circle cx="159.3" cy="372.4" r="4.25"/><circle cx="183.9" cy="385.4" r="4.25"/><circle cx="158.7" cy="274.3" r="4.25"/><circle cx="182.6" cy="328.3" r="4.25"/><circle cx="170.3" cy="429.3" r="4.25"/><circle cx="169.5" cy="419.5" r="4.25"/><circle cx="168.9" cy="453.9" r="4.25"/><circle cx="170.5" cy="470.5" r="4.25"/><circle cx="181.7" cy="380.8" r="4.25"/><circle cx="177.4" cy="384.4" r="4.25"/><circle cx="161.9" cy="433.2" r="4.25"/><circle cx="190.1" cy="361.7" r="4.25"/><circle cx="185.2" cy="341.8" r="4.25"/><circle cx="164.7" cy="356.0" r="4.25"/><circle cx="170.2" cy="411.5" r="4.25"/><circle cx="160.9" cy="340.2" r="4.25"/><circle cx="184.8" cy="435.0" r="4.25"/><circle cx="163.6" cy="396.5" r="4.25"/><circle cx="177.3" cy="421.2" r="4.25"/><circle cx="176.0" cy="433.1" r="4.25"/><circle cx="183.9" cy="290.3" r="4.25"/><circle cx="190.0" cy="356.3" r="4.25"/><circle cx="191.0" cy="387.5" r="4.25"/><circle cx="186.8" cy="354.1" r="4.25"/><circle cx="174.6" cy="456.9" r="4.25"/><circle cx="161.0" cy="408.9" r="4.25"/><circle cx="184.7" cy="398.1" r="4.25"/><circle cx="167.3" cy="396.2" r="4.25"/><circle cx="183.6" cy="402.5" r="4.25"/><circle cx="189.9" cy="333.7" r="4.25"/><circle cx="188.9" cy="445.3" r="4.25"/><circle cx="164.4" cy="392.6" r="4.25"/><circle cx="191.9" cy="416.5" r="4.25"/><circle cx="159.3" cy="421.6" r="4.25"/><circle cx="170.6" cy="385.7" r="4.25"/><circle cx="170.0" cy="375.5" r="4.25"/><circle cx="164.5" cy="444.3" r="4.25"/><circle cx="173.3" cy="345.1" r="4.25"/><circle cx="183.9" cy="441.9" r="4.25"/><circle cx="166.4" cy="426.5" r="4.25"/><circle cx="179.6" cy="388.3" r="4.25"/><circle cx="188.4" cy="394.6" r="4.25"/><circle cx="175.6" cy="463.7" r="4.25"/><circle cx="160.1" cy="440.3" r="4.25"/><circle cx="180.2" cy="388.6" r="4.25"/><circle cx="170.2" cy="351.4" r="4.25"/><circle cx="179.8" cy="417.0" r="4.25"/><circle cx="177.9" cy="388.1" r="4.25"/><circle cx="166.0" cy="302.7" r="4.25"/><circle cx="183.0" cy="381.9" r="4.25"/><circle cx="171.2" cy="380.6" r="4.25"/><circle cx="166.3" cy="412.8" r="4.25"/><circle cx="165.5" cy="410.7" r="4.25"/><circle cx="173.7" cy="335.8" r="4.25"/><circle cx="178.2" cy="412.0" r="4.25"/><circle cx="158.4" cy="349.7" r="4.25"/><circle cx="190.9" cy="405.4" r="4.25"/><circle cx="184.6" cy="419.1" r="4.25"/><circle cx="167.9" cy="449.5" r="4.25"/><circle cx="190.5" cy="373.6" r="4.25"/><circle cx="167.4" cy="443.2" r="4.25"/><circle cx="169.4" cy="467.2" r="4.25"/><circle cx="190.2" cy="425.6" r="4.25"/><circle cx="189.4" cy="382.9" r="4.25"/><circle cx="161.0" cy="352.0" r="4.25"/><circle cx="158.8" cy="489.1" r="4.25"/><circle cx="175.0" cy="359.5" r="4.25"/><circle cx="169.8" cy="389.0" r="4.25"/><circle cx="170.8" cy="352.0" r="4.25"/><circle cx="180.8" cy="375.0" r="4.25"/><circle cx="188.2" cy="367.3" r="4.25"/><circle cx="189.9" cy="360.7" r="4.25"/><circle cx="191.2" cy="447.0" r="4.25"/><circle cx="170.5" cy="341.6" r="4.25"/><circle cx="174.3" cy="405.9" r="4.25"/><circle cx="168.4" cy="407.8" r="4.25"/><circle cx="176.8" cy="377.8" r="4.25"/><circle cx="170.0" cy="405.4" r="4.25"/><circle cx="170.7" cy="335.0" r="4.25"/><circle cx="180.3" cy="417.4" r="4.25"/><circle cx="191.7" cy="381.4" r="4.25"/><circle cx="184.6" cy="296.1" r="4.25"/><circle cx="185.5" cy="387.0" r="4.25"/><circle cx="183.4" cy="346.2" r="4.25"/><circle cx="164.1" cy="379.7" r="4.25"/><circle cx="182.5" cy="406.9" r="4.25"/><circle cx="175.9" cy="409.8" r="4.25"/><circle cx="180.2" cy="439.0" r="4.25"/><circle cx="170.1" cy="387.6" r="4.25"/><circle cx="189.5" cy="429.1" r="4.25"/><circle cx="188.8" cy="416.0" r="4.25"/><circle cx="166.3" cy="487.2" r="4.25"/><circle cx="160.7" cy="382.8" r="4.25"/><circle cx="190.7" cy="396.1" r="4.25"/><circle cx="181.4" cy="388.3" r="4.25"/><circle cx="172.8" cy="388.5" r="4.25"/><circle cx="168.1" cy="387.6" r="4.25"/><circle cx="169.1" cy="433.8" r="4.25"/><circle cx="163.8" cy="505.6" r="4.25"/><circle cx="184.0" cy="281.1" r="4.25"/><circle cx="170.2" cy="418.6" r="4.25"/><circle cx="178.0" cy="396.1" r="4.25"/><circle cx="164.0" cy="489.4" r="4.25"/><circle cx="178.5" cy="443.1" r="4.25"/><circle cx="185.1" cy="406.3" r="4.25"/><circle cx="173.9" cy="568.4" r="4.25"/><circle cx="158.8" cy="421.1" r="4.25"/><circle cx="167.6" cy="399.5" r="4.25"/><circle cx="158.6" cy="377.1" r="4.25"/><circle cx="186.0" cy="499.1" r="4.25"/><circle cx="191.1" cy="432.1" r="4.25"/><circle cx="165.0" cy="402.8" r="4.25"/><circle cx="164.1" cy="514.9" r="4.25"/><circle cx="189.3" cy="449.3" r="4.25"/><circle cx="182.8" cy="475.1" r="4.25"/><circle cx="164.3" cy="406.5" r="4.25"/><circle cx="172.6" cy="415.2" r="4.25"/><circle cx="171.0" cy="402.9" r="4.25"/><circle cx="158.3" cy="437.3" r="4.25"/><circle cx="163.5" cy="431.1" r="4.25"/><circle cx="190.2" cy="439.3" r="4.25"/><circle cx="181.3" cy="421.1" r="4.25"/><circle cx="186.4" cy="368.1" r="4.25"/><circle cx="172.5" cy="389.8" r="4.25"/><circle cx="166.2" cy="342.6" r="4.25"/><circle cx="185.2" cy="397.4" r="4.25"/><circle cx="172.3" cy="353.5" r="4.25"/><circle cx="163.6" cy="416.5" r="4.25"/><circle cx="159.4" cy="342.3" r="4.25"/><circle cx="185.5" cy="340.9" r="4.25"/><circle cx="162.9" cy="453.8" r="4.25"/><circle cx="191.1" cy="421.3" r="4.25"/><circle cx="180.1" cy="394.7" r="4.25"/><circle cx="158.7" cy="301.1" r="4.25"/><circle cx="160.9" cy="298.2" r="4.25"/><circle cx="184.8" cy="382.7" r="4.25"/><circle cx="168.2" cy="359.4" r="4.25"/><circle cx="163.9" cy="406.7" r="4.25"/><circle cx="180.4" cy="385.6" r="4.25"/><circle cx="169.5" cy="359.8" r="4.25"/><circle cx="164.8" cy="376.9" r="4.25"/><circle cx="188.5" cy="384.7" r="4.25"/><circle cx="175.6" cy="396.4" r="4.25"/><circle cx="175.4" cy="467.7" r="4.25"/><circle cx="184.2" cy="398.5" r="4.25"/><circle cx="189.4" cy="402.9" r="4.25"/><circle cx="177.7" cy="344.5" r="4.25"/><circle cx="160.7" cy="354.3" r="4.25"/><circle cx="170.7" cy="352.8" r="4.25"/><circle cx="162.0" cy="305.8" r="4.25"/><circle cx="169.8" cy="422.5" r="4.25"/><circle cx="164.8" cy="409.6" r="4.25"/><circle cx="178.1" cy="414.9" r="4.25"/><circle cx="177.3" cy="420.8" r="4.25"/><circle cx="187.8" cy="408.7" r="4.25"/><circle cx="167.0" cy="414.9" r="4.25"/><circle cx="180.3" cy="435.5" r="4.25"/><circle cx="172.0" cy="452.9" r="4.25"/><circle cx="181.2" cy="309.2" r="4.25"/><circle cx="188.5" cy="480.8" r="4.25"/><circle cx="176.3" cy="306.8" r="4.25"/><circle cx="180.4" cy="317.2" r="4.25"/><circle cx="167.8" cy="395.1" r="4.25"/><circle cx="187.2" cy="391.8" r="4.25"/><circle cx="180.9" cy="376.2" r="4.25"/><circle cx="175.5" cy="362.5" r="4.25"/><circle cx="186.8" cy="391.5" r="4.25"/><circle cx="162.9" cy="428.5" r="4.25"/><circle cx="188.6" cy="418.4" r="4.25"/><circle cx="184.2" cy="398.5" r="4.25"/><circle cx="170.7" cy="452.8" r="4.25"/><circle cx="160.4" cy="426.2" r="4.25"/><circle cx="158.9" cy="439.6" r="4.25"/><circle cx="164.1" cy="400.7" r="4.25"/><circle cx="177.8" cy="329.0" r="4.25"/><circle cx="167.6" cy="372.9" r="4.25"/><circle cx="184.6" cy="381.1" r="4.25"/><circle cx="171.9" cy="401.7" r="4.25"/><circle cx="163.3" cy="440.3" r="4.25"/><circle cx="183.7" cy="379.8" r="4.25"/><circle cx="164.2" cy="425.4" r="4.25"/><circle cx="188.3" cy="335.0" r="4.25"/><circle cx="165.4" cy="472.7" r="4.25"/><circle cx="173.2" cy="371.2" r="4.25"/><circle cx="191.2" cy="425.8" r="4.25"/><circle cx="169.9" cy="425.0" r="4.25"/><circle cx="187.9" cy="428.2" r="4.25"/><circle cx="181.2" cy="411.9" r="4.25"/><circle cx="186.2" cy="488.2" r="4.25"/><circle cx="168.0" cy="329.7" r="4.25"/><circle cx="179.9" cy="333.4" r="4.25"/><circle cx="175.4" cy="370.5" r="4.25"/><circle cx="160.5" cy="441.3" r="4.25"/><circle cx="177.5" cy="432.9" r="4.25"/><circle cx="179.7" cy="335.2" r="4.25"/><circle cx="178.7" cy="360.6" r="4.25"/><circle cx="190.0" cy="360.5" r="4.25"/><circle cx="163.1" cy="462.3" r="4.25"/><circle cx="164.9" cy="310.9" r="4.25"/><circle cx="179.7" cy="394.6" r="4.25"/><circle cx="182.2" cy="377.8" r="4.25"/><circle cx="172.1" cy="374.9" r="4.25"/><circle cx="163.9" cy="442.6" r="4.25"/><circle cx="177.8" cy="465.2" r="4.25"/><circle cx="167.9" cy="417.5" r="4.25"/><circle cx="162.9" cy="428.3" r="4.25"/><circle cx="190.9" cy="417.3" r="4.25"/><circle cx="183.4" cy="427.2" r="4.25"/><circle cx="161.8" cy="451.5" r="4.25"/><circle cx="181.6" cy="375.9" r="4.25"/><circle cx="167.5" cy="428.7" r="4.25"/><circle cx="186.0" cy="423.1" r="4.25"/><circle cx="191.6" cy="410.9" r="4.25"/><circle cx="171.7" cy="368.9" r="4.25"/><circle cx="171.4" cy="384.0" r="4.25"/><circle cx="179.8" cy="411.0" r="4.25"/><circle cx="188.7" cy="431.1" r="4.25"/><circle cx="159.5" cy="392.2" r="4.25"/><circle cx="181.0" cy="361.5" r="4.25"/><circle cx="173.9" cy="385.8" r="4.25"/><circle cx="182.5" cy="355.6" r="4.25"/><circle cx="188.1" cy="431.9" r="4.25"/><circle cx="183.5" cy="413.1" r="4.25"/><circle cx="164.3" cy="420.7" r="4.25"/><circle cx="168.6" cy="343.7" r="4.25"/><circle cx="170.7" cy="374.4" r="4.25"/><circle cx="180.7" cy="367.8" r="4.25"/><circle cx="184.5" cy="402.2" r="4.25"/><circle cx="189.3" cy="385.3" r="4.25"/><circle cx="191.3" cy="402.2" r="4.25"/><circle cx="175.9" cy="466.7" r="4.25"/><circle cx="179.8" cy="409.0" r="4.25"/><circle cx="159.2" cy="456.3" r="4.25"/><circle cx="190.2" cy="378.5" r="4.25"/><circle cx="188.3" cy="436.6" r="4.25"/><circle cx="190.3" cy="420.9" r="4.25"/><circle cx="187.1" cy="399.0" r="4.25"/><circle cx="179.5" cy="336.2" r="4.25"/><circle cx="182.7" cy="383.5" r="4.25"/><circle cx="160.4" cy="398.5" r="4.25"/><circle cx="176.5" cy="464.7" r="4.25"/><circle cx="166.1" cy="373.5" r="4.25"/><circle cx="173.9" cy="401.0" r="4.25"/><circle cx="178.5" cy="477.5" r="4.25"/><circle cx="165.7" cy="427.6" r="4.25"/><circle cx="191.3" cy="390.4" r="4.25"/><circle cx="160.7" cy="456.4" r="4.25"/><circle cx="175.7" cy="419.8" r="4.25"/><circle cx="177.6" cy="359.1" r="4.25"/><circle cx="181.9" cy="435.6" r="4.25"/><circle cx="168.9" cy="352.5" r="4.25"/><circle cx="175.2" cy="407.0" r="4.25"/><circle cx="180.5" cy="448.4" r="4.25"/><circle cx="178.6" cy="356.0" r="4.25"/><circle cx="160.9" cy="442.2" r="4.25"/><circle cx="164.7" cy="388.1" r="4.25"/><circle cx="158.8" cy="385.0" r="4.25"/><circle cx="181.7" cy="422.4" r="4.25"/><circle cx="187.4" cy="389.3" r="4.25"/><circle cx="163.1" cy="411.1" r="4.25"/><circle cx="178.6" cy="388.5" r="4.25"/><circle cx="186.1" cy="372.3" r="4.25"/><circle cx="181.2" cy="303.6" r="4.25"/><circle cx="159.0" cy="392.8" r="4.25"/><circle cx="185.9" cy="372.3" r="4.25"/><circle cx="171.8" cy="450.5" r="4.25"/><circle cx="182.5" cy="413.1" r="4.25"/><circle cx="165.4" cy="348.7" r="4.25"/><circle cx="179.8" cy="360.0" r="4.25"/><circle cx="184.5" cy="407.7" r="4.25"/><circle cx="176.2" cy="431.6" r="4.25"/><circle cx="167.4" cy="401.3" r="4.25"/><circle cx="189.8" cy="422.6" r="4.25"/><circle cx="179.8" cy="429.1" r="4.25"/><circle cx="169.6" cy="375.5" r="4.25"/><circle cx="161.1" cy="344.8" r="4.25"/><circle cx="164.3" cy="445.9" r="4.25"/><circle cx="190.5" cy="379.3" r="4.25"/><circle cx="166.7" cy="390.6" r="4.25"/><circle cx="168.2" cy="398.8" r="4.25"/><circle cx="173.7" cy="369.1" r="4.25"/><circle cx="187.3" cy="277.2" r="4.25"/><circle cx="160.1" cy="349.4" r="4.25"/><circle cx="190.5" cy="435.8" r="4.25"/><circle cx="189.5" cy="329.2" r="4.25"/><circle cx="189.0" cy="329.6" r="4.25"/><circle cx="176.5" cy="381.8" r="4.25"/><circle cx="180.2" cy="421.7" r="4.25"/><circle cx="180.8" cy="345.2" r="4.25"/><circle cx="169.7" cy="348.3" r="4.25"/><circle cx="170.9" cy="411.3" r="4.25"/><circle cx="186.4" cy="493.0" r="4.25"/><circle cx="186.0" cy="378.3" r="4.25"/><circle cx="163.8" cy="443.3" r="4.25"/><circle cx="178.2" cy="400.6" r="4.25"/><circle cx="168.0" cy="300.3" r="4.25"/><circle cx="162.2" cy="357.8" r="4.25"/><circle cx="165.8" cy="387.6" r="4.25"/><circle cx="168.9" cy="370.4" r="4.25"/><circle cx="166.8" cy="508.9" r="4.25"/><circle cx="177.8" cy="408.4" r="4.25"/><circle cx="191.2" cy="269.7" r="4.25"/><circle cx="159.1" cy="328.5" r="4.25"/><circle cx="168.0" cy="404.6" r="4.25"/><circle cx="172.0" cy="348.2" r="4.25"/><circle cx="182.2" cy="373.7" r="4.25"/><circle cx="169.3" cy="375.9" r="4.25"/><circle cx="171.7" cy="364.6" r="4.25"/><circle cx="162.2" cy="321.0" r="4.25"/><circle cx="181.4" cy="368.1" r="4.25"/><circle cx="161.6" cy="430.0" r="4.25"/><circle cx="159.7" cy="460.0" r="4.25"/><circle cx="188.7" cy="376.7" r="4.25"/><circle cx="161.1" cy="456.6" r="4.25"/><circle cx="170.1" cy="425.1" r="4.25"/><circle cx="169.3" cy="404.5" r="4.25"/><circle cx="161.4" cy="425.0" r="4.25"/><circle cx="166.9" cy="488.7" r="4.25"/><circle cx="176.8" cy="378.0" r="4.25"/><circle cx="161.9" cy="448.8" r="4.25"/><circle cx="180.3" cy="385.6" r="4.25"/><circle cx="178.5" cy="435.1" r="4.25"/><circle cx="162.9" cy="388.2" r="4.25"/><circle cx="171.8" cy="441.1" r="4.25"/><circle cx="179.9" cy="358.0" r="4.25"/><circle cx="161.5" cy="386.0" r="4.25"/><circle cx="177.6" cy="457.7" r="4.25"/><circle cx="170.5" cy="379.9" r="4.25"/><circle cx="177.1" cy="424.5" r="4.25"/><circle cx="172.2" cy="426.7" r="4.25"/><circle cx="173.5" cy="300.5" r="4.25"/><circle cx="158.8" cy="431.9" r="4.25"/><circle cx="160.7" cy="364.9" r="4.25"/><circle cx="187.1" cy="484.7" r="4.25"/><circle cx="184.5" cy="325.3" r="4.25"/><circle cx="178.8" cy="401.8" r="4.25"/><circle cx="177.2" cy="397.5" r="4.25"/><circle cx="174.7" cy="402.3" r="4.25"/><circle cx="189.1" cy="390.5" r="4.25"/><circle cx="162.9" cy="378.2" r="4.25"/><circle cx="186.1" cy="305.0" r="4.25"/><circle cx="176.3" cy="444.2" r="4.25"/><circle cx="169.9" cy="373.6" r="4.25"/><circle cx="190.4" cy="391.3" r="4.25"/><circle cx="186.5" cy="392.4" r="4.25"/><circle cx="162.7" cy="376.9" r="4.25"/><circle cx="174.7" cy="430.0" r="4.25"/><circle cx="189.6" cy="409.6" r="4.25"/><circle cx="187.2" cy="416.2" r="4.25"/><circle cx="183.7" cy="423.7" r="4.25"/><circle cx="181.5" cy="388.7" r="4.25"/><circle cx="183.5" cy="407.5" r="4.25"/><circle cx="178.2" cy="434.6" r="4.25"/><circle cx="160.2" cy="378.1" r="4.25"/><circle cx="164.8" cy="331.9" r="4.25"/><circle cx="179.0" cy="409.9" r="4.25"/><circle cx="182.5" cy="449.2" r="4.25"/><circle cx="169.8" cy="381.0" r="4.25"/><circle cx="169.4" cy="421.6" r="4.25"/><circle cx="165.5" cy="434.4" r="4.25"/><circle cx="170.1" cy="304.1" r="4.25"/><circle cx="187.4" cy="410.3" r="4.25"/><circle cx="171.4" cy="368.2" r="4.25"/><circle cx="183.7" cy="362.9" r="4.25"/><circle cx="180.6" cy="391.2" r="4.25"/><circle cx="161.3" cy="438.7" r="4.25"/><circle cx="159.9" cy="410.3" r="4.25"/><circle cx="162.3" cy="436.7" r="4.25"/><circle cx="173.8" cy="393.7" r="4.25"/><circle cx="176.1" cy="407.3" r="4.25"/><circle cx="174.6" cy="419.8" r="4.25"/><circle cx="182.2" cy="425.1" r="4.25"/><circle cx="189.0" cy="388.1" r="4.25"/><circle cx="175.8" cy="251.1" r="4.25"/><circle cx="166.6" cy="389.7" r="4.25"/><circle cx="177.2" cy="401.9" r="4.25"/><circle cx="162.4" cy="363.3" r="4.25"/><circle cx="176.5" cy="427.0" r="4.25"/><circle cx="171.4" cy="349.1" r="4.25"/><circle cx="163.1" cy="427.5" r="4.25"/><circle cx="161.6" cy="428.8" r="4.25"/><circle cx="186.8" cy="378.1" r="4.25"/><circle cx="170.7" cy="383.0" r="4.25"/><circle cx="170.1" cy="450.2" r="4.25"/><circle cx="187.2" cy="369.0" r="4.25"/><circle cx="186.4" cy="347.0" r="4.25"/><circle cx="172.7" cy="390.7" r="4.25"/><circle cx="168.9" cy="314.5" r="4.25"/><circle cx="188.8" cy="366.4" r="4.25"/><circle cx="168.1" cy="387.4" r="4.25"/><circle cx="163.5" cy="360.8" r="4.25"/><circle cx="171.0" cy="378.0" r="4.25"/><circle cx="189.6" cy="404.0" r="4.25"/><circle cx="187.9" cy="362.1" r="4.25"/><circle cx="174.8" cy="415.5" r="4.25"/><circle cx="167.9" cy="247.3" r="4.25"/><circle cx="175.7" cy="429.4" r="4.25"/><circle cx="167.3" cy="348.5" r="4.25"/><circle cx="175.2" cy="387.1" r="4.25"/><circle cx="171.3" cy="519.9" r="4.25"/><circle cx="191.9" cy="385.7" r="4.25"/><circle cx="173.1" cy="380.0" r="4.25"/><circle cx="161.2" cy="477.2" r="4.25"/><circle cx="162.1" cy="424.7" r="4.25"/><circle cx="174.9" cy="357.9" r="4.25"/><circle cx="187.4" cy="527.1" r="4.25"/><circle cx="166.3" cy="421.5" r="4.25"/><circle cx="182.6" cy="406.0" r="4.25"/><circle cx="166.1" cy="372.4" r="4.25"/><circle cx="169.5" cy="434.1" r="4.25"/><circle cx="168.3" cy="410.6" r="4.25"/><circle cx="164.8" cy="381.9" r="4.25"/><circle cx="162.7" cy="376.4" r="4.25"/><circle cx="175.5" cy="380.2" r="4.25"/><circle cx="192.0" cy="396.2" r="4.25"/><circle cx="171.3" cy="437.2" r="4.25"/><circle cx="182.2" cy="476.7" r="4.25"/><circle cx="173.0" cy="400.1" r="4.25"/><circle cx="171.2" cy="394.8" r="4.25"/><circle cx="163.7" cy="376.5" r="4.25"/><circle cx="175.1" cy="261.2" r="4.25"/><circle cx="187.8" cy="401.0" r="4.25"/><circle cx="160.0" cy="401.2" r="4.25"/><circle cx="187.3" cy="430.5" r="4.25"/><circle cx="181.9" cy="425.5" r="4.25"/><circle cx="178.6" cy="303.6" r="4.25"/><circle cx="183.1" cy="404.6" r="4.25"/><circle cx="178.4" cy="415.9" r="4.25"/><circle cx="185.8" cy="407.4" r="4.25"/><circle cx="177.2" cy="420.6" r="4.25"/><circle cx="170.1" cy="436.9" r="4.25"/><circle cx="180.6" cy="354.4" r="4.25"/><circle cx="182.3" cy="405.2" r="4.25"/><circle cx="185.8" cy="438.2" r="4.25"/><circle cx="177.9" cy="452.9" r="4.25"/><circle cx="178.7" cy="423.3" r="4.25"/><circle cx="159.4" cy="388.9" r="4.25"/><circle cx="185.2" cy="229.6" r="4.25"/><circle cx="179.3" cy="388.2" r="4.25"/><circle cx="170.4" cy="378.8" r="4.25"/><circle cx="185.1" cy="399.0" r="4.25"/><circle cx="180.8" cy="409.2" r="4.25"/><circle cx="186.2" cy="420.5" r="4.25"/><circle cx="158.7" cy="394.4" r="4.25"/><circle cx="182.7" cy="422.0" r="4.25"/><circle cx="190.4" cy="471.2" r="4.25"/><circle cx="181.8" cy="448.2" r="4.25"/><circle cx="171.3" cy="388.3" r="4.25"/><circle cx="177.1" cy="404.7" r="4.25"/><circle cx="173.2" cy="325.7" r="4.25"/><circle cx="187.2" cy="320.2" r="4.25"/><circle cx="180.1" cy="415.6" r="4.25"/><circle cx="165.0" cy="393.5" r="4.25"/><circle cx="166.4" cy="353.0" r="4.25"/><circle cx="191.2" cy="419.4" r="4.25"/><circle cx="173.2" cy="405.7" r="4.25"/><circle cx="166.5" cy="404.8" r="4.25"/><circle cx="191.0" cy="458.9" r="4.25"/><circle cx="180.1" cy="383.4" r="4.25"/><circle cx="166.4" cy="439.5" r="4.25"/><circle cx="171.2" cy="385.1" r="4.25"/><circle cx="183.5" cy="279.7" r="4.25"/><circle cx="168.3" cy="422.6" r="4.25"/><circle cx="172.9" cy="449.0" r="4.25"/><circle cx="181.5" cy="392.6" r="4.25"/><circle cx="189.8" cy="321.5" r="4.25"/><circle cx="171.9" cy="415.8" r="4.25"/><circle cx="163.7" cy="376.2" r="4.25"/><circle cx="181.3" cy="376.3" r="4.25"/><circle cx="162.0" cy="383.2" r="4.25"/><circle cx="178.1" cy="410.0" r="4.25"/><circle cx="158.9" cy="388.8" r="4.25"/><circle cx="165.0" cy="415.3" r="4.25"/><circle cx="185.3" cy="377.4" r="4.25"/><circle cx="163.1" cy="434.1" r="4.25"/><circle cx="158.9" cy="375.8" r="4.25"/><circle cx="178.0" cy="379.4" r="4.25"/><circle cx="164.9" cy="443.2" r="4.25"/><circle cx="179.3" cy="525.2" r="4.25"/><circle cx="161.7" cy="392.1" r="4.25"/><circle cx="185.9" cy="403.3" r="4.25"/><circle cx="160.2" cy="351.3" r="4.25"/><circle cx="190.3" cy="398.3" r="4.25"/><circle cx="158.5" cy="481.4" r="4.25"/><circle cx="190.8" cy="341.1" r="4.25"/><circle cx="162.9" cy="356.7" r="4.25"/><circle cx="159.1" cy="423.8" r="4.25"/><circle cx="163.8" cy="454.4" r="4.25"/><circle cx="165.1" cy="378.6" r="4.25"/><circle cx="188.6" cy="377.8" r="4.25"/><circle cx="189.9" cy="374.1" r="4.25"/><circle cx="170.9" cy="417.1" r="4.25"/><circle cx="182.4" cy="418.6" r="4.25"/><circle cx="161.3" cy="399.6" r="4.25"/><circle cx="189.3" cy="444.2" r="4.25"/><circle cx="162.8" cy="463.5" r="4.25"/><circle cx="162.3" cy="397.6" r="4.25"/><circle cx="162.1" cy="370.4" r="4.25"/><circle cx="185.4" cy="389.6" r="4.25"/><circle cx="181.7" cy="407.3" r="4.25"/><circle cx="164.2" cy="400.3" r="4.25"/><circle cx="165.9" cy="382.4" r="4.25"/><circle cx="173.2" cy="394.8" r="4.25"/><circle cx="190.3" cy="353.4" r="4.25"/><circle cx="186.4" cy="229.6" r="4.25"/><circle cx="167.6" cy="389.9" r="4.25"/><circle cx="183.5" cy="406.7" r="4.25"/><circle cx="187.8" cy="416.3" r="4.25"/><circle cx="167.4" cy="413.9" r="4.25"/><circle cx="182.8" cy="444.0" r="4.25"/><circle cx="174.8" cy="353.6" r="4.25"/><circle cx="190.3" cy="373.3" r="4.25"/><circle cx="161.8" cy="275.4" r="4.25"/><circle cx="191.0" cy="339.7" r="4.25"/><circle cx="175.6" cy="333.5" r="4.25"/><circle cx="188.9" cy="476.8" r="4.25"/><circle cx="180.8" cy="371.7" r="4.25"/><circle cx="184.4" cy="375.1" r="4.25"/><circle cx="158.4" cy="429.9" r="4.25"/><circle cx="168.6" cy="453.4" r="4.25"/><circle cx="176.0" cy="368.4" r="4.25"/><circle cx="185.1" cy="402.3" r="4.25"/><circle cx="187.7" cy="471.8" r="4.25"/><circle cx="184.0" cy="398.8" r="4.25"/><circle cx="175.5" cy="374.6" r="4.25"/><circle cx="181.7" cy="374.7" r="4.25"/><circle cx="164.8" cy="419.1" r="4.25"/><circle cx="167.1" cy="375.8" r="4.25"/><circle cx="190.0" cy="385.2" r="4.25"/><circle cx="168.3" cy="432.2" r="4.25"/><circle cx="170.2" cy="381.0" r="4.25"/><circle cx="175.7" cy="422.9" r="4.25"/><circle cx="180.9" cy="409.4" r="4.25"/><circle cx="182.3" cy="353.0" r="4.25"/><circle cx="173.1" cy="359.8" r="4.25"/><circle cx="178.1" cy="396.2" r="4.25"/><circle cx="177.1" cy="363.1" r="4.25"/><circle cx="171.9" cy="377.3" r="4.25"/><circle cx="174.3" cy="445.6" r="4.25"/><circle cx="178.2" cy="422.0" r="4.25"/><circle cx="167.9" cy="401.1" r="4.25"/><circle cx="169.9" cy="354.5" r="4.25"/><circle cx="166.1" cy="346.9" r="4.25"/><circle cx="173.4" cy="338.8" r="4.25"/><circle cx="158.8" cy="407.4" r="4.25"/><circle cx="162.3" cy="366.9" r="4.25"/><circle cx="164.6" cy="370.8" r="4.25"/><circle cx="180.7" cy="408.6" r="4.25"/><circle cx="180.5" cy="354.3" r="4.25"/><circle cx="187.5" cy="333.0" r="4.25"/><circle cx="173.2" cy="324.1" r="4.25"/><circle cx="191.5" cy="384.0" r="4.25"/><circle cx="166.0" cy="441.2" r="4.25"/><circle cx="188.7" cy="310.2" r="4.25"/><circle cx="184.4" cy="415.1" r="4.25"/><circle cx="169.0" cy="407.6" r="4.25"/><circle cx="165.6" cy="391.1" r="4.25"/><circle cx="170.6" cy="415.1" r="4.25"/><circle cx="186.4" cy="412.6" r="4.25"/><circle cx="172.2" cy="397.4" r="4.25"/><circle cx="185.6" cy="385.5" r="4.25"/><circle cx="183.5" cy="448.7" r="4.25"/><circle cx="180.8" cy="359.4" r="4.25"/><circle cx="178.3" cy="458.6" r="4.25"/><circle cx="190.2" cy="350.6" r="4.25"/><circle cx="165.3" cy="554.8" r="4.25"/><circle cx="182.1" cy="333.4" r="4.25"/><circle cx="162.0" cy="380.9" r="4.25"/><circle cx="179.6" cy="373.8" r="4.25"/><circle cx="178.8" cy="434.7" r="4.25"/><circle cx="187.8" cy="372.9" r="4.25"/><circle cx="165.6" cy="335.5" r="4.25"/><circle cx="177.8" cy="327.5" r="4.25"/><circle cx="174.3" cy="342.7" r="4.25"/><circle cx="171.7" cy="342.0" r="4.25"/><circle cx="159.8" cy="325.9" r="4.25"/><circle cx="160.2" cy="368.3" r="4.25"/><circle cx="182.0" cy="402.9" r="4.25"/><circle cx="176.9" cy="448.3" r="4.25"/><circle cx="189.4" cy="419.0" r="4.25"/><circle cx="160.9" cy="430.2" r="4.25"/><circle cx="180.8" cy="361.0" r="4.25"/><circle cx="164.3" cy="332.2" r="4.25"/><circle cx="180.8" cy="417.2" r="4.25"/><circle cx="179.3" cy="381.3" r="4.25"/><circle cx="166.3" cy="404.8" r="4.25"/><circle cx="190.6" cy="373.1" r="4.25"/><circle cx="171.8" cy="364.3" r="4.25"/><circle cx="161.6" cy="422.7" r="4.25"/><circle cx="182.7" cy="446.2" r="4.25"/><circle cx="182.7" cy="350.3" r="4.25"/><circle cx="176.5" cy="416.4" r="4.25"/><circle cx="190.0" cy="372.8" r="4.25"/><circle cx="182.8" cy="399.2" r="4.25"/><circle cx="183.8" cy="350.1" r="4.25"/><circle cx="162.8" cy="326.5" r="4.25"/><circle cx="188.8" cy="383.7" r="4.25"/><circle cx="167.9" cy="372.5" r="4.25"/><circle cx="187.4" cy="333.9" r="4.25"/><circle cx="168.1" cy="451.1" r="4.25"/><circle cx="191.1" cy="412.6" r="4.25"/><circle cx="179.0" cy="380.4" r="4.25"/><circle cx="179.1" cy="484.8" r="4.25"/><circle cx="188.2" cy="560.1" r="4.25"/><circle cx="174.6" cy="386.8" r="4.25"/><circle cx="191.6" cy="430.6" r="4.25"/><circle cx="189.8" cy="386.8" r="4.25"/><circle cx="191.9" cy="377.4" r="4.25"/><circle cx="189.4" cy="435.4" r="4.25"/><circle cx="164.1" cy="383.3" r="4.25"/><circle cx="163.1" cy="327.6" r="4.25"/><circle cx="189.1" cy="416.6" r="4.25"/><circle cx="184.4" cy="395.4" r="4.25"/><circle cx="163.9" cy="507.9" r="4.25"/><circle cx="178.8" cy="384.7" r="4.25"/><circle cx="161.6" cy="318.1" r="4.25"/><circle cx="158.4" cy="465.4" r="4.25"/><circle cx="160.1" cy="400.6" r="4.25"/><circle cx="159.7" cy="391.8" r="4.25"/><circle cx="186.3" cy="530.5" r="4.25"/><circle cx="189.0" cy="435.7" r="4.25"/><circle cx="169.4" cy="387.5" r="4.25"/><circle cx="171.2" cy="348.4" r="4.25"/><circle cx="175.6" cy="218.2" r="4.25"/><circle cx="165.7" cy="410.4" r="4.25"/><circle cx="163.2" cy="462.1" r="4.25"/><circle cx="159.1" cy="449.1" r="4.25"/><circle cx="174.6" cy="404.1" r="4.25"/><circle cx="172.6" cy="335.9" r="4.25"/><circle cx="173.7" cy="422.6" r="4.25"/><circle cx="183.5" cy="369.3" r="4.25"/><circle cx="165.3" cy="392.4" r="4.25"/><circle cx="190.2" cy="397.0" r="4.25"/><circle cx="162.2" cy="364.0" r="4.25"/><circle cx="170.3" cy="374.8" r="4.25"/><circle cx="165.5" cy="433.8" r="4.25"/><circle cx="179.5" cy="410.1" r="4.25"/><circle cx="167.1" cy="442.7" r="4.25"/><circle cx="179.9" cy="388.9" r="4.25"/><circle cx="190.3" cy="387.7" r="4.25"/><circle cx="167.2" cy="417.2" r="4.25"/><circle cx="180.9" cy="469.7" r="4.25"/><circle cx="165.2" cy="392.1" r="4.25"/><circle cx="170.1" cy="378.1" r="4.25"/><circle cx="170.6" cy="404.9" r="4.25"/><circle cx="162.9" cy="390.3" r="4.25"/><circle cx="180.4" cy="438.4" r="4.25"/><circle cx="173.2" cy="336.9" r="4.25"/><circle cx="168.2" cy="384.3" r="4.25"/><circle cx="158.5" cy="391.9" r="4.25"/><circle cx="159.8" cy="410.9" r="4.25"/><circle cx="160.9" cy="262.6" r="4.25"/><circle cx="191.8" cy="439.9" r="4.25"/><circle cx="167.7" cy="434.7" r="4.25"/><circle cx="175.5" cy="514.1" r="4.25"/><circle cx="170.5" cy="447.8" r="4.25"/><circle cx="190.5" cy="408.3" r="4.25"/><circle cx="184.4" cy="406.2" r="4.25"/><circle cx="186.4" cy="386.6" r="4.25"/><circle cx="175.0" cy="353.2" r="4.25"/><circle cx="163.7" cy="398.6" r="4.25"/><circle cx="165.1" cy="412.2" r="4.25"/><circle cx="165.6" cy="380.6" r="4.25"/><circle cx="186.1" cy="413.0" r="4.25"/><circle cx="174.9" cy="471.6" r="4.25"/><circle cx="184.2" cy="409.7" r="4.25"/><circle cx="166.8" cy="441.7" r="4.25"/><circle cx="166.1" cy="359.3" r="4.25"/><circle cx="189.7" cy="368.3" r="4.25"/><circle cx="171.1" cy="331.8" r="4.25"/><circle cx="158.7" cy="340.7" r="4.25"/><circle cx="173.8" cy="413.6" r="4.25"/><circle cx="170.1" cy="328.4" r="4.25"/><circle cx="169.8" cy="371.5" r="4.25"/><circle cx="178.6" cy="407.1" r="4.25"/><circle cx="169.9" cy="353.3" r="4.25"/><circle cx="185.7" cy="391.0" r="4.25"/><circle cx="185.5" cy="350.2" r="4.25"/><circle cx="162.8" cy="372.6" r="4.25"/><circle cx="191.9" cy="448.1" r="4.25"/><circle cx="184.4" cy="375.2" r="4.25"/><circle cx="185.6" cy="473.7" r="4.25"/><circle cx="175.4" cy="403.7" r="4.25"/><circle cx="159.0" cy="393.4" r="4.25"/><circle cx="161.0" cy="379.3" r="4.25"/><circle cx="190.9" cy="451.9" r="4.25"/><circle cx="169.0" cy="451.7" r="4.25"/><circle cx="168.7" cy="349.5" r="4.25"/><circle cx="180.9" cy="320.4" r="4.25"/><circle cx="168.5" cy="314.2" r="4.25"/><circle cx="172.7" cy="406.7" r="4.25"/><circle cx="173.2" cy="433.3" r="4.25"/><circle cx="159.9" cy="435.3" r="4.25"/><circle cx="188.1" cy="364.3" r="4.25"/><circle cx="176.1" cy="335.8" r="4.25"/><circle cx="158.7" cy="412.0" r="4.25"/><circle cx="177.5" cy="455.2" r="4.25"/><circle cx="164.7" cy="387.4" r="4.25"/><circle cx="166.4" cy="404.6" r="4.25"/><circle cx="191.3" cy="395.9" r="4.25"/><circle cx="171.0" cy="414.2" r="4.25"/><circle cx="183.4" cy="390.0" r="4.25"/><circle cx="162.5" cy="393.4" r="4.25"/><circle cx="174.0" cy="429.0" r="4.25"/><circle cx="166.5" cy="321.9" r="4.25"/><circle cx="178.2" cy="362.1" r="4.25"/><circle cx="186.3" cy="353.6" r="4.25"/><circle cx="169.7" cy="373.9" r="4.25"/><circle cx="179.4" cy="343.9" r="4.25"/><circle cx="181.1" cy="461.2" r="4.25"/><circle cx="175.5" cy="377.1" r="4.25"/><circle cx="190.4" cy="327.2" r="4.25"/><circle cx="168.8" cy="428.8" r="4.25"/><circle cx="189.6" cy="377.7" r="4.25"/><circle cx="190.7" cy="488.4" r="4.25"/><circle cx="184.2" cy="369.2" r="4.25"/><circle cx="160.3" cy="481.1" r="4.25"/><circle cx="160.1" cy="428.1" r="4.25"/><circle cx="158.4" cy="379.3" r="4.25"/><circle cx="163.2" cy="397.5" r="4.25"/><circle cx="172.9" cy="382.1" r="4.25"/><circle cx="163.2" cy="568.4" r="4.25"/><circle cx="180.2" cy="423.1" r="4.25"/><circle cx="188.6" cy="381.7" r="4.25"/><circle cx="182.3" cy="374.1" r="4.25"/><circle cx="191.6" cy="478.4" r="4.25"/><circle cx="162.6" cy="392.8" r="4.25"/><circle cx="176.3" cy="434.3" r="4.25"/><circle cx="182.8" cy="387.3" r="4.25"/><circle cx="158.4" cy="401.2" r="4.25"/><circle cx="187.3" cy="433.6" r="4.25"/><circle cx="179.1" cy="307.8" r="4.25"/><circle cx="164.3" cy="421.5" r="4.25"/><circle cx="175.4" cy="384.5" r="4.25"/><circle cx="160.1" cy="348.5" r="4.25"/><circle cx="184.8" cy="503.8" r="4.25"/><circle cx="165.6" cy="421.0" r="4.25"/><circle cx="167.7" cy="454.3" r="4.25"/><circle cx="188.0" cy="446.6" r="4.25"/><circle cx="164.6" cy="544.6" r="4.25"/><circle cx="167.3" cy="398.4" r="4.25"/><circle cx="182.0" cy="403.6" r="4.25"/><circle cx="190.4" cy="405.9" r="4.25"/><circle cx="183.5" cy="432.9" r="4.25"/><circle cx="161.9" cy="435.5" r="4.25"/><circle cx="186.9" cy="496.2" r="4.25"/><circle cx="184.8" cy="316.5" r="4.25"/><circle cx="175.6" cy="398.1" r="4.25"/><circle cx="182.1" cy="352.9" r="4.25"/><circle cx="182.4" cy="372.4" r="4.25"/><circle cx="161.0" cy="416.2" r="4.25"/><circle cx="183.2" cy="399.3" r="4.25"/><circle cx="161.5" cy="411.2" r="4.25"/><circle cx="166.6" cy="420.9" r="4.25"/><circle cx="172.9" cy="400.4" r="4.25"/><circle cx="183.3" cy="409.8" r="4.25"/><circle cx="161.0" cy="404.8" r="4.25"/><circle cx="190.6" cy="378.5" r="4.25"/><circle cx="186.5" cy="345.3" r="4.25"/><circle cx="163.2" cy="445.5" r="4.25"/><circle cx="185.0" cy="349.0" r="4.25"/><circle cx="162.6" cy="422.6" r="4.25"/><circle cx="186.6" cy="415.9" r="4.25"/><circle cx="184.4" cy="334.5" r="4.25"/><circle cx="190.5" cy="397.3" r="4.25"/><circle cx="163.4" cy="375.5" r="4.25"/><circle cx="177.9" cy="482.6" r="4.25"/><circle cx="184.9" cy="341.4" r="4.25"/><circle cx="179.4" cy="408.1" r="4.25"/><circle cx="163.4" cy="424.2" r="4.25"/><circle cx="163.0" cy="418.5" r="4.25"/><circle cx="190.7" cy="428.9" r="4.25"/><circle cx="184.4" cy="362.2" r="4.25"/><circle cx="168.8" cy="339.9" r="4.25"/><circle cx="166.1" cy="438.8" r="4.25"/><circle cx="164.5" cy="455.3" r="4.25"/><circle cx="179.8" cy="422.1" r="4.25"/><circle cx="159.7" cy="411.1" r="4.25"/><circle cx="187.6" cy="345.0" r="4.25"/><circle cx="173.0" cy="479.9" r="4.25"/><circle cx="177.5" cy="406.3" r="4.25"/><circle cx="185.9" cy="362.7" r="4.25"/><circle cx="172.2" cy="389.3" r="4.25"/><circle cx="185.7" cy="416.5" r="4.25"/><circle cx="164.3" cy="418.1" r="4.25"/><circle cx="164.6" cy="339.0" r="4.25"/><circle cx="186.9" cy="383.9" r="4.25"/><circle cx="160.5" cy="372.6" r="4.25"/><circle cx="186.1" cy="429.2" r="4.25"/><circle cx="175.5" cy="403.1" r="4.25"/><circle cx="171.6" cy="385.2" r="4.25"/><circle cx="170.9" cy="317.3" r="4.25"/><circle cx="175.3" cy="381.8" r="4.25"/><circle cx="182.9" cy="345.9" r="4.25"/><circle cx="177.8" cy="431.7" r="4.25"/><circle cx="164.9" cy="400.1" r="4.25"/><circle cx="185.1" cy="479.8" r="4.25"/><circle cx="187.6" cy="412.3" r="4.25"/><circle cx="178.5" cy="350.3" r="4.25"/><circle cx="170.8" cy="398.9" r="4.25"/><circle cx="182.0" cy="403.0" r="4.25"/><circle cx="187.7" cy="470.7" r="4.25"/><circle cx="168.7" cy="359.0" r="4.25"/><circle cx="167.9" cy="367.6" r="4.25"/><circle cx="187.4" cy="382.4" r="4.25"/><circle cx="178.3" cy="395.9" r="4.25"/><circle cx="184.3" cy="424.6" r="4.25"/><circle cx="183.2" cy="354.2" r="4.25"/><circle cx="178.2" cy="423.6" r="4.25"/><circle cx="181.6" cy="387.0" r="4.25"/><circle cx="167.9" cy="422.3" r="4.25"/><circle cx="186.0" cy="421.4" r="4.25"/><circle cx="170.9" cy="420.5" r="4.25"/><circle cx="184.1" cy="477.4" r="4.25"/><circle cx="168.8" cy="394.6" r="4.25"/><circle cx="174.5" cy="383.3" r="4.25"/><circle cx="161.9" cy="395.4" r="4.25"/><circle cx="191.3" cy="480.1" r="4.25"/><circle cx="190.8" cy="416.1" r="4.25"/><circle cx="161.4" cy="345.0" r="4.25"/><circle cx="168.0" cy="409.4" r="4.25"/><circle cx="182.7" cy="420.6" r="4.25"/><circle cx="169.6" cy="488.6" r="4.25"/><circle cx="165.1" cy="456.0" r="4.25"/><circle cx="181.0" cy="436.2" r="4.25"/><circle cx="160.9" cy="456.9" r="4.25"/><circle cx="180.2" cy="412.2" r="4.25"/><circle cx="184.6" cy="355.4" r="4.25"/><circle cx="186.9" cy="293.1" r="4.25"/><circle cx="168.4" cy="430.8" r="4.25"/><circle cx="181.8" cy="383.0" r="4.25"/><circle cx="178.6" cy="374.2" r="4.25"/><circle cx="177.2" cy="394.5" r="4.25"/><circle cx="164.2" cy="351.0" r="4.25"/><circle cx="164.8" cy="334.2" r="4.25"/><circle cx="162.4" cy="595.4" r="4.25"/><circle cx="178.3" cy="413.8" r="4.25"/><circle cx="164.3" cy="373.9" r="4.25"/><circle cx="171.8" cy="446.8" r="4.25"/><circle cx="176.7" cy="408.2" r="4.25"/><circle cx="188.3" cy="393.0" r="4.25"/><circle cx="177.6" cy="403.9" r="4.25"/><circle cx="179.7" cy="359.6" r="4.25"/><circle cx="159.1" cy="382.8" r="4.25"/><circle cx="162.9" cy="402.6" r="4.25"/><circle cx="176.5" cy="318.8" r="4.25"/><circle cx="187.2" cy="409.1" r="4.25"/><circle cx="162.5" cy="398.9" r="4.25"/><circle cx="159.1" cy="402.5" r="4.25"/><circle cx="168.4" cy="339.4" r="4.25"/><circle cx="175.3" cy="417.6" r="4.25"/><circle cx="170.9" cy="360.2" r="4.25"/><circle cx="163.0" cy="387.8" r="4.25"/><circle cx="172.0" cy="365.4" r="4.25"/><circle cx="177.0" cy="416.6" r="4.25"/><circle cx="177.1" cy="393.7" r="4.25"/><circle cx="161.5" cy="292.1" r="4.25"/><circle cx="171.5" cy="353.2" r="4.25"/><circle cx="186.9" cy="411.4" r="4.25"/><circle cx="167.4" cy="434.0" r="4.25"/><circle cx="190.6" cy="189.3" r="4.25"/><circle cx="163.2" cy="448.4" r="4.25"/><circle cx="169.2" cy="382.0" r="4.25"/><circle cx="177.4" cy="375.6" r="4.25"/><circle cx="174.2" cy="489.5" r="4.25"/><circle cx="180.2" cy="411.4" r="4.25"/><circle cx="158.7" cy="356.8" r="4.25"/><circle cx="184.8" cy="432.7" r="4.25"/><circle cx="162.1" cy="406.1" r="4.25"/><circle cx="167.7" cy="353.9" r="4.25"/><circle cx="163.8" cy="362.2" r="4.25"/><circle cx="164.7" cy="351.8" r="4.25"/><circle cx="172.3" cy="327.3" r="4.25"/><circle cx="178.5" cy="379.2" r="4.25"/><circle cx="190.1" cy="340.1" r="4.25"/><circle cx="167.3" cy="376.0" r="4.25"/><circle cx="181.3" cy="441.5" r="4.25"/><circle cx="169.2" cy="426.9" r="4.25"/><circle cx="177.0" cy="346.3" r="4.25"/><circle cx="178.4" cy="382.7" r="4.25"/><circle cx="186.8" cy="295.1" r="4.25"/><circle cx="165.2" cy="417.5" r="4.25"/><circle cx="191.3" cy="377.5" r="4.25"/><circle cx="189.2" cy="444.6" r="4.25"/><circle cx="161.9" cy="335.5" r="4.25"/><circle cx="183.0" cy="466.7" r="4.25"/><circle cx="188.7" cy="393.6" r="4.25"/><circle cx="184.5" cy="333.1" r="4.25"/><circle cx="162.8" cy="355.1" r="4.25"/><circle cx="160.8" cy="385.4" r="4.25"/><circle cx="166.6" cy="404.1" r="4.25"/><circle cx="179.8" cy="423.8" r="4.25"/><circle cx="179.7" cy="379.5" r="4.25"/><circle cx="170.8" cy="226.3" r="4.25"/><circle cx="159.6" cy="423.9" r="4.25"/><circle cx="181.1" cy="334.7" r="4.25"/><circle cx="162.9" cy="367.7" r="4.25"/><circle cx="174.5" cy="433.9" r="4.25"/><circle cx="189.4" cy="397.9" r="4.25"/><circle cx="191.9" cy="467.9" r="4.25"/><circle cx="177.3" cy="405.4" r="4.25"/><circle cx="177.9" cy="424.3" r="4.25"/><circle cx="167.6" cy="392.8" r="4.25"/><circle cx="174.3" cy="438.8" r="4.25"/><circle cx="179.7" cy="503.0" r="4.25"/><circle cx="182.7" cy="373.1" r="4.25"/><circle cx="180.2" cy="355.1" r="4.25"/><circle cx="177.0" cy="394.6" r="4.25"/><circle cx="161.4" cy="374.2" r="4.25"/><circle cx="172.3" cy="389.2" r="4.25"/><circle cx="190.9" cy="350.8" r="4.25"/><circle cx="170.5" cy="370.9" r="4.25"/><circle cx="181.2" cy="255.6" r="4.25"/><circle cx="170.1" cy="412.4" r="4.25"/><circle cx="190.0" cy="427.9" r="4.25"/><circle cx="174.9" cy="422.3" r="4.25"/><circle cx="166.6" cy="332.9" r="4.25"/><circle cx="189.5" cy="374.1" r="4.25"/><circle cx="175.3" cy="391.3" r="4.25"/><circle cx="180.7" cy="391.4" r="4.25"/><circle cx="172.8" cy="414.2" r="4.25"/><circle cx="183.4" cy="461.9" r="4.25"/><circle cx="162.6" cy="224.8" r="4.25"/><circle cx="160.3" cy="459.3" r="4.25"/><circle cx="181.8" cy="391.3" r="4.25"/><circle cx="160.3" cy="482.3" r="4.25"/><circle cx="176.8" cy="412.2" r="4.25"/><circle cx="159.9" cy="403.4" r="4.25"/><circle cx="165.4" cy="408.4" r="4.25"/><circle cx="183.4" cy="389.1" r="4.25"/><circle cx="188.6" cy="371.2" r="4.25"/><circle cx="167.4" cy="435.8" r="4.25"/><circle cx="182.7" cy="389.2" r="4.25"/><circle cx="159.1" cy="444.8" r="4.25"/><circle cx="178.9" cy="461.0" r="4.25"/><circle cx="161.5" cy="461.2" r="4.25"/><circle cx="186.9" cy="417.3" r="4.25"/><circle cx="169.6" cy="375.8" r="4.25"/><circle cx="189.4" cy="418.1" r="4.25"/><circle cx="171.2" cy="333.0" r="4.25"/><circle cx="190.9" cy="440.9" r="4.25"/><circle cx="167.7" cy="366.6" r="4.25"/><circle cx="168.9" cy="379.2" r="4.25"/><circle cx="183.4" cy="455.0" r="4.25"/><circle cx="174.8" cy="395.6" r="4.25"/><circle cx="180.3" cy="271.4" r="4.25"/><circle cx="168.5" cy="402.7" r="4.25"/><circle cx="173.6" cy="395.3" r="4.25"/><circle cx="187.9" cy="412.3" r="4.25"/><circle cx="188.6" cy="460.0" r="4.25"/><circle cx="187.3" cy="517.7" r="4.25"/><circle cx="191.0" cy="403.3" r="4.25"/><circle cx="173.9" cy="351.6" r="4.25"/><circle cx="163.6" cy="440.7" r="4.25"/><circle cx="174.2" cy="440.0" r="4.25"/><circle cx="176.3" cy="404.7" r="4.25"/><circle cx="181.0" cy="395.9" r="4.25"/><circle cx="190.8" cy="384.4" r="4.25"/><circle cx="176.3" cy="452.8" r="4.25"/><circle cx="191.5" cy="427.9" r="4.25"/><circle cx="179.4" cy="396.0" r="4.25"/><circle cx="191.1" cy="415.8" r="4.25"/><circle cx="167.4" cy="394.7" r="4.25"/><circle cx="192.0" cy="436.7" r="4.25"/><circle cx="177.2" cy="421.3" r="4.25"/><circle cx="175.6" cy="442.3" r="4.25"/><circle cx="188.3" cy="380.2" r="4.25"/><circle cx="165.2" cy="425.7" r="4.25"/><circle cx="181.5" cy="371.5" r="4.25"/><circle cx="168.8" cy="454.1" r="4.25"/><circle cx="186.5" cy="424.0" r="4.25"/><circle cx="188.4" cy="357.3" r="4.25"/><circle cx="174.6" cy="410.2" r="4.25"/><circle cx="179.3" cy="414.2" r="4.25"/><circle cx="158.8" cy="369.4" r="4.25"/><circle cx="166.0" cy="356.4" r="4.25"/><circle cx="164.6" cy="358.7" r="4.25"/><circle cx="186.3" cy="360.7" r="4.25"/><circle cx="174.7" cy="414.4" r="4.25"/><circle cx="184.4" cy="444.0" r="4.25"/><circle cx="175.5" cy="394.5" r="4.25"/><circle cx="170.4" cy="472.0" r="4.25"/><circle cx="166.3" cy="346.4" r="4.25"/><circle cx="189.3" cy="474.8" r="4.25"/><circle cx="191.0" cy="377.4" r="4.25"/><circle cx="180.3" cy="407.3" r="4.25"/><circle cx="172.8" cy="421.0" r="4.25"/><circle cx="189.7" cy="355.5" r="4.25"/><circle cx="160.4" cy="373.7" r="4.25"/><circle cx="183.7" cy="392.8" r="4.25"/><circle cx="164.9" cy="348.8" r="4.25"/><circle cx="182.5" cy="342.0" r="4.25"/><circle cx="189.4" cy="373.0" r="4.25"/><circle cx="166.4" cy="463.7" r="4.25"/><circle cx="166.0" cy="356.7" r="4.25"/><circle cx="168.7" cy="383.7" r="4.25"/><circle cx="160.3" cy="483.8" r="4.25"/><circle cx="189.9" cy="367.3" r="4.25"/><circle cx="181.2" cy="397.5" r="4.25"/><circle cx="158.7" cy="386.5" r="4.25"/><circle cx="185.2" cy="393.4" r="4.25"/><circle cx="178.2" cy="416.8" r="4.25"/><circle cx="185.7" cy="349.7" r="4.25"/><circle cx="167.9" cy="415.6" r="4.25"/><circle cx="179.6" cy="325.5" r="4.25"/><circle cx="163.2" cy="383.8" r="4.25"/><circle cx="180.9" cy="413.7" r="4.25"/><circle cx="159.5" cy="395.7" r="4.25"/><circle cx="187.4" cy="429.9" r="4.25"/><circle cx="191.1" cy="378.2" r="4.25"/><circle cx="191.2" cy="331.4" r="4.25"/><circle cx="184.6" cy="285.6" r="4.25"/><circle cx="162.3" cy="397.2" r="4.25"/><circle cx="184.2" cy="382.9" r="4.25"/><circle cx="164.5" cy="442.1" r="4.25"/><circle cx="165.1" cy="331.6" r="4.25"/><circle cx="182.3" cy="371.9" r="4.25"/><circle cx="164.9" cy="417.8" r="4.25"/><circle cx="161.8" cy="332.6" r="4.25"/><circle cx="191.7" cy="371.1" r="4.25"/><circle cx="177.5" cy="347.6" r="4.25"/><circle cx="161.1" cy="442.5" r="4.25"/><circle cx="175.3" cy="384.9" r="4.25"/><circle cx="160.6" cy="394.0" r="4.25"/><circle cx="181.7" cy="405.5" r="4.25"/><circle cx="189.7" cy="414.5" r="4.25"/><circle cx="170.3" cy="378.2" r="4.25"/><circle cx="189.1" cy="421.9" r="4.25"/><circle cx="178.7" cy="381.7" r="4.25"/><circle cx="176.1" cy="417.9" r="4.25"/><circle cx="169.3" cy="407.8" r="4.25"/><circle cx="172.0" cy="420.3" r="4.25"/><circle cx="158.8" cy="382.2" r="4.25"/><circle cx="173.6" cy="420.5" r="4.25"/><circle cx="180.4" cy="376.7" r="4.25"/><circle cx="170.4" cy="364.1" r="4.25"/><circle cx="184.1" cy="374.0" r="4.25"/><circle cx="165.1" cy="390.4" r="4.25"/><circle cx="181.9" cy="400.5" r="4.25"/><circle cx="172.5" cy="408.1" r="4.25"/><circle cx="166.8" cy="449.8" r="4.25"/><circle cx="165.1" cy="413.8" r="4.25"/><circle cx="189.7" cy="357.5" r="4.25"/><circle cx="168.6" cy="416.1" r="4.25"/><circle cx="181.9" cy="391.4" r="4.25"/><circle cx="175.4" cy="398.6" r="4.25"/><circle cx="183.2" cy="500.9" r="4.25"/><circle cx="180.8" cy="439.9" r="4.25"/><circle cx="178.1" cy="391.2" r="4.25"/><circle cx="177.7" cy="406.2" r="4.25"/><circle cx="165.5" cy="405.2" r="4.25"/><circle cx="188.0" cy="409.2" r="4.25"/><circle cx="190.2" cy="433.5" r="4.25"/><circle cx="163.9" cy="388.1" r="4.25"/><circle cx="188.1" cy="405.4" r="4.25"/><circle cx="179.3" cy="419.4" r="4.25"/><circle cx="183.5" cy="455.7" r="4.25"/><circle cx="166.9" cy="409.3" r="4.25"/><circle cx="175.2" cy="346.8" r="4.25"/><circle cx="163.8" cy="279.3" r="4.25"/><circle cx="185.0" cy="407.8" r="4.25"/><circle cx="161.8" cy="378.3" r="4.25"/><circle cx="190.6" cy="354.9" r="4.25"/><circle cx="177.8" cy="366.8" r="4.25"/><circle cx="171.5" cy="402.0" r="4.25"/><circle cx="190.1" cy="414.5" r="4.25"/><circle cx="166.6" cy="413.3" r="4.25"/><circle cx="172.3" cy="460.6" r="4.25"/><circle cx="170.7" cy="358.2" r="4.25"/><circle cx="190.6" cy="275.9" r="4.25"/><circle cx="174.0" cy="446.8" r="4.25"/><circle cx="162.7" cy="366.8" r="4.25"/><circle cx="162.8" cy="363.3" r="4.25"/><circle cx="188.1" cy="443.8" r="4.25"/><circle cx="185.0" cy="350.6" r="4.25"/><circle cx="173.6" cy="415.9" r="4.25"/><circle cx="170.3" cy="381.0" r="4.25"/><circle cx="191.9" cy="398.7" r="4.25"/><circle cx="186.8" cy="363.6" r="4.25"/><circle cx="183.4" cy="385.6" r="4.25"/><circle cx="173.4" cy="351.2" r="4.25"/><circle cx="181.8" cy="435.6" r="4.25"/><circle cx="162.4" cy="355.4" r="4.25"/><circle cx="171.1" cy="343.7" r="4.25"/><circle cx="181.6" cy="414.4" r="4.25"/><circle cx="185.6" cy="372.0" r="4.25"/><circle cx="181.8" cy="322.0" r="4.25"/><circle cx="187.0" cy="418.3" r="4.25"/><circle cx="185.0" cy="344.4" r="4.25"/><circle cx="168.8" cy="379.2" r="4.25"/><circle cx="188.3" cy="371.6" r="4.25"/><circle cx="171.7" cy="378.8" r="4.25"/><circle cx="185.3" cy="371.9" r="4.25"/><circle cx="191.4" cy="355.7" r="4.25"/><circle cx="166.0" cy="346.7" r="4.25"/><circle cx="187.9" cy="477.0" r="4.25"/><circle cx="162.1" cy="398.4" r="4.25"/><circle cx="162.0" cy="409.1" r="4.25"/><circle cx="164.1" cy="425.1" r="4.25"/><circle cx="178.1" cy="388.9" r="4.25"/><circle cx="163.2" cy="399.4" r="4.25"/><circle cx="163.6" cy="338.6" r="4.25"/><circle cx="173.8" cy="368.4" r="4.25"/><circle cx="187.8" cy="378.8" r="4.25"/><circle cx="168.0" cy="509.2" r="4.25"/><circle cx="180.3" cy="332.7" r="4.25"/><circle cx="181.7" cy="320.4" r="4.25"/><circle cx="185.2" cy="446.6" r="4.25"/><circle cx="176.1" cy="411.1" r="4.25"/><circle cx="171.0" cy="388.6" r="4.25"/><circle cx="159.4" cy="418.2" r="4.25"/><circle cx="160.0" cy="374.4" r="4.25"/><circle cx="180.0" cy="394.0" r="4.25"/><circle cx="174.0" cy="438.3" r="4.25"/><circle cx="189.0" cy="384.5" r="4.25"/><circle cx="179.7" cy="400.9" r="4.25"/><circle cx="180.6" cy="430.9" r="4.25"/><circle cx="159.5" cy="481.2" r="4.25"/><circle cx="170.6" cy="324.6" r="4.25"/><circle cx="168.4" cy="354.1" r="4.25"/><circle cx="169.5" cy="388.6" r="4.25"/><circle cx="159.7" cy="388.4" r="4.25"/><circle cx="183.6" cy="457.8" r="4.25"/><circle cx="168.5" cy="361.3" r="4.25"/><circle cx="187.1" cy="344.9" r="4.25"/><circle cx="158.8" cy="410.3" r="4.25"/><circle cx="163.9" cy="342.2" r="4.25"/><circle cx="179.5" cy="385.7" r="4.25"/><circle cx="189.4" cy="418.2" r="4.25"/><circle cx="165.8" cy="480.3" r="4.25"/><circle cx="166.2" cy="352.5" r="4.25"/><circle cx="181.7" cy="394.7" r="4.25"/><circle cx="176.0" cy="464.2" r="4.25"/><circle cx="185.6" cy="403.4" r="4.25"/><circle cx="158.6" cy="419.9" r="4.25"/><circle cx="178.7" cy="399.4" r="4.25"/><circle cx="182.0" cy="465.0" r="4.25"/><circle cx="187.0" cy="417.8" r="4.25"/><circle cx="165.4" cy="464.8" r="4.25"/><circle cx="171.2" cy="343.8" r="4.25"/><circle cx="190.9" cy="351.7" r="4.25"/><circle cx="170.2" cy="371.4" r="4.25"/><circle cx="175.8" cy="398.1" r="4.25"/><circle cx="171.1" cy="362.3" r="4.25"/><circle cx="164.2" cy="395.2" r="4.25"/><circle cx="179.9" cy="315.8" r="4.25"/><circle cx="182.9" cy="397.9" r="4.25"/><circle cx="183.9" cy="431.8" r="4.25"/><circle cx="172.1" cy="452.4" r="4.25"/><circle cx="159.6" cy="417.9" r="4.25"/><circle cx="168.6" cy="280.9" r="4.25"/><circle cx="171.8" cy="447.7" r="4.25"/><circle cx="177.3" cy="295.5" r="4.25"/><circle cx="178.4" cy="421.8" r="4.25"/><circle cx="187.2" cy="382.4" r="4.25"/><circle cx="176.6" cy="406.9" r="4.25"/><circle cx="183.3" cy="376.6" r="4.25"/><circle cx="170.6" cy="376.3" r="4.25"/><circle cx="188.5" cy="415.0" r="4.25"/><circle cx="177.6" cy="400.4" r="4.25"/><circle cx="182.7" cy="347.2" r="4.25"/><circle cx="191.9" cy="368.7" r="4.25"/><circle cx="167.4" cy="379.6" r="4.25"/><circle cx="187.3" cy="416.8" r="4.25"/><circle cx="160.3" cy="387.3" r="4.25"/><circle cx="168.5" cy="430.0" r="4.25"/><circle cx="185.0" cy="432.6" r="4.25"/><circle cx="158.4" cy="443.5" r="4.25"/><circle cx="185.5" cy="356.6" r="4.25"/><circle cx="163.8" cy="343.5" r="4.25"/><circle cx="191.9" cy="375.9" r="4.25"/><circle cx="183.9" cy="421.0" r="4.25"/><circle cx="168.0" cy="411.4" r="4.25"/><circle cx="163.1" cy="338.5" r="4.25"/><circle cx="166.8" cy="387.6" r="4.25"/><circle cx="183.5" cy="502.2" r="4.25"/><circle cx="160.5" cy="309.8" r="4.25"/><circle cx="190.6" cy="468.1" r="4.25"/><circle cx="182.5" cy="416.3" r="4.25"/><circle cx="177.0" cy="408.3" r="4.25"/><circle cx="170.7" cy="410.5" r="4.25"/><circle cx="183.5" cy="469.4" r="4.25"/><circle cx="189.3" cy="366.9" r="4.25"/><circle cx="177.8" cy="372.8" r="4.25"/><circle cx="182.4" cy="428.0" r="4.25"/><circle cx="179.7" cy="483.7" r="4.25"/><circle cx="165.8" cy="414.5" r="4.25"/><circle cx="170.6" cy="368.3" r="4.25"/><circle cx="174.2" cy="430.9" r="4.25"/><circle cx="169.7" cy="436.0" r="4.25"/><circle cx="179.0" cy="349.8" r="4.25"/><circle cx="160.4" cy="403.9" r="4.25"/><circle cx="168.0" cy="404.1" r="4.25"/><circle cx="183.4" cy="452.7" r="4.25"/><circle cx="189.3" cy="365.7" r="4.25"/><circle cx="162.1" cy="413.9" r="4.25"/><circle cx="167.7" cy="395.8" r="4.25"/><circle cx="183.8" cy="413.0" r="4.25"/><circle cx="182.2" cy="377.5" r="4.25"/><circle cx="161.6" cy="344.7" r="4.25"/><circle cx="165.8" cy="423.0" r="4.25"/><circle cx="171.3" cy="381.2" r="4.25"/><circle cx="177.0" cy="334.9" r="4.25"/><circle cx="189.9" cy="421.4" r="4.25"/><circle cx="180.0" cy="319.0" r="4.25"/><circle cx="165.2" cy="383.2" r="4.25"/><circle cx="181.8" cy="402.9" r="4.25"/><circle cx="181.2" cy="383.9" r="4.25"/><circle cx="162.7" cy="394.2" r="4.25"/><circle cx="167.1" cy="399.0" r="4.25"/><circle cx="162.6" cy="387.9" r="4.25"/><circle cx="158.9" cy="506.7" r="4.25"/><circle cx="187.9" cy="398.6" r="4.25"/><circle cx="185.6" cy="391.8" r="4.25"/><circle cx="170.6" cy="442.0" r="4.25"/><circle cx="178.5" cy="396.1" r="4.25"/><circle cx="166.5" cy="327.7" r="4.25"/><circle cx="190.7" cy="391.1" r="4.25"/><circle cx="181.2" cy="400.9" r="4.25"/><circle cx="169.5" cy="378.5" r="4.25"/><circle cx="188.5" cy="336.6" r="4.25"/><circle cx="176.0" cy="386.2" r="4.25"/><circle cx="168.6" cy="189.3" r="4.25"/><circle cx="160.0" cy="403.8" r="4.25"/><circle cx="158.5" cy="397.7" r="4.25"/><circle cx="190.7" cy="424.3" r="4.25"/><circle cx="167.1" cy="402.9" r="4.25"/><circle cx="167.6" cy="410.3" r="4.25"/><circle cx="181.8" cy="383.8" r="4.25"/><circle cx="172.9" cy="468.2" r="4.25"/><circle cx="160.6" cy="401.4" r="4.25"/><circle cx="160.2" cy="365.4" r="4.25"/><circle cx="166.3" cy="452.5" r="4.25"/><circle cx="187.3" cy="361.3" r="4.25"/><circle cx="190.3" cy="384.3" r="4.25"/><circle cx="162.9" cy="358.1" r="4.25"/><circle cx="163.3" cy="463.6" r="4.25"/><circle cx="178.6" cy="354.4" r="4.25"/><circle cx="183.6" cy="394.7" r="4.25"/><circle cx="171.3" cy="408.2" r="4.25"/><circle cx="178.9" cy="355.3" r="4.25"/><circle cx="190.0" cy="462.9" r="4.25"/><circle cx="189.8" cy="322.5" r="4.25"/><circle cx="181.5" cy="492.2" r="4.25"/><circle cx="171.1" cy="383.1" r="4.25"/><circle cx="164.7" cy="379.1" r="4.25"/><circle cx="167.5" cy="402.7" r="4.25"/><circle cx="180.5" cy="360.1" r="4.25"/><circle cx="179.0" cy="410.0" r="4.25"/><circle cx="166.1" cy="391.3" r="4.25"/><circle cx="158.5" cy="414.1" r="4.25"/><circle cx="190.3" cy="402.1" r="4.25"/><circle cx="163.5" cy="458.6" r="4.25"/><circle cx="188.6" cy="295.6" r="4.25"/><circle cx="173.5" cy="400.3" r="4.25"/><circle cx="185.9" cy="381.7" r="4.25"/><circle cx="178.2" cy="396.2" r="4.25"/><circle cx="188.4" cy="409.5" r="4.25"/><circle cx="190.1" cy="392.5" r="4.25"/><circle cx="175.0" cy="447.3" r="4.25"/><circle cx="184.9" cy="519.5" r="4.25"/><circle cx="190.2" cy="423.6" r="4.25"/><circle cx="181.0" cy="445.2" r="4.25"/><circle cx="187.8" cy="396.1" r="4.25"/><circle cx="182.2" cy="413.6" r="4.25"/><circle cx="177.6" cy="337.8" r="4.25"/><circle cx="191.4" cy="399.8" r="4.25"/><circle cx="159.5" cy="445.7" r="4.25"/><circle cx="170.6" cy="415.6" r="4.25"/><circle cx="159.3" cy="392.1" r="4.25"/><circle cx="162.3" cy="370.2" r="4.25"/><circle cx="187.3" cy="430.3" r="4.25"/><circle cx="187.4" cy="405.3" r="4.25"/><circle cx="162.7" cy="420.6" r="4.25"/><circle cx="167.5" cy="424.9" r="4.25"/><circle cx="159.1" cy="510.7" r="4.25"/><circle cx="186.7" cy="475.9" r="4.25"/><circle cx="185.2" cy="399.7" r="4.25"/><circle cx="161.8" cy="357.4" r="4.25"/><circle cx="163.7" cy="459.6" r="4.25"/><circle cx="169.3" cy="392.5" r="4.25"/><circle cx="171.7" cy="411.1" r="4.25"/><circle cx="166.3" cy="349.6" r="4.25"/><circle cx="163.1" cy="294.4" r="4.25"/><circle cx="167.5" cy="397.1" r="4.25"/><circle cx="186.6" cy="373.8" r="4.25"/><circle cx="158.8" cy="372.7" r="4.25"/><circle cx="181.7" cy="421.2" r="4.25"/><circle cx="182.0" cy="391.7" r="4.25"/><circle cx="185.5" cy="405.9" r="4.25"/><circle cx="188.3" cy="410.8" r="4.25"/><circle cx="169.4" cy="420.2" r="4.25"/><circle cx="169.2" cy="377.7" r="4.25"/><circle cx="177.4" cy="460.2" r="4.25"/><circle cx="179.0" cy="403.3" r="4.25"/><circle cx="184.2" cy="348.0" r="4.25"/><circle cx="190.5" cy="390.2" r="4.25"/><circle cx="163.1" cy="461.4" r="4.25"/><circle cx="170.7" cy="288.8" r="4.25"/><circle cx="159.5" cy="444.2" r="4.25"/><circle cx="162.0" cy="394.0" r="4.25"/><circle cx="174.4" cy="397.5" r="4.25"/><circle cx="164.4" cy="328.0" r="4.25"/><circle cx="166.5" cy="449.9" r="4.25"/><circle cx="179.0" cy="398.3" r="4.25"/><circle cx="164.6" cy="409.3" r="4.25"/><circle cx="186.4" cy="500.3" r="4.25"/><circle cx="170.0" cy="541.0" r="4.25"/><circle cx="160.9" cy="394.4" r="4.25"/><circle cx="158.4" cy="388.7" r="4.25"/><circle cx="176.5" cy="575.3" r="4.25"/><circle cx="162.2" cy="370.5" r="4.25"/><circle cx="162.7" cy="377.5" r="4.25"/><circle cx="173.9" cy="386.6" r="4.25"/><circle cx="180.6" cy="441.8" r="4.25"/><circle cx="186.7" cy="411.3" r="4.25"/><circle cx="167.2" cy="305.6" r="4.25"/><circle cx="178.4" cy="407.8" r="4.25"/><circle cx="181.1" cy="387.7" r="4.25"/><circle cx="159.7" cy="387.4" r="4.25"/><circle cx="179.3" cy="387.5" r="4.25"/><circle cx="164.3" cy="393.4" r="4.25"/><circle cx="163.5" cy="340.2" r="4.25"/><circle cx="186.4" cy="382.0" r="4.25"/><circle cx="184.2" cy="363.0" r="4.25"/><circle cx="178.3" cy="426.9" r="4.25"/><circle cx="172.7" cy="396.0" r="4.25"/><circle cx="172.6" cy="374.3" r="4.25"/><circle cx="167.0" cy="372.2" r="4.25"/><circle cx="171.8" cy="357.6" r="4.25"/><circle cx="168.0" cy="453.7" r="4.25"/><circle cx="186.2" cy="409.7" r="4.25"/><circle cx="184.9" cy="454.4" r="4.25"/><circle cx="163.6" cy="296.7" r="4.25"/><circle cx="163.0" cy="392.2" r="4.25"/><circle cx="183.0" cy="341.2" r="4.25"/><circle cx="179.8" cy="358.1" r="4.25"/><circle cx="159.1" cy="354.2" r="4.25"/><circle cx="188.5" cy="377.6" r="4.25"/><circle cx="187.5" cy="322.5" r="4.25"/><circle cx="184.0" cy="440.9" r="4.25"/><circle cx="163.7" cy="433.7" r="4.25"/><circle cx="165.2" cy="423.0" r="4.25"/><circle cx="180.1" cy="426.7" r="4.25"/><circle cx="187.2" cy="423.9" r="4.25"/><circle cx="180.3" cy="327.8" r="4.25"/><circle cx="180.8" cy="472.5" r="4.25"/><circle cx="182.5" cy="339.5" r="4.25"/><circle cx="182.1" cy="363.6" r="4.25"/><circle cx="175.9" cy="297.1" r="4.25"/><circle cx="172.0" cy="391.7" r="4.25"/><circle cx="186.5" cy="358.5" r="4.25"/><circle cx="180.1" cy="412.6" r="4.25"/><circle cx="182.3" cy="416.2" r="4.25"/><circle cx="169.6" cy="409.0" r="4.25"/><circle cx="187.4" cy="457.1" r="4.25"/><circle cx="182.2" cy="362.8" r="4.25"/><circle cx="159.9" cy="435.3" r="4.25"/><circle cx="168.1" cy="446.4" r="4.25"/><circle cx="162.3" cy="430.6" r="4.25"/><circle cx="180.1" cy="405.1" r="4.25"/><circle cx="185.9" cy="320.0" r="4.25"/><circle cx="177.2" cy="399.8" r="4.25"/><circle cx="180.1" cy="450.8" r="4.25"/><circle cx="174.7" cy="442.3" r="4.25"/><circle cx="161.3" cy="393.5" r="4.25"/><circle cx="182.1" cy="386.2" r="4.25"/><circle cx="189.5" cy="254.9" r="4.25"/></g><g fill="#b02035" fill-opacity="0.35"><circle cx="282.1" cy="439.9" r="4.25"/><circle cx="288.7" cy="450.6" r="4.25"/><circle cx="284.0" cy="533.7" r="4.25"/><circle cx="300.8" cy="430.0" r="4.25"/><circle cx="290.8" cy="388.6" r="4.25"/><circle cx="274.5" cy="370.0" r="4.25"/><circle cx="287.6" cy="478.0" r="4.25"/><circle cx="296.0" cy="541.4" r="4.25"/><circle cx="292.7" cy="461.7" r="4.25"/><circle cx="299.7" cy="444.1" r="4.25"/><circle cx="292.9" cy="447.4" r="4.25"/><circle cx="285.6" cy="438.5" r="4.25"/><circle cx="282.7" cy="557.9" r="4.25"/><circle cx="282.4" cy="427.6" r="4.25"/><circle cx="290.4" cy="383.0" r="4.25"/><circle cx="277.3" cy="445.4" r="4.25"/><circle cx="286.0" cy="321.8" r="4.25"/><circle cx="275.0" cy="454.8" r="4.25"/><circle cx="275.7" cy="473.6" r="4.25"/><circle cx="292.9" cy="338.7" r="4.25"/><circle cx="295.5" cy="369.4" r="4.25"/><circle cx="295.0" cy="383.5" r="4.25"/><circle cx="271.6" cy="427.9" r="4.25"/><circle cx="304.0" cy="519.5" r="4.25"/><circle cx="297.6" cy="428.8" r="4.25"/><circle cx="296.9" cy="507.0" r="4.25"/><circle cx="284.6" cy="403.1" r="4.25"/><circle cx="294.7" cy="514.4" r="4.25"/><circle cx="296.2" cy="466.3" r="4.25"/><circle cx="282.3" cy="385.3" r="4.25"/><circle cx="290.4" cy="541.7" r="4.25"/><circle cx="300.6" cy="595.0" r="4.25"/><circle cx="280.9" cy="451.8" r="4.25"/><circle cx="303.7" cy="484.4" r="4.25"/><circle cx="299.0" cy="469.8" r="4.25"/><circle cx="296.2" cy="404.0" r="4.25"/><circle cx="294.2" cy="528.0" r="4.25"/><circle cx="275.5" cy="460.6" r="4.25"/><circle cx="304.6" cy="333.6" r="4.25"/><circle cx="274.5" cy="449.0" r="4.25"/><circle cx="301.1" cy="475.8" r="4.25"/><circle cx="302.7" cy="424.5" r="4.25"/><circle cx="292.2" cy="409.1" r="4.25"/><circle cx="273.6" cy="429.9" r="4.25"/><circle cx="275.4" cy="474.6" r="4.25"/><circle cx="283.0" cy="450.3" r="4.25"/><circle cx="278.4" cy="364.2" r="4.25"/><circle cx="294.6" cy="405.8" r="4.25"/><circle cx="292.3" cy="440.2" r="4.25"/><circle cx="283.7" cy="400.4" r="4.25"/><circle cx="288.8" cy="457.4" r="4.25"/><circle cx="271.0" cy="376.5" r="4.25"/><circle cx="296.4" cy="418.9" r="4.25"/><circle cx="283.6" cy="516.4" r="4.25"/><circle cx="298.1" cy="464.5" r="4.25"/><circle cx="292.0" cy="395.0" r="4.25"/><circle cx="294.3" cy="338.0" r="4.25"/><circle cx="280.4" cy="411.7" r="4.25"/><circle cx="301.2" cy="440.4" r="4.25"/><circle cx="280.6" cy="553.7" r="4.25"/><circle cx="273.0" cy="449.2" r="4.25"/><circle cx="290.9" cy="442.7" r="4.25"/><circle cx="301.8" cy="394.6" r="4.25"/><circle cx="293.3" cy="310.5" r="4.25"/><circle cx="297.8" cy="431.2" r="4.25"/><circle cx="295.0" cy="521.5" r="4.25"/><circle cx="275.0" cy="446.5" r="4.25"/><circle cx="301.2" cy="541.1" r="4.25"/><circle cx="295.3" cy="525.7" r="4.25"/><circle cx="273.6" cy="443.8" r="4.25"/><circle cx="280.4" cy="433.6" r="4.25"/><circle cx="281.6" cy="500.4" r="4.25"/><circle cx="286.1" cy="479.9" r="4.25"/><circle cx="300.7" cy="418.3" r="4.25"/><circle cx="280.8" cy="336.1" r="4.25"/><circle cx="296.9" cy="472.5" r="4.25"/><circle cx="275.2" cy="520.9" r="4.25"/><circle cx="293.0" cy="595.0" r="4.25"/><circle cx="282.8" cy="565.9" r="4.25"/><circle cx="297.5" cy="447.2" r="4.25"/><circle cx="301.3" cy="436.6" r="4.25"/><circle cx="292.0" cy="424.4" r="4.25"/><circle cx="297.7" cy="457.2" r="4.25"/><circle cx="282.6" cy="403.5" r="4.25"/><circle cx="296.3" cy="447.3" r="4.25"/><circle cx="278.3" cy="395.4" r="4.25"/><circle cx="276.2" cy="438.9" r="4.25"/><circle cx="292.0" cy="416.2" r="4.25"/><circle cx="272.7" cy="427.2" r="4.25"/><circle cx="278.7" cy="356.5" r="4.25"/><circle cx="284.1" cy="416.3" r="4.25"/><circle cx="277.0" cy="426.8" r="4.25"/><circle cx="271.5" cy="442.1" r="4.25"/><circle cx="279.7" cy="418.1" r="4.25"/><circle cx="289.3" cy="508.8" r="4.25"/><circle cx="286.0" cy="441.3" r="4.25"/><circle cx="285.4" cy="330.8" r="4.25"/><circle cx="279.8" cy="551.0" r="4.25"/><circle cx="303.9" cy="404.9" r="4.25"/><circle cx="283.6" cy="456.8" r="4.25"/><circle cx="302.3" cy="456.8" r="4.25"/><circle cx="294.4" cy="445.0" r="4.25"/><circle cx="295.9" cy="407.7" r="4.25"/><circle cx="284.9" cy="462.6" r="4.25"/><circle cx="298.7" cy="437.1" r="4.25"/><circle cx="293.3" cy="461.9" r="4.25"/><circle cx="279.2" cy="416.7" r="4.25"/><circle cx="279.0" cy="430.3" r="4.25"/><circle cx="295.3" cy="479.7" r="4.25"/><circle cx="286.1" cy="416.8" r="4.25"/><circle cx="291.7" cy="467.6" r="4.25"/><circle cx="274.6" cy="497.7" r="4.25"/><circle cx="285.1" cy="424.2" r="4.25"/><circle cx="297.9" cy="446.3" r="4.25"/><circle cx="278.3" cy="421.0" r="4.25"/><circle cx="279.5" cy="496.7" r="4.25"/><circle cx="272.3" cy="457.0" r="4.25"/><circle cx="280.7" cy="456.5" r="4.25"/><circle cx="278.9" cy="536.4" r="4.25"/><circle cx="282.3" cy="488.3" r="4.25"/><circle cx="295.4" cy="574.7" r="4.25"/><circle cx="303.4" cy="431.9" r="4.25"/><circle cx="282.8" cy="413.6" r="4.25"/><circle cx="279.4" cy="492.9" r="4.25"/><circle cx="276.8" cy="466.7" r="4.25"/><circle cx="278.3" cy="368.4" r="4.25"/><circle cx="274.2" cy="474.0" r="4.25"/><circle cx="279.5" cy="470.4" r="4.25"/><circle cx="288.0" cy="376.5" r="4.25"/><circle cx="277.5" cy="339.3" r="4.25"/><circle cx="296.0" cy="494.3" r="4.25"/><circle cx="277.5" cy="462.7" r="4.25"/><circle cx="302.4" cy="460.0" r="4.25"/><circle cx="280.7" cy="426.6" r="4.25"/><circle cx="301.2" cy="425.7" r="4.25"/><circle cx="294.6" cy="454.4" r="4.25"/><circle cx="279.4" cy="399.9" r="4.25"/><circle cx="301.7" cy="464.5" r="4.25"/><circle cx="298.5" cy="462.3" r="4.25"/><circle cx="303.6" cy="413.8" r="4.25"/><circle cx="286.4" cy="467.7" r="4.25"/><circle cx="294.8" cy="550.6" r="4.25"/><circle cx="284.3" cy="515.4" r="4.25"/><circle cx="294.6" cy="458.4" r="4.25"/><circle cx="273.8" cy="465.0" r="4.25"/><circle cx="304.7" cy="372.4" r="4.25"/><circle cx="299.0" cy="401.5" r="4.25"/><circle cx="288.1" cy="406.7" r="4.25"/><circle cx="275.7" cy="456.3" r="4.25"/><circle cx="289.5" cy="497.8" r="4.25"/><circle cx="299.2" cy="415.3" r="4.25"/><circle cx="273.1" cy="491.8" r="4.25"/><circle cx="275.9" cy="430.1" r="4.25"/><circle cx="294.3" cy="476.2" r="4.25"/><circle cx="297.0" cy="430.6" r="4.25"/><circle cx="275.7" cy="417.7" r="4.25"/><circle cx="299.9" cy="434.5" r="4.25"/><circle cx="280.9" cy="440.3" r="4.25"/><circle cx="272.4" cy="442.2" r="4.25"/><circle cx="292.5" cy="430.8" r="4.25"/><circle cx="277.6" cy="482.8" r="4.25"/><circle cx="304.5" cy="477.9" r="4.25"/><circle cx="300.1" cy="436.7" r="4.25"/><circle cx="283.9" cy="595.0" r="4.25"/><circle cx="296.6" cy="489.9" r="4.25"/><circle cx="284.3" cy="410.4" r="4.25"/><circle cx="295.1" cy="485.6" r="4.25"/><circle cx="291.0" cy="437.2" r="4.25"/><circle cx="287.7" cy="434.7" r="4.25"/><circle cx="300.5" cy="406.1" r="4.25"/><circle cx="304.4" cy="484.3" r="4.25"/><circle cx="272.1" cy="490.1" r="4.25"/><circle cx="276.3" cy="414.9" r="4.25"/><circle cx="298.9" cy="557.3" r="4.25"/><circle cx="281.1" cy="523.4" r="4.25"/><circle cx="284.0" cy="458.2" r="4.25"/><circle cx="271.9" cy="458.9" r="4.25"/><circle cx="276.9" cy="498.2" r="4.25"/><circle cx="277.0" cy="461.4" r="4.25"/><circle cx="276.1" cy="365.4" r="4.25"/><circle cx="303.5" cy="421.7" r="4.25"/><circle cx="291.6" cy="458.7" r="4.25"/><circle cx="297.8" cy="528.8" r="4.25"/><circle cx="275.3" cy="367.6" r="4.25"/><circle cx="276.5" cy="473.1" r="4.25"/><circle cx="282.7" cy="527.4" r="4.25"/><circle cx="285.5" cy="457.1" r="4.25"/><circle cx="287.9" cy="459.0" r="4.25"/><circle cx="271.7" cy="536.4" r="4.25"/><circle cx="296.9" cy="411.6" r="4.25"/><circle cx="272.8" cy="451.4" r="4.25"/><circle cx="281.2" cy="414.3" r="4.25"/><circle cx="278.1" cy="448.0" r="4.25"/><circle cx="279.8" cy="461.9" r="4.25"/><circle cx="303.1" cy="431.8" r="4.25"/><circle cx="295.6" cy="435.2" r="4.25"/><circle cx="299.1" cy="327.0" r="4.25"/><circle cx="275.2" cy="359.9" r="4.25"/><circle cx="298.6" cy="504.1" r="4.25"/><circle cx="299.7" cy="457.7" r="4.25"/><circle cx="300.1" cy="499.0" r="4.25"/><circle cx="291.9" cy="467.2" r="4.25"/><circle cx="278.0" cy="417.2" r="4.25"/><circle cx="299.5" cy="510.4" r="4.25"/><circle cx="282.8" cy="505.6" r="4.25"/><circle cx="275.9" cy="410.7" r="4.25"/><circle cx="288.7" cy="450.7" r="4.25"/><circle cx="279.6" cy="442.9" r="4.25"/><circle cx="293.2" cy="470.1" r="4.25"/><circle cx="274.3" cy="475.6" r="4.25"/><circle cx="291.7" cy="386.1" r="4.25"/><circle cx="282.9" cy="424.8" r="4.25"/><circle cx="272.4" cy="477.2" r="4.25"/><circle cx="278.0" cy="447.0" r="4.25"/><circle cx="284.1" cy="458.0" r="4.25"/><circle cx="294.3" cy="520.3" r="4.25"/><circle cx="274.0" cy="522.4" r="4.25"/><circle cx="294.3" cy="396.3" r="4.25"/><circle cx="274.7" cy="453.3" r="4.25"/><circle cx="284.9" cy="474.8" r="4.25"/><circle cx="277.2" cy="430.3" r="4.25"/><circle cx="293.2" cy="419.1" r="4.25"/><circle cx="281.5" cy="472.6" r="4.25"/><circle cx="284.6" cy="471.1" r="4.25"/><circle cx="283.9" cy="353.0" r="4.25"/><circle cx="279.5" cy="407.9" r="4.25"/><circle cx="272.7" cy="387.0" r="4.25"/><circle cx="298.0" cy="448.2" r="4.25"/><circle cx="304.4" cy="460.0" r="4.25"/><circle cx="277.9" cy="555.4" r="4.25"/><circle cx="294.6" cy="373.9" r="4.25"/><circle cx="289.1" cy="385.2" r="4.25"/><circle cx="292.2" cy="423.2" r="4.25"/><circle cx="287.1" cy="427.3" r="4.25"/><circle cx="285.1" cy="452.5" r="4.25"/><circle cx="303.7" cy="423.5" r="4.25"/><circle cx="279.3" cy="357.5" r="4.25"/><circle cx="293.1" cy="436.5" r="4.25"/><circle cx="301.2" cy="414.8" r="4.25"/><circle cx="294.7" cy="462.1" r="4.25"/><circle cx="278.7" cy="420.0" r="4.25"/><circle cx="299.0" cy="453.0" r="4.25"/><circle cx="283.5" cy="409.2" r="4.25"/><circle cx="283.6" cy="374.7" r="4.25"/><circle cx="285.1" cy="431.6" r="4.25"/><circle cx="287.7" cy="365.2" r="4.25"/><circle cx="274.1" cy="518.8" r="4.25"/><circle cx="276.0" cy="356.0" r="4.25"/><circle cx="273.0" cy="402.0" r="4.25"/><circle cx="303.3" cy="418.8" r="4.25"/><circle cx="273.8" cy="491.5" r="4.25"/><circle cx="290.7" cy="431.7" r="4.25"/><circle cx="296.3" cy="515.6" r="4.25"/><circle cx="300.6" cy="402.5" r="4.25"/><circle cx="271.0" cy="432.6" r="4.25"/><circle cx="280.6" cy="448.1" r="4.25"/><circle cx="297.3" cy="416.4" r="4.25"/><circle cx="281.0" cy="507.7" r="4.25"/><circle cx="300.7" cy="464.1" r="4.25"/><circle cx="274.4" cy="384.3" r="4.25"/><circle cx="302.5" cy="455.2" r="4.25"/><circle cx="288.6" cy="440.1" r="4.25"/><circle cx="277.5" cy="435.4" r="4.25"/><circle cx="292.6" cy="438.6" r="4.25"/><circle cx="281.6" cy="533.5" r="4.25"/><circle cx="293.8" cy="375.2" r="4.25"/><circle cx="274.5" cy="391.4" r="4.25"/><circle cx="301.3" cy="344.6" r="4.25"/><circle cx="285.7" cy="415.2" r="4.25"/><circle cx="286.9" cy="485.3" r="4.25"/><circle cx="296.7" cy="472.4" r="4.25"/><circle cx="303.3" cy="466.2" r="4.25"/><circle cx="272.1" cy="381.9" r="4.25"/><circle cx="276.6" cy="478.2" r="4.25"/><circle cx="284.3" cy="460.3" r="4.25"/><circle cx="282.4" cy="403.0" r="4.25"/><circle cx="292.0" cy="469.9" r="4.25"/><circle cx="275.7" cy="352.7" r="4.25"/><circle cx="293.0" cy="476.7" r="4.25"/><circle cx="283.7" cy="510.7" r="4.25"/><circle cx="290.9" cy="463.9" r="4.25"/><circle cx="282.3" cy="447.1" r="4.25"/><circle cx="291.9" cy="452.1" r="4.25"/><circle cx="297.8" cy="384.9" r="4.25"/><circle cx="302.7" cy="413.4" r="4.25"/><circle cx="304.5" cy="392.3" r="4.25"/><circle cx="302.5" cy="541.9" r="4.25"/><circle cx="294.1" cy="367.0" r="4.25"/><circle cx="281.3" cy="439.7" r="4.25"/><circle cx="273.2" cy="516.1" r="4.25"/><circle cx="289.5" cy="420.6" r="4.25"/><circle cx="302.4" cy="433.4" r="4.25"/><circle cx="281.1" cy="427.8" r="4.25"/><circle cx="304.6" cy="423.5" r="4.25"/><circle cx="298.8" cy="492.6" r="4.25"/><circle cx="299.9" cy="471.7" r="4.25"/><circle cx="298.5" cy="535.9" r="4.25"/><circle cx="282.5" cy="407.3" r="4.25"/><circle cx="302.4" cy="452.0" r="4.25"/><circle cx="274.6" cy="490.4" r="4.25"/><circle cx="276.1" cy="402.7" r="4.25"/><circle cx="303.7" cy="566.8" r="4.25"/><circle cx="286.7" cy="478.7" r="4.25"/><circle cx="273.5" cy="450.1" r="4.25"/><circle cx="282.5" cy="517.6" r="4.25"/><circle cx="272.5" cy="546.9" r="4.25"/><circle cx="274.6" cy="424.6" r="4.25"/><circle cx="286.9" cy="342.9" r="4.25"/><circle cx="284.6" cy="525.2" r="4.25"/><circle cx="279.1" cy="489.1" r="4.25"/><circle cx="304.2" cy="428.0" r="4.25"/><circle cx="288.7" cy="470.2" r="4.25"/><circle cx="300.6" cy="411.3" r="4.25"/><circle cx="295.4" cy="436.8" r="4.25"/><circle cx="294.0" cy="376.1" r="4.25"/><circle cx="301.0" cy="434.0" r="4.25"/><circle cx="272.5" cy="483.1" r="4.25"/><circle cx="274.6" cy="387.5" r="4.25"/><circle cx="293.1" cy="475.4" r="4.25"/><circle cx="297.1" cy="421.1" r="4.25"/><circle cx="283.4" cy="470.2" r="4.25"/><circle cx="272.4" cy="390.1" r="4.25"/><circle cx="274.7" cy="422.7" r="4.25"/><circle cx="302.3" cy="476.3" r="4.25"/><circle cx="280.2" cy="438.4" r="4.25"/><circle cx="294.2" cy="395.9" r="4.25"/><circle cx="284.8" cy="543.1" r="4.25"/><circle cx="287.9" cy="489.7" r="4.25"/><circle cx="297.3" cy="584.8" r="4.25"/><circle cx="298.4" cy="420.3" r="4.25"/><circle cx="300.4" cy="482.1" r="4.25"/><circle cx="297.4" cy="568.8" r="4.25"/><circle cx="292.2" cy="412.7" r="4.25"/><circle cx="282.1" cy="415.4" r="4.25"/><circle cx="304.4" cy="433.3" r="4.25"/><circle cx="290.5" cy="427.7" r="4.25"/><circle cx="302.6" cy="376.3" r="4.25"/><circle cx="298.8" cy="298.7" r="4.25"/><circle cx="300.6" cy="423.6" r="4.25"/><circle cx="274.4" cy="423.8" r="4.25"/><circle cx="277.5" cy="405.1" r="4.25"/><circle cx="302.1" cy="447.4" r="4.25"/><circle cx="280.2" cy="398.3" r="4.25"/><circle cx="277.5" cy="496.4" r="4.25"/><circle cx="273.0" cy="549.6" r="4.25"/><circle cx="303.6" cy="499.3" r="4.25"/><circle cx="288.1" cy="438.1" r="4.25"/><circle cx="285.7" cy="387.1" r="4.25"/><circle cx="277.5" cy="378.2" r="4.25"/><circle cx="281.4" cy="481.1" r="4.25"/><circle cx="288.1" cy="421.2" r="4.25"/><circle cx="289.1" cy="524.8" r="4.25"/><circle cx="287.9" cy="502.2" r="4.25"/><circle cx="304.2" cy="381.7" r="4.25"/><circle cx="291.2" cy="483.0" r="4.25"/><circle cx="272.8" cy="341.1" r="4.25"/><circle cx="275.7" cy="493.3" r="4.25"/><circle cx="278.9" cy="375.1" r="4.25"/><circle cx="300.3" cy="357.9" r="4.25"/><circle cx="298.7" cy="445.6" r="4.25"/><circle cx="272.9" cy="581.0" r="4.25"/><circle cx="274.2" cy="516.9" r="4.25"/><circle cx="281.7" cy="464.8" r="4.25"/><circle cx="285.6" cy="454.7" r="4.25"/><circle cx="290.6" cy="416.6" r="4.25"/><circle cx="303.9" cy="532.7" r="4.25"/><circle cx="280.2" cy="456.6" r="4.25"/><circle cx="271.5" cy="442.8" r="4.25"/><circle cx="274.0" cy="430.1" r="4.25"/><circle cx="273.0" cy="476.8" r="4.25"/><circle cx="291.5" cy="388.0" r="4.25"/><circle cx="282.1" cy="415.3" r="4.25"/><circle cx="292.9" cy="452.7" r="4.25"/><circle cx="296.3" cy="428.9" r="4.25"/><circle cx="297.0" cy="443.9" r="4.25"/><circle cx="292.7" cy="339.3" r="4.25"/><circle cx="298.7" cy="438.1" r="4.25"/><circle cx="289.6" cy="354.8" r="4.25"/><circle cx="287.3" cy="482.0" r="4.25"/><circle cx="288.3" cy="389.4" r="4.25"/><circle cx="300.2" cy="439.7" r="4.25"/><circle cx="300.6" cy="413.3" r="4.25"/><circle cx="276.6" cy="471.4" r="4.25"/><circle cx="296.1" cy="419.0" r="4.25"/><circle cx="304.2" cy="383.5" r="4.25"/><circle cx="291.7" cy="447.5" r="4.25"/><circle cx="287.7" cy="488.0" r="4.25"/><circle cx="298.5" cy="459.7" r="4.25"/><circle cx="292.0" cy="470.9" r="4.25"/><circle cx="272.2" cy="488.5" r="4.25"/><circle cx="272.5" cy="518.7" r="4.25"/><circle cx="284.2" cy="401.6" r="4.25"/><circle cx="275.7" cy="407.8" r="4.25"/><circle cx="293.0" cy="409.9" r="4.25"/><circle cx="290.3" cy="444.8" r="4.25"/><circle cx="300.8" cy="519.1" r="4.25"/><circle cx="299.0" cy="447.8" r="4.25"/><circle cx="296.4" cy="403.0" r="4.25"/><circle cx="291.6" cy="460.7" r="4.25"/><circle cx="291.9" cy="359.8" r="4.25"/><circle cx="274.6" cy="465.5" r="4.25"/><circle cx="284.6" cy="416.9" r="4.25"/><circle cx="274.6" cy="373.6" r="4.25"/><circle cx="296.6" cy="408.3" r="4.25"/><circle cx="287.1" cy="471.9" r="4.25"/><circle cx="287.9" cy="386.8" r="4.25"/><circle cx="291.4" cy="398.8" r="4.25"/><circle cx="275.1" cy="442.0" r="4.25"/><circle cx="281.1" cy="380.8" r="4.25"/><circle cx="288.6" cy="419.8" r="4.25"/><circle cx="304.5" cy="418.5" r="4.25"/><circle cx="297.2" cy="416.0" r="4.25"/><circle cx="300.6" cy="355.2" r="4.25"/><circle cx="299.9" cy="426.0" r="4.25"/><circle cx="293.9" cy="386.6" r="4.25"/><circle cx="293.0" cy="466.8" r="4.25"/><circle cx="295.9" cy="349.9" r="4.25"/><circle cx="274.9" cy="466.1" r="4.25"/><circle cx="272.5" cy="396.8" r="4.25"/><circle cx="272.8" cy="451.5" r="4.25"/><circle cx="273.6" cy="520.3" r="4.25"/><circle cx="284.9" cy="344.4" r="4.25"/><circle cx="288.9" cy="552.0" r="4.25"/><circle cx="278.7" cy="469.1" r="4.25"/><circle cx="303.2" cy="503.1" r="4.25"/><circle cx="300.3" cy="417.3" r="4.25"/><circle cx="277.6" cy="465.2" r="4.25"/><circle cx="303.8" cy="465.9" r="4.25"/><circle cx="300.3" cy="352.4" r="4.25"/><circle cx="294.5" cy="455.3" r="4.25"/><circle cx="285.7" cy="436.2" r="4.25"/><circle cx="272.0" cy="531.0" r="4.25"/><circle cx="294.2" cy="437.3" r="4.25"/><circle cx="277.0" cy="502.9" r="4.25"/><circle cx="286.4" cy="452.9" r="4.25"/><circle cx="278.5" cy="432.6" r="4.25"/><circle cx="286.2" cy="332.1" r="4.25"/><circle cx="304.3" cy="404.8" r="4.25"/><circle cx="295.5" cy="494.2" r="4.25"/><circle cx="288.0" cy="595.0" r="4.25"/><circle cx="291.2" cy="401.7" r="4.25"/><circle cx="300.8" cy="376.7" r="4.25"/><circle cx="277.9" cy="388.0" r="4.25"/><circle cx="298.3" cy="432.7" r="4.25"/><circle cx="272.4" cy="418.1" r="4.25"/><circle cx="295.2" cy="441.0" r="4.25"/><circle cx="293.2" cy="517.8" r="4.25"/><circle cx="275.0" cy="469.5" r="4.25"/><circle cx="298.8" cy="479.0" r="4.25"/><circle cx="290.5" cy="499.4" r="4.25"/><circle cx="301.1" cy="364.7" r="4.25"/><circle cx="277.5" cy="409.4" r="4.25"/><circle cx="288.4" cy="363.0" r="4.25"/><circle cx="289.8" cy="424.7" r="4.25"/><circle cx="294.3" cy="412.0" r="4.25"/><circle cx="286.2" cy="556.6" r="4.25"/><circle cx="303.5" cy="570.2" r="4.25"/><circle cx="292.5" cy="426.2" r="4.25"/><circle cx="290.2" cy="424.0" r="4.25"/><circle cx="288.9" cy="468.8" r="4.25"/><circle cx="285.7" cy="515.0" r="4.25"/><circle cx="279.9" cy="512.6" r="4.25"/><circle cx="296.0" cy="449.8" r="4.25"/><circle cx="297.1" cy="500.2" r="4.25"/><circle cx="289.1" cy="425.1" r="4.25"/><circle cx="278.1" cy="415.8" r="4.25"/><circle cx="301.6" cy="451.8" r="4.25"/><circle cx="271.0" cy="583.2" r="4.25"/><circle cx="280.1" cy="382.8" r="4.25"/><circle cx="275.7" cy="393.1" r="4.25"/><circle cx="285.5" cy="471.4" r="4.25"/><circle cx="285.5" cy="495.6" r="4.25"/><circle cx="291.4" cy="414.0" r="4.25"/><circle cx="302.3" cy="376.9" r="4.25"/><circle cx="273.2" cy="418.0" r="4.25"/><circle cx="299.6" cy="396.1" r="4.25"/><circle cx="296.0" cy="540.7" r="4.25"/><circle cx="281.5" cy="430.7" r="4.25"/><circle cx="278.7" cy="306.4" r="4.25"/><circle cx="282.9" cy="463.0" r="4.25"/><circle cx="276.1" cy="371.9" r="4.25"/><circle cx="294.4" cy="397.7" r="4.25"/><circle cx="291.4" cy="214.4" r="4.25"/><circle cx="294.0" cy="415.7" r="4.25"/><circle cx="280.5" cy="433.4" r="4.25"/><circle cx="297.2" cy="451.0" r="4.25"/><circle cx="276.4" cy="462.4" r="4.25"/><circle cx="292.6" cy="323.4" r="4.25"/><circle cx="297.3" cy="435.2" r="4.25"/><circle cx="271.7" cy="438.7" r="4.25"/><circle cx="278.0" cy="496.5" r="4.25"/><circle cx="304.3" cy="392.7" r="4.25"/><circle cx="293.7" cy="439.1" r="4.25"/><circle cx="280.4" cy="469.9" r="4.25"/><circle cx="289.6" cy="422.4" r="4.25"/><circle cx="272.8" cy="394.3" r="4.25"/><circle cx="285.8" cy="561.6" r="4.25"/><circle cx="282.2" cy="467.6" r="4.25"/><circle cx="282.1" cy="464.2" r="4.25"/><circle cx="278.3" cy="262.7" r="4.25"/><circle cx="272.0" cy="539.3" r="4.25"/><circle cx="301.3" cy="371.1" r="4.25"/><circle cx="294.8" cy="416.7" r="4.25"/><circle cx="278.3" cy="543.6" r="4.25"/><circle cx="291.7" cy="586.2" r="4.25"/><circle cx="287.4" cy="370.7" r="4.25"/><circle cx="297.5" cy="407.7" r="4.25"/><circle cx="285.6" cy="432.2" r="4.25"/><circle cx="279.7" cy="393.2" r="4.25"/><circle cx="281.0" cy="396.2" r="4.25"/><circle cx="297.5" cy="460.8" r="4.25"/><circle cx="287.6" cy="488.2" r="4.25"/><circle cx="281.9" cy="340.4" r="4.25"/><circle cx="302.9" cy="478.3" r="4.25"/><circle cx="279.6" cy="383.3" r="4.25"/><circle cx="271.3" cy="419.4" r="4.25"/><circle cx="276.0" cy="486.0" r="4.25"/><circle cx="271.9" cy="463.5" r="4.25"/><circle cx="274.9" cy="384.2" r="4.25"/><circle cx="292.5" cy="448.4" r="4.25"/><circle cx="284.5" cy="493.0" r="4.25"/><circle cx="272.9" cy="422.3" r="4.25"/><circle cx="285.2" cy="399.9" r="4.25"/><circle cx="279.2" cy="292.0" r="4.25"/><circle cx="290.7" cy="422.2" r="4.25"/><circle cx="271.7" cy="360.8" r="4.25"/><circle cx="294.8" cy="290.3" r="4.25"/><circle cx="285.1" cy="404.7" r="4.25"/><circle cx="278.1" cy="479.9" r="4.25"/><circle cx="287.2" cy="418.6" r="4.25"/><circle cx="273.3" cy="514.2" r="4.25"/><circle cx="274.3" cy="497.4" r="4.25"/><circle cx="285.9" cy="442.9" r="4.25"/><circle cx="286.6" cy="403.1" r="4.25"/><circle cx="280.3" cy="438.8" r="4.25"/><circle cx="297.9" cy="564.4" r="4.25"/><circle cx="291.9" cy="399.0" r="4.25"/><circle cx="295.9" cy="393.0" r="4.25"/><circle cx="293.9" cy="468.7" r="4.25"/><circle cx="275.0" cy="385.7" r="4.25"/><circle cx="300.6" cy="496.0" r="4.25"/><circle cx="297.2" cy="353.1" r="4.25"/><circle cx="281.5" cy="380.9" r="4.25"/><circle cx="275.0" cy="409.8" r="4.25"/><circle cx="271.5" cy="312.3" r="4.25"/><circle cx="283.4" cy="399.3" r="4.25"/><circle cx="288.1" cy="412.1" r="4.25"/><circle cx="277.1" cy="545.7" r="4.25"/><circle cx="286.2" cy="408.7" r="4.25"/><circle cx="296.5" cy="443.2" r="4.25"/><circle cx="281.4" cy="361.5" r="4.25"/><circle cx="299.8" cy="435.6" r="4.25"/><circle cx="303.3" cy="438.0" r="4.25"/><circle cx="297.8" cy="359.1" r="4.25"/><circle cx="302.0" cy="461.2" r="4.25"/><circle cx="288.3" cy="480.5" r="4.25"/><circle cx="298.9" cy="418.0" r="4.25"/><circle cx="277.3" cy="460.5" r="4.25"/><circle cx="293.9" cy="439.2" r="4.25"/><circle cx="284.8" cy="512.8" r="4.25"/><circle cx="295.1" cy="437.5" r="4.25"/><circle cx="283.6" cy="545.2" r="4.25"/><circle cx="300.4" cy="345.6" r="4.25"/><circle cx="273.3" cy="423.0" r="4.25"/><circle cx="287.1" cy="443.6" r="4.25"/><circle cx="273.9" cy="442.7" r="4.25"/><circle cx="279.0" cy="431.1" r="4.25"/><circle cx="299.6" cy="368.1" r="4.25"/><circle cx="301.3" cy="489.3" r="4.25"/><circle cx="288.7" cy="394.4" r="4.25"/><circle cx="298.4" cy="478.5" r="4.25"/><circle cx="288.2" cy="476.0" r="4.25"/><circle cx="289.5" cy="494.5" r="4.25"/><circle cx="297.0" cy="519.8" r="4.25"/><circle cx="293.1" cy="370.6" r="4.25"/><circle cx="296.6" cy="388.6" r="4.25"/><circle cx="287.7" cy="371.7" r="4.25"/><circle cx="296.7" cy="435.6" r="4.25"/><circle cx="302.4" cy="429.8" r="4.25"/><circle cx="279.0" cy="455.1" r="4.25"/><circle cx="276.9" cy="451.1" r="4.25"/><circle cx="272.7" cy="468.5" r="4.25"/><circle cx="280.6" cy="539.6" r="4.25"/><circle cx="290.5" cy="410.0" r="4.25"/><circle cx="274.3" cy="443.3" r="4.25"/><circle cx="304.2" cy="451.9" r="4.25"/><circle cx="285.1" cy="391.2" r="4.25"/><circle cx="271.8" cy="453.3" r="4.25"/><circle cx="276.5" cy="376.7" r="4.25"/><circle cx="273.3" cy="436.5" r="4.25"/><circle cx="274.2" cy="554.3" r="4.25"/><circle cx="299.1" cy="434.3" r="4.25"/><circle cx="293.2" cy="454.6" r="4.25"/><circle cx="293.4" cy="583.9" r="4.25"/><circle cx="284.5" cy="363.7" r="4.25"/><circle cx="296.9" cy="521.9" r="4.25"/><circle cx="290.0" cy="424.9" r="4.25"/><circle cx="293.8" cy="335.3" r="4.25"/><circle cx="273.0" cy="408.4" r="4.25"/><circle cx="283.4" cy="382.5" r="4.25"/><circle cx="271.5" cy="399.2" r="4.25"/><circle cx="292.5" cy="432.0" r="4.25"/><circle cx="292.2" cy="539.9" r="4.25"/><circle cx="284.6" cy="421.8" r="4.25"/><circle cx="274.7" cy="389.6" r="4.25"/><circle cx="274.5" cy="502.0" r="4.25"/><circle cx="290.7" cy="373.8" r="4.25"/><circle cx="287.0" cy="405.6" r="4.25"/><circle cx="296.8" cy="462.3" r="4.25"/><circle cx="284.6" cy="440.8" r="4.25"/><circle cx="301.0" cy="458.0" r="4.25"/><circle cx="294.1" cy="467.4" r="4.25"/><circle cx="298.7" cy="389.2" r="4.25"/><circle cx="287.9" cy="489.3" r="4.25"/><circle cx="290.8" cy="464.7" r="4.25"/><circle cx="271.8" cy="553.2" r="4.25"/><circle cx="271.8" cy="417.9" r="4.25"/><circle cx="290.2" cy="397.6" r="4.25"/><circle cx="298.6" cy="428.7" r="4.25"/><circle cx="287.9" cy="366.0" r="4.25"/><circle cx="280.3" cy="373.1" r="4.25"/><circle cx="290.7" cy="526.7" r="4.25"/><circle cx="281.9" cy="461.8" r="4.25"/><circle cx="283.1" cy="444.5" r="4.25"/><circle cx="298.3" cy="374.2" r="4.25"/><circle cx="288.8" cy="535.7" r="4.25"/><circle cx="295.4" cy="422.1" r="4.25"/><circle cx="271.3" cy="331.5" r="4.25"/><circle cx="303.5" cy="458.8" r="4.25"/><circle cx="291.1" cy="449.8" r="4.25"/><circle cx="284.3" cy="451.0" r="4.25"/><circle cx="272.6" cy="595.0" r="4.25"/><circle cx="300.6" cy="501.5" r="4.25"/><circle cx="276.2" cy="430.2" r="4.25"/><circle cx="276.3" cy="482.4" r="4.25"/><circle cx="296.2" cy="479.2" r="4.25"/><circle cx="289.5" cy="489.1" r="4.25"/><circle cx="286.6" cy="352.0" r="4.25"/><circle cx="276.4" cy="436.9" r="4.25"/><circle cx="276.9" cy="477.2" r="4.25"/><circle cx="277.8" cy="529.3" r="4.25"/><circle cx="288.8" cy="442.5" r="4.25"/><circle cx="276.5" cy="464.7" r="4.25"/><circle cx="283.0" cy="499.8" r="4.25"/><circle cx="277.5" cy="458.4" r="4.25"/><circle cx="282.7" cy="561.8" r="4.25"/><circle cx="293.2" cy="333.3" r="4.25"/><circle cx="284.6" cy="469.4" r="4.25"/><circle cx="296.1" cy="559.3" r="4.25"/><circle cx="279.0" cy="444.6" r="4.25"/><circle cx="299.4" cy="546.2" r="4.25"/><circle cx="299.1" cy="417.4" r="4.25"/><circle cx="274.7" cy="314.8" r="4.25"/><circle cx="299.5" cy="368.2" r="4.25"/><circle cx="296.8" cy="400.3" r="4.25"/><circle cx="302.3" cy="358.2" r="4.25"/><circle cx="298.0" cy="461.1" r="4.25"/><circle cx="297.3" cy="451.3" r="4.25"/><circle cx="286.0" cy="494.8" r="4.25"/><circle cx="282.0" cy="463.7" r="4.25"/><circle cx="294.9" cy="422.9" r="4.25"/><circle cx="275.1" cy="398.1" r="4.25"/><circle cx="273.2" cy="416.1" r="4.25"/><circle cx="288.9" cy="429.5" r="4.25"/><circle cx="274.4" cy="477.7" r="4.25"/><circle cx="278.1" cy="374.9" r="4.25"/><circle cx="295.5" cy="432.8" r="4.25"/><circle cx="302.7" cy="382.2" r="4.25"/><circle cx="294.1" cy="399.3" r="4.25"/><circle cx="286.2" cy="494.7" r="4.25"/><circle cx="291.0" cy="382.6" r="4.25"/><circle cx="287.9" cy="434.6" r="4.25"/><circle cx="272.2" cy="558.3" r="4.25"/><circle cx="303.3" cy="487.8" r="4.25"/><circle cx="285.7" cy="524.3" r="4.25"/><circle cx="279.7" cy="572.5" r="4.25"/><circle cx="276.8" cy="402.6" r="4.25"/><circle cx="274.6" cy="391.6" r="4.25"/><circle cx="302.0" cy="407.9" r="4.25"/><circle cx="279.3" cy="525.8" r="4.25"/><circle cx="281.8" cy="472.7" r="4.25"/><circle cx="297.7" cy="401.4" r="4.25"/><circle cx="282.1" cy="483.9" r="4.25"/><circle cx="297.1" cy="373.2" r="4.25"/><circle cx="299.4" cy="455.0" r="4.25"/><circle cx="278.0" cy="472.2" r="4.25"/><circle cx="302.7" cy="498.0" r="4.25"/><circle cx="291.4" cy="595.0" r="4.25"/><circle cx="301.4" cy="544.6" r="4.25"/><circle cx="289.9" cy="504.6" r="4.25"/><circle cx="293.9" cy="334.0" r="4.25"/><circle cx="300.9" cy="450.1" r="4.25"/><circle cx="286.8" cy="482.1" r="4.25"/><circle cx="278.7" cy="408.7" r="4.25"/><circle cx="272.7" cy="468.3" r="4.25"/><circle cx="286.3" cy="467.8" r="4.25"/><circle cx="290.5" cy="493.7" r="4.25"/><circle cx="276.7" cy="461.0" r="4.25"/><circle cx="303.7" cy="425.5" r="4.25"/><circle cx="283.4" cy="490.8" r="4.25"/><circle cx="292.9" cy="519.3" r="4.25"/><circle cx="282.0" cy="390.5" r="4.25"/><circle cx="278.9" cy="409.6" r="4.25"/><circle cx="280.3" cy="454.3" r="4.25"/><circle cx="290.2" cy="393.0" r="4.25"/><circle cx="283.1" cy="409.0" r="4.25"/><circle cx="275.4" cy="439.0" r="4.25"/><circle cx="278.4" cy="366.3" r="4.25"/><circle cx="272.8" cy="500.9" r="4.25"/><circle cx="275.7" cy="529.1" r="4.25"/><circle cx="304.5" cy="522.5" r="4.25"/><circle cx="304.0" cy="362.0" r="4.25"/><circle cx="293.0" cy="432.3" r="4.25"/><circle cx="300.9" cy="429.7" r="4.25"/><circle cx="300.3" cy="356.3" r="4.25"/><circle cx="288.8" cy="445.8" r="4.25"/><circle cx="277.6" cy="428.0" r="4.25"/><circle cx="281.5" cy="403.4" r="4.25"/><circle cx="284.9" cy="430.6" r="4.25"/><circle cx="287.7" cy="443.1" r="4.25"/><circle cx="294.0" cy="467.1" r="4.25"/><circle cx="280.9" cy="481.9" r="4.25"/><circle cx="279.9" cy="398.8" r="4.25"/><circle cx="271.0" cy="418.2" r="4.25"/><circle cx="300.0" cy="453.4" r="4.25"/><circle cx="279.9" cy="348.3" r="4.25"/><circle cx="277.6" cy="481.2" r="4.25"/><circle cx="273.8" cy="486.3" r="4.25"/><circle cx="292.3" cy="282.1" r="4.25"/><circle cx="283.3" cy="434.0" r="4.25"/><circle cx="283.2" cy="470.6" r="4.25"/><circle cx="289.9" cy="343.3" r="4.25"/><circle cx="280.5" cy="458.2" r="4.25"/><circle cx="287.4" cy="513.5" r="4.25"/><circle cx="291.2" cy="408.5" r="4.25"/><circle cx="292.1" cy="481.7" r="4.25"/><circle cx="275.3" cy="468.6" r="4.25"/><circle cx="296.7" cy="347.2" r="4.25"/><circle cx="298.6" cy="456.7" r="4.25"/><circle cx="275.5" cy="407.5" r="4.25"/><circle cx="299.5" cy="408.8" r="4.25"/><circle cx="300.4" cy="414.2" r="4.25"/><circle cx="272.9" cy="454.0" r="4.25"/><circle cx="287.2" cy="431.9" r="4.25"/><circle cx="286.6" cy="540.5" r="4.25"/><circle cx="300.4" cy="417.5" r="4.25"/><circle cx="284.8" cy="512.1" r="4.25"/><circle cx="288.8" cy="410.0" r="4.25"/><circle cx="277.8" cy="351.9" r="4.25"/><circle cx="279.3" cy="474.3" r="4.25"/><circle cx="275.8" cy="395.2" r="4.25"/><circle cx="294.5" cy="404.0" r="4.25"/><circle cx="281.9" cy="380.6" r="4.25"/><circle cx="302.9" cy="436.8" r="4.25"/><circle cx="295.1" cy="436.3" r="4.25"/><circle cx="286.3" cy="411.5" r="4.25"/><circle cx="272.6" cy="510.1" r="4.25"/><circle cx="292.3" cy="485.1" r="4.25"/><circle cx="281.7" cy="420.5" r="4.25"/><circle cx="291.0" cy="503.8" r="4.25"/><circle cx="281.6" cy="401.0" r="4.25"/><circle cx="275.1" cy="441.1" r="4.25"/><circle cx="292.0" cy="483.3" r="4.25"/><circle cx="297.4" cy="415.6" r="4.25"/><circle cx="276.2" cy="448.1" r="4.25"/><circle cx="299.5" cy="358.5" r="4.25"/><circle cx="295.1" cy="430.9" r="4.25"/><circle cx="299.3" cy="437.7" r="4.25"/><circle cx="290.5" cy="488.1" r="4.25"/><circle cx="273.8" cy="404.2" r="4.25"/><circle cx="280.1" cy="422.6" r="4.25"/><circle cx="277.3" cy="473.9" r="4.25"/><circle cx="292.3" cy="476.2" r="4.25"/><circle cx="271.1" cy="451.4" r="4.25"/><circle cx="294.8" cy="414.0" r="4.25"/><circle cx="298.0" cy="358.4" r="4.25"/><circle cx="278.9" cy="453.5" r="4.25"/><circle cx="294.0" cy="474.4" r="4.25"/><circle cx="295.6" cy="398.0" r="4.25"/><circle cx="280.8" cy="495.0" r="4.25"/><circle cx="300.5" cy="402.8" r="4.25"/><circle cx="300.6" cy="470.1" r="4.25"/><circle cx="301.6" cy="384.4" r="4.25"/><circle cx="273.2" cy="386.3" r="4.25"/><circle cx="299.8" cy="404.5" r="4.25"/><circle cx="280.1" cy="455.8" r="4.25"/><circle cx="303.7" cy="530.5" r="4.25"/><circle cx="291.4" cy="397.7" r="4.25"/><circle cx="279.1" cy="403.9" r="4.25"/><circle cx="282.2" cy="373.9" r="4.25"/><circle cx="273.0" cy="363.5" r="4.25"/><circle cx="304.3" cy="449.6" r="4.25"/><circle cx="272.4" cy="386.4" r="4.25"/><circle cx="291.2" cy="410.8" r="4.25"/><circle cx="276.3" cy="396.5" r="4.25"/><circle cx="288.9" cy="511.1" r="4.25"/><circle cx="285.4" cy="457.0" r="4.25"/><circle cx="293.1" cy="457.8" r="4.25"/><circle cx="291.2" cy="453.6" r="4.25"/><circle cx="299.9" cy="484.7" r="4.25"/><circle cx="283.6" cy="406.5" r="4.25"/><circle cx="289.9" cy="437.8" r="4.25"/><circle cx="274.7" cy="440.7" r="4.25"/><circle cx="297.9" cy="516.8" r="4.25"/><circle cx="275.8" cy="418.2" r="4.25"/><circle cx="286.2" cy="337.3" r="4.25"/><circle cx="280.7" cy="366.2" r="4.25"/><circle cx="296.0" cy="420.9" r="4.25"/><circle cx="287.4" cy="451.7" r="4.25"/><circle cx="296.6" cy="415.9" r="4.25"/><circle cx="299.0" cy="542.7" r="4.25"/><circle cx="289.3" cy="517.0" r="4.25"/><circle cx="292.0" cy="521.6" r="4.25"/><circle cx="294.5" cy="425.8" r="4.25"/><circle cx="294.1" cy="434.5" r="4.25"/><circle cx="283.6" cy="473.8" r="4.25"/><circle cx="289.1" cy="430.2" r="4.25"/><circle cx="302.7" cy="435.7" r="4.25"/><circle cx="299.0" cy="493.9" r="4.25"/><circle cx="277.3" cy="416.4" r="4.25"/><circle cx="300.9" cy="411.8" r="4.25"/><circle cx="291.4" cy="394.4" r="4.25"/><circle cx="295.6" cy="361.8" r="4.25"/><circle cx="299.2" cy="360.2" r="4.25"/><circle cx="291.8" cy="384.7" r="4.25"/><circle cx="302.1" cy="429.1" r="4.25"/><circle cx="275.8" cy="432.2" r="4.25"/><circle cx="282.6" cy="421.0" r="4.25"/><circle cx="281.8" cy="401.2" r="4.25"/><circle cx="278.5" cy="407.3" r="4.25"/><circle cx="303.2" cy="537.2" r="4.25"/><circle cx="274.2" cy="405.4" r="4.25"/><circle cx="287.1" cy="401.5" r="4.25"/><circle cx="304.6" cy="381.5" r="4.25"/><circle cx="279.9" cy="524.5" r="4.25"/><circle cx="287.8" cy="462.4" r="4.25"/><circle cx="303.1" cy="498.6" r="4.25"/><circle cx="284.8" cy="522.2" r="4.25"/><circle cx="293.1" cy="572.2" r="4.25"/><circle cx="283.1" cy="431.4" r="4.25"/><circle cx="297.4" cy="514.7" r="4.25"/><circle cx="304.3" cy="506.9" r="4.25"/><circle cx="296.8" cy="463.3" r="4.25"/><circle cx="303.7" cy="360.4" r="4.25"/><circle cx="296.2" cy="492.3" r="4.25"/><circle cx="282.2" cy="510.9" r="4.25"/><circle cx="297.4" cy="395.8" r="4.25"/><circle cx="275.2" cy="488.7" r="4.25"/><circle cx="280.0" cy="459.6" r="4.25"/><circle cx="304.2" cy="444.8" r="4.25"/><circle cx="291.7" cy="443.4" r="4.25"/><circle cx="285.9" cy="334.9" r="4.25"/><circle cx="277.5" cy="393.8" r="4.25"/><circle cx="286.6" cy="387.8" r="4.25"/><circle cx="290.3" cy="456.3" r="4.25"/><circle cx="282.8" cy="427.3" r="4.25"/><circle cx="304.3" cy="517.2" r="4.25"/><circle cx="288.7" cy="294.8" r="4.25"/><circle cx="297.3" cy="376.2" r="4.25"/><circle cx="302.2" cy="452.5" r="4.25"/><circle cx="289.8" cy="471.3" r="4.25"/><circle cx="299.0" cy="382.1" r="4.25"/><circle cx="282.6" cy="528.6" r="4.25"/><circle cx="293.9" cy="425.6" r="4.25"/><circle cx="297.5" cy="475.5" r="4.25"/><circle cx="287.0" cy="446.5" r="4.25"/><circle cx="283.8" cy="411.6" r="4.25"/><circle cx="285.1" cy="440.1" r="4.25"/><circle cx="290.0" cy="391.8" r="4.25"/><circle cx="299.1" cy="401.2" r="4.25"/><circle cx="288.4" cy="372.9" r="4.25"/><circle cx="284.7" cy="428.6" r="4.25"/><circle cx="298.1" cy="552.5" r="4.25"/><circle cx="271.0" cy="318.2" r="4.25"/><circle cx="293.4" cy="455.7" r="4.25"/><circle cx="285.8" cy="425.5" r="4.25"/><circle cx="285.5" cy="343.4" r="4.25"/><circle cx="274.4" cy="377.7" r="4.25"/><circle cx="276.5" cy="434.8" r="4.25"/><circle cx="282.9" cy="437.4" r="4.25"/><circle cx="286.2" cy="404.3" r="4.25"/><circle cx="290.8" cy="367.2" r="4.25"/><circle cx="281.4" cy="429.3" r="4.25"/><circle cx="284.9" cy="439.4" r="4.25"/><circle cx="298.1" cy="374.5" r="4.25"/><circle cx="289.2" cy="428.1" r="4.25"/><circle cx="294.4" cy="369.7" r="4.25"/><circle cx="296.6" cy="360.9" r="4.25"/><circle cx="303.1" cy="427.0" r="4.25"/><circle cx="272.2" cy="449.1" r="4.25"/><circle cx="279.9" cy="465.5" r="4.25"/><circle cx="271.3" cy="507.2" r="4.25"/><circle cx="281.6" cy="397.3" r="4.25"/><circle cx="294.6" cy="387.0" r="4.25"/><circle cx="295.0" cy="406.4" r="4.25"/><circle cx="292.0" cy="435.5" r="4.25"/><circle cx="279.0" cy="350.9" r="4.25"/><circle cx="300.1" cy="372.1" r="4.25"/><circle cx="289.9" cy="411.9" r="4.25"/><circle cx="298.2" cy="476.9" r="4.25"/><circle cx="287.9" cy="421.5" r="4.25"/><circle cx="301.9" cy="508.5" r="4.25"/><circle cx="276.4" cy="375.6" r="4.25"/><circle cx="287.6" cy="485.5" r="4.25"/><circle cx="295.2" cy="530.2" r="4.25"/><circle cx="300.1" cy="367.9" r="4.25"/><circle cx="292.3" cy="424.5" r="4.25"/><circle cx="297.5" cy="492.4" r="4.25"/><circle cx="278.2" cy="442.9" r="4.25"/><circle cx="272.2" cy="507.8" r="4.25"/><circle cx="272.5" cy="430.4" r="4.25"/><circle cx="271.2" cy="437.1" r="4.25"/><circle cx="298.8" cy="463.4" r="4.25"/><circle cx="274.5" cy="435.4" r="4.25"/><circle cx="300.2" cy="397.1" r="4.25"/><circle cx="285.7" cy="497.4" r="4.25"/><circle cx="301.4" cy="449.2" r="4.25"/><circle cx="271.7" cy="358.8" r="4.25"/><circle cx="284.1" cy="415.8" r="4.25"/><circle cx="277.1" cy="410.6" r="4.25"/><circle cx="282.6" cy="452.7" r="4.25"/><circle cx="277.2" cy="373.1" r="4.25"/><circle cx="288.4" cy="485.6" r="4.25"/><circle cx="300.5" cy="412.2" r="4.25"/><circle cx="291.3" cy="296.5" r="4.25"/><circle cx="296.0" cy="449.1" r="4.25"/><circle cx="299.1" cy="425.8" r="4.25"/><circle cx="282.4" cy="436.1" r="4.25"/><circle cx="293.8" cy="518.0" r="4.25"/><circle cx="276.6" cy="511.5" r="4.25"/><circle cx="299.0" cy="534.0" r="4.25"/><circle cx="291.3" cy="512.6" r="4.25"/><circle cx="303.2" cy="396.5" r="4.25"/><circle cx="302.5" cy="454.9" r="4.25"/><circle cx="288.2" cy="499.2" r="4.25"/><circle cx="293.6" cy="396.6" r="4.25"/><circle cx="304.0" cy="389.8" r="4.25"/><circle cx="274.8" cy="452.8" r="4.25"/><circle cx="279.8" cy="355.1" r="4.25"/><circle cx="272.6" cy="391.0" r="4.25"/><circle cx="273.6" cy="417.7" r="4.25"/><circle cx="291.8" cy="280.2" r="4.25"/><circle cx="304.7" cy="404.1" r="4.25"/><circle cx="304.7" cy="401.8" r="4.25"/><circle cx="282.7" cy="460.6" r="4.25"/><circle cx="288.9" cy="431.6" r="4.25"/><circle cx="282.0" cy="432.9" r="4.25"/><circle cx="275.1" cy="481.4" r="4.25"/><circle cx="278.8" cy="547.6" r="4.25"/><circle cx="285.1" cy="502.7" r="4.25"/><circle cx="280.4" cy="523.9" r="4.25"/><circle cx="273.0" cy="524.1" r="4.25"/><circle cx="279.8" cy="427.5" r="4.25"/><circle cx="289.5" cy="326.6" r="4.25"/><circle cx="288.2" cy="429.7" r="4.25"/><circle cx="299.7" cy="490.3" r="4.25"/><circle cx="279.5" cy="466.9" r="4.25"/><circle cx="276.4" cy="483.5" r="4.25"/><circle cx="276.8" cy="379.5" r="4.25"/><circle cx="271.1" cy="355.6" r="4.25"/><circle cx="296.3" cy="462.5" r="4.25"/><circle cx="291.5" cy="534.2" r="4.25"/><circle cx="274.1" cy="459.5" r="4.25"/><circle cx="280.6" cy="463.1" r="4.25"/><circle cx="277.4" cy="437.0" r="4.25"/><circle cx="303.0" cy="286.1" r="4.25"/><circle cx="275.2" cy="378.6" r="4.25"/><circle cx="302.2" cy="357.6" r="4.25"/><circle cx="288.6" cy="494.0" r="4.25"/><circle cx="280.3" cy="399.0" r="4.25"/><circle cx="296.5" cy="500.0" r="4.25"/><circle cx="296.2" cy="509.7" r="4.25"/><circle cx="287.3" cy="393.4" r="4.25"/><circle cx="297.0" cy="452.3" r="4.25"/><circle cx="303.5" cy="393.5" r="4.25"/><circle cx="303.8" cy="409.3" r="4.25"/><circle cx="290.1" cy="288.1" r="4.25"/><circle cx="295.7" cy="499.8" r="4.25"/><circle cx="300.0" cy="370.2" r="4.25"/><circle cx="291.8" cy="413.1" r="4.25"/><circle cx="283.0" cy="454.4" r="4.25"/><circle cx="299.0" cy="447.9" r="4.25"/><circle cx="278.1" cy="532.2" r="4.25"/><circle cx="290.1" cy="472.1" r="4.25"/><circle cx="275.2" cy="382.7" r="4.25"/><circle cx="304.0" cy="409.7" r="4.25"/><circle cx="298.0" cy="522.0" r="4.25"/><circle cx="280.1" cy="522.9" r="4.25"/><circle cx="281.3" cy="457.5" r="4.25"/><circle cx="276.8" cy="477.4" r="4.25"/><circle cx="274.0" cy="377.6" r="4.25"/><circle cx="282.6" cy="346.0" r="4.25"/><circle cx="279.7" cy="474.1" r="4.25"/><circle cx="281.9" cy="451.7" r="4.25"/><circle cx="273.3" cy="400.7" r="4.25"/><circle cx="290.4" cy="522.8" r="4.25"/><circle cx="294.6" cy="494.2" r="4.25"/><circle cx="291.0" cy="483.2" r="4.25"/><circle cx="303.1" cy="554.8" r="4.25"/><circle cx="288.1" cy="447.0" r="4.25"/><circle cx="304.5" cy="585.6" r="4.25"/><circle cx="303.0" cy="399.4" r="4.25"/><circle cx="280.6" cy="403.8" r="4.25"/><circle cx="271.9" cy="480.9" r="4.25"/><circle cx="274.2" cy="445.5" r="4.25"/><circle cx="291.4" cy="435.1" r="4.25"/><circle cx="275.1" cy="390.6" r="4.25"/><circle cx="302.8" cy="468.1" r="4.25"/><circle cx="282.4" cy="462.0" r="4.25"/><circle cx="293.7" cy="526.5" r="4.25"/><circle cx="284.7" cy="392.5" r="4.25"/><circle cx="301.8" cy="523.1" r="4.25"/><circle cx="278.9" cy="407.2" r="4.25"/><circle cx="296.5" cy="487.6" r="4.25"/><circle cx="291.7" cy="365.9" r="4.25"/><circle cx="282.5" cy="408.2" r="4.25"/><circle cx="300.1" cy="433.7" r="4.25"/><circle cx="273.9" cy="461.5" r="4.25"/><circle cx="300.1" cy="396.0" r="4.25"/><circle cx="300.8" cy="403.7" r="4.25"/><circle cx="304.3" cy="495.2" r="4.25"/><circle cx="284.7" cy="374.6" r="4.25"/><circle cx="274.7" cy="351.3" r="4.25"/><circle cx="271.0" cy="458.1" r="4.25"/><circle cx="273.6" cy="439.6" r="4.25"/><circle cx="303.7" cy="427.4" r="4.25"/><circle cx="294.3" cy="425.4" r="4.25"/><circle cx="302.7" cy="452.5" r="4.25"/><circle cx="286.7" cy="499.0" r="4.25"/><circle cx="292.3" cy="371.2" r="4.25"/><circle cx="292.7" cy="440.0" r="4.25"/><circle cx="272.0" cy="441.0" r="4.25"/><circle cx="302.2" cy="511.6" r="4.25"/><circle cx="274.9" cy="462.9" r="4.25"/><circle cx="273.5" cy="354.0" r="4.25"/><circle cx="303.3" cy="411.7" r="4.25"/><circle cx="287.0" cy="418.7" r="4.25"/><circle cx="289.6" cy="468.4" r="4.25"/><circle cx="288.2" cy="402.5" r="4.25"/><circle cx="293.3" cy="456.0" r="4.25"/><circle cx="278.8" cy="296.9" r="4.25"/><circle cx="288.1" cy="372.3" r="4.25"/><circle cx="278.3" cy="345.0" r="4.25"/><circle cx="297.7" cy="380.7" r="4.25"/><circle cx="288.6" cy="397.0" r="4.25"/><circle cx="300.0" cy="437.9" r="4.25"/><circle cx="277.5" cy="398.4" r="4.25"/><circle cx="285.2" cy="392.6" r="4.25"/><circle cx="280.4" cy="574.3" r="4.25"/><circle cx="274.1" cy="421.9" r="4.25"/><circle cx="283.7" cy="470.6" r="4.25"/><circle cx="283.6" cy="433.1" r="4.25"/><circle cx="288.9" cy="442.3" r="4.25"/><circle cx="301.1" cy="524.9" r="4.25"/><circle cx="288.1" cy="409.5" r="4.25"/><circle cx="284.2" cy="425.2" r="4.25"/><circle cx="292.8" cy="483.4" r="4.25"/><circle cx="277.9" cy="449.9" r="4.25"/><circle cx="284.5" cy="464.0" r="4.25"/><circle cx="279.1" cy="457.8" r="4.25"/><circle cx="272.9" cy="487.5" r="4.25"/><circle cx="283.1" cy="428.2" r="4.25"/><circle cx="280.1" cy="379.0" r="4.25"/><circle cx="288.4" cy="400.8" r="4.25"/><circle cx="300.5" cy="446.1" r="4.25"/><circle cx="302.3" cy="497.6" r="4.25"/><circle cx="283.1" cy="438.9" r="4.25"/><circle cx="276.8" cy="452.1" r="4.25"/><circle cx="287.3" cy="354.5" r="4.25"/><circle cx="284.1" cy="419.2" r="4.25"/><circle cx="304.7" cy="429.4" r="4.25"/><circle cx="280.4" cy="455.8" r="4.25"/><circle cx="294.6" cy="450.4" r="4.25"/><circle cx="302.9" cy="492.0" r="4.25"/><circle cx="298.9" cy="540.3" r="4.25"/><circle cx="273.1" cy="421.2" r="4.25"/><circle cx="288.7" cy="527.8" r="4.25"/><circle cx="274.5" cy="416.0" r="4.25"/><circle cx="299.4" cy="270.8" r="4.25"/><circle cx="295.7" cy="486.7" r="4.25"/><circle cx="289.0" cy="501.1" r="4.25"/><circle cx="287.1" cy="351.7" r="4.25"/><circle cx="293.2" cy="493.2" r="4.25"/><circle cx="298.8" cy="379.3" r="4.25"/><circle cx="288.3" cy="347.8" r="4.25"/><circle cx="273.0" cy="444.0" r="4.25"/><circle cx="291.5" cy="399.6" r="4.25"/><circle cx="298.2" cy="451.6" r="4.25"/><circle cx="296.9" cy="455.6" r="4.25"/><circle cx="291.3" cy="496.4" r="4.25"/><circle cx="283.8" cy="456.0" r="4.25"/><circle cx="304.4" cy="425.9" r="4.25"/><circle cx="300.6" cy="478.8" r="4.25"/><circle cx="290.9" cy="422.3" r="4.25"/><circle cx="278.8" cy="368.5" r="4.25"/><circle cx="298.9" cy="342.4" r="4.25"/><circle cx="291.7" cy="487.3" r="4.25"/><circle cx="301.3" cy="542.3" r="4.25"/><circle cx="300.8" cy="443.4" r="4.25"/><circle cx="272.9" cy="408.6" r="4.25"/><circle cx="280.1" cy="494.9" r="4.25"/><circle cx="297.1" cy="424.0" r="4.25"/><circle cx="303.3" cy="385.4" r="4.25"/><circle cx="286.2" cy="490.1" r="4.25"/><circle cx="296.7" cy="433.3" r="4.25"/><circle cx="292.8" cy="440.5" r="4.25"/><circle cx="285.4" cy="412.0" r="4.25"/><circle cx="280.9" cy="394.1" r="4.25"/><circle cx="283.3" cy="473.3" r="4.25"/><circle cx="283.0" cy="365.5" r="4.25"/><circle cx="291.3" cy="448.7" r="4.25"/><circle cx="277.1" cy="469.7" r="4.25"/><circle cx="279.6" cy="491.5" r="4.25"/><circle cx="297.0" cy="486.0" r="4.25"/><circle cx="273.2" cy="473.1" r="4.25"/><circle cx="297.6" cy="446.6" r="4.25"/><circle cx="284.2" cy="403.8" r="4.25"/><circle cx="277.2" cy="490.8" r="4.25"/><circle cx="295.9" cy="481.0" r="4.25"/><circle cx="275.1" cy="449.4" r="4.25"/><circle cx="272.9" cy="383.9" r="4.25"/><circle cx="296.9" cy="392.5" r="4.25"/><circle cx="277.1" cy="415.1" r="4.25"/><circle cx="284.7" cy="456.4" r="4.25"/><circle cx="290.4" cy="465.5" r="4.25"/><circle cx="281.8" cy="572.8" r="4.25"/><circle cx="298.9" cy="482.8" r="4.25"/><circle cx="302.0" cy="419.3" r="4.25"/><circle cx="295.7" cy="445.1" r="4.25"/><circle cx="298.3" cy="527.5" r="4.25"/><circle cx="304.0" cy="377.1" r="4.25"/><circle cx="287.0" cy="449.6" r="4.25"/><circle cx="277.0" cy="363.3" r="4.25"/><circle cx="274.6" cy="455.3" r="4.25"/><circle cx="298.3" cy="432.1" r="4.25"/><circle cx="280.9" cy="476.4" r="4.25"/><circle cx="272.9" cy="468.1" r="4.25"/><circle cx="295.1" cy="571.0" r="4.25"/><circle cx="297.6" cy="556.0" r="4.25"/><circle cx="273.9" cy="396.7" r="4.25"/><circle cx="287.5" cy="555.0" r="4.25"/><circle cx="283.9" cy="350.5" r="4.25"/><circle cx="297.1" cy="421.6" r="4.25"/><circle cx="299.2" cy="426.6" r="4.25"/><circle cx="287.5" cy="406.7" r="4.25"/><circle cx="302.8" cy="560.7" r="4.25"/><circle cx="275.0" cy="370.8" r="4.25"/><circle cx="292.1" cy="394.8" r="4.25"/><circle cx="274.0" cy="428.2" r="4.25"/><circle cx="276.5" cy="430.5" r="4.25"/><circle cx="284.4" cy="420.0" r="4.25"/><circle cx="301.4" cy="589.4" r="4.25"/><circle cx="296.0" cy="406.8" r="4.25"/><circle cx="303.0" cy="503.9" r="4.25"/><circle cx="296.2" cy="374.4" r="4.25"/><circle cx="303.9" cy="489.5" r="4.25"/><circle cx="289.6" cy="378.8" r="4.25"/><circle cx="294.6" cy="441.6" r="4.25"/><circle cx="292.3" cy="447.7" r="4.25"/><circle cx="285.8" cy="395.5" r="4.25"/><circle cx="275.4" cy="491.9" r="4.25"/><circle cx="273.9" cy="453.9" r="4.25"/><circle cx="288.2" cy="535.1" r="4.25"/><circle cx="276.3" cy="398.2" r="4.25"/><circle cx="286.0" cy="474.5" r="4.25"/><circle cx="279.7" cy="466.4" r="4.25"/><circle cx="274.7" cy="419.1" r="4.25"/><circle cx="297.1" cy="375.8" r="4.25"/><circle cx="272.2" cy="361.1" r="4.25"/><circle cx="299.8" cy="397.0" r="4.25"/><circle cx="288.7" cy="433.0" r="4.25"/><circle cx="297.0" cy="313.5" r="4.25"/><circle cx="301.0" cy="405.7" r="4.25"/><circle cx="291.1" cy="278.6" r="4.25"/><circle cx="304.1" cy="446.4" r="4.25"/><circle cx="304.0" cy="377.5" r="4.25"/><circle cx="293.2" cy="379.1" r="4.25"/><circle cx="280.9" cy="444.6" r="4.25"/><circle cx="291.9" cy="391.6" r="4.25"/><circle cx="301.2" cy="456.1" r="4.25"/><circle cx="287.9" cy="463.7" r="4.25"/><circle cx="273.8" cy="497.1" r="4.25"/><circle cx="295.8" cy="331.2" r="4.25"/><circle cx="299.3" cy="372.0" r="4.25"/><circle cx="299.7" cy="475.7" r="4.25"/><circle cx="294.3" cy="446.7" r="4.25"/><circle cx="290.3" cy="364.4" r="4.25"/><circle cx="285.3" cy="400.1" r="4.25"/><circle cx="272.9" cy="553.1" r="4.25"/><circle cx="296.8" cy="460.5" r="4.25"/><circle cx="284.4" cy="435.9" r="4.25"/><circle cx="299.0" cy="454.5" r="4.25"/><circle cx="293.1" cy="379.7" r="4.25"/><circle cx="297.3" cy="417.1" r="4.25"/><circle cx="299.5" cy="484.6" r="4.25"/><circle cx="302.2" cy="299.5" r="4.25"/><circle cx="275.2" cy="422.0" r="4.25"/><circle cx="278.2" cy="500.5" r="4.25"/><circle cx="281.8" cy="428.3" r="4.25"/><circle cx="271.2" cy="431.6" r="4.25"/><circle cx="293.8" cy="484.1" r="4.25"/><circle cx="300.0" cy="414.8" r="4.25"/><circle cx="286.8" cy="377.9" r="4.25"/><circle cx="287.5" cy="408.1" r="4.25"/><circle cx="273.7" cy="388.2" r="4.25"/><circle cx="296.1" cy="355.9" r="4.25"/><circle cx="298.1" cy="427.1" r="4.25"/><circle cx="304.7" cy="437.4" r="4.25"/><circle cx="293.5" cy="410.5" r="4.25"/><circle cx="290.9" cy="446.9" r="4.25"/><circle cx="283.6" cy="461.3" r="4.25"/><circle cx="289.4" cy="496.1" r="4.25"/><circle cx="302.2" cy="396.4" r="4.25"/><circle cx="287.6" cy="465.3" r="4.25"/><circle cx="281.6" cy="502.3" r="4.25"/><circle cx="301.3" cy="364.9" r="4.25"/><circle cx="304.6" cy="519.1" r="4.25"/><circle cx="297.7" cy="441.9" r="4.25"/><circle cx="281.9" cy="474.4" r="4.25"/><circle cx="286.7" cy="511.3" r="4.25"/><circle cx="296.4" cy="500.3" r="4.25"/><circle cx="302.5" cy="468.2" r="4.25"/><circle cx="285.5" cy="504.7" r="4.25"/><circle cx="273.8" cy="458.3" r="4.25"/><circle cx="288.7" cy="372.5" r="4.25"/><circle cx="292.6" cy="447.6" r="4.25"/><circle cx="277.5" cy="349.4" r="4.25"/><circle cx="296.3" cy="406.9" r="4.25"/><circle cx="279.1" cy="473.3" r="4.25"/><circle cx="303.2" cy="461.3" r="4.25"/><circle cx="287.5" cy="500.6" r="4.25"/><circle cx="299.6" cy="454.0" r="4.25"/><circle cx="299.4" cy="505.3" r="4.25"/><circle cx="304.1" cy="479.6" r="4.25"/><circle cx="283.4" cy="438.7" r="4.25"/><circle cx="287.1" cy="462.6" r="4.25"/><circle cx="293.6" cy="424.7" r="4.25"/><circle cx="293.6" cy="515.2" r="4.25"/><circle cx="292.5" cy="531.2" r="4.25"/><circle cx="303.0" cy="465.3" r="4.25"/><circle cx="298.8" cy="462.8" r="4.25"/><circle cx="301.7" cy="423.7" r="4.25"/><circle cx="279.5" cy="495.4" r="4.25"/><circle cx="294.4" cy="391.1" r="4.25"/><circle cx="289.0" cy="361.6" r="4.25"/><circle cx="272.9" cy="505.0" r="4.25"/><circle cx="273.1" cy="419.5" r="4.25"/><circle cx="280.4" cy="454.1" r="4.25"/><circle cx="289.4" cy="502.4" r="4.25"/><circle cx="298.5" cy="444.7" r="4.25"/><circle cx="298.7" cy="582.4" r="4.25"/><circle cx="291.0" cy="441.7" r="4.25"/><circle cx="292.3" cy="325.3" r="4.25"/><circle cx="289.6" cy="424.3" r="4.25"/><circle cx="289.2" cy="495.7" r="4.25"/><circle cx="293.2" cy="444.0" r="4.25"/><circle cx="299.3" cy="409.2" r="4.25"/><circle cx="280.3" cy="434.4" r="4.25"/><circle cx="285.2" cy="548.0" r="4.25"/><circle cx="299.9" cy="446.0" r="4.25"/><circle cx="280.3" cy="404.7" r="4.25"/><circle cx="282.9" cy="500.8" r="4.25"/><circle cx="301.9" cy="390.7" r="4.25"/><circle cx="297.5" cy="488.9" r="4.25"/><circle cx="291.4" cy="265.1" r="4.25"/><circle cx="281.1" cy="435.9" r="4.25"/><circle cx="300.3" cy="428.8" r="4.25"/><circle cx="293.6" cy="475.5" r="4.25"/><circle cx="281.2" cy="395.2" r="4.25"/><circle cx="294.4" cy="469.4" r="4.25"/><circle cx="285.1" cy="484.8" r="4.25"/><circle cx="294.6" cy="515.9" r="4.25"/><circle cx="282.3" cy="439.1" r="4.25"/><circle cx="290.0" cy="487.1" r="4.25"/><circle cx="297.2" cy="484.8" r="4.25"/><circle cx="290.9" cy="270.4" r="4.25"/><circle cx="283.9" cy="381.8" r="4.25"/><circle cx="301.6" cy="587.2" r="4.25"/><circle cx="293.5" cy="370.3" r="4.25"/><circle cx="281.8" cy="480.8" r="4.25"/><circle cx="275.4" cy="491.4" r="4.25"/><circle cx="276.5" cy="424.2" r="4.25"/><circle cx="273.0" cy="410.2" r="4.25"/><circle cx="278.0" cy="432.9" r="4.25"/><circle cx="283.5" cy="525.1" r="4.25"/><circle cx="284.6" cy="477.5" r="4.25"/><circle cx="277.8" cy="453.1" r="4.25"/><circle cx="301.7" cy="547.5" r="4.25"/><circle cx="282.5" cy="577.0" r="4.25"/><circle cx="286.0" cy="413.8" r="4.25"/><circle cx="300.1" cy="329.9" r="4.25"/><circle cx="273.7" cy="397.4" r="4.25"/><circle cx="297.8" cy="516.2" r="4.25"/><circle cx="303.5" cy="386.7" r="4.25"/><circle cx="299.5" cy="467.9" r="4.25"/><circle cx="284.8" cy="469.3" r="4.25"/><circle cx="300.0" cy="393.3" r="4.25"/><circle cx="303.5" cy="569.5" r="4.25"/><circle cx="272.0" cy="467.5" r="4.25"/><circle cx="298.6" cy="371.5" r="4.25"/><circle cx="274.7" cy="534.4" r="4.25"/><circle cx="272.1" cy="337.6" r="4.25"/><circle cx="302.6" cy="445.2" r="4.25"/><circle cx="290.1" cy="457.3" r="4.25"/><circle cx="275.9" cy="535.4" r="4.25"/><circle cx="301.3" cy="365.1" r="4.25"/><circle cx="282.7" cy="494.6" r="4.25"/><circle cx="292.1" cy="437.7" r="4.25"/><circle cx="280.2" cy="459.9" r="4.25"/><circle cx="287.6" cy="441.4" r="4.25"/><circle cx="299.5" cy="519.7" r="4.25"/><circle cx="288.9" cy="412.9" r="4.25"/><circle cx="282.6" cy="405.4" r="4.25"/><circle cx="271.9" cy="505.5" r="4.25"/><circle cx="282.7" cy="414.7" r="4.25"/><circle cx="302.6" cy="480.7" r="4.25"/><circle cx="286.5" cy="438.2" r="4.25"/><circle cx="283.7" cy="428.6" r="4.25"/><circle cx="298.1" cy="426.2" r="4.25"/><circle cx="274.9" cy="439.9" r="4.25"/><circle cx="284.0" cy="403.2" r="4.25"/><circle cx="277.4" cy="450.7" r="4.25"/><circle cx="277.2" cy="389.7" r="4.25"/><circle cx="280.9" cy="530.2" r="4.25"/><circle cx="295.0" cy="450.0" r="4.25"/><circle cx="288.9" cy="472.3" r="4.25"/><circle cx="280.8" cy="562.7" r="4.25"/><circle cx="274.0" cy="465.4" r="4.25"/><circle cx="299.0" cy="422.5" r="4.25"/><circle cx="283.2" cy="416.8" r="4.25"/><circle cx="303.4" cy="509.3" r="4.25"/><circle cx="302.4" cy="395.6" r="4.25"/><circle cx="296.2" cy="460.0" r="4.25"/><circle cx="293.9" cy="453.8" r="4.25"/><circle cx="273.4" cy="466.0" r="4.25"/><circle cx="300.3" cy="384.6" r="4.25"/><circle cx="289.6" cy="357.3" r="4.25"/><circle cx="274.6" cy="432.4" r="4.25"/><circle cx="275.3" cy="505.9" r="4.25"/><circle cx="278.1" cy="431.0" r="4.25"/><circle cx="281.4" cy="391.3" r="4.25"/><circle cx="282.8" cy="369.9" r="4.25"/><circle cx="295.9" cy="332.4" r="4.25"/><circle cx="279.2" cy="518.2" r="4.25"/><circle cx="290.5" cy="389.2" r="4.25"/><circle cx="289.7" cy="468.0" r="4.25"/><circle cx="287.3" cy="350.1" r="4.25"/><circle cx="287.5" cy="453.0" r="4.25"/><circle cx="291.5" cy="379.8" r="4.25"/><circle cx="290.1" cy="475.1" r="4.25"/><circle cx="295.7" cy="304.0" r="4.25"/><circle cx="276.3" cy="411.1" r="4.25"/><circle cx="291.7" cy="396.9" r="4.25"/><circle cx="283.3" cy="423.0" r="4.25"/><circle cx="302.5" cy="378.2" r="4.25"/><circle cx="284.1" cy="395.6" r="4.25"/><circle cx="280.6" cy="464.8" r="4.25"/><circle cx="295.8" cy="482.6" r="4.25"/><circle cx="295.5" cy="546.0" r="4.25"/><circle cx="281.8" cy="475.3" r="4.25"/><circle cx="287.9" cy="341.4" r="4.25"/><circle cx="288.6" cy="485.4" r="4.25"/><circle cx="288.9" cy="459.1" r="4.25"/><circle cx="290.3" cy="378.0" r="4.25"/><circle cx="277.1" cy="406.6" r="4.25"/><circle cx="299.4" cy="423.1" r="4.25"/><circle cx="272.0" cy="447.3" r="4.25"/><circle cx="284.4" cy="345.9" r="4.25"/><circle cx="294.9" cy="423.8" r="4.25"/><circle cx="279.8" cy="461.5" r="4.25"/><circle cx="271.0" cy="482.3" r="4.25"/><circle cx="295.8" cy="578.8" r="4.25"/><circle cx="287.9" cy="446.1" r="4.25"/><circle cx="276.9" cy="366.6" r="4.25"/><circle cx="300.0" cy="308.7" r="4.25"/><circle cx="284.8" cy="366.7" r="4.25"/><circle cx="275.9" cy="441.1" r="4.25"/><circle cx="285.8" cy="475.9" r="4.25"/><circle cx="295.2" cy="375.5" r="4.25"/><circle cx="280.1" cy="414.1" r="4.25"/><circle cx="288.5" cy="480.8" r="4.25"/><circle cx="292.2" cy="483.9" r="4.25"/><circle cx="275.9" cy="459.4" r="4.25"/><circle cx="300.7" cy="409.8" r="4.25"/><circle cx="284.7" cy="496.9" r="4.25"/><circle cx="303.4" cy="429.8" r="4.25"/><circle cx="284.0" cy="432.7" r="4.25"/><circle cx="276.7" cy="500.8" r="4.25"/><circle cx="296.7" cy="456.1" r="4.25"/><circle cx="294.7" cy="348.1" r="4.25"/><circle cx="282.3" cy="434.1" r="4.25"/><circle cx="290.6" cy="505.1" r="4.25"/><circle cx="285.8" cy="482.9" r="4.25"/><circle cx="280.7" cy="420.8" r="4.25"/><circle cx="289.1" cy="428.4" r="4.25"/><circle cx="274.9" cy="488.6" r="4.25"/><circle cx="297.5" cy="401.1" r="4.25"/><circle cx="298.0" cy="527.2" r="4.25"/><circle cx="285.9" cy="481.7" r="4.25"/><circle cx="279.9" cy="400.9" r="4.25"/><circle cx="290.3" cy="455.2" r="4.25"/><circle cx="296.2" cy="388.8" r="4.25"/><circle cx="291.8" cy="551.4" r="4.25"/><circle cx="288.2" cy="423.3" r="4.25"/><circle cx="303.8" cy="426.3" r="4.25"/><circle cx="282.1" cy="448.3" r="4.25"/><circle cx="278.6" cy="465.1" r="4.25"/><circle cx="293.4" cy="471.0" r="4.25"/><circle cx="276.2" cy="391.9" r="4.25"/><circle cx="275.8" cy="432.5" r="4.25"/><circle cx="276.0" cy="466.3" r="4.25"/><circle cx="284.5" cy="512.4" r="4.25"/><circle cx="274.3" cy="406.1" r="4.25"/><circle cx="296.9" cy="413.3" r="4.25"/><circle cx="275.8" cy="521.2" r="4.25"/><circle cx="280.3" cy="450.2" r="4.25"/><circle cx="295.8" cy="493.5" r="4.25"/><circle cx="283.1" cy="503.0" r="4.25"/><circle cx="282.7" cy="535.0" r="4.25"/><circle cx="282.5" cy="450.0" r="4.25"/><circle cx="297.0" cy="435.3" r="4.25"/><circle cx="271.8" cy="413.1" r="4.25"/><circle cx="288.4" cy="399.6" r="4.25"/><circle cx="279.3" cy="498.1" r="4.25"/><circle cx="302.4" cy="350.5" r="4.25"/><circle cx="296.6" cy="436.7" r="4.25"/><circle cx="284.4" cy="425.3" r="4.25"/><circle cx="291.7" cy="419.8" r="4.25"/><circle cx="280.8" cy="480.2" r="4.25"/><circle cx="290.4" cy="422.4" r="4.25"/><circle cx="288.3" cy="426.1" r="4.25"/><circle cx="277.4" cy="468.7" r="4.25"/><circle cx="279.5" cy="385.6" r="4.25"/><circle cx="280.8" cy="496.8" r="4.25"/><circle cx="303.9" cy="515.7" r="4.25"/><circle cx="291.3" cy="338.5" r="4.25"/><circle cx="285.7" cy="501.6" r="4.25"/><circle cx="293.9" cy="456.8" r="4.25"/><circle cx="274.4" cy="418.8" r="4.25"/><circle cx="289.7" cy="452.9" r="4.25"/><circle cx="280.7" cy="438.5" r="4.25"/><circle cx="302.5" cy="410.1" r="4.25"/><circle cx="294.2" cy="451.5" r="4.25"/><circle cx="294.0" cy="420.4" r="4.25"/><circle cx="289.2" cy="384.0" r="4.25"/><circle cx="299.4" cy="469.2" r="4.25"/><circle cx="279.9" cy="417.8" r="4.25"/><circle cx="294.0" cy="459.0" r="4.25"/><circle cx="302.2" cy="472.6" r="4.25"/><circle cx="289.3" cy="417.6" r="4.25"/><circle cx="287.2" cy="351.2" r="4.25"/><circle cx="285.3" cy="588.1" r="4.25"/><circle cx="273.0" cy="362.0" r="4.25"/><circle cx="287.1" cy="375.9" r="4.25"/><circle cx="302.4" cy="438.2" r="4.25"/><circle cx="285.1" cy="481.8" r="4.25"/><circle cx="294.5" cy="449.8" r="4.25"/><circle cx="278.6" cy="411.3" r="4.25"/><circle cx="289.4" cy="367.5" r="4.25"/><circle cx="297.6" cy="493.0" r="4.25"/><circle cx="275.4" cy="316.4" r="4.25"/><circle cx="298.9" cy="393.9" r="4.25"/><circle cx="302.8" cy="569.7" r="4.25"/><circle cx="286.0" cy="394.7" r="4.25"/><circle cx="298.3" cy="380.6" r="4.25"/><circle cx="290.4" cy="411.1" r="4.25"/><circle cx="295.1" cy="386.0" r="4.25"/><circle cx="299.1" cy="466.6" r="4.25"/><circle cx="296.4" cy="335.6" r="4.25"/><circle cx="275.2" cy="398.4" r="4.25"/><circle cx="293.2" cy="431.3" r="4.25"/><circle cx="280.7" cy="426.5" r="4.25"/><circle cx="282.5" cy="513.7" r="4.25"/><circle cx="283.5" cy="456.9" r="4.25"/><circle cx="272.3" cy="499.7" r="4.25"/><circle cx="288.5" cy="379.2" r="4.25"/><circle cx="280.7" cy="405.9" r="4.25"/><circle cx="273.8" cy="493.8" r="4.25"/><circle cx="299.1" cy="493.6" r="4.25"/><circle cx="299.8" cy="454.2" r="4.25"/><circle cx="284.7" cy="504.5" r="4.25"/><circle cx="288.4" cy="528.2" r="4.25"/><circle cx="282.6" cy="474.2" r="4.25"/><circle cx="289.4" cy="369.4" r="4.25"/><circle cx="271.4" cy="398.1" r="4.25"/><circle cx="299.5" cy="405.3" r="4.25"/><circle cx="280.5" cy="339.9" r="4.25"/><circle cx="294.3" cy="467.3" r="4.25"/><circle cx="280.5" cy="433.5" r="4.25"/><circle cx="278.6" cy="439.4" r="4.25"/><circle cx="293.1" cy="403.5" r="4.25"/><circle cx="289.8" cy="474.7" r="4.25"/><circle cx="287.1" cy="445.3" r="4.25"/><circle cx="288.9" cy="507.4" r="4.25"/><circle cx="303.9" cy="430.7" r="4.25"/><circle cx="282.3" cy="279.6" r="4.25"/><circle cx="278.7" cy="413.9" r="4.25"/><circle cx="274.5" cy="438.8" r="4.25"/><circle cx="303.1" cy="395.9" r="4.25"/><circle cx="281.6" cy="390.8" r="4.25"/><circle cx="278.7" cy="530.8" r="4.25"/><circle cx="293.0" cy="433.5" r="4.25"/><circle cx="298.3" cy="511.2" r="4.25"/><circle cx="272.3" cy="400.1" r="4.25"/><circle cx="300.8" cy="329.1" r="4.25"/><circle cx="299.8" cy="481.3" r="4.25"/><circle cx="279.1" cy="423.7" r="4.25"/><circle cx="274.2" cy="412.3" r="4.25"/><circle cx="299.3" cy="427.0" r="4.25"/><circle cx="293.1" cy="482.5" r="4.25"/><circle cx="286.0" cy="563.2" r="4.25"/><circle cx="300.3" cy="506.6" r="4.25"/><circle cx="275.1" cy="563.5" r="4.25"/><circle cx="287.4" cy="444.5" r="4.25"/><circle cx="285.6" cy="514.6" r="4.25"/><circle cx="299.2" cy="476.9" r="4.25"/><circle cx="281.8" cy="467.2" r="4.25"/><circle cx="292.3" cy="533.0" r="4.25"/><circle cx="291.2" cy="422.7" r="4.25"/><circle cx="295.9" cy="340.3" r="4.25"/><circle cx="300.2" cy="377.8" r="4.25"/><circle cx="275.6" cy="509.1" r="4.25"/><circle cx="295.6" cy="510.1" r="4.25"/><circle cx="299.6" cy="431.9" r="4.25"/><circle cx="288.0" cy="475.0" r="4.25"/><circle cx="291.8" cy="450.9" r="4.25"/><circle cx="300.3" cy="317.7" r="4.25"/><circle cx="272.3" cy="470.4" r="4.25"/><circle cx="284.9" cy="401.3" r="4.25"/><circle cx="300.6" cy="516.6" r="4.25"/><circle cx="292.4" cy="386.0" r="4.25"/><circle cx="286.2" cy="272.0" r="4.25"/><circle cx="290.6" cy="363.9" r="4.25"/><circle cx="276.1" cy="448.4" r="4.25"/><circle cx="282.4" cy="380.4" r="4.25"/><circle cx="300.1" cy="440.0" r="4.25"/><circle cx="281.6" cy="433.9" r="4.25"/><circle cx="297.2" cy="411.0" r="4.25"/><circle cx="303.8" cy="459.4" r="4.25"/><circle cx="302.9" cy="549.0" r="4.25"/><circle cx="276.5" cy="531.5" r="4.25"/><circle cx="272.5" cy="506.3" r="4.25"/><circle cx="284.4" cy="413.6" r="4.25"/><circle cx="300.0" cy="379.5" r="4.25"/><circle cx="299.9" cy="537.6" r="4.25"/><circle cx="281.7" cy="421.4" r="4.25"/><circle cx="278.4" cy="422.1" r="4.25"/><circle cx="280.7" cy="548.6" r="4.25"/><circle cx="276.8" cy="578.4" r="4.25"/><circle cx="303.2" cy="394.9" r="4.25"/><circle cx="274.8" cy="405.5" r="4.25"/><circle cx="301.8" cy="471.5" r="4.25"/><circle cx="277.3" cy="433.8" r="4.25"/><circle cx="287.0" cy="399.7" r="4.25"/><circle cx="298.1" cy="460.4" r="4.25"/><circle cx="279.2" cy="470.0" r="4.25"/><circle cx="283.0" cy="581.6" r="4.25"/><circle cx="292.4" cy="407.6" r="4.25"/><circle cx="279.3" cy="453.2" r="4.25"/><circle cx="304.5" cy="417.0" r="4.25"/><circle cx="289.2" cy="365.7" r="4.25"/><circle cx="274.6" cy="371.0" r="4.25"/><circle cx="273.9" cy="413.5" r="4.25"/><circle cx="291.3" cy="473.5" r="4.25"/><circle cx="300.3" cy="345.2" r="4.25"/><circle cx="284.9" cy="404.1" r="4.25"/><circle cx="302.9" cy="479.5" r="4.25"/><circle cx="281.0" cy="476.0" r="4.25"/><circle cx="291.9" cy="356.6" r="4.25"/><circle cx="298.7" cy="466.6" r="4.25"/><circle cx="276.6" cy="496.2" r="4.25"/><circle cx="293.1" cy="479.0" r="4.25"/><circle cx="277.4" cy="537.9" r="4.25"/><circle cx="295.8" cy="468.5" r="4.25"/><circle cx="285.2" cy="454.2" r="4.25"/><circle cx="284.7" cy="430.5" r="4.25"/><circle cx="287.9" cy="445.9" r="4.25"/><circle cx="293.6" cy="343.7" r="4.25"/><circle cx="281.2" cy="575.9" r="4.25"/><circle cx="303.9" cy="389.6" r="4.25"/><circle cx="291.6" cy="387.6" r="4.25"/><circle cx="284.0" cy="427.1" r="4.25"/><circle cx="280.9" cy="471.6" r="4.25"/><circle cx="280.6" cy="385.1" r="4.25"/><circle cx="282.8" cy="463.1" r="4.25"/><circle cx="287.0" cy="394.2" r="4.25"/><circle cx="283.3" cy="414.6" r="4.25"/><circle cx="285.8" cy="464.0" r="4.25"/><circle cx="275.3" cy="463.6" r="4.25"/><circle cx="278.1" cy="398.9" r="4.25"/><circle cx="274.1" cy="382.9" r="4.25"/><circle cx="292.0" cy="381.4" r="4.25"/><circle cx="273.7" cy="508.2" r="4.25"/><circle cx="293.3" cy="472.3" r="4.25"/><circle cx="304.3" cy="442.6" r="4.25"/><circle cx="285.1" cy="495.4" r="4.25"/><circle cx="285.6" cy="444.9" r="4.25"/><circle cx="299.9" cy="439.2" r="4.25"/><circle cx="287.2" cy="452.6" r="4.25"/><circle cx="282.4" cy="486.8" r="4.25"/><circle cx="284.6" cy="484.2" r="4.25"/><circle cx="289.8" cy="537.5" r="4.25"/><circle cx="277.6" cy="510.5" r="4.25"/><circle cx="280.2" cy="378.9" r="4.25"/><circle cx="277.8" cy="455.9" r="4.25"/><circle cx="293.8" cy="362.5" r="4.25"/><circle cx="293.8" cy="425.0" r="4.25"/><circle cx="283.1" cy="425.2" r="4.25"/><circle cx="299.6" cy="397.5" r="4.25"/><circle cx="271.1" cy="397.3" r="4.25"/><circle cx="302.5" cy="354.4" r="4.25"/><circle cx="272.1" cy="420.1" r="4.25"/><circle cx="273.6" cy="473.6" r="4.25"/><circle cx="295.3" cy="448.5" r="4.25"/><circle cx="304.0" cy="420.5" r="4.25"/><circle cx="275.5" cy="483.7" r="4.25"/><circle cx="296.4" cy="429.5" r="4.25"/><circle cx="278.0" cy="465.8" r="4.25"/><circle cx="282.7" cy="349.2" r="4.25"/><circle cx="274.9" cy="414.9" r="4.25"/><circle cx="304.0" cy="320.2" r="4.25"/><circle cx="273.0" cy="513.1" r="4.25"/><circle cx="289.3" cy="408.2" r="4.25"/><circle cx="279.2" cy="523.5" r="4.25"/><circle cx="275.9" cy="525.4" r="4.25"/><circle cx="302.8" cy="414.1" r="4.25"/><circle cx="278.0" cy="372.7" r="4.25"/><circle cx="280.8" cy="441.8" r="4.25"/><circle cx="281.1" cy="369.6" r="4.25"/><circle cx="280.9" cy="461.6" r="4.25"/><circle cx="292.1" cy="450.8" r="4.25"/><circle cx="302.9" cy="399.5" r="4.25"/><circle cx="273.7" cy="443.8" r="4.25"/><circle cx="290.4" cy="559.9" r="4.25"/><circle cx="276.9" cy="428.5" r="4.25"/><circle cx="290.9" cy="420.1" r="4.25"/><circle cx="282.1" cy="513.2" r="4.25"/><circle cx="288.4" cy="492.1" r="4.25"/><circle cx="302.9" cy="512.2" r="4.25"/><circle cx="299.1" cy="448.8" r="4.25"/><circle cx="279.6" cy="442.5" r="4.25"/><circle cx="279.8" cy="432.0" r="4.25"/><circle cx="273.3" cy="486.5" r="4.25"/><circle cx="284.9" cy="454.5" r="4.25"/><circle cx="291.4" cy="445.5" r="4.25"/><circle cx="272.7" cy="443.0" r="4.25"/><circle cx="276.4" cy="423.6" r="4.25"/><circle cx="285.0" cy="489.6" r="4.25"/><circle cx="271.4" cy="469.2" r="4.25"/><circle cx="302.0" cy="424.1" r="4.25"/><circle cx="288.6" cy="505.4" r="4.25"/><circle cx="296.0" cy="484.5" r="4.25"/><circle cx="299.8" cy="392.9" r="4.25"/><circle cx="280.2" cy="458.5" r="4.25"/><circle cx="276.3" cy="545.0" r="4.25"/><circle cx="279.8" cy="353.3" r="4.25"/><circle cx="303.6" cy="504.3" r="4.25"/><circle cx="284.7" cy="405.0" r="4.25"/><circle cx="272.0" cy="381.5" r="4.25"/><circle cx="302.7" cy="460.7" r="4.25"/><circle cx="283.5" cy="387.4" r="4.25"/><circle cx="282.1" cy="548.9" r="4.25"/><circle cx="285.1" cy="446.5" r="4.25"/><circle cx="295.9" cy="467.9" r="4.25"/><circle cx="273.1" cy="346.5" r="4.25"/><circle cx="300.5" cy="443.6" r="4.25"/><circle cx="290.8" cy="434.9" r="4.25"/><circle cx="303.4" cy="360.5" r="4.25"/><circle cx="284.5" cy="411.5" r="4.25"/><circle cx="278.6" cy="446.9" r="4.25"/><circle cx="273.6" cy="412.5" r="4.25"/><circle cx="279.0" cy="409.7" r="4.25"/><circle cx="280.2" cy="566.3" r="4.25"/><circle cx="277.0" cy="520.4" r="4.25"/><circle cx="298.1" cy="368.6" r="4.25"/><circle cx="287.8" cy="460.9" r="4.25"/><circle cx="300.2" cy="445.8" r="4.25"/><circle cx="273.8" cy="449.0" r="4.25"/><circle cx="285.7" cy="371.6" r="4.25"/><circle cx="284.7" cy="464.2" r="4.25"/><circle cx="273.5" cy="390.5" r="4.25"/><circle cx="276.1" cy="462.2" r="4.25"/><circle cx="275.9" cy="428.2" r="4.25"/><circle cx="271.3" cy="472.1" r="4.25"/><circle cx="281.6" cy="376.9" r="4.25"/><circle cx="278.9" cy="486.6" r="4.25"/><circle cx="285.9" cy="380.0" r="4.25"/><circle cx="302.7" cy="474.1" r="4.25"/><circle cx="280.6" cy="509.4" r="4.25"/><circle cx="273.6" cy="423.4" r="4.25"/><circle cx="286.1" cy="377.2" r="4.25"/><circle cx="287.9" cy="385.8" r="4.25"/><circle cx="271.8" cy="441.2" r="4.25"/><circle cx="275.1" cy="377.3" r="4.25"/><circle cx="295.0" cy="459.1" r="4.25"/><circle cx="299.4" cy="490.5" r="4.25"/><circle cx="302.5" cy="389.5" r="4.25"/><circle cx="283.3" cy="462.1" r="4.25"/><circle cx="276.9" cy="487.9" r="4.25"/><circle cx="279.7" cy="491.1" r="4.25"/><circle cx="303.0" cy="471.8" r="4.25"/><circle cx="272.8" cy="469.0" r="4.25"/><circle cx="285.5" cy="457.2" r="4.25"/><circle cx="301.9" cy="478.4" r="4.25"/><circle cx="285.9" cy="378.6" r="4.25"/><circle cx="278.6" cy="410.3" r="4.25"/><circle cx="295.9" cy="580.2" r="4.25"/><circle cx="273.5" cy="461.7" r="4.25"/><circle cx="301.8" cy="383.8" r="4.25"/><circle cx="277.7" cy="426.9" r="4.25"/><circle cx="279.9" cy="373.4" r="4.25"/><circle cx="276.8" cy="418.4" r="4.25"/><circle cx="274.0" cy="436.0" r="4.25"/><circle cx="301.9" cy="364.8" r="4.25"/><circle cx="275.6" cy="394.9" r="4.25"/><circle cx="280.8" cy="423.3" r="4.25"/><circle cx="301.5" cy="533.3" r="4.25"/><circle cx="290.2" cy="447.7" r="4.25"/><circle cx="297.4" cy="439.5" r="4.25"/><circle cx="286.1" cy="397.2" r="4.25"/><circle cx="284.0" cy="467.0" r="4.25"/><circle cx="303.4" cy="453.6" r="4.25"/><circle cx="276.4" cy="429.0" r="4.25"/><circle cx="301.4" cy="389.3" r="4.25"/><circle cx="300.2" cy="426.7" r="4.25"/><circle cx="288.5" cy="364.3" r="4.25"/><circle cx="300.8" cy="507.5" r="4.25"/><circle cx="297.1" cy="434.9" r="4.25"/><circle cx="285.4" cy="444.3" r="4.25"/><circle cx="303.3" cy="390.4" r="4.25"/><circle cx="297.8" cy="421.3" r="4.25"/><circle cx="286.3" cy="455.5" r="4.25"/><circle cx="282.5" cy="476.5" r="4.25"/><circle cx="285.0" cy="456.5" r="4.25"/><circle cx="294.8" cy="416.5" r="4.25"/><circle cx="300.7" cy="362.4" r="4.25"/><circle cx="289.7" cy="428.4" r="4.25"/><circle cx="284.2" cy="473.0" r="4.25"/><circle cx="298.5" cy="410.4" r="4.25"/><circle cx="271.2" cy="449.3" r="4.25"/><circle cx="273.0" cy="521.1" r="4.25"/><circle cx="300.5" cy="483.8" r="4.25"/><circle cx="287.1" cy="390.3" r="4.25"/><circle cx="297.1" cy="442.4" r="4.25"/><circle cx="281.9" cy="226.0" r="4.25"/><circle cx="301.3" cy="463.4" r="4.25"/><circle cx="285.9" cy="401.7" r="4.25"/><circle cx="303.1" cy="472.0" r="4.25"/><circle cx="292.7" cy="480.4" r="4.25"/><circle cx="272.8" cy="398.6" r="4.25"/><circle cx="272.0" cy="362.2" r="4.25"/><circle cx="279.6" cy="487.1" r="4.25"/><circle cx="284.5" cy="465.7" r="4.25"/><circle cx="303.0" cy="435.0" r="4.25"/><circle cx="286.0" cy="443.1" r="4.25"/><circle cx="303.2" cy="367.3" r="4.25"/><circle cx="287.9" cy="470.9" r="4.25"/><circle cx="300.7" cy="460.1" r="4.25"/><circle cx="281.0" cy="448.5" r="4.25"/><circle cx="273.4" cy="424.4" r="4.25"/><circle cx="304.3" cy="579.4" r="4.25"/><circle cx="282.3" cy="465.6" r="4.25"/><circle cx="279.1" cy="474.9" r="4.25"/><circle cx="290.9" cy="480.0" r="4.25"/><circle cx="271.9" cy="382.3" r="4.25"/><circle cx="289.3" cy="410.8" r="4.25"/><circle cx="298.4" cy="402.3" r="4.25"/><circle cx="280.1" cy="388.1" r="4.25"/><circle cx="299.6" cy="421.9" r="4.25"/><circle cx="291.6" cy="506.5" r="4.25"/><circle cx="303.8" cy="506.1" r="4.25"/><circle cx="282.0" cy="392.3" r="4.25"/><circle cx="278.9" cy="479.5" r="4.25"/><circle cx="301.6" cy="461.0" r="4.25"/><circle cx="287.5" cy="437.0" r="4.25"/><circle cx="294.0" cy="523.7" r="4.25"/><circle cx="293.0" cy="459.2" r="4.25"/><circle cx="271.7" cy="384.2" r="4.25"/><circle cx="299.1" cy="270.4" r="4.25"/><circle cx="289.0" cy="498.3" r="4.25"/><circle cx="295.5" cy="415.2" r="4.25"/><circle cx="279.9" cy="466.9" r="4.25"/><circle cx="296.3" cy="436.4" r="4.25"/><circle cx="281.7" cy="431.1" r="4.25"/><circle cx="282.2" cy="424.9" r="4.25"/><circle cx="282.1" cy="463.0" r="4.25"/><circle cx="294.0" cy="380.3" r="4.25"/><circle cx="281.3" cy="407.2" r="4.25"/><circle cx="290.6" cy="402.7" r="4.25"/><circle cx="272.6" cy="501.2" r="4.25"/><circle cx="271.8" cy="446.7" r="4.25"/><circle cx="295.1" cy="378.4" r="4.25"/><circle cx="277.0" cy="429.1" r="4.25"/><circle cx="297.7" cy="404.6" r="4.25"/><circle cx="276.1" cy="449.5" r="4.25"/><circle cx="279.1" cy="309.8" r="4.25"/><circle cx="293.5" cy="476.5" r="4.25"/><circle cx="281.5" cy="560.4" r="4.25"/><circle cx="280.0" cy="446.2" r="4.25"/><circle cx="291.6" cy="426.3" r="4.25"/><circle cx="291.5" cy="387.2" r="4.25"/><circle cx="271.6" cy="538.8" r="4.25"/><circle cx="276.3" cy="485.2" r="4.25"/><circle cx="275.1" cy="437.6" r="4.25"/><circle cx="290.3" cy="387.7" r="4.25"/><circle cx="282.8" cy="361.3" r="4.25"/><circle cx="293.5" cy="486.1" r="4.25"/><circle cx="304.5" cy="514.9" r="4.25"/><circle cx="271.4" cy="420.4" r="4.25"/><circle cx="278.5" cy="498.7" r="4.25"/><circle cx="289.5" cy="495.1" r="4.25"/><circle cx="277.8" cy="383.2" r="4.25"/><circle cx="283.9" cy="407.0" r="4.25"/><circle cx="286.6" cy="369.0" r="4.25"/><circle cx="272.3" cy="426.8" r="4.25"/><circle cx="300.0" cy="402.1" r="4.25"/><circle cx="299.8" cy="497.0" r="4.25"/><circle cx="300.3" cy="406.3" r="4.25"/><circle cx="292.6" cy="450.5" r="4.25"/><circle cx="290.7" cy="408.9" r="4.25"/><circle cx="296.1" cy="364.0" r="4.25"/><circle cx="295.5" cy="412.7" r="4.25"/><circle cx="293.6" cy="356.9" r="4.25"/><circle cx="294.9" cy="470.3" r="4.25"/><circle cx="304.7" cy="434.7" r="4.25"/><circle cx="300.6" cy="393.5" r="4.25"/><circle cx="291.3" cy="440.6" r="4.25"/><circle cx="304.7" cy="413.2" r="4.25"/><circle cx="304.2" cy="454.9" r="4.25"/><circle cx="298.6" cy="464.3" r="4.25"/><circle cx="290.0" cy="430.8" r="4.25"/><circle cx="296.6" cy="455.4" r="4.25"/><circle cx="287.9" cy="412.8" r="4.25"/><circle cx="276.4" cy="429.3" r="4.25"/><circle cx="275.7" cy="456.3" r="4.25"/><circle cx="299.4" cy="334.2" r="4.25"/><circle cx="284.9" cy="400.6" r="4.25"/><circle cx="281.9" cy="468.8" r="4.25"/><circle cx="295.1" cy="489.0" r="4.25"/><circle cx="280.0" cy="414.4" r="4.25"/><circle cx="281.4" cy="478.9" r="4.25"/><circle cx="284.9" cy="482.4" r="4.25"/><circle cx="293.7" cy="344.2" r="4.25"/><circle cx="291.6" cy="429.4" r="4.25"/><circle cx="271.9" cy="443.7" r="4.25"/><circle cx="275.9" cy="391.1" r="4.25"/><circle cx="286.9" cy="418.5" r="4.25"/><circle cx="295.6" cy="489.6" r="4.25"/><circle cx="276.6" cy="373.5" r="4.25"/><circle cx="281.9" cy="349.7" r="4.25"/><circle cx="292.7" cy="438.6" r="4.25"/><circle cx="302.2" cy="291.4" r="4.25"/><circle cx="287.3" cy="477.4" r="4.25"/><circle cx="276.6" cy="398.7" r="4.25"/><circle cx="277.7" cy="357.9" r="4.25"/><circle cx="275.6" cy="393.7" r="4.25"/><circle cx="285.8" cy="434.3" r="4.25"/><circle cx="295.2" cy="441.3" r="4.25"/><circle cx="284.2" cy="428.9" r="4.25"/><circle cx="293.7" cy="397.8" r="4.25"/><circle cx="296.2" cy="416.1" r="4.25"/><circle cx="278.2" cy="488.6" r="4.25"/><circle cx="295.1" cy="437.5" r="4.25"/><circle cx="286.3" cy="476.7" r="4.25"/><circle cx="297.6" cy="390.0" r="4.25"/><circle cx="295.5" cy="274.4" r="4.25"/><circle cx="297.5" cy="433.2" r="4.25"/><circle cx="276.9" cy="556.9" r="4.25"/><circle cx="298.3" cy="418.4" r="4.25"/><circle cx="287.3" cy="512.0" r="4.25"/><circle cx="300.2" cy="508.0" r="4.25"/><circle cx="293.7" cy="472.9" r="4.25"/><circle cx="289.2" cy="380.1" r="4.25"/><circle cx="276.3" cy="410.3" r="4.25"/><circle cx="291.4" cy="293.1" r="4.25"/><circle cx="291.7" cy="437.9" r="4.25"/><circle cx="290.1" cy="472.8" r="4.25"/><circle cx="297.3" cy="407.6" r="4.25"/><circle cx="297.1" cy="508.4" r="4.25"/><circle cx="284.6" cy="359.5" r="4.25"/><circle cx="286.7" cy="387.6" r="4.25"/><circle cx="274.8" cy="457.7" r="4.25"/><circle cx="304.6" cy="440.4" r="4.25"/><circle cx="304.0" cy="432.4" r="4.25"/><circle cx="276.5" cy="424.3" r="4.25"/><circle cx="299.5" cy="368.7" r="4.25"/><circle cx="273.6" cy="425.6" r="4.25"/><circle cx="277.1" cy="400.7" r="4.25"/><circle cx="290.0" cy="307.3" r="4.25"/><circle cx="282.4" cy="399.8" r="4.25"/><circle cx="291.7" cy="486.4" r="4.25"/><circle cx="289.8" cy="369.0" r="4.25"/><circle cx="285.3" cy="359.2" r="4.25"/><circle cx="272.6" cy="421.5" r="4.25"/><circle cx="299.2" cy="403.6" r="4.25"/><circle cx="284.4" cy="353.8" r="4.25"/><circle cx="274.4" cy="438.3" r="4.25"/><circle cx="287.1" cy="458.7" r="4.25"/><circle cx="272.4" cy="394.0" r="4.25"/><circle cx="276.9" cy="374.3" r="4.25"/><circle cx="280.4" cy="458.6" r="4.25"/><circle cx="296.9" cy="501.4" r="4.25"/><circle cx="294.7" cy="501.9" r="4.25"/><circle cx="294.6" cy="531.9" r="4.25"/><circle cx="291.1" cy="340.7" r="4.25"/><circle cx="298.6" cy="505.7" r="4.25"/><circle cx="287.7" cy="442.4" r="4.25"/><circle cx="299.4" cy="448.9" r="4.25"/><circle cx="271.6" cy="301.6" r="4.25"/><circle cx="287.8" cy="511.7" r="4.25"/><circle cx="280.7" cy="394.1" r="4.25"/><circle cx="284.7" cy="381.1" r="4.25"/><circle cx="301.8" cy="451.1" r="4.25"/><circle cx="271.6" cy="394.6" r="4.25"/><circle cx="271.0" cy="380.2" r="4.25"/><circle cx="296.4" cy="434.4" r="4.25"/><circle cx="282.2" cy="514.0" r="4.25"/><circle cx="298.9" cy="431.4" r="4.25"/><circle cx="290.2" cy="425.0" r="4.25"/><circle cx="290.7" cy="518.2" r="4.25"/><circle cx="288.9" cy="422.0" r="4.25"/><circle cx="303.6" cy="452.2" r="4.25"/><circle cx="291.2" cy="459.5" r="4.25"/><circle cx="295.7" cy="467.4" r="4.25"/><circle cx="283.1" cy="407.4" r="4.25"/><circle cx="282.5" cy="408.4" r="4.25"/><circle cx="296.2" cy="336.8" r="4.25"/><circle cx="299.3" cy="461.1" r="4.25"/><circle cx="289.2" cy="529.7" r="4.25"/><circle cx="294.1" cy="346.7" r="4.25"/><circle cx="301.8" cy="544.4" r="4.25"/><circle cx="295.1" cy="470.6" r="4.25"/><circle cx="288.4" cy="450.3" r="4.25"/><circle cx="297.2" cy="435.8" r="4.25"/><circle cx="298.2" cy="472.9" r="4.25"/><circle cx="275.9" cy="478.4" r="4.25"/><circle cx="295.6" cy="409.0" r="4.25"/><circle cx="295.7" cy="502.1" r="4.25"/><circle cx="301.6" cy="420.7" r="4.25"/><circle cx="288.1" cy="491.2" r="4.25"/><circle cx="284.5" cy="485.9" r="4.25"/><circle cx="284.2" cy="391.5" r="4.25"/><circle cx="291.9" cy="457.3" r="4.25"/><circle cx="285.2" cy="445.4" r="4.25"/><circle cx="297.2" cy="362.8" r="4.25"/><circle cx="276.4" cy="411.4" r="4.25"/><circle cx="273.4" cy="404.9" r="4.25"/><circle cx="290.9" cy="229.6" r="4.25"/><circle cx="277.9" cy="415.5" r="4.25"/><circle cx="304.0" cy="435.1" r="4.25"/><circle cx="302.8" cy="420.2" r="4.25"/><circle cx="278.2" cy="451.2" r="4.25"/><circle cx="299.5" cy="475.1" r="4.25"/><circle cx="278.5" cy="492.6" r="4.25"/><circle cx="277.9" cy="465.7" r="4.25"/><circle cx="299.5" cy="532.5" r="4.25"/><circle cx="275.8" cy="550.1" r="4.25"/><circle cx="299.8" cy="477.1" r="4.25"/><circle cx="290.1" cy="444.4" r="4.25"/><circle cx="294.2" cy="429.2" r="4.25"/><circle cx="301.1" cy="382.5" r="4.25"/><circle cx="282.6" cy="495.6" r="4.25"/><circle cx="302.9" cy="491.3" r="4.25"/><circle cx="279.5" cy="445.8" r="4.25"/><circle cx="287.2" cy="388.5" r="4.25"/><circle cx="299.8" cy="436.1" r="4.25"/><circle cx="271.9" cy="440.5" r="4.25"/><circle cx="294.0" cy="575.4" r="4.25"/><circle cx="273.7" cy="366.5" r="4.25"/><circle cx="283.5" cy="285.4" r="4.25"/><circle cx="271.9" cy="435.7" r="4.25"/><circle cx="296.1" cy="449.5" r="4.25"/><circle cx="291.8" cy="458.5" r="4.25"/><circle cx="278.1" cy="503.5" r="4.25"/><circle cx="283.4" cy="400.2" r="4.25"/><circle cx="300.4" cy="477.9" r="4.25"/><circle cx="289.6" cy="392.8" r="4.25"/><circle cx="302.5" cy="439.7" r="4.25"/><circle cx="287.3" cy="385.7" r="4.25"/><circle cx="271.4" cy="418.8" r="4.25"/><circle cx="278.5" cy="453.7" r="4.25"/><circle cx="284.3" cy="434.3" r="4.25"/><circle cx="272.0" cy="366.8" r="4.25"/><circle cx="282.7" cy="440.7" r="4.25"/><circle cx="276.0" cy="443.6" r="4.25"/><circle cx="283.3" cy="406.2" r="4.25"/><circle cx="293.4" cy="381.1" r="4.25"/><circle cx="280.2" cy="441.6" r="4.25"/><circle cx="288.2" cy="413.7" r="4.25"/><circle cx="273.3" cy="426.7" r="4.25"/><circle cx="271.9" cy="453.2" r="4.25"/><circle cx="301.7" cy="393.7" r="4.25"/><circle cx="299.9" cy="455.1" r="4.25"/><circle cx="294.1" cy="386.4" r="4.25"/><circle cx="282.9" cy="412.5" r="4.25"/><circle cx="277.9" cy="469.5" r="4.25"/><circle cx="290.2" cy="451.2" r="4.25"/><circle cx="274.3" cy="464.9" r="4.25"/><circle cx="299.4" cy="529.4" r="4.25"/><circle cx="290.2" cy="486.2" r="4.25"/><circle cx="284.2" cy="374.9" r="4.25"/><circle cx="297.3" cy="412.9" r="4.25"/><circle cx="289.3" cy="446.8" r="4.25"/><circle cx="274.6" cy="487.4" r="4.25"/><circle cx="283.5" cy="367.7" r="4.25"/><circle cx="273.8" cy="475.0" r="4.25"/><circle cx="300.4" cy="459.3" r="4.25"/><circle cx="302.5" cy="471.6" r="4.25"/><circle cx="277.3" cy="432.4" r="4.25"/><circle cx="298.2" cy="385.5" r="4.25"/><circle cx="303.8" cy="507.9" r="4.25"/><circle cx="288.0" cy="457.6" r="4.25"/><circle cx="300.2" cy="477.6" r="4.25"/><circle cx="276.0" cy="506.9" r="4.25"/><circle cx="293.6" cy="510.4" r="4.25"/><circle cx="272.3" cy="513.8" r="4.25"/><circle cx="276.4" cy="595.0" r="4.25"/><circle cx="298.1" cy="405.5" r="4.25"/><circle cx="298.0" cy="571.3" r="4.25"/><circle cx="278.3" cy="439.5" r="4.25"/><circle cx="280.9" cy="422.8" r="4.25"/><circle cx="289.4" cy="428.6" r="4.25"/><circle cx="273.4" cy="444.2" r="4.25"/><circle cx="278.0" cy="419.3" r="4.25"/><circle cx="279.0" cy="478.6" r="4.25"/><circle cx="304.0" cy="443.5" r="4.25"/><circle cx="295.9" cy="495.9" r="4.25"/><circle cx="297.3" cy="538.2" r="4.25"/><circle cx="298.4" cy="359.6" r="4.25"/><circle cx="290.4" cy="357.1" r="4.25"/><circle cx="275.2" cy="459.8" r="4.25"/><circle cx="271.0" cy="460.3" r="4.25"/><circle cx="301.0" cy="445.3" r="4.25"/><circle cx="289.5" cy="412.6" r="4.25"/><circle cx="301.1" cy="468.2" r="4.25"/><circle cx="285.3" cy="462.8" r="4.25"/><circle cx="285.2" cy="415.4" r="4.25"/><circle cx="302.1" cy="419.7" r="4.25"/><circle cx="297.7" cy="407.0" r="4.25"/><circle cx="273.7" cy="400.5" r="4.25"/><circle cx="274.8" cy="417.4" r="4.25"/><circle cx="297.7" cy="509.0" r="4.25"/><circle cx="297.6" cy="414.3" r="4.25"/><circle cx="273.6" cy="453.5" r="4.25"/><circle cx="301.8" cy="427.6" r="4.25"/><circle cx="283.8" cy="412.2" r="4.25"/><circle cx="298.0" cy="480.3" r="4.25"/><circle cx="300.3" cy="454.8" r="4.25"/><circle cx="288.8" cy="480.6" r="4.25"/><circle cx="281.9" cy="395.4" r="4.25"/><circle cx="301.6" cy="565.0" r="4.25"/><circle cx="278.1" cy="452.4" r="4.25"/><circle cx="291.0" cy="445.9" r="4.25"/><circle cx="286.3" cy="477.7" r="4.25"/><circle cx="285.2" cy="397.9" r="4.25"/><circle cx="301.2" cy="355.4" r="4.25"/><circle cx="283.3" cy="450.4" r="4.25"/><circle cx="303.4" cy="440.9" r="4.25"/><circle cx="282.0" cy="491.0" r="4.25"/><circle cx="292.0" cy="473.2" r="4.25"/><circle cx="302.8" cy="347.1" r="4.25"/><circle cx="275.4" cy="448.6" r="4.25"/><circle cx="277.8" cy="433.8" r="4.25"/><circle cx="296.8" cy="539.0" r="4.25"/><circle cx="304.7" cy="506.1" r="4.25"/><circle cx="284.2" cy="573.5" r="4.25"/><circle cx="271.0" cy="498.4" r="4.25"/><circle cx="284.0" cy="479.3" r="4.25"/><circle cx="293.8" cy="487.0" r="4.25"/><circle cx="278.1" cy="348.8" r="4.25"/><circle cx="295.8" cy="479.7" r="4.25"/><circle cx="304.3" cy="411.0" r="4.25"/><circle cx="293.4" cy="410.5" r="4.25"/><circle cx="300.6" cy="473.9" r="4.25"/><circle cx="272.7" cy="487.6" r="4.25"/><circle cx="297.4" cy="379.9" r="4.25"/><circle cx="284.5" cy="381.2" r="4.25"/><circle cx="282.2" cy="474.7" r="4.25"/><circle cx="299.1" cy="400.9" r="4.25"/><circle cx="294.0" cy="342.6" r="4.25"/><circle cx="299.3" cy="436.0" r="4.25"/><circle cx="301.7" cy="417.6" r="4.25"/><circle cx="283.3" cy="417.1" r="4.25"/><circle cx="279.4" cy="587.7" r="4.25"/><circle cx="280.9" cy="440.2" r="4.25"/><circle cx="294.9" cy="530.0" r="4.25"/><circle cx="280.5" cy="385.0" r="4.25"/><circle cx="300.1" cy="504.8" r="4.25"/><circle cx="285.0" cy="372.7" r="4.25"/><circle cx="279.4" cy="417.3" r="4.25"/><circle cx="283.6" cy="498.8" r="4.25"/><circle cx="286.2" cy="421.7" r="4.25"/><circle cx="289.2" cy="417.0" r="4.25"/><circle cx="302.2" cy="460.2" r="4.25"/><circle cx="303.2" cy="438.3" r="4.25"/><circle cx="300.8" cy="434.2" r="4.25"/><circle cx="280.4" cy="381.9" r="4.25"/><circle cx="297.5" cy="509.9" r="4.25"/><circle cx="273.3" cy="430.0" r="4.25"/><circle cx="273.8" cy="439.3" r="4.25"/><circle cx="301.2" cy="401.9" r="4.25"/><circle cx="276.7" cy="420.2" r="4.25"/><circle cx="277.9" cy="405.2" r="4.25"/><circle cx="303.0" cy="395.1" r="4.25"/><circle cx="302.5" cy="536.8" r="4.25"/><circle cx="271.6" cy="469.0" r="4.25"/><circle cx="271.4" cy="445.0" r="4.25"/><circle cx="299.6" cy="302.3" r="4.25"/><circle cx="273.5" cy="448.2" r="4.25"/><circle cx="294.3" cy="404.4" r="4.25"/><circle cx="298.9" cy="487.9" r="4.25"/><circle cx="283.2" cy="274.0" r="4.25"/><circle cx="290.8" cy="421.4" r="4.25"/><circle cx="280.7" cy="421.0" r="4.25"/><circle cx="299.7" cy="503.7" r="4.25"/><circle cx="298.2" cy="434.1" r="4.25"/><circle cx="290.7" cy="443.3" r="4.25"/><circle cx="281.1" cy="526.1" r="4.25"/><circle cx="287.1" cy="445.2" r="4.25"/><circle cx="283.7" cy="509.6" r="4.25"/><circle cx="300.9" cy="425.3" r="4.25"/><circle cx="283.6" cy="358.7" r="4.25"/><circle cx="293.8" cy="388.8" r="4.25"/><circle cx="285.7" cy="383.6" r="4.25"/><circle cx="280.0" cy="515.5" r="4.25"/><circle cx="276.4" cy="441.5" r="4.25"/><circle cx="290.7" cy="304.5" r="4.25"/><circle cx="298.5" cy="392.1" r="4.25"/><circle cx="274.9" cy="408.0" r="4.25"/><circle cx="277.7" cy="528.4" r="4.25"/><circle cx="280.7" cy="369.2" r="4.25"/><circle cx="296.9" cy="422.6" r="4.25"/><circle cx="280.9" cy="391.8" r="4.25"/><circle cx="301.1" cy="502.5" r="4.25"/><circle cx="290.2" cy="464.5" r="4.25"/><circle cx="285.8" cy="399.1" r="4.25"/><circle cx="291.9" cy="506.6" r="4.25"/><circle cx="280.9" cy="431.5" r="4.25"/><circle cx="271.7" cy="565.4" r="4.25"/><circle cx="281.4" cy="353.6" r="4.25"/><circle cx="287.8" cy="451.9" r="4.25"/><circle cx="277.7" cy="549.7" r="4.25"/><circle cx="300.6" cy="341.8" r="4.25"/><circle cx="289.5" cy="492.2" r="4.25"/><circle cx="296.8" cy="410.9" r="4.25"/><circle cx="300.6" cy="378.4" r="4.25"/><circle cx="293.7" cy="348.4" r="4.25"/><circle cx="295.1" cy="375.7" r="4.25"/><circle cx="272.7" cy="517.4" r="4.25"/><circle cx="301.8" cy="446.3" r="4.25"/><circle cx="280.8" cy="354.1" r="4.25"/><circle cx="276.0" cy="441.9" r="4.25"/><circle cx="275.7" cy="400.4" r="4.25"/><circle cx="278.2" cy="427.5" r="4.25"/><circle cx="295.0" cy="389.9" r="4.25"/><circle cx="294.2" cy="478.1" r="4.25"/><circle cx="304.2" cy="434.9" r="4.25"/><circle cx="303.0" cy="388.3" r="4.25"/><circle cx="293.7" cy="402.2" r="4.25"/><circle cx="289.9" cy="437.8" r="4.25"/><circle cx="286.7" cy="389.0" r="4.25"/><circle cx="289.8" cy="447.2" r="4.25"/><circle cx="294.9" cy="558.8" r="4.25"/><circle cx="280.1" cy="508.9" r="4.25"/><circle cx="271.7" cy="429.6" r="4.25"/><circle cx="286.1" cy="336.4" r="4.25"/><circle cx="303.3" cy="493.4" r="4.25"/><circle cx="278.3" cy="405.8" r="4.25"/><circle cx="273.8" cy="436.5" r="4.25"/><circle cx="304.1" cy="431.3" r="4.25"/><circle cx="293.7" cy="497.9" r="4.25"/><circle cx="298.1" cy="501.4" r="4.25"/><circle cx="274.8" cy="362.7" r="4.25"/><circle cx="285.4" cy="277.1" r="4.25"/><circle cx="291.9" cy="542.9" r="4.25"/><circle cx="292.7" cy="467.0" r="4.25"/><circle cx="283.7" cy="408.8" r="4.25"/><circle cx="302.2" cy="431.0" r="4.25"/><circle cx="284.4" cy="412.4" r="4.25"/><circle cx="275.6" cy="396.2" r="4.25"/><circle cx="271.9" cy="470.8" r="4.25"/><circle cx="292.2" cy="415.0" r="4.25"/><circle cx="294.2" cy="363.1" r="4.25"/><circle cx="284.0" cy="534.6" r="4.25"/><circle cx="284.5" cy="320.6" r="4.25"/><circle cx="273.8" cy="405.2" r="4.25"/><circle cx="299.1" cy="420.7" r="4.25"/><circle cx="280.6" cy="463.3" r="4.25"/><circle cx="292.8" cy="419.5" r="4.25"/><circle cx="294.0" cy="457.6" r="4.25"/><circle cx="283.0" cy="403.3" r="4.25"/><circle cx="295.3" cy="445.7" r="4.25"/><circle cx="285.1" cy="469.6" r="4.25"/><circle cx="271.1" cy="384.5" r="4.25"/><circle cx="282.8" cy="433.1" r="4.25"/><circle cx="280.4" cy="547.0" r="4.25"/><circle cx="276.2" cy="484.0" r="4.25"/><circle cx="289.3" cy="342.0" r="4.25"/><circle cx="295.7" cy="419.2" r="4.25"/><circle cx="303.5" cy="407.1" r="4.25"/><circle cx="298.6" cy="433.0" r="4.25"/><circle cx="276.3" cy="513.0" r="4.25"/><circle cx="287.9" cy="449.4" r="4.25"/><circle cx="283.5" cy="437.3" r="4.25"/><circle cx="275.3" cy="404.5" r="4.25"/><circle cx="296.1" cy="518.5" r="4.25"/><circle cx="289.9" cy="483.4" r="4.25"/><circle cx="298.0" cy="412.1" r="4.25"/><circle cx="288.2" cy="442.3" r="4.25"/><circle cx="271.4" cy="402.3" r="4.25"/><circle cx="300.3" cy="454.6" r="4.25"/><circle cx="279.7" cy="427.4" r="4.25"/><circle cx="294.7" cy="508.7" r="4.25"/><circle cx="296.2" cy="567.6" r="4.25"/><circle cx="276.5" cy="473.4" r="4.25"/><circle cx="287.1" cy="448.9" r="4.25"/><circle cx="300.8" cy="406.5" r="4.25"/><circle cx="276.9" cy="370.1" r="4.25"/><circle cx="272.8" cy="544.0" r="4.25"/><circle cx="302.7" cy="475.2" r="4.25"/><circle cx="280.7" cy="392.0" r="4.25"/><circle cx="301.3" cy="520.7" r="4.25"/><circle cx="288.7" cy="471.9" r="4.25"/><circle cx="282.6" cy="466.4" r="4.25"/><circle cx="276.9" cy="513.6" r="4.25"/><circle cx="286.8" cy="427.8" r="4.25"/><circle cx="277.2" cy="352.5" r="4.25"/><circle cx="290.2" cy="526.2" r="4.25"/><circle cx="276.9" cy="419.6" r="4.25"/><circle cx="285.7" cy="447.7" r="4.25"/><circle cx="299.2" cy="384.8" r="4.25"/><circle cx="275.2" cy="464.4" r="4.25"/><circle cx="298.7" cy="481.6" r="4.25"/><circle cx="303.8" cy="440.8" r="4.25"/><circle cx="294.7" cy="371.3" r="4.25"/><circle cx="285.6" cy="466.0" r="4.25"/><circle cx="300.3" cy="413.2" r="4.25"/><circle cx="299.7" cy="409.5" r="4.25"/><circle cx="282.7" cy="416.5" r="4.25"/><circle cx="274.9" cy="402.2" r="4.25"/><circle cx="300.5" cy="390.2" r="4.25"/><circle cx="302.0" cy="527.0" r="4.25"/><circle cx="276.2" cy="531.9" r="4.25"/><circle cx="279.1" cy="463.8" r="4.25"/><circle cx="300.0" cy="419.6" r="4.25"/><circle cx="296.9" cy="448.7" r="4.25"/><circle cx="292.2" cy="485.7" r="4.25"/><circle cx="289.2" cy="504.2" r="4.25"/><circle cx="289.5" cy="497.2" r="4.25"/><circle cx="277.7" cy="422.9" r="4.25"/><circle cx="272.6" cy="444.3" r="4.25"/><circle cx="285.9" cy="442.1" r="4.25"/><circle cx="279.9" cy="423.1" r="4.25"/><circle cx="283.2" cy="453.8" r="4.25"/><circle cx="279.5" cy="384.0" r="4.25"/><circle cx="271.5" cy="444.1" r="4.25"/><circle cx="278.9" cy="388.4" r="4.25"/><circle cx="298.4" cy="375.3" r="4.25"/><circle cx="280.1" cy="433.6" r="4.25"/><circle cx="293.3" cy="489.8" r="4.25"/><circle cx="283.4" cy="568.3" r="4.25"/><circle cx="299.1" cy="459.8" r="4.25"/><circle cx="291.4" cy="414.6" r="4.25"/><circle cx="286.9" cy="583.6" r="4.25"/><circle cx="282.6" cy="386.6" r="4.25"/><circle cx="296.0" cy="503.3" r="4.25"/><circle cx="301.0" cy="520.1" r="4.25"/><circle cx="290.7" cy="414.5" r="4.25"/><circle cx="296.5" cy="406.0" r="4.25"/><circle cx="289.1" cy="283.5" r="4.25"/><circle cx="279.4" cy="435.8" r="4.25"/><circle cx="288.1" cy="415.7" r="4.25"/><circle cx="280.1" cy="426.4" r="4.25"/><circle cx="288.2" cy="348.6" r="4.25"/><circle cx="289.5" cy="387.3" r="4.25"/><circle cx="300.4" cy="441.4" r="4.25"/><circle cx="271.8" cy="485.0" r="4.25"/><circle cx="276.8" cy="459.2" r="4.25"/><circle cx="293.9" cy="452.3" r="4.25"/><circle cx="288.6" cy="491.6" r="4.25"/><circle cx="300.6" cy="447.8" r="4.25"/><circle cx="298.6" cy="383.1" r="4.25"/><circle cx="284.0" cy="471.3" r="4.25"/><circle cx="281.8" cy="442.0" r="4.25"/><circle cx="271.8" cy="480.1" r="4.25"/><circle cx="283.3" cy="444.4" r="4.25"/><circle cx="281.0" cy="423.9" r="4.25"/><circle cx="291.8" cy="414.5" r="4.25"/><circle cx="277.1" cy="490.6" r="4.25"/><circle cx="286.3" cy="456.2" r="4.25"/><circle cx="297.8" cy="347.5" r="4.25"/><circle cx="297.6" cy="538.6" r="4.25"/><circle cx="282.6" cy="577.7" r="4.25"/><circle cx="280.9" cy="464.0" r="4.25"/><circle cx="290.3" cy="406.2" r="4.25"/><circle cx="279.3" cy="392.2" r="4.25"/><circle cx="277.5" cy="503.4" r="4.25"/><circle cx="303.4" cy="413.0" r="4.25"/><circle cx="297.6" cy="486.8" r="4.25"/><circle cx="274.5" cy="426.5" r="4.25"/><circle cx="293.0" cy="471.1" r="4.25"/><circle cx="271.8" cy="389.0" r="4.25"/><circle cx="293.8" cy="503.2" r="4.25"/><circle cx="300.6" cy="402.8" r="4.25"/><circle cx="277.5" cy="481.4" r="4.25"/><circle cx="280.7" cy="436.3" r="4.25"/><circle cx="296.3" cy="473.7" r="4.25"/><circle cx="289.9" cy="490.4" r="4.25"/><circle cx="299.3" cy="450.6" r="4.25"/><circle cx="303.6" cy="332.6" r="4.25"/><circle cx="275.8" cy="455.6" r="4.25"/><circle cx="271.6" cy="479.2" r="4.25"/><circle cx="273.0" cy="499.5" r="4.25"/><circle cx="289.6" cy="466.5" r="4.25"/><circle cx="285.9" cy="492.7" r="4.25"/><circle cx="302.2" cy="426.0" r="4.25"/><circle cx="284.7" cy="463.2" r="4.25"/><circle cx="293.5" cy="419.9" r="4.25"/><circle cx="285.2" cy="390.9" r="4.25"/><circle cx="292.9" cy="441.7" r="4.25"/><circle cx="294.5" cy="458.1" r="4.25"/><circle cx="287.2" cy="398.5" r="4.25"/><circle cx="299.5" cy="425.9" r="4.25"/><circle cx="278.7" cy="465.1" r="4.25"/><circle cx="279.9" cy="470.7" r="4.25"/></g><g fill="#a2d2e2" fill-opacity="0.40"><circle cx="399.1" cy="444.6" r="4.25"/><circle cx="416.4" cy="393.4" r="4.25"/><circle cx="400.5" cy="412.4" r="4.25"/><circle cx="405.9" cy="306.6" r="4.25"/><circle cx="399.2" cy="387.7" r="4.25"/><circle cx="405.2" cy="483.7" r="4.25"/><circle cx="395.4" cy="595.3" r="4.25"/><circle cx="397.3" cy="361.4" r="4.25"/><circle cx="389.8" cy="295.2" r="4.25"/><circle cx="386.3" cy="576.0" r="4.25"/><circle cx="412.0" cy="350.4" r="4.25"/><circle cx="399.5" cy="288.3" r="4.25"/><circle cx="385.7" cy="359.6" r="4.25"/><circle cx="397.7" cy="390.1" r="4.25"/><circle cx="384.2" cy="440.3" r="4.25"/><circle cx="399.7" cy="394.0" r="4.25"/><circle cx="384.2" cy="375.8" r="4.25"/><circle cx="393.6" cy="354.8" r="4.25"/><circle cx="411.9" cy="443.6" r="4.25"/><circle cx="409.5" cy="428.0" r="4.25"/><circle cx="387.7" cy="526.6" r="4.25"/><circle cx="402.1" cy="383.3" r="4.25"/><circle cx="416.6" cy="475.6" r="4.25"/><circle cx="409.1" cy="397.2" r="4.25"/><circle cx="407.1" cy="421.0" r="4.25"/><circle cx="413.1" cy="305.0" r="4.25"/><circle cx="400.2" cy="352.9" r="4.25"/><circle cx="402.6" cy="435.5" r="4.25"/><circle cx="411.5" cy="403.0" r="4.25"/><circle cx="394.0" cy="357.3" r="4.25"/><circle cx="406.1" cy="448.8" r="4.25"/><circle cx="397.8" cy="441.8" r="4.25"/><circle cx="396.1" cy="422.1" r="4.25"/><circle cx="401.6" cy="414.5" r="4.25"/><circle cx="404.6" cy="404.8" r="4.25"/><circle cx="391.0" cy="347.4" r="4.25"/><circle cx="417.1" cy="396.3" r="4.25"/><circle cx="390.6" cy="262.9" r="4.25"/><circle cx="386.4" cy="348.8" r="4.25"/><circle cx="384.9" cy="460.6" r="4.25"/><circle cx="395.1" cy="385.9" r="4.25"/><circle cx="393.7" cy="421.9" r="4.25"/><circle cx="417.1" cy="413.4" r="4.25"/><circle cx="409.3" cy="466.7" r="4.25"/><circle cx="405.6" cy="468.3" r="4.25"/><circle cx="386.1" cy="375.0" r="4.25"/><circle cx="413.7" cy="351.3" r="4.25"/><circle cx="385.7" cy="335.6" r="4.25"/><circle cx="409.8" cy="522.6" r="4.25"/><circle cx="389.5" cy="334.1" r="4.25"/><circle cx="390.0" cy="424.3" r="4.25"/><circle cx="394.3" cy="399.5" r="4.25"/><circle cx="384.1" cy="488.7" r="4.25"/><circle cx="411.6" cy="364.2" r="4.25"/><circle cx="414.1" cy="331.6" r="4.25"/><circle cx="394.3" cy="451.3" r="4.25"/><circle cx="399.3" cy="398.7" r="4.25"/><circle cx="399.3" cy="415.0" r="4.25"/><circle cx="413.5" cy="439.4" r="4.25"/><circle cx="401.2" cy="336.9" r="4.25"/><circle cx="415.3" cy="399.9" r="4.25"/><circle cx="411.5" cy="485.6" r="4.25"/><circle cx="399.3" cy="319.6" r="4.25"/><circle cx="407.2" cy="463.6" r="4.25"/><circle cx="396.8" cy="312.3" r="4.25"/><circle cx="403.0" cy="389.8" r="4.25"/><circle cx="409.6" cy="417.9" r="4.25"/><circle cx="417.2" cy="486.2" r="4.25"/><circle cx="391.6" cy="410.1" r="4.25"/><circle cx="408.9" cy="395.1" r="4.25"/><circle cx="410.7" cy="401.4" r="4.25"/><circle cx="390.2" cy="498.4" r="4.25"/><circle cx="413.3" cy="382.9" r="4.25"/><circle cx="405.1" cy="361.9" r="4.25"/><circle cx="395.1" cy="428.5" r="4.25"/><circle cx="400.9" cy="382.5" r="4.25"/><circle cx="408.4" cy="365.0" r="4.25"/><circle cx="395.1" cy="395.9" r="4.25"/><circle cx="401.3" cy="527.7" r="4.25"/><circle cx="395.9" cy="453.9" r="4.25"/><circle cx="401.3" cy="287.1" r="4.25"/><circle cx="412.4" cy="357.8" r="4.25"/><circle cx="389.0" cy="389.0" r="4.25"/><circle cx="389.6" cy="442.5" r="4.25"/><circle cx="399.5" cy="366.3" r="4.25"/><circle cx="412.7" cy="405.7" r="4.25"/><circle cx="391.6" cy="436.2" r="4.25"/><circle cx="408.1" cy="448.0" r="4.25"/><circle cx="388.3" cy="323.7" r="4.25"/><circle cx="385.5" cy="369.8" r="4.25"/><circle cx="413.0" cy="518.5" r="4.25"/><circle cx="403.1" cy="381.3" r="4.25"/><circle cx="416.5" cy="504.6" r="4.25"/><circle cx="415.8" cy="287.1" r="4.25"/><circle cx="398.6" cy="424.1" r="4.25"/><circle cx="399.7" cy="416.9" r="4.25"/><circle cx="397.7" cy="372.1" r="4.25"/><circle cx="398.4" cy="537.4" r="4.25"/><circle cx="416.6" cy="480.3" r="4.25"/><circle cx="404.4" cy="412.8" r="4.25"/><circle cx="411.8" cy="384.4" r="4.25"/><circle cx="388.1" cy="393.3" r="4.25"/><circle cx="412.7" cy="432.5" r="4.25"/><circle cx="414.8" cy="462.3" r="4.25"/><circle cx="388.5" cy="464.0" r="4.25"/><circle cx="412.7" cy="360.7" r="4.25"/><circle cx="413.4" cy="399.2" r="4.25"/><circle cx="393.1" cy="477.2" r="4.25"/><circle cx="414.9" cy="482.6" r="4.25"/><circle cx="414.2" cy="428.8" r="4.25"/><circle cx="394.0" cy="484.2" r="4.25"/><circle cx="407.8" cy="391.0" r="4.25"/><circle cx="388.1" cy="376.4" r="4.25"/><circle cx="388.7" cy="446.4" r="4.25"/><circle cx="408.8" cy="358.6" r="4.25"/><circle cx="416.1" cy="488.6" r="4.25"/><circle cx="409.3" cy="447.2" r="4.25"/><circle cx="397.5" cy="407.9" r="4.25"/><circle cx="406.3" cy="458.8" r="4.25"/><circle cx="396.8" cy="352.1" r="4.25"/><circle cx="408.6" cy="479.2" r="4.25"/><circle cx="386.9" cy="406.4" r="4.25"/><circle cx="385.2" cy="350.2" r="4.25"/><circle cx="409.7" cy="391.7" r="4.25"/><circle cx="394.7" cy="371.8" r="4.25"/><circle cx="390.4" cy="465.0" r="4.25"/><circle cx="402.8" cy="378.2" r="4.25"/><circle cx="393.4" cy="411.4" r="4.25"/><circle cx="417.1" cy="410.0" r="4.25"/><circle cx="403.7" cy="385.1" r="4.25"/><circle cx="414.1" cy="470.5" r="4.25"/><circle cx="398.8" cy="410.8" r="4.25"/><circle cx="397.5" cy="457.4" r="4.25"/><circle cx="385.8" cy="349.3" r="4.25"/><circle cx="399.8" cy="496.6" r="4.25"/><circle cx="389.1" cy="426.7" r="4.25"/><circle cx="405.7" cy="438.1" r="4.25"/><circle cx="407.4" cy="425.0" r="4.25"/><circle cx="392.1" cy="328.8" r="4.25"/><circle cx="406.4" cy="429.7" r="4.25"/><circle cx="397.6" cy="450.9" r="4.25"/><circle cx="386.2" cy="434.2" r="4.25"/><circle cx="405.7" cy="367.9" r="4.25"/><circle cx="385.2" cy="434.0" r="4.25"/><circle cx="391.6" cy="409.4" r="4.25"/><circle cx="388.0" cy="445.8" r="4.25"/><circle cx="403.8" cy="473.5" r="4.25"/><circle cx="400.5" cy="512.8" r="4.25"/><circle cx="398.0" cy="374.3" r="4.25"/><circle cx="397.0" cy="353.6" r="4.25"/><circle cx="412.0" cy="438.9" r="4.25"/><circle cx="410.6" cy="459.0" r="4.25"/><circle cx="415.4" cy="461.5" r="4.25"/><circle cx="386.7" cy="375.3" r="4.25"/><circle cx="402.1" cy="368.5" r="4.25"/><circle cx="384.5" cy="396.9" r="4.25"/><circle cx="404.1" cy="415.8" r="4.25"/><circle cx="388.6" cy="348.0" r="4.25"/><circle cx="388.2" cy="456.7" r="4.25"/><circle cx="410.8" cy="379.8" r="4.25"/><circle cx="413.5" cy="450.3" r="4.25"/><circle cx="402.1" cy="380.4" r="4.25"/><circle cx="384.2" cy="411.9" r="4.25"/><circle cx="404.3" cy="403.4" r="4.25"/><circle cx="413.8" cy="465.5" r="4.25"/><circle cx="412.0" cy="383.8" r="4.25"/><circle cx="391.0" cy="289.2" r="4.25"/><circle cx="393.5" cy="266.7" r="4.25"/><circle cx="388.6" cy="493.9" r="4.25"/><circle cx="398.3" cy="401.0" r="4.25"/><circle cx="413.8" cy="290.6" r="4.25"/><circle cx="399.6" cy="353.0" r="4.25"/><circle cx="414.8" cy="332.2" r="4.25"/><circle cx="388.6" cy="334.9" r="4.25"/><circle cx="413.0" cy="355.9" r="4.25"/><circle cx="411.7" cy="445.3" r="4.25"/><circle cx="405.1" cy="292.8" r="4.25"/><circle cx="408.0" cy="392.8" r="4.25"/><circle cx="392.3" cy="509.8" r="4.25"/><circle cx="416.4" cy="441.2" r="4.25"/><circle cx="405.7" cy="454.1" r="4.25"/><circle cx="415.9" cy="452.3" r="4.25"/><circle cx="394.6" cy="478.0" r="4.25"/><circle cx="403.3" cy="340.7" r="4.25"/><circle cx="409.7" cy="416.4" r="4.25"/><circle cx="415.4" cy="524.0" r="4.25"/><circle cx="399.3" cy="457.0" r="4.25"/><circle cx="390.4" cy="346.8" r="4.25"/><circle cx="393.8" cy="284.4" r="4.25"/><circle cx="391.7" cy="476.2" r="4.25"/><circle cx="393.3" cy="345.5" r="4.25"/><circle cx="416.0" cy="372.7" r="4.25"/><circle cx="398.8" cy="377.1" r="4.25"/><circle cx="397.1" cy="516.1" r="4.25"/><circle cx="413.8" cy="358.8" r="4.25"/><circle cx="396.8" cy="388.3" r="4.25"/><circle cx="384.2" cy="392.4" r="4.25"/><circle cx="413.2" cy="366.1" r="4.25"/><circle cx="400.6" cy="337.1" r="4.25"/><circle cx="387.0" cy="419.0" r="4.25"/><circle cx="414.2" cy="389.1" r="4.25"/><circle cx="406.6" cy="406.3" r="4.25"/><circle cx="402.1" cy="326.2" r="4.25"/><circle cx="402.6" cy="462.7" r="4.25"/><circle cx="408.3" cy="443.0" r="4.25"/><circle cx="415.7" cy="365.4" r="4.25"/><circle cx="395.6" cy="368.7" r="4.25"/><circle cx="399.1" cy="411.7" r="4.25"/><circle cx="391.9" cy="458.1" r="4.25"/><circle cx="411.7" cy="453.5" r="4.25"/><circle cx="408.2" cy="343.9" r="4.25"/><circle cx="390.9" cy="467.7" r="4.25"/><circle cx="385.8" cy="431.9" r="4.25"/><circle cx="403.9" cy="343.7" r="4.25"/><circle cx="399.8" cy="310.6" r="4.25"/><circle cx="398.8" cy="470.0" r="4.25"/><circle cx="386.5" cy="404.3" r="4.25"/><circle cx="401.6" cy="317.1" r="4.25"/><circle cx="397.8" cy="327.9" r="4.25"/><circle cx="397.1" cy="474.9" r="4.25"/><circle cx="395.7" cy="382.0" r="4.25"/><circle cx="402.3" cy="423.8" r="4.25"/><circle cx="410.1" cy="434.9" r="4.25"/><circle cx="385.1" cy="471.8" r="4.25"/><circle cx="399.2" cy="395.7" r="4.25"/><circle cx="384.0" cy="452.8" r="4.25"/><circle cx="384.5" cy="398.4" r="4.25"/><circle cx="389.8" cy="430.2" r="4.25"/><circle cx="415.8" cy="449.9" r="4.25"/><circle cx="407.3" cy="451.6" r="4.25"/><circle cx="414.7" cy="460.9" r="4.25"/><circle cx="399.7" cy="448.2" r="4.25"/><circle cx="405.8" cy="377.4" r="4.25"/><circle cx="415.7" cy="402.3" r="4.25"/><circle cx="396.9" cy="344.9" r="4.25"/><circle cx="393.6" cy="449.2" r="4.25"/><circle cx="404.6" cy="371.2" r="4.25"/><circle cx="403.8" cy="397.6" r="4.25"/><circle cx="398.1" cy="447.0" r="4.25"/><circle cx="398.9" cy="490.9" r="4.25"/><circle cx="406.4" cy="420.5" r="4.25"/><circle cx="384.0" cy="426.7" r="4.25"/><circle cx="385.7" cy="289.8" r="4.25"/><circle cx="401.4" cy="370.3" r="4.25"/><circle cx="409.9" cy="313.4" r="4.25"/><circle cx="399.1" cy="595.3" r="4.25"/><circle cx="385.6" cy="325.9" r="4.25"/><circle cx="385.1" cy="405.3" r="4.25"/><circle cx="399.7" cy="323.2" r="4.25"/><circle cx="408.9" cy="402.1" r="4.25"/><circle cx="391.4" cy="454.6" r="4.25"/><circle cx="390.1" cy="494.8" r="4.25"/><circle cx="394.5" cy="366.8" r="4.25"/><circle cx="399.7" cy="491.6" r="4.25"/><circle cx="410.4" cy="369.5" r="4.25"/><circle cx="415.2" cy="422.7" r="4.25"/><circle cx="398.6" cy="216.3" r="4.25"/><circle cx="408.3" cy="278.0" r="4.25"/><circle cx="417.2" cy="442.0" r="4.25"/><circle cx="410.7" cy="417.4" r="4.25"/><circle cx="390.5" cy="521.7" r="4.25"/><circle cx="417.3" cy="413.7" r="4.25"/><circle cx="391.0" cy="421.5" r="4.25"/><circle cx="417.3" cy="407.7" r="4.25"/><circle cx="403.2" cy="363.5" r="4.25"/><circle cx="393.0" cy="471.0" r="4.25"/><circle cx="406.1" cy="409.1" r="4.25"/><circle cx="411.0" cy="435.9" r="4.25"/><circle cx="395.6" cy="379.2" r="4.25"/><circle cx="384.9" cy="364.1" r="4.25"/><circle cx="412.5" cy="380.5" r="4.25"/><circle cx="409.4" cy="472.8" r="4.25"/><circle cx="398.9" cy="436.8" r="4.25"/><circle cx="411.3" cy="360.2" r="4.25"/><circle cx="394.1" cy="427.4" r="4.25"/><circle cx="413.1" cy="339.6" r="4.25"/><circle cx="387.3" cy="262.9" r="4.25"/><circle cx="401.7" cy="432.1" r="4.25"/><circle cx="413.2" cy="415.3" r="4.25"/><circle cx="409.5" cy="440.1" r="4.25"/><circle cx="383.0" cy="521.3" r="4.25"/><circle cx="410.2" cy="571.5" r="4.25"/><circle cx="408.9" cy="356.1" r="4.25"/><circle cx="384.6" cy="408.3" r="4.25"/><circle cx="400.1" cy="386.1" r="4.25"/><circle cx="393.7" cy="469.3" r="4.25"/><circle cx="407.7" cy="551.8" r="4.25"/><circle cx="410.6" cy="404.0" r="4.25"/><circle cx="387.8" cy="418.3" r="4.25"/><circle cx="392.9" cy="420.0" r="4.25"/><circle cx="417.4" cy="438.0" r="4.25"/><circle cx="383.8" cy="340.5" r="4.25"/><circle cx="387.9" cy="342.6" r="4.25"/><circle cx="396.4" cy="373.9" r="4.25"/><circle cx="411.9" cy="444.5" r="4.25"/><circle cx="415.2" cy="367.4" r="4.25"/><circle cx="384.9" cy="274.5" r="4.25"/><circle cx="394.0" cy="363.0" r="4.25"/><circle cx="390.3" cy="429.5" r="4.25"/><circle cx="396.7" cy="407.0" r="4.25"/><circle cx="409.4" cy="423.2" r="4.25"/><circle cx="394.4" cy="400.4" r="4.25"/><circle cx="391.8" cy="386.9" r="4.25"/><circle cx="409.3" cy="504.8" r="4.25"/><circle cx="401.6" cy="416.2" r="4.25"/><circle cx="406.0" cy="466.2" r="4.25"/><circle cx="397.4" cy="356.7" r="4.25"/><circle cx="406.7" cy="354.4" r="4.25"/><circle cx="390.7" cy="338.5" r="4.25"/><circle cx="391.9" cy="437.5" r="4.25"/><circle cx="386.5" cy="433.2" r="4.25"/><circle cx="397.6" cy="390.5" r="4.25"/><circle cx="395.7" cy="387.1" r="4.25"/><circle cx="406.2" cy="378.8" r="4.25"/><circle cx="391.0" cy="455.4" r="4.25"/><circle cx="413.5" cy="330.6" r="4.25"/><circle cx="405.0" cy="373.2" r="4.25"/><circle cx="403.9" cy="362.5" r="4.25"/><circle cx="408.5" cy="431.0" r="4.25"/><circle cx="396.1" cy="500.4" r="4.25"/><circle cx="410.8" cy="481.5" r="4.25"/><circle cx="403.4" cy="394.7" r="4.25"/><circle cx="385.6" cy="431.5" r="4.25"/><circle cx="408.5" cy="460.0" r="4.25"/><circle cx="404.9" cy="456.0" r="4.25"/><circle cx="410.8" cy="425.9" r="4.25"/><circle cx="387.4" cy="320.7" r="4.25"/><circle cx="398.4" cy="384.8" r="4.25"/><circle cx="395.4" cy="425.3" r="4.25"/><circle cx="406.5" cy="341.8" r="4.25"/><circle cx="390.5" cy="419.3" r="4.25"/><circle cx="384.7" cy="316.2" r="4.25"/><circle cx="389.1" cy="299.4" r="4.25"/></g><g fill="#4a7ebb" fill-opacity="0.32"><circle cx="503.3" cy="424.0" r="4.25"/><circle cx="528.1" cy="523.5" r="4.25"/><circle cx="529.6" cy="374.9" r="4.25"/><circle cx="516.4" cy="411.5" r="4.25"/><circle cx="504.9" cy="414.8" r="4.25"/><circle cx="520.1" cy="497.6" r="4.25"/><circle cx="509.3" cy="394.1" r="4.25"/><circle cx="509.2" cy="408.7" r="4.25"/><circle cx="509.2" cy="366.2" r="4.25"/><circle cx="526.7" cy="351.9" r="4.25"/><circle cx="509.6" cy="406.3" r="4.25"/><circle cx="503.2" cy="429.5" r="4.25"/><circle cx="507.4" cy="388.8" r="4.25"/><circle cx="501.1" cy="392.3" r="4.25"/><circle cx="506.6" cy="446.0" r="4.25"/><circle cx="523.6" cy="393.2" r="4.25"/><circle cx="526.0" cy="487.1" r="4.25"/><circle cx="498.8" cy="415.2" r="4.25"/><circle cx="503.0" cy="398.0" r="4.25"/><circle cx="529.7" cy="392.7" r="4.25"/><circle cx="498.7" cy="410.8" r="4.25"/><circle cx="499.4" cy="406.8" r="4.25"/><circle cx="516.9" cy="416.1" r="4.25"/><circle cx="507.3" cy="334.2" r="4.25"/><circle cx="512.8" cy="518.0" r="4.25"/><circle cx="517.8" cy="355.5" r="4.25"/><circle cx="520.0" cy="341.5" r="4.25"/><circle cx="523.0" cy="381.5" r="4.25"/><circle cx="520.2" cy="239.8" r="4.25"/><circle cx="499.5" cy="332.5" r="4.25"/><circle cx="510.6" cy="425.7" r="4.25"/><circle cx="497.7" cy="408.1" r="4.25"/><circle cx="498.6" cy="334.2" r="4.25"/><circle cx="509.9" cy="380.8" r="4.25"/><circle cx="520.4" cy="391.1" r="4.25"/><circle cx="500.0" cy="419.3" r="4.25"/><circle cx="503.2" cy="446.9" r="4.25"/><circle cx="498.1" cy="445.0" r="4.25"/><circle cx="517.9" cy="459.7" r="4.25"/><circle cx="501.1" cy="318.9" r="4.25"/><circle cx="522.8" cy="432.4" r="4.25"/><circle cx="500.2" cy="442.0" r="4.25"/><circle cx="502.5" cy="401.4" r="4.25"/><circle cx="502.6" cy="329.8" r="4.25"/><circle cx="514.9" cy="393.5" r="4.25"/><circle cx="521.6" cy="487.1" r="4.25"/><circle cx="496.5" cy="426.2" r="4.25"/><circle cx="525.3" cy="236.8" r="4.25"/><circle cx="524.3" cy="472.8" r="4.25"/><circle cx="514.8" cy="410.1" r="4.25"/><circle cx="504.4" cy="431.0" r="4.25"/><circle cx="520.5" cy="336.4" r="4.25"/><circle cx="500.0" cy="413.1" r="4.25"/><circle cx="522.6" cy="414.2" r="4.25"/><circle cx="496.0" cy="472.8" r="4.25"/><circle cx="508.0" cy="399.4" r="4.25"/><circle cx="510.6" cy="356.0" r="4.25"/><circle cx="522.2" cy="440.4" r="4.25"/><circle cx="503.8" cy="429.2" r="4.25"/><circle cx="501.7" cy="433.5" r="4.25"/><circle cx="505.9" cy="324.3" r="4.25"/><circle cx="499.2" cy="400.3" r="4.25"/><circle cx="501.6" cy="555.0" r="4.25"/><circle cx="530.2" cy="449.3" r="4.25"/><circle cx="524.5" cy="469.2" r="4.25"/><circle cx="503.4" cy="595.3" r="4.25"/><circle cx="499.1" cy="403.3" r="4.25"/><circle cx="516.5" cy="437.7" r="4.25"/><circle cx="518.3" cy="390.6" r="4.25"/><circle cx="504.9" cy="399.7" r="4.25"/><circle cx="506.2" cy="471.4" r="4.25"/><circle cx="520.9" cy="595.3" r="4.25"/><circle cx="524.5" cy="459.7" r="4.25"/><circle cx="497.5" cy="514.0" r="4.25"/><circle cx="497.0" cy="394.7" r="4.25"/><circle cx="528.8" cy="428.6" r="4.25"/><circle cx="518.7" cy="382.2" r="4.25"/><circle cx="524.4" cy="434.5" r="4.25"/><circle cx="522.3" cy="347.2" r="4.25"/><circle cx="504.3" cy="439.4" r="4.25"/><circle cx="525.6" cy="552.7" r="4.25"/><circle cx="501.9" cy="402.2" r="4.25"/><circle cx="525.2" cy="569.0" r="4.25"/><circle cx="516.0" cy="395.4" r="4.25"/><circle cx="499.7" cy="475.0" r="4.25"/><circle cx="505.6" cy="396.8" r="4.25"/><circle cx="523.8" cy="514.0" r="4.25"/><circle cx="512.4" cy="451.1" r="4.25"/><circle cx="513.4" cy="421.7" r="4.25"/><circle cx="503.6" cy="412.6" r="4.25"/><circle cx="499.3" cy="459.7" r="4.25"/><circle cx="519.4" cy="340.8" r="4.25"/><circle cx="515.0" cy="389.7" r="4.25"/><circle cx="516.4" cy="290.5" r="4.25"/><circle cx="518.8" cy="407.5" r="4.25"/><circle cx="497.5" cy="363.0" r="4.25"/><circle cx="517.2" cy="354.5" r="4.25"/><circle cx="514.6" cy="316.0" r="4.25"/><circle cx="496.8" cy="483.8" r="4.25"/><circle cx="514.9" cy="402.9" r="4.25"/><circle cx="523.8" cy="348.8" r="4.25"/><circle cx="501.1" cy="351.6" r="4.25"/><circle cx="521.0" cy="427.0" r="4.25"/><circle cx="517.9" cy="376.4" r="4.25"/><circle cx="529.2" cy="396.0" r="4.25"/><circle cx="507.7" cy="351.6" r="4.25"/><circle cx="524.0" cy="391.3" r="4.25"/><circle cx="519.2" cy="403.4" r="4.25"/><circle cx="527.8" cy="409.6" r="4.25"/><circle cx="530.1" cy="401.0" r="4.25"/><circle cx="506.5" cy="304.9" r="4.25"/><circle cx="515.7" cy="472.8" r="4.25"/><circle cx="527.4" cy="380.8" r="4.25"/><circle cx="499.7" cy="521.3" r="4.25"/><circle cx="500.9" cy="441.2" r="4.25"/><circle cx="502.2" cy="462.2" r="4.25"/><circle cx="529.6" cy="503.8" r="4.25"/><circle cx="506.2" cy="263.1" r="4.25"/><circle cx="522.4" cy="438.1" r="4.25"/><circle cx="527.8" cy="443.0" r="4.25"/><circle cx="518.8" cy="420.1" r="4.25"/><circle cx="529.6" cy="384.4" r="4.25"/><circle cx="500.9" cy="397.9" r="4.25"/><circle cx="520.5" cy="398.9" r="4.25"/><circle cx="515.8" cy="444.4" r="4.25"/><circle cx="514.8" cy="442.2" r="4.25"/><circle cx="502.8" cy="404.6" r="4.25"/><circle cx="500.4" cy="409.5" r="4.25"/><circle cx="511.3" cy="423.0" r="4.25"/><circle cx="527.0" cy="448.0" r="4.25"/><circle cx="523.5" cy="382.0" r="4.25"/><circle cx="518.7" cy="365.4" r="4.25"/><circle cx="525.0" cy="460.5" r="4.25"/><circle cx="528.0" cy="451.4" r="4.25"/><circle cx="499.8" cy="420.2" r="4.25"/><circle cx="518.4" cy="389.2" r="4.25"/><circle cx="502.8" cy="405.9" r="4.25"/><circle cx="507.1" cy="567.9" r="4.25"/><circle cx="521.5" cy="424.6" r="4.25"/><circle cx="528.9" cy="344.8" r="4.25"/><circle cx="497.9" cy="308.2" r="4.25"/><circle cx="502.1" cy="417.5" r="4.25"/><circle cx="498.8" cy="388.1" r="4.25"/><circle cx="501.0" cy="560.3" r="4.25"/><circle cx="496.8" cy="362.5" r="4.25"/><circle cx="506.2" cy="404.5" r="4.25"/><circle cx="517.4" cy="411.8" r="4.25"/><circle cx="504.8" cy="479.4" r="4.25"/><circle cx="529.3" cy="448.4" r="4.25"/><circle cx="498.4" cy="449.8" r="4.25"/><circle cx="522.2" cy="405.2" r="4.25"/><circle cx="508.1" cy="459.0" r="4.25"/><circle cx="511.4" cy="435.7" r="4.25"/><circle cx="513.6" cy="418.1" r="4.25"/><circle cx="507.3" cy="422.3" r="4.25"/><circle cx="517.3" cy="431.7" r="4.25"/><circle cx="516.8" cy="396.3" r="4.25"/><circle cx="503.0" cy="373.5" r="4.25"/><circle cx="529.0" cy="434.1" r="4.25"/><circle cx="523.8" cy="472.1" r="4.25"/><circle cx="509.6" cy="436.5" r="4.25"/><circle cx="509.8" cy="365.5" r="4.25"/></g><g fill="#2f4491" fill-opacity="0.30"><circle cx="618.9" cy="588.1" r="4.25"/><circle cx="634.9" cy="391.1" r="4.25"/><circle cx="630.8" cy="325.3" r="4.25"/><circle cx="622.6" cy="409.3" r="4.25"/><circle cx="637.7" cy="411.4" r="4.25"/><circle cx="641.5" cy="471.6" r="4.25"/><circle cx="628.9" cy="506.3" r="4.25"/><circle cx="612.4" cy="424.9" r="4.25"/><circle cx="625.2" cy="369.4" r="4.25"/><circle cx="633.1" cy="324.1" r="4.25"/><circle cx="640.7" cy="389.3" r="4.25"/><circle cx="630.1" cy="401.5" r="4.25"/><circle cx="634.7" cy="382.5" r="4.25"/><circle cx="625.4" cy="395.2" r="4.25"/><circle cx="622.0" cy="295.7" r="4.25"/><circle cx="615.8" cy="323.5" r="4.25"/><circle cx="633.7" cy="289.1" r="4.25"/><circle cx="636.1" cy="519.6" r="4.25"/><circle cx="611.0" cy="404.8" r="4.25"/><circle cx="642.7" cy="336.0" r="4.25"/><circle cx="620.2" cy="370.6" r="4.25"/><circle cx="622.6" cy="430.0" r="4.25"/><circle cx="609.5" cy="483.4" r="4.25"/><circle cx="623.0" cy="414.1" r="4.25"/><circle cx="636.1" cy="479.5" r="4.25"/><circle cx="632.2" cy="430.7" r="4.25"/><circle cx="609.3" cy="388.9" r="4.25"/><circle cx="619.8" cy="373.3" r="4.25"/><circle cx="625.7" cy="397.4" r="4.25"/><circle cx="615.7" cy="391.7" r="4.25"/><circle cx="621.2" cy="492.7" r="4.25"/><circle cx="609.8" cy="384.2" r="4.25"/><circle cx="613.1" cy="369.7" r="4.25"/><circle cx="611.5" cy="374.6" r="4.25"/><circle cx="634.8" cy="351.5" r="4.25"/><circle cx="611.2" cy="425.1" r="4.25"/><circle cx="614.6" cy="393.3" r="4.25"/><circle cx="627.1" cy="377.5" r="4.25"/><circle cx="624.3" cy="429.3" r="4.25"/><circle cx="627.8" cy="380.5" r="4.25"/><circle cx="636.9" cy="369.4" r="4.25"/><circle cx="635.7" cy="506.6" r="4.25"/><circle cx="625.7" cy="398.7" r="4.25"/><circle cx="623.9" cy="458.3" r="4.25"/><circle cx="609.7" cy="440.1" r="4.25"/><circle cx="609.2" cy="445.6" r="4.25"/><circle cx="611.6" cy="418.7" r="4.25"/><circle cx="622.1" cy="337.3" r="4.25"/><circle cx="612.3" cy="507.7" r="4.25"/><circle cx="620.4" cy="361.5" r="4.25"/><circle cx="621.7" cy="453.0" r="4.25"/><circle cx="632.7" cy="377.8" r="4.25"/><circle cx="619.8" cy="371.8" r="4.25"/><circle cx="622.0" cy="433.5" r="4.25"/><circle cx="614.6" cy="411.7" r="4.25"/><circle cx="628.8" cy="359.6" r="4.25"/><circle cx="612.6" cy="388.0" r="4.25"/><circle cx="610.3" cy="305.4" r="4.25"/><circle cx="635.6" cy="479.0" r="4.25"/><circle cx="640.9" cy="397.9" r="4.25"/><circle cx="631.8" cy="358.5" r="4.25"/><circle cx="631.8" cy="469.4" r="4.25"/><circle cx="610.3" cy="497.5" r="4.25"/><circle cx="616.0" cy="476.5" r="4.25"/><circle cx="616.1" cy="360.4" r="4.25"/><circle cx="631.7" cy="287.6" r="4.25"/><circle cx="636.9" cy="434.2" r="4.25"/><circle cx="628.4" cy="471.8" r="4.25"/><circle cx="641.4" cy="436.2" r="4.25"/><circle cx="610.6" cy="422.3" r="4.25"/><circle cx="638.1" cy="494.8" r="4.25"/><circle cx="635.0" cy="437.6" r="4.25"/><circle cx="634.8" cy="500.0" r="4.25"/><circle cx="626.6" cy="368.8" r="4.25"/><circle cx="627.8" cy="366.0" r="4.25"/><circle cx="611.5" cy="421.6" r="4.25"/><circle cx="637.9" cy="374.6" r="4.25"/><circle cx="631.3" cy="416.2" r="4.25"/><circle cx="614.3" cy="374.8" r="4.25"/><circle cx="630.6" cy="342.6" r="4.25"/><circle cx="620.8" cy="398.2" r="4.25"/><circle cx="614.1" cy="345.6" r="4.25"/><circle cx="618.0" cy="451.2" r="4.25"/><circle cx="623.8" cy="389.7" r="4.25"/><circle cx="627.3" cy="451.8" r="4.25"/><circle cx="626.9" cy="493.6" r="4.25"/><circle cx="623.5" cy="425.5" r="4.25"/><circle cx="618.1" cy="344.7" r="4.25"/><circle cx="623.0" cy="358.8" r="4.25"/><circle cx="630.1" cy="432.2" r="4.25"/><circle cx="627.2" cy="399.4" r="4.25"/><circle cx="624.8" cy="376.4" r="4.25"/><circle cx="625.4" cy="421.3" r="4.25"/><circle cx="617.1" cy="303.7" r="4.25"/><circle cx="622.6" cy="371.6" r="4.25"/><circle cx="613.1" cy="445.5" r="4.25"/><circle cx="633.4" cy="414.5" r="4.25"/><circle cx="631.1" cy="384.4" r="4.25"/><circle cx="620.4" cy="319.4" r="4.25"/><circle cx="637.7" cy="384.6" r="4.25"/><circle cx="635.3" cy="415.3" r="4.25"/><circle cx="612.0" cy="341.2" r="4.25"/><circle cx="623.3" cy="362.8" r="4.25"/><circle cx="610.2" cy="354.8" r="4.25"/><circle cx="642.9" cy="333.5" r="4.25"/><circle cx="625.1" cy="311.0" r="4.25"/><circle cx="622.0" cy="399.0" r="4.25"/><circle cx="616.0" cy="368.2" r="4.25"/><circle cx="636.1" cy="447.3" r="4.25"/><circle cx="640.4" cy="406.8" r="4.25"/><circle cx="617.8" cy="401.2" r="4.25"/><circle cx="640.8" cy="382.2" r="4.25"/><circle cx="635.6" cy="371.3" r="4.25"/><circle cx="628.6" cy="474.9" r="4.25"/><circle cx="614.2" cy="388.8" r="4.25"/><circle cx="616.3" cy="392.5" r="4.25"/><circle cx="624.3" cy="364.6" r="4.25"/><circle cx="627.2" cy="379.4" r="4.25"/><circle cx="639.1" cy="375.8" r="4.25"/><circle cx="629.6" cy="369.2" r="4.25"/><circle cx="638.6" cy="408.4" r="4.25"/><circle cx="618.5" cy="501.1" r="4.25"/><circle cx="636.2" cy="391.6" r="4.25"/><circle cx="628.1" cy="437.8" r="4.25"/><circle cx="624.9" cy="372.2" r="4.25"/><circle cx="632.5" cy="561.3" r="4.25"/><circle cx="615.7" cy="368.7" r="4.25"/><circle cx="627.2" cy="502.5" r="4.25"/><circle cx="611.7" cy="358.1" r="4.25"/><circle cx="619.0" cy="321.8" r="4.25"/><circle cx="612.9" cy="380.5" r="4.25"/><circle cx="628.6" cy="388.2" r="4.25"/><circle cx="627.3" cy="376.8" r="4.25"/><circle cx="616.7" cy="478.1" r="4.25"/><circle cx="637.9" cy="548.2" r="4.25"/><circle cx="640.7" cy="378.5" r="4.25"/><circle cx="629.5" cy="338.5" r="4.25"/><circle cx="632.6" cy="317.5" r="4.25"/><circle cx="609.7" cy="417.3" r="4.25"/><circle cx="631.2" cy="390.6" r="4.25"/><circle cx="616.1" cy="423.6" r="4.25"/><circle cx="641.1" cy="345.7" r="4.25"/><circle cx="638.0" cy="449.2" r="4.25"/><circle cx="623.9" cy="491.4" r="4.25"/><circle cx="628.6" cy="452.6" r="4.25"/><circle cx="627.6" cy="484.3" r="4.25"/><circle cx="620.6" cy="506.0" r="4.25"/><circle cx="609.3" cy="459.8" r="4.25"/><circle cx="626.1" cy="343.1" r="4.25"/><circle cx="616.5" cy="554.2" r="4.25"/><circle cx="614.0" cy="317.2" r="4.25"/><circle cx="614.4" cy="342.9" r="4.25"/><circle cx="632.3" cy="378.4" r="4.25"/><circle cx="624.0" cy="390.0" r="4.25"/><circle cx="631.6" cy="374.5" r="4.25"/><circle cx="628.2" cy="368.3" r="4.25"/><circle cx="623.0" cy="388.4" r="4.25"/><circle cx="610.9" cy="432.9" r="4.25"/><circle cx="618.1" cy="432.8" r="4.25"/><circle cx="637.9" cy="436.9" r="4.25"/><circle cx="635.4" cy="349.5" r="4.25"/><circle cx="612.2" cy="395.0" r="4.25"/><circle cx="637.0" cy="402.6" r="4.25"/><circle cx="632.3" cy="218.0" r="4.25"/><circle cx="637.1" cy="413.1" r="4.25"/><circle cx="630.1" cy="380.3" r="4.25"/><circle cx="620.6" cy="412.5" r="4.25"/><circle cx="621.2" cy="532.7" r="4.25"/><circle cx="640.2" cy="332.0" r="4.25"/><circle cx="620.5" cy="418.3" r="4.25"/><circle cx="609.3" cy="514.0" r="4.25"/><circle cx="635.2" cy="374.9" r="4.25"/><circle cx="630.6" cy="432.4" r="4.25"/><circle cx="631.8" cy="346.7" r="4.25"/><circle cx="629.1" cy="457.7" r="4.25"/><circle cx="637.3" cy="383.7" r="4.25"/><circle cx="610.5" cy="363.6" r="4.25"/><circle cx="632.4" cy="370.3" r="4.25"/><circle cx="618.1" cy="359.2" r="4.25"/><circle cx="642.5" cy="368.9" r="4.25"/><circle cx="639.9" cy="288.0" r="4.25"/><circle cx="620.0" cy="284.9" r="4.25"/><circle cx="613.2" cy="448.9" r="4.25"/><circle cx="616.3" cy="421.4" r="4.25"/><circle cx="638.5" cy="406.3" r="4.25"/><circle cx="619.6" cy="356.9" r="4.25"/><circle cx="619.0" cy="385.3" r="4.25"/><circle cx="619.1" cy="494.4" r="4.25"/><circle cx="610.2" cy="381.2" r="4.25"/><circle cx="641.9" cy="387.4" r="4.25"/><circle cx="613.7" cy="346.8" r="4.25"/><circle cx="616.0" cy="387.6" r="4.25"/><circle cx="617.7" cy="403.2" r="4.25"/><circle cx="609.3" cy="352.6" r="4.25"/><circle cx="612.4" cy="391.1" r="4.25"/><circle cx="619.8" cy="428.9" r="4.25"/><circle cx="624.6" cy="411.1" r="4.25"/><circle cx="624.1" cy="466.3" r="4.25"/><circle cx="629.1" cy="410.5" r="4.25"/><circle cx="613.8" cy="426.4" r="4.25"/><circle cx="635.4" cy="380.0" r="4.25"/><circle cx="614.7" cy="340.8" r="4.25"/><circle cx="633.7" cy="446.2" r="4.25"/><circle cx="634.2" cy="343.6" r="4.25"/><circle cx="610.8" cy="348.9" r="4.25"/><circle cx="627.3" cy="449.6" r="4.25"/><circle cx="614.5" cy="455.7" r="4.25"/><circle cx="614.0" cy="493.3" r="4.25"/><circle cx="614.2" cy="456.5" r="4.25"/><circle cx="613.8" cy="292.9" r="4.25"/><circle cx="617.2" cy="373.4" r="4.25"/><circle cx="625.4" cy="514.3" r="4.25"/><circle cx="636.8" cy="388.2" r="4.25"/><circle cx="626.5" cy="501.7" r="4.25"/><circle cx="620.6" cy="561.3" r="4.25"/><circle cx="625.0" cy="353.8" r="4.25"/><circle cx="634.5" cy="360.8" r="4.25"/><circle cx="612.0" cy="284.4" r="4.25"/><circle cx="642.0" cy="376.2" r="4.25"/><circle cx="632.6" cy="342.3" r="4.25"/><circle cx="638.0" cy="286.2" r="4.25"/><circle cx="625.7" cy="482.3" r="4.25"/><circle cx="641.0" cy="361.1" r="4.25"/><circle cx="610.9" cy="365.3" r="4.25"/><circle cx="634.6" cy="366.0" r="4.25"/><circle cx="621.6" cy="337.7" r="4.25"/><circle cx="624.2" cy="370.4" r="4.25"/><circle cx="613.6" cy="429.6" r="4.25"/><circle cx="638.0" cy="376.0" r="4.25"/><circle cx="623.7" cy="423.1" r="4.25"/><circle cx="618.1" cy="393.0" r="4.25"/><circle cx="615.2" cy="356.3" r="4.25"/><circle cx="614.4" cy="484.7" r="4.25"/><circle cx="639.2" cy="382.7" r="4.25"/><circle cx="635.9" cy="301.1" r="4.25"/><circle cx="633.7" cy="390.7" r="4.25"/><circle cx="632.9" cy="348.0" r="4.25"/><circle cx="632.2" cy="451.0" r="4.25"/><circle cx="633.0" cy="347.3" r="4.25"/><circle cx="613.8" cy="446.0" r="4.25"/><circle cx="630.9" cy="380.7" r="4.25"/><circle cx="626.4" cy="318.9" r="4.25"/><circle cx="639.6" cy="333.9" r="4.25"/><circle cx="611.1" cy="435.6" r="4.25"/><circle cx="626.0" cy="406.9" r="4.25"/><circle cx="610.3" cy="306.1" r="4.25"/><circle cx="612.4" cy="430.2" r="4.25"/><circle cx="630.5" cy="382.3" r="4.25"/><circle cx="624.1" cy="262.6" r="4.25"/><circle cx="629.5" cy="381.0" r="4.25"/><circle cx="628.2" cy="413.5" r="4.25"/><circle cx="637.1" cy="408.3" r="4.25"/><circle cx="618.0" cy="485.0" r="4.25"/><circle cx="615.4" cy="363.2" r="4.25"/><circle cx="611.3" cy="442.9" r="4.25"/><circle cx="630.3" cy="363.8" r="4.25"/><circle cx="640.4" cy="385.4" r="4.25"/><circle cx="611.4" cy="326.9" r="4.25"/><circle cx="639.4" cy="408.7" r="4.25"/><circle cx="616.4" cy="385.6" r="4.25"/><circle cx="614.3" cy="297.9" r="4.25"/><circle cx="610.1" cy="455.1" r="4.25"/><circle cx="613.1" cy="424.1" r="4.25"/><circle cx="642.0" cy="444.3" r="4.25"/><circle cx="636.4" cy="334.9" r="4.25"/><circle cx="610.9" cy="405.4" r="4.25"/><circle cx="625.9" cy="297.4" r="4.25"/><circle cx="614.3" cy="428.8" r="4.25"/><circle cx="621.2" cy="495.2" r="4.25"/><circle cx="619.4" cy="386.2" r="4.25"/><circle cx="614.9" cy="431.1" r="4.25"/><circle cx="638.0" cy="414.7" r="4.25"/><circle cx="613.2" cy="424.6" r="4.25"/><circle cx="626.1" cy="372.7" r="4.25"/><circle cx="633.9" cy="307.2" r="4.25"/><circle cx="633.2" cy="315.2" r="4.25"/><circle cx="636.6" cy="318.5" r="4.25"/><circle cx="640.5" cy="429.9" r="4.25"/><circle cx="616.7" cy="475.5" r="4.25"/><circle cx="637.5" cy="310.0" r="4.25"/><circle cx="640.1" cy="402.8" r="4.25"/><circle cx="620.0" cy="363.9" r="4.25"/><circle cx="626.8" cy="394.3" r="4.25"/><circle cx="638.6" cy="367.7" r="4.25"/><circle cx="632.2" cy="313.1" r="4.25"/><circle cx="621.2" cy="290.1" r="4.25"/><circle cx="630.5" cy="406.6" r="4.25"/><circle cx="612.3" cy="390.3" r="4.25"/><circle cx="633.6" cy="483.7" r="4.25"/><circle cx="636.7" cy="327.9" r="4.25"/><circle cx="635.1" cy="338.8" r="4.25"/><circle cx="636.2" cy="396.1" r="4.25"/><circle cx="616.7" cy="435.2" r="4.25"/><circle cx="616.7" cy="368.4" r="4.25"/><circle cx="620.1" cy="395.9" r="4.25"/><circle cx="632.8" cy="395.4" r="4.25"/><circle cx="626.7" cy="401.5" r="4.25"/><circle cx="611.1" cy="356.1" r="4.25"/><circle cx="631.3" cy="424.4" r="4.25"/><circle cx="624.9" cy="427.9" r="4.25"/><circle cx="623.9" cy="412.9" r="4.25"/><circle cx="628.9" cy="351.1" r="4.25"/><circle cx="633.3" cy="376.9" r="4.25"/><circle cx="634.9" cy="419.9" r="4.25"/><circle cx="614.6" cy="339.7" r="4.25"/><circle cx="641.1" cy="368.6" r="4.25"/><circle cx="635.8" cy="334.5" r="4.25"/><circle cx="609.3" cy="458.7" r="4.25"/><circle cx="642.4" cy="380.1" r="4.25"/><circle cx="627.1" cy="486.5" r="4.25"/><circle cx="615.3" cy="383.8" r="4.25"/><circle cx="612.7" cy="397.8" r="4.25"/><circle cx="622.8" cy="390.5" r="4.25"/><circle cx="616.9" cy="422.0" r="4.25"/><circle cx="616.2" cy="395.7" r="4.25"/><circle cx="625.2" cy="426.0" r="4.25"/><circle cx="617.0" cy="304.4" r="4.25"/><circle cx="621.9" cy="447.8" r="4.25"/><circle cx="616.9" cy="403.4" r="4.25"/><circle cx="628.4" cy="460.5" r="4.25"/><circle cx="641.6" cy="456.0" r="4.25"/><circle cx="609.9" cy="473.5" r="4.25"/><circle cx="628.1" cy="431.8" r="4.25"/><circle cx="630.3" cy="375.5" r="4.25"/><circle cx="639.4" cy="370.7" r="4.25"/><circle cx="616.6" cy="433.3" r="4.25"/><circle cx="636.0" cy="396.6" r="4.25"/><circle cx="612.7" cy="381.1" r="4.25"/><circle cx="631.8" cy="413.8" r="4.25"/><circle cx="614.8" cy="389.6" r="4.25"/><circle cx="632.7" cy="416.8" r="4.25"/><circle cx="639.4" cy="363.4" r="4.25"/><circle cx="639.7" cy="340.2" r="4.25"/><circle cx="633.1" cy="445.0" r="4.25"/><circle cx="635.3" cy="420.9" r="4.25"/><circle cx="630.3" cy="373.5" r="4.25"/><circle cx="625.4" cy="354.3" r="4.25"/><circle cx="609.5" cy="370.3" r="4.25"/><circle cx="615.1" cy="389.2" r="4.25"/><circle cx="642.1" cy="385.0" r="4.25"/><circle cx="612.2" cy="477.5" r="4.25"/><circle cx="633.0" cy="417.1" r="4.25"/><circle cx="630.5" cy="229.6" r="4.25"/><circle cx="616.1" cy="408.6" r="4.25"/><circle cx="636.5" cy="404.7" r="4.25"/><circle cx="625.4" cy="427.2" r="4.25"/><circle cx="625.8" cy="407.1" r="4.25"/><circle cx="610.5" cy="419.4" r="4.25"/><circle cx="628.1" cy="422.7" r="4.25"/><circle cx="638.6" cy="352.2" r="4.25"/><circle cx="624.2" cy="370.8" r="4.25"/><circle cx="642.1" cy="318.1" r="4.25"/><circle cx="620.2" cy="434.8" r="4.25"/><circle cx="619.1" cy="337.0" r="4.25"/><circle cx="612.8" cy="356.6" r="4.25"/><circle cx="618.7" cy="320.0" r="4.25"/><circle cx="632.3" cy="367.5" r="4.25"/><circle cx="623.7" cy="276.0" r="4.25"/><circle cx="609.5" cy="322.1" r="4.25"/><circle cx="631.6" cy="295.2" r="4.25"/><circle cx="640.7" cy="380.7" r="4.25"/><circle cx="615.3" cy="441.4" r="4.25"/><circle cx="636.5" cy="422.4" r="4.25"/><circle cx="609.7" cy="497.0" r="4.25"/><circle cx="625.1" cy="423.7" r="4.25"/><circle cx="618.2" cy="395.6" r="4.25"/><circle cx="640.8" cy="362.4" r="4.25"/><circle cx="623.3" cy="399.1" r="4.25"/><circle cx="627.4" cy="384.5" r="4.25"/><circle cx="638.6" cy="416.0" r="4.25"/><circle cx="623.0" cy="371.1" r="4.25"/><circle cx="637.4" cy="416.4" r="4.25"/><circle cx="629.3" cy="403.8" r="4.25"/><circle cx="616.3" cy="394.5" r="4.25"/><circle cx="635.1" cy="383.3" r="4.25"/><circle cx="635.9" cy="350.5" r="4.25"/><circle cx="623.8" cy="477.9" r="4.25"/><circle cx="617.8" cy="341.5" r="4.25"/><circle cx="614.9" cy="415.7" r="4.25"/><circle cx="617.8" cy="324.8" r="4.25"/><circle cx="614.9" cy="447.8" r="4.25"/><circle cx="621.7" cy="420.3" r="4.25"/><circle cx="624.2" cy="370.0" r="4.25"/><circle cx="624.6" cy="377.0" r="4.25"/><circle cx="635.9" cy="425.1" r="4.25"/><circle cx="634.6" cy="487.1" r="4.25"/><circle cx="631.0" cy="389.6" r="4.25"/><circle cx="618.4" cy="335.3" r="4.25"/><circle cx="628.8" cy="477.1" r="4.25"/><circle cx="619.7" cy="436.8" r="4.25"/><circle cx="639.3" cy="488.4" r="4.25"/><circle cx="634.9" cy="384.8" r="4.25"/><circle cx="629.3" cy="392.0" r="4.25"/><circle cx="626.0" cy="375.4" r="4.25"/><circle cx="614.9" cy="388.6" r="4.25"/><circle cx="621.9" cy="361.8" r="4.25"/><circle cx="615.3" cy="450.7" r="4.25"/><circle cx="629.7" cy="420.3" r="4.25"/><circle cx="632.8" cy="459.4" r="4.25"/><circle cx="640.6" cy="450.1" r="4.25"/><circle cx="635.9" cy="418.1" r="4.25"/><circle cx="621.8" cy="353.6" r="4.25"/><circle cx="642.6" cy="429.5" r="4.25"/><circle cx="615.5" cy="344.1" r="4.25"/><circle cx="622.5" cy="401.1" r="4.25"/><circle cx="610.0" cy="468.1" r="4.25"/><circle cx="611.5" cy="383.0" r="4.25"/><circle cx="636.7" cy="439.9" r="4.25"/><circle cx="633.8" cy="309.5" r="4.25"/><circle cx="625.9" cy="365.7" r="4.25"/><circle cx="629.4" cy="349.4" r="4.25"/><circle cx="621.1" cy="375.1" r="4.25"/><circle cx="634.6" cy="421.2" r="4.25"/><circle cx="616.6" cy="471.2" r="4.25"/><circle cx="613.7" cy="455.3" r="4.25"/><circle cx="643.4" cy="270.1" r="4.25"/><circle cx="616.1" cy="396.4" r="4.25"/><circle cx="627.9" cy="353.1" r="4.25"/><circle cx="637.3" cy="392.2" r="4.25"/><circle cx="632.9" cy="437.4" r="4.25"/><circle cx="612.9" cy="487.7" r="4.25"/><circle cx="632.7" cy="418.6" r="4.25"/><circle cx="631.7" cy="474.1" r="4.25"/><circle cx="630.3" cy="404.5" r="4.25"/><circle cx="634.8" cy="415.2" r="4.25"/><circle cx="643.0" cy="413.3" r="4.25"/><circle cx="621.4" cy="375.1" r="4.25"/><circle cx="628.9" cy="378.3" r="4.25"/><circle cx="639.7" cy="394.4" r="4.25"/><circle cx="636.1" cy="407.9" r="4.25"/><circle cx="635.1" cy="428.0" r="4.25"/><circle cx="631.7" cy="386.5" r="4.25"/><circle cx="626.2" cy="481.6" r="4.25"/><circle cx="640.5" cy="458.1" r="4.25"/><circle cx="612.9" cy="389.1" r="4.25"/><circle cx="619.3" cy="359.8" r="4.25"/><circle cx="642.3" cy="330.4" r="4.25"/><circle cx="621.8" cy="369.8" r="4.25"/><circle cx="612.9" cy="522.0" r="4.25"/><circle cx="617.8" cy="290.8" r="4.25"/><circle cx="631.0" cy="354.5" r="4.25"/><circle cx="634.4" cy="364.2" r="4.25"/><circle cx="639.1" cy="357.2" r="4.25"/><circle cx="641.4" cy="464.0" r="4.25"/><circle cx="633.6" cy="435.9" r="4.25"/><circle cx="622.6" cy="390.9" r="4.25"/><circle cx="627.7" cy="481.3" r="4.25"/><circle cx="617.7" cy="407.0" r="4.25"/><circle cx="623.4" cy="372.9" r="4.25"/><circle cx="625.6" cy="377.6" r="4.25"/><circle cx="633.8" cy="463.1" r="4.25"/><circle cx="613.4" cy="414.3" r="4.25"/><circle cx="620.3" cy="333.3" r="4.25"/><circle cx="619.6" cy="371.4" r="4.25"/><circle cx="631.8" cy="464.9" r="4.25"/><circle cx="614.6" cy="479.7" r="4.25"/><circle cx="612.8" cy="376.0" r="4.25"/><circle cx="611.0" cy="441.1" r="4.25"/><circle cx="637.1" cy="383.5" r="4.25"/><circle cx="611.5" cy="371.9" r="4.25"/><circle cx="621.6" cy="497.8" r="4.25"/><circle cx="622.0" cy="392.0" r="4.25"/><circle cx="627.4" cy="522.4" r="4.25"/><circle cx="622.7" cy="413.6" r="4.25"/><circle cx="642.2" cy="364.8" r="4.25"/><circle cx="615.2" cy="292.0" r="4.25"/><circle cx="637.5" cy="269.5" r="4.25"/><circle cx="627.6" cy="404.3" r="4.25"/><circle cx="635.9" cy="407.7" r="4.25"/><circle cx="633.4" cy="346.0" r="4.25"/><circle cx="619.4" cy="429.2" r="4.25"/><circle cx="621.1" cy="401.0" r="4.25"/><circle cx="639.4" cy="403.6" r="4.25"/><circle cx="621.9" cy="458.9" r="4.25"/><circle cx="614.7" cy="420.0" r="4.25"/><circle cx="642.3" cy="402.1" r="4.25"/><circle cx="640.7" cy="273.3" r="4.25"/><circle cx="616.5" cy="417.6" r="4.25"/><circle cx="635.6" cy="380.2" r="4.25"/><circle cx="632.1" cy="385.1" r="4.25"/><circle cx="641.1" cy="422.2" r="4.25"/><circle cx="619.8" cy="331.4" r="4.25"/><circle cx="637.0" cy="388.0" r="4.25"/><circle cx="620.1" cy="355.4" r="4.25"/><circle cx="634.6" cy="446.7" r="4.25"/><circle cx="627.3" cy="385.7" r="4.25"/><circle cx="624.0" cy="391.2" r="4.25"/><circle cx="639.2" cy="454.7" r="4.25"/><circle cx="614.3" cy="385.9" r="4.25"/><circle cx="623.9" cy="376.6" r="4.25"/><circle cx="632.4" cy="393.7" r="4.25"/><circle cx="640.0" cy="369.0" r="4.25"/><circle cx="628.2" cy="402.3" r="4.25"/><circle cx="621.0" cy="504.9" r="4.25"/><circle cx="614.7" cy="351.2" r="4.25"/><circle cx="640.2" cy="390.8" r="4.25"/><circle cx="617.5" cy="355.2" r="4.25"/><circle cx="628.6" cy="469.8" r="4.25"/><circle cx="624.9" cy="392.9" r="4.25"/><circle cx="609.3" cy="355.0" r="4.25"/><circle cx="622.5" cy="418.6" r="4.25"/><circle cx="626.4" cy="393.9" r="4.25"/><circle cx="626.6" cy="379.9" r="4.25"/><circle cx="626.8" cy="503.3" r="4.25"/><circle cx="613.4" cy="472.1" r="4.25"/><circle cx="620.8" cy="394.1" r="4.25"/><circle cx="641.5" cy="339.9" r="4.25"/><circle cx="639.9" cy="323.0" r="4.25"/><circle cx="640.9" cy="400.6" r="4.25"/><circle cx="623.2" cy="400.3" r="4.25"/><circle cx="626.7" cy="372.5" r="4.25"/><circle cx="626.4" cy="498.5" r="4.25"/><circle cx="638.1" cy="410.6" r="4.25"/><circle cx="634.6" cy="379.7" r="4.25"/><circle cx="637.2" cy="468.4" r="4.25"/><circle cx="638.4" cy="376.3" r="4.25"/><circle cx="638.1" cy="373.7" r="4.25"/><circle cx="614.6" cy="426.9" r="4.25"/><circle cx="629.8" cy="329.6" r="4.25"/><circle cx="641.3" cy="311.5" r="4.25"/><circle cx="636.0" cy="392.5" r="4.25"/><circle cx="630.1" cy="431.3" r="4.25"/><circle cx="618.9" cy="379.1" r="4.25"/><circle cx="617.0" cy="379.0" r="4.25"/><circle cx="611.7" cy="398.8" r="4.25"/><circle cx="616.4" cy="375.2" r="4.25"/><circle cx="641.5" cy="357.8" r="4.25"/><circle cx="629.3" cy="355.7" r="4.25"/><circle cx="617.0" cy="287.0" r="4.25"/><circle cx="630.5" cy="367.4" r="4.25"/><circle cx="623.4" cy="384.9" r="4.25"/><circle cx="616.4" cy="405.8" r="4.25"/><circle cx="640.7" cy="293.8" r="4.25"/><circle cx="636.8" cy="377.2" r="4.25"/><circle cx="625.4" cy="399.7" r="4.25"/><circle cx="612.8" cy="425.6" r="4.25"/><circle cx="611.2" cy="412.4" r="4.25"/><circle cx="622.3" cy="384.0" r="4.25"/><circle cx="632.2" cy="496.4" r="4.25"/><circle cx="624.2" cy="377.9" r="4.25"/><circle cx="628.4" cy="423.3" r="4.25"/><circle cx="621.1" cy="466.8" r="4.25"/><circle cx="615.4" cy="329.1" r="4.25"/><circle cx="635.4" cy="299.9" r="4.25"/><circle cx="618.2" cy="473.2" r="4.25"/><circle cx="636.7" cy="508.9" r="4.25"/><circle cx="631.1" cy="409.9" r="4.25"/><circle cx="640.9" cy="521.4" r="4.25"/><circle cx="623.8" cy="408.9" r="4.25"/><circle cx="632.2" cy="398.5" r="4.25"/><circle cx="621.5" cy="397.5" r="4.25"/><circle cx="610.7" cy="447.0" r="4.25"/><circle cx="626.2" cy="457.2" r="4.25"/><circle cx="642.8" cy="312.0" r="4.25"/><circle cx="635.1" cy="408.0" r="4.25"/><circle cx="627.7" cy="341.6" r="4.25"/><circle cx="609.8" cy="314.1" r="4.25"/><circle cx="622.1" cy="423.0" r="4.25"/><circle cx="613.7" cy="444.0" r="4.25"/><circle cx="622.0" cy="362.1" r="4.25"/><circle cx="642.9" cy="430.9" r="4.25"/><circle cx="614.2" cy="374.3" r="4.25"/><circle cx="635.3" cy="382.0" r="4.25"/><circle cx="618.3" cy="464.4" r="4.25"/><circle cx="628.4" cy="412.6" r="4.25"/><circle cx="639.7" cy="463.7" r="4.25"/><circle cx="610.4" cy="416.2" r="4.25"/><circle cx="630.1" cy="350.7" r="4.25"/><circle cx="640.7" cy="429.1" r="4.25"/><circle cx="637.8" cy="410.3" r="4.25"/><circle cx="640.8" cy="372.4" r="4.25"/><circle cx="632.9" cy="366.8" r="4.25"/><circle cx="627.9" cy="438.2" r="4.25"/><circle cx="610.3" cy="431.4" r="4.25"/><circle cx="612.0" cy="433.1" r="4.25"/><circle cx="615.6" cy="410.0" r="4.25"/><circle cx="643.0" cy="380.9" r="4.25"/><circle cx="638.5" cy="558.3" r="4.25"/><circle cx="611.7" cy="426.1" r="4.25"/><circle cx="639.3" cy="438.5" r="4.25"/><circle cx="621.5" cy="390.0" r="4.25"/><circle cx="610.2" cy="382.8" r="4.25"/><circle cx="621.8" cy="296.5" r="4.25"/><circle cx="611.7" cy="391.9" r="4.25"/><circle cx="636.8" cy="383.0" r="4.25"/><circle cx="609.6" cy="394.6" r="4.25"/><circle cx="630.1" cy="432.0" r="4.25"/><circle cx="639.0" cy="302.3" r="4.25"/><circle cx="612.1" cy="414.9" r="4.25"/><circle cx="627.5" cy="475.8" r="4.25"/><circle cx="623.4" cy="352.9" r="4.25"/><circle cx="636.5" cy="406.5" r="4.25"/><circle cx="623.2" cy="358.6" r="4.25"/><circle cx="626.9" cy="367.7" r="4.25"/><circle cx="639.6" cy="407.5" r="4.25"/><circle cx="642.9" cy="378.7" r="4.25"/><circle cx="632.7" cy="375.6" r="4.25"/><circle cx="611.9" cy="469.0" r="4.25"/><circle cx="613.8" cy="347.1" r="4.25"/><circle cx="612.8" cy="411.4" r="4.25"/><circle cx="634.2" cy="361.6" r="4.25"/><circle cx="634.3" cy="308.7" r="4.25"/><circle cx="612.5" cy="465.2" r="4.25"/><circle cx="640.2" cy="448.7" r="4.25"/><circle cx="609.9" cy="391.5" r="4.25"/><circle cx="637.4" cy="442.4" r="4.25"/><circle cx="614.9" cy="359.4" r="4.25"/><circle cx="618.8" cy="482.7" r="4.25"/><circle cx="627.7" cy="393.5" r="4.25"/><circle cx="629.1" cy="347.9" r="4.25"/><circle cx="639.4" cy="350.3" r="4.25"/><circle cx="638.7" cy="316.4" r="4.25"/><circle cx="623.4" cy="328.7" r="4.25"/><circle cx="630.9" cy="402.9" r="4.25"/><circle cx="626.1" cy="449.9" r="4.25"/><circle cx="638.2" cy="365.1" r="4.25"/><circle cx="639.9" cy="357.5" r="4.25"/><circle cx="639.4" cy="448.4" r="4.25"/><circle cx="619.7" cy="402.6" r="4.25"/><circle cx="621.0" cy="412.1" r="4.25"/><circle cx="635.6" cy="428.2" r="4.25"/><circle cx="627.0" cy="480.0" r="4.25"/><circle cx="610.6" cy="417.9" r="4.25"/><circle cx="613.4" cy="521.5" r="4.25"/><circle cx="623.5" cy="378.0" r="4.25"/><circle cx="622.1" cy="382.8" r="4.25"/><circle cx="639.5" cy="328.4" r="4.25"/><circle cx="619.5" cy="390.2" r="4.25"/><circle cx="622.9" cy="474.8" r="4.25"/><circle cx="613.5" cy="526.8" r="4.25"/><circle cx="640.5" cy="467.3" r="4.25"/><circle cx="628.4" cy="320.4" r="4.25"/><circle cx="639.7" cy="396.8" r="4.25"/><circle cx="633.9" cy="433.4" r="4.25"/><circle cx="639.4" cy="381.4" r="4.25"/><circle cx="612.2" cy="433.9" r="4.25"/><circle cx="632.9" cy="424.0" r="4.25"/><circle cx="610.0" cy="373.0" r="4.25"/><circle cx="613.4" cy="499.8" r="4.25"/><circle cx="633.8" cy="411.1" r="4.25"/><circle cx="630.8" cy="330.1" r="4.25"/><circle cx="635.5" cy="410.8" r="4.25"/><circle cx="621.7" cy="363.0" r="4.25"/><circle cx="610.3" cy="430.7" r="4.25"/><circle cx="613.0" cy="392.2" r="4.25"/><circle cx="612.5" cy="369.6" r="4.25"/><circle cx="628.4" cy="434.4" r="4.25"/><circle cx="617.7" cy="398.1" r="4.25"/><circle cx="638.6" cy="440.4" r="4.25"/><circle cx="622.7" cy="367.0" r="4.25"/><circle cx="624.3" cy="486.9" r="4.25"/><circle cx="623.9" cy="444.8" r="4.25"/><circle cx="634.8" cy="387.6" r="4.25"/><circle cx="620.7" cy="351.6" r="4.25"/><circle cx="639.3" cy="409.1" r="4.25"/><circle cx="615.7" cy="409.6" r="4.25"/><circle cx="622.4" cy="527.4" r="4.25"/><circle cx="623.0" cy="360.6" r="4.25"/><circle cx="628.9" cy="382.4" r="4.25"/><circle cx="627.5" cy="382.0" r="4.25"/><circle cx="615.9" cy="386.3" r="4.25"/><circle cx="636.7" cy="299.4" r="4.25"/><circle cx="641.7" cy="443.9" r="4.25"/><circle cx="633.0" cy="353.4" r="4.25"/><circle cx="627.2" cy="366.3" r="4.25"/><circle cx="619.6" cy="443.2" r="4.25"/><circle cx="614.6" cy="336.4" r="4.25"/><circle cx="633.3" cy="441.9" r="4.25"/><circle cx="631.0" cy="379.0" r="4.25"/><circle cx="625.6" cy="435.0" r="4.25"/><circle cx="611.7" cy="389.0" r="4.25"/><circle cx="618.5" cy="503.9" r="4.25"/><circle cx="616.9" cy="332.7" r="4.25"/><circle cx="637.8" cy="395.5" r="4.25"/><circle cx="610.1" cy="385.8" r="4.25"/><circle cx="614.8" cy="453.0" r="4.25"/><circle cx="615.2" cy="408.2" r="4.25"/><circle cx="622.8" cy="453.9" r="4.25"/><circle cx="617.6" cy="420.6" r="4.25"/><circle cx="616.7" cy="403.9" r="4.25"/><circle cx="630.1" cy="405.5" r="4.25"/><circle cx="615.0" cy="419.5" r="4.25"/><circle cx="623.5" cy="387.0" r="4.25"/><circle cx="615.7" cy="372.6" r="4.25"/><circle cx="631.6" cy="504.6" r="4.25"/><circle cx="642.2" cy="405.0" r="4.25"/><circle cx="639.7" cy="470.7" r="4.25"/><circle cx="636.0" cy="435.2" r="4.25"/><circle cx="624.9" cy="379.6" r="4.25"/><circle cx="626.1" cy="462.8" r="4.25"/><circle cx="641.4" cy="399.3" r="4.25"/><circle cx="613.5" cy="374.1" r="4.25"/><circle cx="631.6" cy="387.9" r="4.25"/><circle cx="614.4" cy="373.9" r="4.25"/><circle cx="635.3" cy="371.9" r="4.25"/><circle cx="618.2" cy="488.8" r="4.25"/><circle cx="609.4" cy="405.1" r="4.25"/><circle cx="629.0" cy="595.2" r="4.25"/><circle cx="611.1" cy="384.7" r="4.25"/><circle cx="638.1" cy="468.9" r="4.25"/><circle cx="618.4" cy="377.6" r="4.25"/><circle cx="617.9" cy="485.6" r="4.25"/><circle cx="623.7" cy="348.3" r="4.25"/><circle cx="621.1" cy="307.9" r="4.25"/><circle cx="620.2" cy="373.1" r="4.25"/><circle cx="637.3" cy="381.7" r="4.25"/><circle cx="626.5" cy="421.8" r="4.25"/><circle cx="642.2" cy="461.3" r="4.25"/><circle cx="627.2" cy="362.6" r="4.25"/><circle cx="639.7" cy="432.1" r="4.25"/><circle cx="618.2" cy="470.3" r="4.25"/><circle cx="621.0" cy="378.7" r="4.25"/><circle cx="616.0" cy="413.0" r="4.25"/><circle cx="626.5" cy="338.0" r="4.25"/><circle cx="638.8" cy="396.9" r="4.25"/><circle cx="640.0" cy="346.4" r="4.25"/><circle cx="641.5" cy="514.0" r="4.25"/><circle cx="627.2" cy="324.4" r="4.25"/><circle cx="640.4" cy="428.4" r="4.25"/><circle cx="615.7" cy="439.4" r="4.25"/><circle cx="637.6" cy="350.2" r="4.25"/><circle cx="618.0" cy="426.5" r="4.25"/><circle cx="642.0" cy="436.0" r="4.25"/><circle cx="616.5" cy="432.6" r="4.25"/><circle cx="641.6" cy="400.2" r="4.25"/><circle cx="631.1" cy="381.4" r="4.25"/><circle cx="614.9" cy="373.6" r="4.25"/><circle cx="623.3" cy="385.7" r="4.25"/><circle cx="615.9" cy="411.8" r="4.25"/><circle cx="626.0" cy="375.7" r="4.25"/><circle cx="626.8" cy="331.8" r="4.25"/><circle cx="614.9" cy="480.3" r="4.25"/><circle cx="622.0" cy="377.3" r="4.25"/><circle cx="636.0" cy="402.2" r="4.25"/><circle cx="612.9" cy="413.9" r="4.25"/><circle cx="628.2" cy="417.8" r="4.25"/><circle cx="622.9" cy="427.5" r="4.25"/><circle cx="622.2" cy="435.5" r="4.25"/><circle cx="642.0" cy="482.2" r="4.25"/><circle cx="634.3" cy="419.1" r="4.25"/><circle cx="617.7" cy="390.3" r="4.25"/><circle cx="629.6" cy="397.2" r="4.25"/><circle cx="633.7" cy="491.9" r="4.25"/><circle cx="639.0" cy="368.0" r="4.25"/><circle cx="610.8" cy="393.3" r="4.25"/><circle cx="621.2" cy="379.6" r="4.25"/><circle cx="609.7" cy="302.7" r="4.25"/><circle cx="621.8" cy="409.4" r="4.25"/><circle cx="640.6" cy="298.9" r="4.25"/><circle cx="629.7" cy="378.5" r="4.25"/><circle cx="621.5" cy="434.3" r="4.25"/><circle cx="629.2" cy="348.6" r="4.25"/><circle cx="635.0" cy="462.5" r="4.25"/><circle cx="626.2" cy="386.2" r="4.25"/><circle cx="616.0" cy="399.8" r="4.25"/><circle cx="628.4" cy="438.9" r="4.25"/><circle cx="611.6" cy="465.5" r="4.25"/><circle cx="626.0" cy="391.3" r="4.25"/><circle cx="612.7" cy="335.5" r="4.25"/><circle cx="619.9" cy="354.1" r="4.25"/><circle cx="638.6" cy="472.7" r="4.25"/><circle cx="635.3" cy="387.2" r="4.25"/><circle cx="640.5" cy="325.6" r="4.25"/><circle cx="639.3" cy="367.1" r="4.25"/><circle cx="636.8" cy="396.2" r="4.25"/><circle cx="641.8" cy="400.7" r="4.25"/><circle cx="631.7" cy="366.4" r="4.25"/><circle cx="629.8" cy="425.3" r="4.25"/><circle cx="626.3" cy="490.7" r="4.25"/><circle cx="625.1" cy="420.6" r="4.25"/><circle cx="625.3" cy="345.0" r="4.25"/><circle cx="625.5" cy="467.5" r="4.25"/><circle cx="627.3" cy="480.8" r="4.25"/><circle cx="618.1" cy="457.5" r="4.25"/><circle cx="631.8" cy="373.9" r="4.25"/><circle cx="628.9" cy="405.5" r="4.25"/><circle cx="641.2" cy="397.3" r="4.25"/><circle cx="641.8" cy="443.3" r="4.25"/><circle cx="621.2" cy="366.7" r="4.25"/><circle cx="632.7" cy="496.0" r="4.25"/><circle cx="609.8" cy="514.5" r="4.25"/><circle cx="635.3" cy="321.4" r="4.25"/><circle cx="628.7" cy="338.9" r="4.25"/><circle cx="635.1" cy="367.9" r="4.25"/><circle cx="635.1" cy="478.6" r="4.25"/><circle cx="609.9" cy="500.6" r="4.25"/><circle cx="624.6" cy="407.4" r="4.25"/><circle cx="640.1" cy="428.4" r="4.25"/><circle cx="609.6" cy="462.0" r="4.25"/><circle cx="625.7" cy="312.4" r="4.25"/><circle cx="614.1" cy="322.4" r="4.25"/><circle cx="621.7" cy="379.3" r="4.25"/><circle cx="618.9" cy="335.8" r="4.25"/><circle cx="623.5" cy="360.0" r="4.25"/><circle cx="622.0" cy="451.5" r="4.25"/><circle cx="619.2" cy="343.9" r="4.25"/><circle cx="612.3" cy="345.3" r="4.25"/><circle cx="636.8" cy="314.5" r="4.25"/><circle cx="641.2" cy="461.6" r="4.25"/><circle cx="627.9" cy="359.1" r="4.25"/><circle cx="627.7" cy="352.4" r="4.25"/><circle cx="620.1" cy="466.1" r="4.25"/><circle cx="612.5" cy="356.6" r="4.25"/><circle cx="621.6" cy="389.5" r="4.25"/><circle cx="614.7" cy="383.9" r="4.25"/><circle cx="612.7" cy="386.9" r="4.25"/><circle cx="634.2" cy="326.2" r="4.25"/><circle cx="615.5" cy="329.4" r="4.25"/><circle cx="628.0" cy="404.1" r="4.25"/><circle cx="613.8" cy="410.2" r="4.25"/><circle cx="636.0" cy="381.5" r="4.25"/><circle cx="612.0" cy="376.5" r="4.25"/><circle cx="629.9" cy="326.6" r="4.25"/><circle cx="631.5" cy="452.1" r="4.25"/><circle cx="633.3" cy="417.4" r="4.25"/><circle cx="622.9" cy="343.4" r="4.25"/><circle cx="625.0" cy="377.1" r="4.25"/><circle cx="613.9" cy="347.5" r="4.25"/><circle cx="636.9" cy="339.3" r="4.25"/><circle cx="624.0" cy="430.5" r="4.25"/><circle cx="636.4" cy="419.0" r="4.25"/><circle cx="610.8" cy="357.2" r="4.25"/><circle cx="632.9" cy="388.4" r="4.25"/><circle cx="612.8" cy="399.6" r="4.25"/><circle cx="634.2" cy="401.8" r="4.25"/><circle cx="625.4" cy="507.1" r="4.25"/><circle cx="617.0" cy="361.2" r="4.25"/><circle cx="627.7" cy="503.8" r="4.25"/><circle cx="631.0" cy="400.0" r="4.25"/><circle cx="634.4" cy="460.2" r="4.25"/><circle cx="618.4" cy="491.1" r="4.25"/><circle cx="626.8" cy="391.5" r="4.25"/><circle cx="638.0" cy="427.6" r="4.25"/><circle cx="638.5" cy="372.8" r="4.25"/><circle cx="639.1" cy="370.1" r="4.25"/><circle cx="638.5" cy="422.9" r="4.25"/><circle cx="639.0" cy="291.6" r="4.25"/><circle cx="615.9" cy="330.8" r="4.25"/><circle cx="613.1" cy="416.6" r="4.25"/><circle cx="621.0" cy="383.6" r="4.25"/><circle cx="631.2" cy="442.0" r="4.25"/><circle cx="618.6" cy="344.4" r="4.25"/><circle cx="635.7" cy="370.9" r="4.25"/><circle cx="621.4" cy="262.6" r="4.25"/><circle cx="639.5" cy="433.7" r="4.25"/><circle cx="618.1" cy="431.6" r="4.25"/><circle cx="629.3" cy="460.8" r="4.25"/><circle cx="640.5" cy="403.3" r="4.25"/><circle cx="627.7" cy="371.3" r="4.25"/><circle cx="621.1" cy="415.5" r="4.25"/><circle cx="637.0" cy="476.4" r="4.25"/><circle cx="637.4" cy="404.3" r="4.25"/><circle cx="611.8" cy="378.1" r="4.25"/><circle cx="641.0" cy="424.3" r="4.25"/><circle cx="641.3" cy="499.0" r="4.25"/><circle cx="639.2" cy="473.9" r="4.25"/><circle cx="640.4" cy="401.8" r="4.25"/><circle cx="620.2" cy="387.3" r="4.25"/><circle cx="618.6" cy="440.8" r="4.25"/><circle cx="618.6" cy="412.0" r="4.25"/><circle cx="614.6" cy="414.7" r="4.25"/><circle cx="624.5" cy="289.3" r="4.25"/><circle cx="613.4" cy="502.4" r="4.25"/><circle cx="621.9" cy="409.8" r="4.25"/><circle cx="640.5" cy="398.3" r="4.25"/><circle cx="631.2" cy="454.2" r="4.25"/><circle cx="612.3" cy="365.6" r="4.25"/><circle cx="630.5" cy="393.7" r="4.25"/><circle cx="637.1" cy="456.8" r="4.25"/><circle cx="637.6" cy="389.9" r="4.25"/><circle cx="638.9" cy="337.1" r="4.25"/><circle cx="628.2" cy="374.3" r="4.25"/><circle cx="614.7" cy="434.6" r="4.25"/><circle cx="641.1" cy="386.1" r="4.25"/><circle cx="612.2" cy="388.7" r="4.25"/><circle cx="632.7" cy="383.2" r="4.25"/><circle cx="635.8" cy="419.6" r="4.25"/><circle cx="620.9" cy="341.9" r="4.25"/><circle cx="621.8" cy="381.8" r="4.25"/><circle cx="640.6" cy="355.7" r="4.25"/><circle cx="617.2" cy="385.2" r="4.25"/><circle cx="629.8" cy="406.1" r="4.25"/><circle cx="630.1" cy="454.4" r="4.25"/><circle cx="642.4" cy="379.2" r="4.25"/><circle cx="618.1" cy="327.4" r="4.25"/><circle cx="642.8" cy="386.7" r="4.25"/><circle cx="622.2" cy="415.6" r="4.25"/><circle cx="619.5" cy="439.4" r="4.25"/><circle cx="624.5" cy="364.9" r="4.25"/><circle cx="628.7" cy="392.7" r="4.25"/><circle cx="612.4" cy="364.5" r="4.25"/><circle cx="617.7" cy="351.9" r="4.25"/><circle cx="625.4" cy="383.2" r="4.25"/><circle cx="639.4" cy="394.8" r="4.25"/><circle cx="633.4" cy="426.7" r="4.25"/><circle cx="634.6" cy="396.7" r="4.25"/><circle cx="609.2" cy="430.2" r="4.25"/><circle cx="625.0" cy="384.2" r="4.25"/><circle cx="612.7" cy="453.3" r="4.25"/><circle cx="627.9" cy="406.0" r="4.25"/><circle cx="635.7" cy="387.3" r="4.25"/><circle cx="637.2" cy="387.7" r="4.25"/><circle cx="641.8" cy="400.8" r="4.25"/><circle cx="640.2" cy="386.5" r="4.25"/><circle cx="641.6" cy="255.1" r="4.25"/><circle cx="630.5" cy="505.7" r="4.25"/><circle cx="639.3" cy="334.0" r="4.25"/><circle cx="627.2" cy="426.8" r="4.25"/><circle cx="609.4" cy="340.4" r="4.25"/><circle cx="625.5" cy="372.0" r="4.25"/><circle cx="638.6" cy="362.2" r="4.25"/><circle cx="629.0" cy="489.2" r="4.25"/><circle cx="632.0" cy="367.2" r="4.25"/><circle cx="626.1" cy="360.2" r="4.25"/><circle cx="613.0" cy="381.8" r="4.25"/><circle cx="615.5" cy="349.8" r="4.25"/><circle cx="634.7" cy="357.9" r="4.25"/><circle cx="624.6" cy="416.9" r="4.25"/><circle cx="621.4" cy="294.5" r="4.25"/><circle cx="630.5" cy="386.8" r="4.25"/><circle cx="636.8" cy="315.5" r="4.25"/><circle cx="641.2" cy="332.4" r="4.25"/><circle cx="637.6" cy="489.9" r="4.25"/><circle cx="623.1" cy="349.1" r="4.25"/></g></g>
<g fill="none" stroke="#000" stroke-width="3.0"><rect x="146.90" y="372.20" width="56.40" height="51.00"/><path d="M146.90 397.00H203.30M175.10 372.20V305.30M175.10 423.20V489.70M159.50 305.30H190.70M159.50 489.70H190.70"/><rect x="259.65" y="403.70" width="56.40" height="71.90"/><path d="M259.65 439.00H316.05M287.85 403.70V330.70M287.85 475.60V558.50M272.25 330.70H303.45M272.25 558.50H303.45"/><rect x="372.40" y="368.80" width="56.40" height="77.20"/><path d="M372.40 407.80H428.80M400.60 368.80V290.80M400.60 446.00V521.50M385.00 290.80H416.20M385.00 521.50H416.20"/><rect x="485.15" y="389.00" width="56.40" height="62.00"/><path d="M485.15 413.40H541.55M513.35 389.00V308.60M513.35 451.00V556.00M497.75 308.60H528.95M497.75 556.00H528.95"/><rect x="597.90" y="367.10" width="56.40" height="61.60"/><path d="M597.90 392.20H654.30M626.10 367.10V300.00M626.10 428.70V501.60M610.50 300.00H641.70M610.50 501.60H641.70"/></g>
<g fill="#000"><circle cx="175.10" cy="397.30" r="4.5"/><circle cx="287.85" cy="440.10" r="4.5"/><circle cx="400.60" cy="408.10" r="4.5"/><circle cx="513.35" cy="417.90" r="4.5"/><circle cx="626.10" cy="397.60" r="4.5"/></g>
<path d="M175.10 155.50H287.85" stroke="#303030" stroke-width="3" stroke-linecap="square"/><text x="231.48" y="148.20" font-size="22.99" text-anchor="middle" textLength="93.87" lengthAdjust="spacingAndGlyphs">P≤1e-16</text><path d="M287.85 115.50H400.60" stroke="#303030" stroke-width="3" stroke-linecap="square"/><text x="344.23" y="108.20" font-size="22.99" text-anchor="middle" textLength="93.87" lengthAdjust="spacingAndGlyphs">P≤1e-16</text><path d="M287.85 72.30H513.35" stroke="#303030" stroke-width="3" stroke-linecap="square"/><text x="400.60" y="65.00" font-size="22.99" text-anchor="middle" textLength="128.38" lengthAdjust="spacingAndGlyphs">P=4.74e-07</text><path d="M287.85 25.40H626.10" stroke="#303030" stroke-width="3" stroke-linecap="square"/><text x="456.98" y="18.10" font-size="22.99" text-anchor="middle" textLength="93.87" lengthAdjust="spacingAndGlyphs">P≤1e-16</text>
<path d="M119.00 169.00V615.90H682.60" fill="none" stroke="#1a1a1a" stroke-width="1.9" stroke-linecap="square"/><path d="M109.6 595.50H119M109.6 514.10H119M109.6 432.70H119M109.6 351.30H119M109.6 269.90H119M109.6 188.50H119M175.10 615.90V624.6M287.85 615.90V624.6M400.60 615.90V624.6M513.35 615.90V624.6M626.10 615.90V624.6" stroke="#1a1a1a" stroke-width="1.7"/><text x="105.60" y="604.50" font-size="22.99" text-anchor="end" textLength="34.51" lengthAdjust="spacingAndGlyphs">0.0</text><text x="105.60" y="523.10" font-size="22.99" text-anchor="end" textLength="34.51" lengthAdjust="spacingAndGlyphs">0.2</text><text x="105.60" y="441.70" font-size="22.99" text-anchor="end" textLength="34.51" lengthAdjust="spacingAndGlyphs">0.4</text><text x="105.60" y="360.30" font-size="22.99" text-anchor="end" textLength="34.51" lengthAdjust="spacingAndGlyphs">0.6</text><text x="105.60" y="278.90" font-size="22.99" text-anchor="end" textLength="34.51" lengthAdjust="spacingAndGlyphs">0.8</text><text x="105.60" y="197.50" font-size="22.99" text-anchor="end" textLength="34.51" lengthAdjust="spacingAndGlyphs">1.0</text>
<g transform="translate(36.9 391.6) rotate(-90)"><text x="0.00" y="0.00" font-size="22.68" text-anchor="middle" textLength="203.99" lengthAdjust="spacingAndGlyphs">Proportion of reads</text><text x="0.00" y="24.80" font-size="22.68" text-anchor="middle" textLength="152.98" lengthAdjust="spacingAndGlyphs">with ALT allele</text></g>
<g transform="translate(175.10 627.60) rotate(-45)"><text x="0.00" y="16.42" font-size="22.89" text-anchor="end" textLength="248.38" lengthAdjust="spacingAndGlyphs">Synonymous (full CDS)</text><text x="0.00" y="41.02" font-size="22.89" text-anchor="end" textLength="112.95" lengthAdjust="spacingAndGlyphs">(N=5,120)</text></g><g transform="translate(287.85 627.60) rotate(-45)"><text x="0.00" y="16.42" font-size="22.89" text-anchor="end" textLength="253.53" lengthAdjust="spacingAndGlyphs">Nonsense (NMD target)</text><text x="0.00" y="41.02" font-size="22.89" text-anchor="end" textLength="112.95" lengthAdjust="spacingAndGlyphs">(N=2,325)</text></g><g transform="translate(400.60 627.60) rotate(-45)"><text x="0.00" y="16.42" font-size="22.89" text-anchor="end" textLength="280.46" lengthAdjust="spacingAndGlyphs">Nonsense (start proximal)</text><text x="0.00" y="41.02" font-size="22.89" text-anchor="end" textLength="92.34" lengthAdjust="spacingAndGlyphs">(N=333)</text></g><g transform="translate(513.35 627.60) rotate(-45)"><text x="0.00" y="16.42" font-size="22.89" text-anchor="end" textLength="234.97" lengthAdjust="spacingAndGlyphs">Nonsense (long exon)</text><text x="0.00" y="41.02" font-size="22.89" text-anchor="end" textLength="92.34" lengthAdjust="spacingAndGlyphs">(N=168)</text></g><g transform="translate(626.10 627.60) rotate(-45)"><text x="0.00" y="16.42" font-size="22.89" text-anchor="end" textLength="188.23" lengthAdjust="spacingAndGlyphs">Nonsense (distal)</text><text x="0.00" y="41.02" font-size="22.89" text-anchor="end" textLength="92.34" lengthAdjust="spacingAndGlyphs">(N=924)</text></g>
</svg>
</body></html>
